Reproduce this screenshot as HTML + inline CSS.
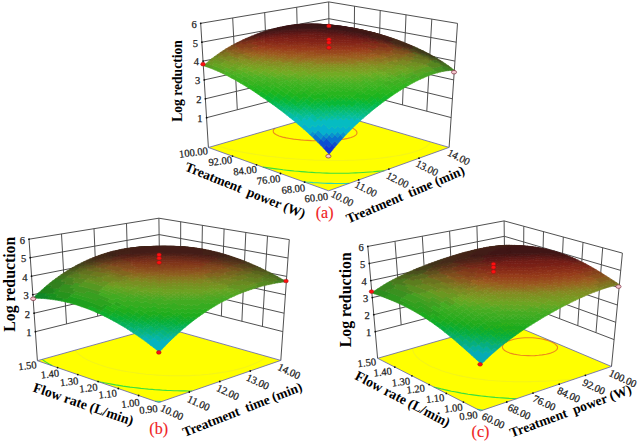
<!DOCTYPE html><html><head><meta charset="utf-8"><style>
html,body{margin:0;padding:0;background:#fff;width:637px;height:441px;overflow:hidden}
svg{display:block}
text{font-family:"Liberation Serif",serif}
</style></head><body>
<svg width="637" height="441" viewBox="0 0 637 441">
<path d="M206.6,117.7L329.6,85.8L451.2,117.6M205.4,98.8L329.4,69L452.4,98.8M204.3,79.9L329.2,52.2L453.7,79.9M203.1,61.1L329,35.4L455,61.1M201.9,42.2L328.9,18.7L456.3,42.2M200.7,23.3L328.7,1.9L457.5,23.4M237.3,109.7L232.7,18M268.1,101.7L264.7,12.6M298.8,93.7L296.7,7.3M426.8,111.2L431.8,19.1M402.5,104.9L406,14.8M378.2,98.5L380.2,10.5M353.9,92.1L354.5,6.2M208.4,147.5L200.7,23.3M329.8,112.3L328.7,1.9M449.1,147.4L457.5,23.4" stroke="#474747" stroke-width="0.95" fill="none"/>
<polygon points="328.6,190.8 449.1,147.4 329.8,112.3 208.4,147.5" fill="#ffff00"/>
<polyline points="349.2,183.4 345.6,183.5 342.1,183.5 338.5,183.5 334.8,183.5 331.1,183.4 327.7,183.4 324.4,183.2 320.2,183 317.1,182.8 313.1,182.6 309.8,182.3 306.2,182 303.5,181.7" fill="none" stroke="#28d8b0" stroke-width="1.1"/>
<polyline points="384.5,170.7 381,171 377.1,171.4 373.3,171.8 370.2,172 366.1,172.3 363,172.5 358.9,172.8 355.5,172.9 352.2,173 348.3,173.2 344.6,173.2 340.9,173.3 337.3,173.3 333.8,173.2 330.4,173.2 326.8,173.1 322.8,173 319.4,172.8 316,172.7 312,172.4 308.7,172.2 304.9,171.9 301.1,171.6 298,171.3 294.2,171 290.4,170.6 286.7,170.2 283,169.8 279.5,169.3 276,168.9 272.3,168.4 268.6,167.9 265,167.4 262.8,167.1" fill="none" stroke="#3ce03c" stroke-width="1.1"/>
<polyline points="429.8,141.7 429.6,142.8 428.9,144.1 428,145.2 426.5,146.5 424.8,147.6 422.4,148.8 419.1,150.2 415.4,151.5 411.4,152.7 407.9,153.6 404.2,154.4 401,155.1 397.1,155.8 393.7,156.3 390,156.9 386.2,157.4 382.6,157.9 379.2,158.3 375.7,158.7 371.8,159 368.1,159.3 364.8,159.6 360.9,159.8 357.5,160 354,160.2 350,160.3 346.4,160.4 343,160.5 339.5,160.5 335.9,160.5 332.2,160.5 328.5,160.5 324.7,160.4 321.3,160.3 317.9,160.2 314.1,160.1 310.4,159.9 307.1,159.7 303.1,159.5 299.9,159.3 296,159 292.4,158.7 289.1,158.4 285.2,158.1 281.4,157.7 277.9,157.3 274.5,156.9 271,156.5 267.4,156.1 263.7,155.6 259.9,155 256.1,154.5 252.7,153.9 249.3,153.4 245.2,152.7 242,152.1 238.1,151.3 234.8,150.6 231.3,149.8 227.6,148.9 224,147.9 220.2,146.8 216.4,145.5 215.9,145.3" fill="none" stroke="#f4f418" stroke-width="1.1"/>
<polyline points="299,121.2 302.8,120.8 306.2,120.6 310.3,120.4 313.8,120.4 317.5,120.5 320.6,120.6 324.5,120.9 328,121.3 331.5,121.8 335.1,122.4 338.7,123.1 342.6,124.1 346.1,125.2 349.1,126.3 351.5,127.5 353.3,128.5 355,129.6 356.1,130.7 356.8,131.8 357,132.9 356.7,134.1 355.8,135.1 353.7,136.4 351,137.5 347.8,138.4 344,139.1 340.4,139.7 336.7,140.1 333.3,140.3 329.2,140.6 326,140.7 322.5,140.8 318.8,140.8 315.3,140.7 311.4,140.6 307.7,140.4 304.3,140.2 300.7,139.9 297,139.5 293.5,139.1 289.8,138.5 286.3,137.9 282.7,137.1 279,135.9 276.4,134.8 274.4,133.5 273.5,132.4 273.2,131.3 273.4,130.1 274.1,129.2 275.3,128.1 275.3,128.1" fill="none" stroke="#ec8a1c" stroke-width="1.1"/>
<polygon points="328.6,190.8 449.1,147.4 329.8,112.3 208.4,147.5" fill="none" stroke="#6060a8" stroke-width="0.8"/>
<circle cx="206.6" cy="117.7" r="0.9" fill="#111"/>
<circle cx="205.4" cy="98.8" r="0.9" fill="#111"/>
<circle cx="204.3" cy="79.9" r="0.9" fill="#111"/>
<circle cx="203.1" cy="61.1" r="0.9" fill="#111"/>
<circle cx="201.9" cy="42.2" r="0.9" fill="#111"/>
<circle cx="200.7" cy="23.3" r="0.9" fill="#111"/>
<circle cx="358.7" cy="179.9" r="0.9" fill="#111"/>
<circle cx="388.9" cy="169.1" r="0.9" fill="#111"/>
<circle cx="419" cy="158.2" r="0.9" fill="#111"/>
<circle cx="304.6" cy="182.1" r="0.9" fill="#111"/>
<circle cx="280.5" cy="173.5" r="0.9" fill="#111"/>
<circle cx="256.5" cy="164.8" r="0.9" fill="#111"/>
<circle cx="232.5" cy="156.1" r="0.9" fill="#111"/>
<path d="M329.1 154.3l2.8-3.5-2.8-3.1-2.8 3.5zM326.3 151.2l2.8-3.5-2.7-3-2.8 3.5zM331.9 150.8l2.8-3.5-2.7-3.1-2.9 3.5z" fill="#0f36d2" stroke="#0f36d2" stroke-width="0.6"/>
<path d="M323.6 148.2l2.8-3.5-2.8-2.9-2.8 3.5zM320.8 145.3l2.8-3.5-2.8-2.9-2.8 3.6zM329.1 147.7l2.9-3.5-2.8-3-2.8 3.5zM326.4 144.7l2.8-3.5-2.8-2.9-2.8 3.5zM334.7 147.3l2.9-3.3-2.8-3.1-2.8 3.3z" fill="#0c4ed2" stroke="#0c4ed2" stroke-width="0.6"/>
<path d="M318 142.5l2.8-3.6-2.8-2.7-2.8 3.5zM315.2 139.7l2.8-3.5-2.8-2.7-2.8 3.5zM323.6 141.8l2.8-3.5-2.8-2.8-2.8 3.4zM332 144.2l2.8-3.3-2.8-3-2.8 3.3zM329.2 141.2l2.8-3.3-2.8-2.9-2.8 3.3zM337.6 144l2.8-3.2-2.8-3.1-2.8 3.2zM334.8 140.9l2.8-3.2-2.8-3-2.8 3.2zM340.4 140.8l2.8-3.1-2.8-3.1-2.8 3.1z" fill="#0972d2" stroke="#0972d2" stroke-width="0.6"/>
<path d="M312.4 137l2.8-3.5-2.8-2.6-2.8 3.5zM320.8 138.9l2.8-3.4-2.8-2.7-2.8 3.4zM318 136.2l2.8-3.4-2.8-2.7-2.8 3.4zM326.4 138.3l2.8-3.3-2.8-2.8-2.8 3.3zM332 137.9l2.8-3.2-2.7-2.9-2.9 3.2zM337.6 137.7l2.8-3.1-2.7-3-2.9 3.1zM343.2 137.7l2.9-3.1-2.8-3-2.9 3z" fill="#0792d1" stroke="#0792d1" stroke-width="0.6"/>
<path d="M309.6 134.4l2.8-3.5-2.8-2.6-2.8 3.5zM306.8 131.8l2.8-3.5-2.8-2.5-2.8 3.5zM304 129.3l2.8-3.5-2.8-2.4-2.8 3.5zM315.2 133.5l2.8-3.4-2.8-2.6-2.8 3.4zM312.4 130.9l2.8-3.4-2.8-2.6-2.8 3.4zM323.6 135.5l2.8-3.3-2.8-2.7-2.8 3.3zM320.8 132.8l2.8-3.3-2.8-2.7-2.8 3.3zM318 130.1l2.8-3.3-2.8-2.6-2.8 3.3zM329.2 135l2.9-3.2-2.8-2.8-2.9 3.2zM326.4 132.2l2.9-3.2-2.8-2.7-2.9 3.2zM323.6 129.5l2.9-3.2-2.8-2.7-2.9 3.2zM334.8 134.7l2.9-3.1-2.8-2.9-2.8 3.1zM332.1 131.8l2.8-3.1-2.8-2.8-2.8 3.1zM340.4 134.6l2.9-3-2.8-3-2.8 3zM337.7 131.6l2.8-3-2.8-2.9-2.8 3zM346.1 134.6l2.8-2.9-2.8-3-2.8 2.9zM343.3 131.6l2.8-2.9-2.8-3-2.8 2.9zM348.9 131.7l2.8-2.8-2.7-3.1-2.9 2.9z" fill="#05b1cf" stroke="#05b1cf" stroke-width="0.6"/>
<path d="M301.2 126.9l2.8-3.5-2.9-2.4-2.8 3.5zM298.3 124.5l2.8-3.5-2.8-2.4-2.8 3.5zM295.5 122.1l2.8-3.5-2.8-2.3-2.8 3.5zM309.6 128.3l2.8-3.4-2.8-2.5-2.8 3.4zM306.8 125.8l2.8-3.4-2.8-2.4-2.8 3.4zM304 123.4l2.8-3.4-2.9-2.4-2.8 3.4zM315.2 127.5l2.8-3.3-2.8-2.5-2.8 3.2zM312.4 124.9l2.8-3.2-2.8-2.5-2.8 3.2zM309.6 122.4l2.8-3.2-2.8-2.4-2.8 3.2zM320.8 126.8l2.9-3.2-2.8-2.6-2.9 3.2zM318 124.2l2.9-3.2-2.9-2.5-2.8 3.2zM329.3 129l2.8-3.1-2.8-2.7-2.8 3.1zM326.5 126.3l2.8-3.1-2.8-2.6-2.8 3zM323.7 123.6l2.8-3-2.8-2.6-2.8 3zM334.9 128.7l2.8-3-2.8-2.8-2.8 3zM332.1 125.9l2.8-3-2.8-2.7-2.8 3zM329.3 123.2l2.8-3-2.8-2.6-2.8 3zM340.5 128.6l2.8-2.9-2.7-2.9-2.9 2.9zM337.7 125.7l2.9-2.9-2.8-2.7-2.9 2.8zM334.9 122.9l2.9-2.8-2.8-2.7-2.9 2.8zM346.1 128.7l2.9-2.9-2.8-2.9-2.9 2.8zM343.3 125.7l2.9-2.8-2.8-2.9-2.8 2.8zM340.6 122.8l2.8-2.8-2.8-2.8-2.8 2.9zM351.7 128.9l2.9-2.8-2.8-3-2.8 2.7zM349 125.8l2.8-2.7-2.8-3-2.8 2.8zM346.2 122.9l2.8-2.8-2.8-2.8-2.8 2.7zM354.6 126.1l2.8-2.7-2.7-3-2.9 2.7zM351.8 123.1l2.9-2.7-2.8-2.9-2.9 2.6zM357.4 123.4l2.9-2.6-2.8-3-2.8 2.6z" fill="#05bcc2" stroke="#05bcc2" stroke-width="0.6"/>
<path d="M292.7 119.8l2.8-3.5-2.9-2.3-2.8 3.5zM289.8 117.5l2.8-3.5-2.8-2.2-2.8 3.4zM301.1 121l2.8-3.4-2.8-2.3-2.8 3.3zM298.3 118.6l2.8-3.3-2.8-2.3-2.8 3.3zM306.8 120l2.8-3.2-2.8-2.4-2.9 3.2zM315.2 121.7l2.8-3.2-2.8-2.4-2.8 3.1zM312.4 119.2l2.8-3.1-2.8-2.5-2.8 3.2zM320.9 121l2.8-3-2.8-2.5-2.9 3zM326.5 120.6l2.8-3-2.8-2.6-2.8 3zM332.1 120.2l2.9-2.8-2.8-2.7-2.9 2.9zM337.8 120.1l2.8-2.9-2.8-2.6-2.8 2.8zM343.4 120l2.8-2.7-2.7-2.8-2.9 2.7zM349 120.1l2.9-2.6-2.8-2.9-2.9 2.7zM354.7 120.4l2.8-2.6-2.8-2.9-2.8 2.6zM360.3 120.8l2.8-2.5-2.7-3-2.9 2.5z" fill="#05bda4" stroke="#05bda4" stroke-width="0.6"/>
<path d="M287 115.2l2.8-3.4-2.9-2.2-2.8 3.4zM295.5 116.3l2.8-3.3-2.9-2.3-2.8 3.3zM303.9 117.6l2.9-3.2-2.9-2.3-2.8 3.2zM309.6 116.8l2.8-3.2-2.8-2.3-2.8 3.1zM318 118.5l2.9-3-2.9-2.5-2.8 3.1zM323.7 118l2.8-3-2.8-2.5-2.8 3zM329.3 117.6l2.9-2.9-2.8-2.5-2.9 2.8zM335 117.4l2.8-2.8-2.8-2.6-2.8 2.7zM340.6 117.2l2.9-2.7-2.8-2.6-2.9 2.7zM346.2 117.3l2.9-2.7-2.8-2.7-2.8 2.6zM351.9 117.5l2.8-2.6-2.8-2.8-2.8 2.5zM357.5 117.8l2.9-2.5-2.8-2.9-2.9 2.5zM363.1 118.3l2.9-2.5-2.8-3-2.8 2.5z" fill="#05bd8f" stroke="#05bd8f" stroke-width="0.6"/>
<path d="M284.1 113l2.8-3.4-2.8-2.2-2.8 3.4zM292.6 114l2.8-3.3-2.8-2.2-2.8 3.3zM301.1 115.3l2.8-3.2-2.8-2.3-2.8 3.2zM306.8 114.4l2.8-3.1-2.9-2.3-2.8 3.1zM315.2 116.1l2.8-3.1-2.8-2.4-2.8 3zM320.9 115.5l2.8-3-2.8-2.4-2.9 2.9zM326.5 115l2.9-2.8-2.9-2.5-2.8 2.8zM332.2 114.7l2.8-2.7-2.8-2.6-2.8 2.8zM337.8 114.6l2.9-2.7-2.9-2.6-2.8 2.7zM343.5 114.5l2.8-2.6-2.8-2.7-2.8 2.7zM349.1 114.6l2.8-2.5-2.8-2.8-2.8 2.6zM354.7 114.9l2.9-2.5-2.8-2.8-2.9 2.5zM360.4 115.3l2.8-2.5-2.8-2.9-2.8 2.5zM366 115.8l2.8-2.4-2.7-3-2.9 2.4z" fill="#05bc7d" stroke="#05bc7d" stroke-width="0.6"/>
<path d="M281.3 110.8l2.8-3.4-2.9-2.1-2.8 3.4zM289.8 111.8l2.8-3.3-2.9-2.2-2.8 3.3zM298.3 113l2.8-3.2-2.9-2.2-2.8 3.1zM303.9 112.1l2.8-3.1-2.8-2.3-2.8 3.1zM312.4 113.6l2.8-3-2.8-2.3-2.8 3zM318 113l2.9-2.9-2.9-2.4-2.8 2.9zM363.2 112.8l2.9-2.4-2.8-2.9-2.9 2.4zM368.8 113.4l2.9-2.4-2.8-3-2.8 2.4z" fill="#05b970" stroke="#05b970" stroke-width="0.6"/>
<path d="M278.4 108.7l2.8-3.4-2.8-2.1-2.8 3.3zM286.9 109.6l2.8-3.3-2.8-2.1-2.8 3.2zM295.4 110.7l2.8-3.1-2.8-2.2-2.8 3.1zM309.6 111.3l2.8-3-2.9-2.3-2.8 3zM323.7 112.5l2.8-2.8-2.8-2.4-2.8 2.8zM329.4 112.2l2.8-2.8-2.8-2.5-2.9 2.8zM335 112l2.8-2.7-2.8-2.6-2.8 2.7zM340.7 111.9l2.8-2.7-2.8-2.6-2.9 2.7zM346.3 111.9l2.8-2.6-2.8-2.6-2.8 2.5zM351.9 112.1l2.9-2.5-2.8-2.8-2.9 2.5zM357.6 112.4l2.8-2.5-2.8-2.8-2.8 2.5zM371.7 111l2.8-2.3-2.7-3-2.9 2.3z" fill="#05bb64" stroke="#05bb64" stroke-width="0.6"/>
<path d="M275.6 106.5l2.8-3.3-2.9-2.1-2.8 3.3zM284.1 107.4l2.8-3.2-2.9-2.1-2.8 3.2zM292.6 108.5l2.8-3.1-2.9-2.2-2.8 3.1zM301.1 109.8l2.8-3.1-2.9-2.2-2.8 3.1zM306.7 109l2.8-3-2.8-2.2-2.8 2.9zM315.2 110.6l2.8-2.9-2.8-2.3-2.8 2.9zM320.9 110.1l2.8-2.8-2.8-2.4-2.9 2.8zM326.5 109.7l2.9-2.8-2.9-2.4-2.8 2.8zM332.2 109.4l2.8-2.7-2.8-2.4-2.8 2.6zM337.8 109.3l2.9-2.7-2.8-2.5-2.9 2.6zM343.5 109.2l2.8-2.5-2.8-2.6-2.8 2.5zM349.1 109.3l2.9-2.5-2.8-2.6-2.9 2.5zM354.8 109.6l2.8-2.5-2.7-2.7-2.9 2.4zM360.4 109.9l2.9-2.4-2.8-2.8-2.9 2.4zM366.1 110.4l2.8-2.4-2.8-2.8-2.8 2.3zM374.5 108.7l2.9-2.3-2.8-2.9-2.8 2.2z" fill="#05ba55" stroke="#05ba55" stroke-width="0.6"/>
<path d="M272.7 104.4l2.8-3.3-2.9-2-2.7 3.3zM281.2 105.3l2.8-3.2-2.8-2.1-2.8 3.2zM289.7 106.3l2.8-3.1-2.8-2.1-2.8 3.1zM298.2 107.6l2.8-3.1-2.8-2.2-2.8 3.1zM303.9 106.7l2.8-2.9-2.8-2.2-2.9 2.9zM312.4 108.3l2.8-2.9-2.8-2.3-2.9 2.9zM318 107.7l2.9-2.8-2.9-2.3-2.8 2.8zM323.7 107.3l2.8-2.8-2.8-2.3-2.8 2.7zM357.6 107.1l2.9-2.4-2.8-2.7-2.8 2.4zM363.3 107.5l2.8-2.3-2.7-2.8-2.9 2.3zM368.9 108l2.9-2.3-2.8-2.8-2.9 2.3zM377.4 106.4l2.9-2.2-2.8-2.9-2.9 2.2z" fill="#05b847" stroke="#05b847" stroke-width="0.6"/>
<path d="M269.9 102.4l2.7-3.3-2.8-2-2.8 3.2zM267 100.3l2.8-3.2-2.9-2-2.8 3.2zM278.4 103.2l2.8-3.2-2.9-2-2.8 3.1zM275.5 101.1l2.8-3.1-2.9-2.1-2.8 3.2zM286.9 104.2l2.8-3.1-2.9-2.1-2.8 3.1zM284 102.1l2.8-3.1-2.9-2.1-2.7 3.1zM295.4 105.4l2.8-3.1-2.9-2.1-2.8 3zM292.5 103.2l2.8-3-2.8-2.1-2.8 3zM301 104.5l2.9-2.9-2.9-2.2-2.8 2.9zM309.5 106l2.9-2.9-2.9-2.2-2.8 2.9zM306.7 103.8l2.8-2.9-2.8-2.2-2.8 2.9zM315.2 105.4l2.8-2.8-2.8-2.3-2.8 2.8zM320.9 104.9l2.8-2.7-2.8-2.3-2.9 2.7zM329.4 106.9l2.8-2.6-2.8-2.4-2.9 2.6zM326.5 104.5l2.9-2.6-2.9-2.3-2.8 2.6zM335 106.7l2.9-2.6-2.8-2.4-2.9 2.6zM332.2 104.3l2.9-2.6-2.9-2.4-2.8 2.6zM340.7 106.6l2.8-2.5-2.8-2.5-2.8 2.5zM337.9 104.1l2.8-2.5-2.8-2.4-2.8 2.5zM346.3 106.7l2.9-2.5-2.8-2.5-2.9 2.4zM343.5 104.1l2.9-2.4-2.8-2.5-2.9 2.4zM352 106.8l2.9-2.4-2.9-2.6-2.8 2.4zM349.2 104.2l2.8-2.4-2.8-2.5-2.8 2.4zM354.9 104.4l2.8-2.4-2.8-2.6-2.9 2.4zM360.5 104.7l2.9-2.3-2.8-2.7-2.9 2.3zM366.1 105.2l2.9-2.3-2.8-2.7-2.8 2.2zM371.8 105.7l2.8-2.2-2.7-2.8-2.9 2.2zM374.6 103.5l2.9-2.2-2.8-2.8-2.8 2.2zM380.3 104.2l2.8-2.1-2.7-2.9-2.9 2.1z" fill="#08b837" stroke="#08b837" stroke-width="0.6"/>
<path d="M264.1 98.3l2.8-3.2-2.9-2-2.8 3.3zM261.2 96.4l2.8-3.3-2.9-1.9-2.7 3.2zM272.6 99.1l2.8-3.2-2.9-2-2.7 3.2zM269.8 97.1l2.7-3.2-2.8-1.9-2.8 3.1zM281.2 100l2.7-3.1-2.8-2-2.8 3.1zM278.3 98l2.8-3.1-2.9-2-2.8 3zM289.7 101.1l2.8-3-2.9-2.1-2.8 3zM286.8 99l2.8-3-2.9-2-2.8 2.9zM298.2 102.3l2.8-2.9-2.9-2.1-2.8 2.9zM295.3 100.2l2.8-2.9-2.8-2.1-2.8 2.9zM303.9 101.6l2.8-2.9-2.9-2.1-2.8 2.8zM312.4 103.1l2.8-2.8-2.8-2.2-2.9 2.8zM309.5 100.9l2.9-2.8-2.9-2.1-2.8 2.7zM318 102.6l2.9-2.7-2.9-2.2-2.8 2.6zM323.7 102.2l2.8-2.6-2.8-2.3-2.8 2.6zM329.4 101.9l2.8-2.6-2.8-2.3-2.9 2.6zM335.1 101.7l2.8-2.5-2.8-2.4-2.9 2.5zM340.7 101.6l2.9-2.4-2.9-2.4-2.8 2.4zM346.4 101.7l2.8-2.4-2.8-2.5-2.8 2.4zM352 101.8l2.9-2.4-2.8-2.5-2.9 2.4zM357.7 102l2.9-2.3-2.8-2.5-2.9 2.2zM363.4 102.4l2.8-2.2-2.8-2.7-2.8 2.2zM369 102.9l2.9-2.2-2.8-2.7-2.9 2.2zM371.9 100.7l2.8-2.2-2.8-2.7-2.8 2.2zM377.5 101.3l2.9-2.1-2.8-2.8-2.9 2.1zM383.1 102.1l2.9-2.1-2.8-2.9-2.8 2.1zM386 100l2.9-2-2.8-2.9-2.9 2z" fill="#12b629" stroke="#12b629" stroke-width="0.6"/>
<path d="M258.4 94.4l2.7-3.2-2.9-1.9-2.7 3.2zM255.5 92.5l2.7-3.2-2.9-1.8-2.7 3.1zM266.9 95.1l2.8-3.1-2.9-1.9-2.8 3zM264 93.1l2.8-3-2.9-1.9-2.8 3zM275.4 95.9l2.8-3-2.9-2-2.8 3zM272.5 93.9l2.8-3-2.9-1.9-2.7 3zM283.9 96.9l2.8-2.9-2.8-2-2.8 2.9zM281.1 94.9l2.8-2.9-2.9-2-2.8 2.9zM292.5 98.1l2.8-2.9-2.9-2.1-2.8 2.9zM289.6 96l2.8-2.9-2.8-2-2.9 2.9zM301 99.4l2.8-2.8-2.8-2.1-2.9 2.8zM298.1 97.3l2.9-2.8-2.9-2.1-2.8 2.8zM306.7 98.7l2.8-2.7-2.9-2.2-2.8 2.8zM303.8 96.6l2.8-2.8-2.8-2-2.8 2.7zM315.2 100.3l2.8-2.6-2.8-2.2-2.8 2.6zM312.4 98.1l2.8-2.6-2.9-2.2-2.8 2.7zM320.9 99.9l2.8-2.6-2.8-2.2-2.9 2.6zM318 97.7l2.9-2.6-2.9-2.2-2.8 2.6zM326.5 99.6l2.9-2.6-2.8-2.3-2.9 2.6zM323.7 97.3l2.9-2.6-2.9-2.2-2.8 2.6zM332.2 99.3l2.9-2.5-2.9-2.3-2.8 2.5zM337.9 99.2l2.8-2.4-2.8-2.4-2.8 2.4zM343.6 99.2l2.8-2.4-2.8-2.4-2.9 2.4zM349.2 99.3l2.9-2.4-2.8-2.4-2.9 2.3zM354.9 99.4l2.9-2.2-2.8-2.5-2.9 2.2zM360.6 99.7l2.8-2.2-2.8-2.6-2.8 2.3zM357.8 97.2l2.8-2.3-2.8-2.4-2.8 2.2zM366.2 100.2l2.9-2.2-2.8-2.7-2.9 2.2zM363.4 97.5l2.9-2.2-2.8-2.5-2.9 2.1zM369.1 98l2.8-2.2-2.8-2.6-2.8 2.1zM374.7 98.5l2.9-2.1-2.8-2.7-2.9 2.1zM380.4 99.2l2.8-2.1-2.7-2.7-2.9 2zM377.6 96.4l2.9-2-2.8-2.7-2.9 2zM383.2 97.1l2.9-2-2.8-2.7-2.8 2zM388.9 98l2.8-2-2.7-2.9-2.9 2zM391.7 96l2.9-2-2.8-2.8-2.8 1.9z" fill="#1db51e" stroke="#1db51e" stroke-width="0.6"/>
<path d="M252.6 90.6l2.7-3.1-2.8-1.9-2.8 3.1zM249.7 88.7l2.8-3.1-2.9-1.7-2.8 3zM261.1 91.2l2.8-3-2.9-1.9-2.8 3zM258.2 89.3l2.8-3-2.9-1.8-2.8 3zM269.7 92l2.7-3-2.8-1.9-2.8 3zM266.8 90.1l2.8-3-2.9-1.9-2.8 3zM278.2 92.9l2.8-2.9-2.9-1.9-2.8 2.8zM275.3 90.9l2.8-2.8-2.9-1.9-2.8 2.8zM286.7 94l2.9-2.9-2.9-2-2.8 2.9zM283.9 92l2.8-2.9-2.9-1.9-2.8 2.8zM295.3 95.2l2.8-2.8-2.9-2-2.8 2.7zM292.4 93.1l2.8-2.7-2.8-2-2.8 2.7zM301 94.5l2.8-2.7-2.9-2.1-2.8 2.7zM309.5 96l2.8-2.7-2.8-2.1-2.9 2.6zM306.6 93.8l2.9-2.6-2.9-2.1-2.8 2.7zM315.2 95.5l2.8-2.6-2.8-2.1-2.9 2.5zM320.9 95.1l2.8-2.6-2.8-2.1-2.9 2.5zM329.4 97l2.8-2.5-2.8-2.2-2.8 2.4zM326.6 94.7l2.8-2.4-2.8-2.2-2.9 2.4zM335.1 96.8l2.8-2.4-2.8-2.3-2.9 2.4zM332.2 94.5l2.9-2.4-2.9-2.2-2.8 2.4zM340.7 96.8l2.9-2.4-2.8-2.3-2.9 2.3zM337.9 94.4l2.9-2.3-2.9-2.3-2.8 2.3zM346.4 96.8l2.9-2.3-2.8-2.4-2.9 2.3zM343.6 94.4l2.9-2.3-2.9-2.3-2.8 2.3zM352.1 96.9l2.9-2.2-2.9-2.5-2.8 2.3zM349.3 94.5l2.8-2.3-2.8-2.3-2.8 2.2zM355 94.7l2.8-2.2-2.8-2.4-2.9 2.1zM360.6 94.9l2.9-2.1-2.8-2.5-2.9 2.2zM366.3 95.3l2.8-2.1-2.8-2.5-2.8 2.1zM371.9 95.8l2.9-2.1-2.8-2.6-2.9 2.1zM369.1 93.2l2.9-2.1-2.8-2.5-2.9 2.1zM374.8 93.7l2.9-2-2.8-2.6-2.9 2zM380.5 94.4l2.8-2-2.8-2.7-2.8 2zM386.1 95.1l2.9-2-2.8-2.7-2.9 2zM383.3 92.4l2.9-2-2.8-2.6-2.9 1.9zM389 93.1l2.8-1.9-2.7-2.7-2.9 1.9zM394.6 94l2.9-1.9-2.8-2.7-2.9 1.8zM397.5 92.1l2.8-1.8-2.7-2.8-2.9 1.9z" fill="#28b51e" stroke="#28b51e" stroke-width="0.6"/>
<path d="M246.8 86.9l2.8-3-2.9-1.8-2.8 3zM243.9 85.1l2.8-3-2.9-1.7-2.8 3zM255.3 87.5l2.8-3-2.9-1.8-2.7 2.9zM263.9 88.2l2.8-3-2.9-1.8-2.8 2.9zM272.4 89l2.8-2.8-2.8-1.9-2.8 2.8zM281 90l2.8-2.8-2.9-1.9-2.8 2.8zM289.6 91.1l2.8-2.7-2.9-2-2.8 2.7zM286.7 89.1l2.8-2.7-2.9-1.9-2.8 2.7zM298.1 92.4l2.8-2.7-2.8-2-2.9 2.7zM295.2 90.4l2.9-2.7-2.9-2-2.8 2.7zM303.8 91.8l2.8-2.7-2.8-2-2.9 2.6zM312.3 93.3l2.9-2.5-2.9-2.1-2.8 2.5zM309.5 91.2l2.8-2.5-2.8-2.1-2.9 2.5zM318 92.9l2.9-2.5-2.9-2.1-2.8 2.5zM323.7 92.5l2.9-2.4-2.9-2.1-2.8 2.4zM329.4 92.3l2.8-2.4-2.8-2.2-2.8 2.4zM335.1 92.1l2.8-2.3-2.8-2.2-2.9 2.3zM340.8 92.1l2.8-2.3-2.8-2.2-2.9 2.2zM346.5 92.1l2.8-2.2-2.8-2.3-2.9 2.2zM352.1 92.2l2.9-2.1-2.8-2.4-2.9 2.2zM357.8 92.5l2.9-2.2-2.8-2.4-2.9 2.2zM363.5 92.8l2.8-2.1-2.8-2.5-2.8 2.1zM366.3 90.7l2.9-2.1-2.8-2.4-2.9 2zM372 91.1l2.9-2-2.8-2.5-2.9 2zM377.7 91.7l2.8-2-2.8-2.5-2.8 1.9zM380.5 89.7l2.9-1.9-2.8-2.5-2.9 1.9zM386.2 90.4l2.9-1.9-2.8-2.6-2.9 1.9zM391.8 91.2l2.9-1.8-2.8-2.7-2.8 1.8zM394.7 89.4l2.9-1.9-2.8-2.6-2.9 1.8zM400.3 90.3l2.9-1.8-2.8-2.7-2.8 1.7zM403.2 88.5l2.9-1.7-2.8-2.7-2.9 1.7zM406.1 86.8l2.8-1.6-2.7-2.7-2.9 1.6z" fill="#31b41f" stroke="#31b41f" stroke-width="0.6"/>
<path d="M241 83.4l2.8-3-2.9-1.7-2.8 3zM238.1 81.7l2.8-3-2.9-1.6-2.8 2.9zM252.5 85.6l2.7-2.9-2.9-1.8-2.7 3zM249.6 83.9l2.7-3-2.9-1.7-2.7 2.9zM261 86.3l2.8-2.9-2.9-1.8-2.8 2.9zM258.1 84.5l2.8-2.9-2.9-1.8-2.8 2.9zM269.6 87.1l2.8-2.8-2.9-1.9-2.8 2.8zM266.7 85.2l2.8-2.8-2.9-1.8-2.8 2.8zM278.1 88.1l2.8-2.8-2.9-1.9-2.8 2.8zM275.2 86.2l2.8-2.8-2.8-1.8-2.8 2.7zM283.8 87.2l2.8-2.7-2.9-1.9-2.8 2.7zM292.4 88.4l2.8-2.7-2.9-1.9-2.8 2.6zM300.9 89.7l2.9-2.6-2.9-2-2.8 2.6zM298.1 87.7l2.8-2.6-2.9-1.9-2.8 2.5zM306.6 89.1l2.9-2.5-2.9-2-2.8 2.5zM315.2 90.8l2.8-2.5-2.9-2.1-2.8 2.5zM312.3 88.7l2.8-2.5-2.8-2-2.8 2.4zM320.9 90.4l2.8-2.4-2.9-2.1-2.8 2.4zM326.6 90.1l2.8-2.4-2.8-2.1-2.9 2.4zM332.2 89.9l2.9-2.3-2.8-2.1-2.9 2.2zM337.9 89.8l2.9-2.2-2.9-2.2-2.8 2.2zM343.6 89.8l2.9-2.2-2.9-2.2-2.8 2.2zM349.3 89.9l2.9-2.2-2.9-2.3-2.8 2.2zM355 90.1l2.9-2.2-2.9-2.3-2.8 2.1zM360.7 90.3l2.8-2.1-2.8-2.3-2.8 2zM369.2 88.6l2.9-2-2.8-2.4-2.9 2zM374.9 89.1l2.8-1.9-2.8-2.5-2.8 1.9zM383.4 87.8l2.9-1.9-2.8-2.5-2.9 1.9zM389.1 88.5l2.8-1.8-2.7-2.6-2.9 1.8zM391.9 86.7l2.9-1.8-2.8-2.6-2.8 1.8zM397.6 87.5l2.8-1.7-2.7-2.6-2.9 1.7zM400.4 85.8l2.9-1.7-2.8-2.6-2.8 1.7zM408.9 85.2l2.9-1.6-2.7-2.7-2.9 1.6z" fill="#39b320" stroke="#39b320" stroke-width="0.6"/>
<path d="M235.2 80l2.8-2.9-2.9-1.6-2.8 2.9zM232.3 78.4l2.8-2.9-2.9-1.5-2.8 2.9zM246.7 82.1l2.7-2.9-2.9-1.7-2.7 2.9zM243.8 80.4l2.7-2.9-2.9-1.6-2.7 2.8zM386.3 85.9l2.9-1.8-2.8-2.5-2.9 1.8zM389.2 84.1l2.8-1.8-2.8-2.4-2.8 1.7zM394.8 84.9l2.9-1.7-2.8-2.6-2.9 1.7zM397.7 83.2l2.8-1.7-2.7-2.5-2.9 1.6zM403.3 84.1l2.9-1.6-2.8-2.6-2.9 1.6zM406.2 82.5l2.9-1.6-2.8-2.5-2.9 1.5zM411.8 83.6l2.9-1.6-2.8-2.6-2.8 1.5zM409.1 80.9l2.8-1.5-2.7-2.5-2.9 1.5zM414.7 82l2.8-1.4-2.7-2.6-2.9 1.4zM417.5 80.6l2.9-1.4-2.8-2.5-2.8 1.3z" fill="#40ae21" stroke="#40ae21" stroke-width="0.6"/>
<path d="M229.4 76.9l2.8-2.9-2.9-1.5-2.8 2.8zM226.5 75.3l2.8-2.8-2.9-1.4-2.8 2.8zM240.9 78.7l2.7-2.8-2.9-1.6-2.7 2.8zM238 77.1l2.7-2.8-2.9-1.5-2.7 2.7zM252.3 80.9l2.8-2.8-2.9-1.7-2.8 2.8zM249.4 79.2l2.8-2.8-2.9-1.6-2.8 2.7zM260.9 81.6l2.8-2.7-2.9-1.8-2.8 2.7zM258 79.8l2.8-2.7-2.9-1.7-2.8 2.7zM269.5 82.4l2.8-2.7-2.9-1.7-2.8 2.6zM266.6 80.6l2.8-2.6-2.9-1.8-2.8 2.7zM278 83.4l2.9-2.6-2.9-1.9-2.8 2.7zM275.2 81.6l2.8-2.7-2.9-1.7-2.8 2.5zM283.7 82.6l2.9-2.6-2.9-1.8-2.8 2.6zM292.3 83.8l2.8-2.5-2.8-1.9-2.9 2.5zM300.9 85.1l2.8-2.4-2.9-2-2.8 2.5zM298 83.2l2.8-2.5-2.8-1.8-2.9 2.4zM306.6 84.6l2.8-2.4-2.8-1.9-2.9 2.4zM312.3 84.2l2.8-2.4-2.8-1.9-2.9 2.3zM320.8 85.9l2.9-2.3-2.9-2.1-2.8 2.3zM318 83.8l2.8-2.3-2.8-1.9-2.9 2.2zM326.6 85.6l2.8-2.2-2.9-2.1-2.8 2.3zM332.3 85.5l2.8-2.3-2.8-2-2.9 2.2zM337.9 85.4l2.9-2.2-2.8-2.1-2.9 2.1zM343.6 85.4l2.9-2.2-2.8-2.1-2.9 2.1zM349.3 85.4l2.9-2-2.8-2.2-2.9 2zM355 85.6l2.9-2-2.8-2.3-2.9 2.1zM360.7 85.9l2.9-2-2.8-2.3-2.9 2zM363.6 83.9l2.9-2-2.9-2.3-2.8 2zM369.3 84.2l2.8-1.9-2.8-2.3-2.8 1.9zM374.9 84.7l2.9-1.9-2.8-2.3-2.9 1.8zM377.8 82.8l2.9-1.8-2.8-2.3-2.9 1.8zM383.5 83.4l2.9-1.8-2.8-2.4-2.9 1.8zM392 82.3l2.9-1.7-2.8-2.4-2.9 1.7zM400.5 81.5l2.9-1.6-2.8-2.5-2.8 1.6zM403.4 79.9l2.9-1.5-2.8-2.5-2.9 1.5z" fill="#48b223" stroke="#48b223" stroke-width="0.6"/>
<path d="M223.6 73.9l2.8-2.8-2.9-1.3-2.8 2.7zM220.7 72.5l2.8-2.7-2.9-1.3-2.8 2.7zM217.8 71.2l2.8-2.7-2.9-1.2-2.8 2.7zM214.9 70l2.8-2.7-2.9-1.1-2.8 2.6zM232.2 74l2.7-2.7-2.9-1.4-2.7 2.6zM389.2 79.9l2.9-1.7-2.8-2.3-2.9 1.6zM397.8 79l2.8-1.6-2.8-2.3-2.8 1.5zM400.6 77.4l2.9-1.5-2.8-2.3-2.9 1.5zM406.3 78.4l2.9-1.5-2.8-2.4-2.9 1.4zM409.2 76.9l2.8-1.4-2.8-2.4-2.8 1.4zM412 75.5l2.9-1.3-2.8-2.4-2.9 1.3zM417.6 76.7l2.9-1.3-2.8-2.4-2.8 1.2zM420.5 75.4l2.9-1.2-2.8-2.4-2.9 1.2zM423.4 74.2l2.8-1.1-2.7-2.4-2.9 1.1z" fill="#52a822" stroke="#52a822" stroke-width="0.6"/>
<path d="M212 68.8l2.8-2.6-2.9-1-2.8 2.5zM209.1 67.7l2.8-2.5-2.9-1-2.7 2.5zM206.3 66.7l2.7-2.5-2.9-.8-2.7 2.4zM414.9 74.2l2.8-1.2-2.7-2.4-2.9 1.2zM417.7 73l2.9-1.2-2.8-2.3-2.8 1.1zM420.6 71.8l2.9-1.1-2.8-2.2-2.9 1zM426.2 73.1l2.9-1-2.8-2.3-2.8 .9zM423.5 70.7l2.8-.9-2.8-2.3-2.8 1zM429.1 72.1l2.8-.9-2.8-2.3-2.8 .9zM426.3 69.8l2.8-.9-2.7-2.2-2.9 .8zM431.9 71.2l2.9-.8-2.8-2.3-2.9 .8zM429.1 68.9l2.9-.8-2.8-2.1-2.8 .7z" fill="#599e22" stroke="#599e22" stroke-width="0.6"/>
<path d="M235.1 75.5l2.7-2.7-2.9-1.5-2.7 2.7zM246.5 77.5l2.8-2.7-2.9-1.6-2.8 2.7zM243.6 75.9l2.8-2.7-2.9-1.6-2.8 2.7zM255.1 78.1l2.8-2.7-2.9-1.6-2.8 2.6zM263.7 78.9l2.8-2.7-2.9-1.7-2.8 2.6zM272.3 79.7l2.8-2.5-2.9-1.8-2.8 2.6zM280.9 80.8l2.8-2.6-2.9-1.8-2.8 2.5zM289.4 81.9l2.9-2.5-2.9-1.8-2.8 2.4zM295.1 81.3l2.9-2.4-2.9-1.9-2.8 2.4zM303.7 82.7l2.9-2.4-2.9-1.9-2.9 2.3zM309.4 82.2l2.9-2.3-2.9-1.9-2.8 2.3zM315.1 81.8l2.9-2.2-2.9-2-2.8 2.3zM323.7 83.6l2.8-2.3-2.8-2-2.9 2.2zM329.4 83.4l2.9-2.2-2.9-2.1-2.9 2.2zM335.1 83.2l2.9-2.1-2.9-2.1-2.8 2.2zM340.8 83.2l2.9-2.1-2.9-2.1-2.8 2.1zM346.5 83.2l2.9-2-2.9-2.1-2.8 2zM352.2 83.4l2.9-2.1-2.9-2.1-2.8 2zM357.9 83.6l2.9-2-2.9-2.2-2.8 1.9zM366.5 81.9l2.8-1.9-2.8-2.2-2.9 1.8zM372.1 82.3l2.9-1.8-2.8-2.3-2.9 1.8zM380.7 81l2.9-1.8-2.8-2.3-2.9 1.8zM386.4 81.6l2.8-1.7-2.8-2.4-2.8 1.7zM394.9 80.6l2.9-1.6-2.8-2.4-2.9 1.6z" fill="#50b223" stroke="#50b223" stroke-width="0.6"/>
<path d="M229.3 72.5l2.7-2.6-2.9-1.4-2.7 2.6zM226.4 71.1l2.7-2.6-2.9-1.3-2.7 2.6zM240.7 74.3l2.8-2.7-2.9-1.5-2.8 2.7zM237.8 72.8l2.8-2.7-2.9-1.4-2.8 2.6zM252.2 76.4l2.8-2.6-2.9-1.6-2.8 2.6zM249.3 74.8l2.8-2.6-2.9-1.6-2.8 2.6zM260.8 77.1l2.8-2.6-2.9-1.6-2.8 2.5zM269.4 78l2.8-2.6-2.9-1.7-2.8 2.5zM278 78.9l2.8-2.5-2.9-1.7-2.8 2.5zM286.6 80l2.8-2.4-2.9-1.8-2.8 2.4zM283.7 78.2l2.8-2.4-2.9-1.8-2.8 2.4zM292.3 79.4l2.8-2.4-2.9-1.8-2.8 2.4zM300.8 80.7l2.9-2.3-2.9-1.9-2.8 2.4zM306.6 80.3l2.8-2.3-2.9-1.9-2.8 2.3zM312.3 79.9l2.8-2.3-2.9-1.9-2.8 2.3zM320.8 81.5l2.9-2.2-2.9-1.9-2.8 2.2zM326.5 81.3l2.9-2.2-2.9-1.9-2.8 2.1zM332.3 81.2l2.8-2.2-2.8-2-2.9 2.1zM338 81.1l2.8-2.1-2.8-2-2.9 2zM343.7 81.1l2.8-2-2.8-2.1-2.9 2zM349.4 81.2l2.8-2-2.8-2.1-2.9 2zM355.1 81.3l2.8-1.9-2.8-2.2-2.9 2zM360.8 81.6l2.8-2-2.8-2.1-2.9 1.9zM363.6 79.6l2.9-1.8-2.8-2.2-2.9 1.9zM369.3 80l2.9-1.8-2.8-2.2-2.9 1.8zM375 80.5l2.9-1.8-2.8-2.3-2.9 1.8zM377.9 78.7l2.9-1.8-2.9-2.2-2.8 1.7zM383.6 79.2l2.8-1.7-2.8-2.3-2.8 1.7zM392.1 78.2l2.9-1.6-2.8-2.3-2.9 1.6zM403.5 75.9l2.9-1.4-2.8-2.3-2.9 1.4z" fill="#5aaf23" stroke="#5aaf23" stroke-width="0.6"/>
<path d="M223.5 69.8l2.7-2.6-2.9-1.2-2.7 2.5zM220.6 68.5l2.7-2.5-2.9-1.2-2.7 2.5zM217.7 67.3l2.7-2.5-2.9-1.1-2.7 2.5zM214.8 66.2l2.7-2.5-2.9-.9-2.7 2.4zM234.9 71.3l2.8-2.6-2.9-1.4-2.8 2.6zM232 69.9l2.8-2.6-2.9-1.3-2.8 2.5zM389.3 75.9l2.9-1.6-2.8-2.3-2.9 1.6zM395 76.6l2.8-1.5-2.8-2.3-2.8 1.5zM397.8 75.1l2.9-1.5-2.8-2.3-2.9 1.5zM400.7 73.6l2.9-1.4-2.8-2.3-2.9 1.4zM406.4 74.5l2.8-1.4-2.8-2.3-2.8 1.4zM409.2 73.1l2.9-1.3-2.8-2.2-2.9 1.2zM412.1 71.8l2.9-1.2-2.8-2.2-2.9 1.2z" fill="#64a522" stroke="#64a522" stroke-width="0.6"/>
<path d="M211.9 65.2l2.7-2.4-2.8-.9-2.8 2.3zM209 64.2l2.8-2.3-2.9-.9-2.8 2.4zM220.4 64.8l2.8-2.4-2.9-1-2.8 2.3zM217.5 63.7l2.8-2.3-2.9-1-2.8 2.4zM214.6 62.8l2.8-2.4-2.9-.8-2.7 2.3zM409.3 69.6l2.9-1.2-2.8-2.2-2.9 1.2zM415 70.6l2.8-1.1-2.8-2.2-2.8 1.1zM412.2 68.4l2.8-1.1-2.8-2.1-2.8 1zM417.8 69.5l2.9-1-2.8-2.2-2.9 1zM420.7 68.5l2.8-1-2.8-2.1-2.8 .9zM423.5 67.5l2.9-.8-2.8-2.1-2.9 .8z" fill="#6a9a22" stroke="#6a9a22" stroke-width="0.6"/>
<path d="M255.2 82.7l2.8-2.9-2.9-1.7-2.8 2.8zM263.8 83.4l2.8-2.8-2.9-1.7-2.8 2.7zM272.4 84.3l2.8-2.7-2.9-1.9-2.8 2.7zM280.9 85.3l2.8-2.7-2.8-1.8-2.9 2.6zM289.5 86.4l2.8-2.6-2.9-1.9-2.8 2.6zM286.6 84.5l2.8-2.6-2.8-1.9-2.9 2.6zM295.2 85.7l2.8-2.5-2.9-1.9-2.8 2.5zM303.8 87.1l2.8-2.5-2.9-1.9-2.8 2.4zM309.5 86.6l2.8-2.4-2.9-2-2.8 2.4zM318 88.3l2.8-2.4-2.8-2.1-2.9 2.4zM315.1 86.2l2.9-2.4-2.9-2-2.8 2.4zM323.7 88l2.9-2.4-2.9-2-2.9 2.3zM329.4 87.7l2.9-2.2-2.9-2.1-2.8 2.2zM335.1 87.6l2.8-2.2-2.8-2.2-2.8 2.3zM340.8 87.6l2.8-2.2-2.8-2.2-2.9 2.2zM346.5 87.6l2.8-2.2-2.8-2.2-2.9 2.2zM352.2 87.7l2.8-2.1-2.8-2.2-2.9 2zM357.9 87.9l2.8-2-2.8-2.3-2.9 2zM363.5 88.2l2.9-2-2.8-2.3-2.9 2zM366.4 86.2l2.9-2-2.8-2.3-2.9 2zM372.1 86.6l2.8-1.9-2.8-2.4-2.8 1.9zM377.7 87.2l2.9-1.9-2.8-2.5-2.9 1.9zM380.6 85.3l2.9-1.9-2.8-2.4-2.9 1.8z" fill="#41b422" stroke="#41b422" stroke-width="0.6"/>
<path d="M229.1 68.5l2.8-2.5-2.9-1.3-2.8 2.5zM226.2 67.2l2.8-2.5-2.9-1.2-2.8 2.5zM223.3 66l2.8-2.5-2.9-1.1-2.8 2.4zM237.7 68.7l2.8-2.5-2.9-1.3-2.8 2.4zM234.8 67.3l2.8-2.4-2.9-1.3-2.8 2.4zM246.3 69.1l2.8-2.4-2.9-1.5-2.8 2.4zM372.2 74.2l2.9-1.7-2.8-2.1-2.9 1.7zM380.8 73l2.9-1.6-2.8-2.1-2.9 1.6zM386.5 73.6l2.9-1.6-2.8-2.1-2.9 1.5zM392.2 74.3l2.8-1.5-2.8-2.2-2.8 1.4zM389.4 72l2.8-1.4-2.8-2.2-2.8 1.5zM395 72.8l2.9-1.5-2.8-2.2-2.9 1.5zM397.9 71.3l2.9-1.4-2.8-2.1-2.9 1.3zM403.6 72.2l2.8-1.4-2.7-2.2-2.9 1.3zM406.4 70.8l2.9-1.2-2.8-2.2-2.8 1.2z" fill="#6fa322" stroke="#6fa322" stroke-width="0.6"/>
<path d="M211.8 61.9l2.7-2.3-2.9-.8-2.7 2.2zM223.2 62.4l2.8-2.3-2.9-1-2.8 2.3zM220.3 61.4l2.8-2.3-2.9-.9-2.8 2.2zM217.4 60.4l2.8-2.2-2.9-.8-2.8 2.2zM214.5 59.6l2.8-2.2-2.9-.7-2.8 2.1zM400.8 66.5l2.9-1.2-2.8-2-2.9 1.1zM406.5 67.4l2.9-1.2-2.8-2-2.9 1.1zM409.4 66.2l2.8-1-2.8-2.1-2.8 1.1zM415 67.3l2.9-1-2.8-2.1-2.9 1zM412.2 65.2l2.9-1-2.8-2-2.9 .9zM417.9 66.3l2.8-.9-2.8-2.1-2.8 .9zM415.1 64.2l2.8-.9-2.8-1.9-2.8 .8zM420.7 65.4l2.9-.8-2.8-2-2.9 .7zM426.4 66.7l2.8-.7-2.8-2.1-2.8 .7z" fill="#708f21" stroke="#708f21" stroke-width="0.6"/>
<path d="M246.4 73.2l2.8-2.6-2.9-1.5-2.8 2.5zM243.5 71.6l2.8-2.5-2.9-1.5-2.8 2.5zM257.9 75.4l2.8-2.5-2.9-1.7-2.8 2.6zM255 73.8l2.8-2.6-2.9-1.5-2.8 2.5zM266.5 76.2l2.8-2.5-2.9-1.7-2.8 2.5zM263.6 74.5l2.8-2.5-2.9-1.6-2.8 2.5zM275.1 77.2l2.8-2.5-2.9-1.8-2.8 2.5zM272.2 75.4l2.8-2.5-2.9-1.6-2.8 2.4zM280.8 76.4l2.8-2.4-2.9-1.7-2.8 2.4zM289.4 77.6l2.8-2.4-2.9-1.8-2.8 2.4zM298 78.9l2.8-2.4-2.9-1.8-2.8 2.3zM295.1 77l2.8-2.3-2.9-1.8-2.8 2.3zM303.7 78.4l2.8-2.3-2.9-1.9-2.8 2.3zM309.4 78l2.8-2.3-2.8-1.8-2.9 2.2zM318 79.6l2.8-2.2-2.8-2-2.9 2.2zM315.1 77.6l2.9-2.2-2.9-1.8-2.9 2.1zM323.7 79.3l2.8-2.1-2.8-2-2.9 2.2zM329.4 79.1l2.9-2.1-2.9-1.9-2.9 2.1zM335.1 79l2.9-2-2.9-2-2.8 2zM340.8 79l2.9-2-2.9-2-2.8 2zM346.5 79.1l2.9-2-2.9-2.1-2.8 2zM352.2 79.2l2.9-2-2.8-2.1-2.9 2zM357.9 79.4l2.9-1.9-2.8-2.2-2.9 1.9zM360.8 77.5l2.9-1.9-2.9-2.1-2.8 1.8zM366.5 77.8l2.9-1.8-2.9-2.2-2.8 1.8zM372.2 78.2l2.9-1.8-2.9-2.2-2.8 1.8zM375.1 76.4l2.8-1.7-2.8-2.2-2.9 1.7zM380.8 76.9l2.8-1.7-2.8-2.2-2.9 1.7zM386.4 77.5l2.9-1.6-2.8-2.3-2.9 1.6z" fill="#65ae23" stroke="#65ae23" stroke-width="0.6"/>
<path d="M240.6 70.1l2.8-2.5-2.9-1.4-2.8 2.5zM252.1 72.2l2.8-2.5-2.9-1.6-2.8 2.5zM249.2 70.6l2.8-2.5-2.9-1.4-2.8 2.4zM260.7 72.9l2.8-2.5-2.9-1.6-2.8 2.4zM257.8 71.2l2.8-2.4-2.9-1.5-2.8 2.4zM269.3 73.7l2.8-2.4-2.9-1.7-2.8 2.4zM266.4 72l2.8-2.4-2.9-1.6-2.8 2.4zM277.9 74.7l2.8-2.4-2.9-1.7-2.8 2.3zM275 72.9l2.8-2.3-2.9-1.7-2.8 2.4zM286.5 75.8l2.8-2.4-2.9-1.7-2.8 2.3zM283.6 74l2.8-2.3-2.9-1.7-2.8 2.3zM292.2 75.2l2.8-2.3-2.9-1.8-2.8 2.3zM289.3 73.4l2.8-2.3-2.8-1.7-2.9 2.3zM300.8 76.5l2.8-2.3-2.8-1.8-2.9 2.3zM297.9 74.7l2.9-2.3-2.9-1.7-2.9 2.2zM306.5 76.1l2.9-2.2-2.9-1.8-2.9 2.1zM303.6 74.2l2.9-2.1-2.9-1.8-2.8 2.1zM312.2 75.7l2.9-2.1-2.9-1.9-2.8 2.2zM320.8 77.4l2.9-2.2-2.9-1.9-2.8 2.1zM318 75.4l2.8-2.1-2.9-1.8-2.8 2.1zM326.5 77.2l2.9-2.1-2.9-1.9-2.8 2zM323.7 75.2l2.8-2-2.8-1.9-2.9 2zM332.3 77l2.8-2-2.9-2-2.8 2.1zM329.4 75.1l2.8-2.1-2.8-1.8-2.9 2zM338 77l2.8-2-2.8-2-2.9 2zM335.1 75l2.9-2-2.9-1.9-2.9 1.9zM343.7 77l2.8-2-2.8-2-2.9 2zM340.8 75l2.9-2-2.9-1.9-2.8 1.9zM349.4 77.1l2.9-2-2.9-2-2.9 1.9zM346.5 75l2.9-1.9-2.8-2-2.9 1.9zM355.1 77.2l2.9-1.9-2.9-2-2.8 1.8zM352.3 75.1l2.8-1.8-2.8-2-2.9 1.8zM358 75.3l2.8-1.8-2.8-2-2.9 1.8zM363.7 75.6l2.8-1.8-2.8-2.1-2.9 1.8zM369.4 76l2.8-1.8-2.8-2.1-2.9 1.7zM377.9 74.7l2.9-1.7-2.8-2.1-2.9 1.6zM383.6 75.2l2.9-1.6-2.8-2.2-2.9 1.6z" fill="#71ab23" stroke="#71ab23" stroke-width="0.6"/>
<path d="M231.9 66l2.8-2.4-2.9-1.2-2.8 2.3zM229 64.7l2.8-2.3-2.9-1.2-2.8 2.3zM226.1 63.5l2.8-2.3-2.9-1.1-2.8 2.3zM240.5 66.2l2.8-2.4-2.9-1.3-2.8 2.4zM237.6 64.9l2.8-2.4-2.9-1.2-2.8 2.3zM378 70.9l2.9-1.6-2.9-2-2.8 1.5zM383.7 71.4l2.9-1.5-2.9-2.1-2.8 1.5zM386.6 69.9l2.8-1.5-2.8-2-2.9 1.4zM392.2 70.6l2.9-1.5-2.8-2.1-2.9 1.4zM395.1 69.1l2.9-1.3-2.8-2.1-2.9 1.3zM400.8 69.9l2.9-1.3-2.9-2.1-2.8 1.3zM398 67.8l2.8-1.3-2.8-2.1-2.8 1.3zM403.7 68.6l2.8-1.2-2.8-2.1-2.9 1.2z" fill="#759a22" stroke="#759a22" stroke-width="0.6"/>
<path d="M243.4 67.6l2.8-2.4-2.9-1.4-2.8 2.4zM254.9 69.7l2.8-2.4-2.9-1.5-2.8 2.3zM252 68.1l2.8-2.3-2.9-1.5-2.8 2.4zM263.5 70.4l2.8-2.4-2.9-1.5-2.8 2.3zM260.6 68.8l2.8-2.3-2.9-1.6-2.8 2.4zM272.1 71.3l2.8-2.4-2.9-1.6-2.8 2.3zM269.2 69.6l2.8-2.3-2.9-1.6-2.8 2.3zM280.7 72.3l2.8-2.3-2.9-1.7-2.8 2.3zM277.8 70.6l2.8-2.3-2.9-1.6-2.8 2.2zM286.4 71.7l2.9-2.3-2.9-1.7-2.9 2.3zM295 72.9l2.9-2.2-2.9-1.8-2.9 2.2zM300.8 72.4l2.8-2.1-2.9-1.8-2.8 2.2zM309.4 73.9l2.8-2.2-2.9-1.8-2.8 2.2zM306.5 72.1l2.8-2.2-2.9-1.7-2.8 2.1zM315.1 73.6l2.8-2.1-2.8-1.8-2.9 2zM320.8 73.3l2.9-2-2.9-1.8-2.9 2zM326.5 73.2l2.9-2-2.9-1.9-2.8 2zM332.2 73l2.9-1.9-2.9-1.9-2.8 2zM338 73l2.8-1.9-2.8-1.9-2.9 1.9zM343.7 73l2.9-1.9-2.9-1.9-2.9 1.9zM349.4 73.1l2.9-1.8-2.9-2-2.8 1.8zM355.1 73.3l2.9-1.8-2.9-2-2.8 1.8zM360.8 73.5l2.9-1.8-2.8-2-2.9 1.8zM366.5 73.8l2.9-1.7-2.8-2.1-2.9 1.7zM369.4 72.1l2.9-1.7-2.9-2-2.8 1.6zM375.1 72.5l2.9-1.6-2.8-2.1-2.9 1.6z" fill="#78a222" stroke="#78a222" stroke-width="0.6"/>
<path d="M234.7 63.6l2.8-2.3-2.9-1.2-2.8 2.3zM231.8 62.4l2.8-2.3-2.9-1.1-2.8 2.2zM246.2 65.2l2.8-2.3-2.9-1.3-2.8 2.2zM243.3 63.8l2.8-2.2-2.9-1.3-2.8 2.2zM254.8 65.8l2.8-2.3-2.9-1.4-2.8 2.2zM263.4 66.5l2.8-2.3-2.9-1.5-2.8 2.2zM272 67.3l2.8-2.2-2.9-1.6-2.8 2.2zM280.6 68.3l2.9-2.2-2.9-1.6-2.9 2.2zM286.4 67.7l2.8-2.1-2.9-1.6-2.8 2.1zM295 68.9l2.8-2.1-2.9-1.6-2.8 2.1zM300.7 68.5l2.9-2-2.9-1.7-2.9 2zM309.3 69.9l2.9-2-2.9-1.7-2.9 2zM315.1 69.7l2.8-2-2.9-1.8-2.8 2zM320.8 69.5l2.8-2-2.8-1.8-2.9 2zM326.5 69.3l2.9-1.9-2.9-1.8-2.9 1.9zM332.2 69.2l2.9-1.9-2.9-1.8-2.8 1.9zM338 69.2l2.8-1.8-2.8-1.9-2.9 1.8zM343.7 69.2l2.9-1.8-2.9-1.8-2.9 1.8zM349.4 69.3l2.9-1.7-2.9-1.9-2.8 1.7zM355.1 69.5l2.9-1.7-2.8-1.9-2.9 1.7zM360.9 69.7l2.8-1.7-2.8-1.9-2.9 1.7zM366.6 70l2.8-1.6-2.8-2-2.9 1.6zM369.4 68.4l2.9-1.6-2.8-1.9-2.9 1.5zM375.2 68.8l2.8-1.5-2.8-2-2.9 1.5zM380.9 69.3l2.8-1.5-2.8-2-2.9 1.5zM383.7 67.8l2.9-1.4-2.8-2-2.9 1.4zM389.4 68.4l2.9-1.4-2.8-2-2.9 1.4zM392.3 67l2.9-1.3-2.9-2-2.8 1.3z" fill="#7f9622" stroke="#7f9622" stroke-width="0.6"/>
<path d="M228.9 61.2l2.8-2.2-2.9-1-2.8 2.1zM226 60.1l2.8-2.1-2.9-1-2.8 2.1zM223.1 59.1l2.8-2.1-2.9-.9-2.8 2.1zM220.2 58.2l2.8-2.1-2.9-.8-2.8 2.1zM237.5 61.3l2.8-2.2-2.9-1.2-2.8 2.2zM234.6 60.1l2.8-2.2-2.9-1-2.8 2.1zM231.7 59l2.8-2.1-2.9-1-2.8 2.1zM228.8 58l2.8-2.1-2.9-1-2.8 2.1zM389.5 65l2.8-1.3-2.8-2-2.9 1.3zM395.2 65.7l2.8-1.3-2.8-1.9-2.9 1.2zM392.3 63.7l2.9-1.2-2.8-2-2.9 1.2zM398 64.4l2.9-1.1-2.8-2-2.9 1.2zM403.7 65.3l2.9-1.1-2.8-2-2.9 1.1zM400.9 63.3l2.9-1.1-2.9-1.9-2.8 1zM406.6 64.2l2.8-1.1-2.8-1.9-2.8 1zM403.8 62.2l2.8-1-2.8-1.9-2.9 1zM409.4 63.1l2.9-.9-2.8-1.9-2.9 .9z" fill="#7b8821" stroke="#7b8821" stroke-width="0.6"/>
<path d="M217.3 57.4l2.8-2.1-2.9-.6-2.8 2zM412.3 62.2l2.8-.8-2.8-1.9-2.8 .8zM417.9 63.3l2.9-.7-2.8-2-2.9 .8zM415.1 61.4l2.9-.8-2.8-1.9-2.9 .8zM423.6 64.6l2.8-.7-2.8-2-2.8 .7zM420.8 62.6l2.8-.7-2.8-1.9-2.8 .6zM418 60.6l2.8-.6-2.8-1.9-2.8 .6zM426.4 63.9l2.9-.6-2.8-1.9-2.9 .5zM423.6 61.9l2.9-.5-2.8-1.9-2.9 .5zM429.3 63.3l2.8-.5-2.8-1.9-2.8 .5zM426.5 61.4l2.8-.5-2.8-1.8-2.8 .4z" fill="#6a8020" stroke="#6a8020" stroke-width="0.6"/>
<path d="M249.1 66.7l2.8-2.4-2.9-1.4-2.8 2.3zM257.7 67.3l2.8-2.4-2.9-1.4-2.8 2.3zM266.3 68l2.8-2.3-2.9-1.5-2.8 2.3zM274.9 68.9l2.8-2.2-2.9-1.6-2.8 2.2zM283.5 70l2.9-2.3-2.9-1.6-2.9 2.2zM292.1 71.1l2.9-2.2-2.9-1.6-2.8 2.1zM289.3 69.4l2.8-2.1-2.9-1.7-2.8 2.1zM297.9 70.7l2.8-2.2-2.9-1.7-2.8 2.1zM303.6 70.3l2.8-2.1-2.8-1.7-2.9 2zM312.2 71.7l2.9-2-2.9-1.8-2.9 2zM317.9 71.5l2.9-2-2.9-1.8-2.8 2zM323.7 71.3l2.8-2-2.9-1.8-2.8 2zM329.4 71.2l2.8-2-2.8-1.8-2.9 1.9zM335.1 71.1l2.9-1.9-2.9-1.9-2.9 1.9zM340.8 71.1l2.9-1.9-2.9-1.8-2.8 1.8zM346.6 71.1l2.8-1.8-2.8-1.9-2.9 1.8zM352.3 71.3l2.8-1.8-2.8-1.9-2.9 1.7zM358 71.5l2.9-1.8-2.9-1.9-2.9 1.7zM363.7 71.7l2.9-1.7-2.9-2-2.8 1.7zM372.3 70.4l2.9-1.6-2.9-2-2.9 1.6z" fill="#7d9c22" stroke="#7d9c22" stroke-width="0.6"/>
<path d="M240.4 62.5l2.8-2.2-2.9-1.2-2.8 2.2zM251.9 64.3l2.8-2.2-2.9-1.4-2.8 2.2zM249 62.9l2.8-2.2-2.9-1.3-2.8 2.2zM246.1 61.6l2.8-2.2-2.9-1.2-2.8 2.1zM260.5 64.9l2.8-2.2-2.9-1.4-2.8 2.2zM257.6 63.5l2.8-2.2-2.9-1.4-2.8 2.2zM269.1 65.7l2.8-2.2-2.9-1.5-2.8 2.2zM277.7 66.7l2.9-2.2-2.9-1.5-2.9 2.1zM292.1 67.3l2.8-2.1-2.9-1.7-2.8 2.1zM306.4 68.2l2.9-2-2.9-1.7-2.8 2zM358 67.8l2.9-1.7-2.9-1.9-2.8 1.7zM363.7 68l2.9-1.6-2.8-1.9-2.9 1.6zM372.3 66.8l2.9-1.5-2.9-1.9-2.8 1.5zM378 67.3l2.9-1.5-2.8-2-2.9 1.5zM380.9 65.8l2.9-1.4-2.9-2-2.8 1.4zM386.6 66.4l2.9-1.4-2.9-2-2.8 1.4z" fill="#829021" stroke="#829021" stroke-width="0.6"/>
<path d="M225.9 57l2.8-2.1-2.9-.8-2.8 2zM223 56.1l2.8-2-2.9-.7-2.8 1.9zM220.1 55.3l2.8-1.9-2.9-.7-2.8 2zM228.7 54.9l2.8-1.9-2.9-.8-2.8 1.9zM225.8 54.1l2.8-1.9-2.9-.7-2.8 1.9zM398.1 61.3l2.8-1-2.8-1.9-2.9 1zM400.9 60.3l2.9-1-2.8-1.8-2.9 .9zM406.6 61.2l2.9-.9-2.8-1.9-2.9 .9zM403.8 59.3l2.9-.9-2.9-1.8-2.8 .9zM409.5 60.3l2.8-.8-2.8-1.9-2.8 .8zM406.7 58.4l2.8-.8-2.8-1.8-2.9 .8zM412.3 59.5l2.9-.8-2.8-1.8-2.9 .7z" fill="#7c761f" stroke="#7c761f" stroke-width="0.6"/>
<path d="M243.2 60.3l2.8-2.1-2.9-1.2-2.8 2.1zM240.3 59.1l2.8-2.1-2.9-1.1-2.8 2zM254.7 62.1l2.8-2.2-2.9-1.3-2.8 2.1zM251.8 60.7l2.8-2.1-2.9-1.3-2.8 2.1zM263.3 62.7l2.8-2.1-2.9-1.4-2.8 2.1zM260.4 61.3l2.8-2.1-2.9-1.4-2.8 2.1zM271.9 63.5l2.9-2.1-2.9-1.4-2.9 2zM269 62l2.9-2-2.9-1.5-2.9 2.1zM277.7 63l2.8-2.1-2.9-1.5-2.8 2zM286.3 64l2.8-2-2.9-1.6-2.8 2zM294.9 65.2l2.9-2-2.9-1.6-2.9 1.9zM292 63.5l2.9-1.9-2.9-1.6-2.9 2zM300.7 64.8l2.8-2-2.9-1.6-2.8 2zM306.4 64.5l2.8-2-2.8-1.6-2.9 1.9zM315 65.9l2.9-1.9-2.9-1.7-2.9 1.9zM312.1 64.2l2.9-1.9-2.9-1.6-2.9 1.8zM320.8 65.7l2.8-1.8-2.9-1.7-2.8 1.8zM326.5 65.6l2.9-1.8-2.9-1.7-2.9 1.8zM332.2 65.5l2.9-1.7-2.9-1.8-2.8 1.8zM338 65.5l2.8-1.7-2.8-1.8-2.9 1.8zM343.7 65.6l2.9-1.7-2.9-1.8-2.9 1.7zM349.4 65.7l2.9-1.7-2.9-1.8-2.8 1.7zM355.2 65.9l2.8-1.7-2.8-1.8-2.9 1.6zM358 64.2l2.9-1.5-2.9-1.8-2.8 1.5zM363.8 64.5l2.8-1.5-2.8-1.9-2.9 1.6zM369.5 64.9l2.8-1.5-2.8-1.9-2.9 1.5zM375.2 65.3l2.9-1.5-2.9-1.9-2.9 1.5zM372.3 63.4l2.9-1.5-2.8-1.8-2.9 1.4zM378.1 63.8l2.8-1.4-2.8-1.8-2.9 1.3zM383.8 64.4l2.8-1.4-2.8-1.9-2.9 1.3zM386.6 63l2.9-1.3-2.8-1.8-2.9 1.2zM395.2 62.5l2.9-1.2-2.9-1.9-2.8 1.1z" fill="#8a8421" stroke="#8a8421" stroke-width="0.6"/>
<path d="M237.4 57.9l2.8-2-2.9-1.1-2.8 2.1zM234.5 56.9l2.8-2.1-2.9-.9-2.8 2zM231.6 55.9l2.8-2-2.9-.9-2.8 1.9zM248.9 59.4l2.8-2.1-2.9-1.2-2.8 2.1zM246 58.2l2.8-2.1-2.9-1.1-2.8 2zM243.1 57l2.8-2-2.9-1.1-2.8 2zM240.2 55.9l2.8-2-2.9-1-2.8 1.9zM375.2 61.9l2.9-1.3-2.9-1.8-2.8 1.3zM380.9 62.4l2.9-1.3-2.8-1.8-2.9 1.3zM378.1 60.6l2.9-1.3-2.9-1.8-2.9 1.3zM383.8 61.1l2.9-1.2-2.9-1.8-2.8 1.2zM389.5 61.7l2.9-1.2-2.9-1.8-2.8 1.2zM386.7 59.9l2.8-1.2-2.8-1.8-2.9 1.2zM392.4 60.5l2.8-1.1-2.8-1.8-2.9 1.1zM395.2 59.4l2.9-1-2.8-1.8-2.9 1z" fill="#897520" stroke="#897520" stroke-width="0.6"/>
<path d="M222.9 53.4l2.8-1.9-2.9-.6-2.8 1.8zM225.7 51.5l2.8-1.8-2.9-.6-2.8 1.8zM409.5 57.6l2.9-.7-2.9-1.7-2.8 .6zM406.7 55.8l2.8-.6-2.8-1.7-2.8 .6zM412.4 56.9l2.8-.5-2.8-1.7-2.9 .5zM409.5 55.2l2.9-.5-2.8-1.7-2.9 .5zM415.2 56.4l2.9-.5-2.9-1.7-2.8 .5zM412.4 54.7l2.8-.5-2.8-1.6-2.8 .4z" fill="#76631e" stroke="#76631e" stroke-width="0.6"/>
<path d="M237.3 54.8l2.8-1.9-2.9-1-2.8 2zM234.4 53.9l2.8-2-2.9-.8-2.8 1.9zM231.5 53l2.8-1.9-2.9-.7-2.8 1.8zM228.6 52.2l2.8-1.8-2.9-.7-2.8 1.8zM389.5 58.7l2.9-1.1-2.8-1.8-2.9 1.1zM392.4 57.6l2.9-1-2.9-1.7-2.8 .9zM398.1 58.4l2.9-.9-2.9-1.8-2.8 .9zM395.3 56.6l2.8-.9-2.8-1.7-2.9 .9zM401 57.5l2.8-.9-2.8-1.7-2.9 .8zM398.1 55.7l2.9-.8-2.8-1.7-2.9 .8zM403.8 56.6l2.9-.8-2.8-1.7-2.9 .8z" fill="#86651f" stroke="#86651f" stroke-width="0.6"/>
<path d="M266.2 64.2l2.8-2.2-2.9-1.4-2.8 2.1zM274.8 65.1l2.9-2.1-2.9-1.6-2.9 2.1zM283.5 66.1l2.8-2.1-2.9-1.6-2.8 2.1zM280.6 64.5l2.8-2.1-2.9-1.5-2.8 2.1zM289.2 65.6l2.8-2.1-2.9-1.5-2.8 2zM297.8 66.8l2.9-2-2.9-1.6-2.9 2zM303.6 66.5l2.8-2-2.9-1.7-2.8 2zM312.2 67.9l2.8-2-2.9-1.7-2.8 2zM309.3 66.2l2.8-2-2.9-1.7-2.8 2zM317.9 67.7l2.9-2-2.9-1.7-2.9 1.9zM323.6 67.5l2.9-1.9-2.9-1.7-2.8 1.8zM329.4 67.4l2.8-1.9-2.8-1.7-2.9 1.8zM335.1 67.3l2.9-1.8-2.9-1.7-2.9 1.7zM340.8 67.4l2.9-1.8-2.9-1.8-2.8 1.7zM346.6 67.4l2.8-1.7-2.8-1.8-2.9 1.7zM352.3 67.6l2.9-1.7-2.9-1.9-2.9 1.7zM360.9 66.1l2.9-1.6-2.9-1.8-2.9 1.5zM366.6 66.4l2.9-1.5-2.9-1.9-2.8 1.5z" fill="#878f21" stroke="#878f21" stroke-width="0.6"/>
<path d="M257.5 59.9l2.8-2.1-2.9-1.3-2.8 2.1zM254.6 58.6l2.8-2.1-2.9-1.2-2.8 2zM266.1 60.6l2.9-2.1-3-1.3-2.8 2zM263.2 59.2l2.8-2-2.9-1.3-2.8 1.9zM274.8 61.4l2.8-2-2.9-1.4-2.8 2zM271.9 60l2.8-2-2.9-1.4-2.8 1.9zM283.4 62.4l2.8-2-2.9-1.5-2.8 2zM280.5 60.9l2.8-2-2.9-1.4-2.8 1.9zM289.1 62l2.9-2-2.9-1.5-2.9 1.9zM297.8 63.2l2.8-2-2.9-1.6-2.8 2zM294.9 61.6l2.8-2-2.9-1.5-2.8 1.9zM303.5 62.8l2.9-1.9-2.9-1.6-2.9 1.9zM309.2 62.5l2.9-1.8-2.9-1.6-2.8 1.8zM317.9 64l2.8-1.8-2.9-1.7-2.8 1.8zM315 62.3l2.8-1.8-2.8-1.6-2.9 1.8zM323.6 63.9l2.9-1.8-2.9-1.7-2.9 1.8zM320.7 62.2l2.9-1.8-2.9-1.6-2.9 1.7zM329.4 63.8l2.8-1.8-2.9-1.7-2.8 1.8zM335.1 63.8l2.9-1.8-2.9-1.7-2.9 1.7zM340.8 63.8l2.9-1.7-2.9-1.7-2.8 1.6zM346.6 63.9l2.8-1.7-2.8-1.7-2.9 1.6zM352.3 64l2.9-1.6-2.9-1.8-2.9 1.6zM349.4 62.2l2.9-1.6-2.9-1.7-2.8 1.6zM355.2 62.4l2.8-1.5-2.8-1.8-2.9 1.5zM360.9 62.7l2.9-1.6-2.9-1.7-2.9 1.5zM366.6 63l2.9-1.5-2.9-1.8-2.8 1.4zM369.5 61.5l2.9-1.4-2.9-1.8-2.9 1.4z" fill="#927920" stroke="#927920" stroke-width="0.6"/>
<path d="M251.7 57.3l2.8-2-2.9-1.2-2.8 2zM248.8 56.1l2.8-2-2.9-1.1-2.8 2zM245.9 55l2.8-2-2.9-1-2.8 1.9zM260.3 57.8l2.8-1.9-2.9-1.3-2.8 1.9zM257.4 56.5l2.8-1.9-2.9-1.2-2.8 1.9zM269 58.5l2.8-1.9-2.9-1.4-2.9 2zM266 57.2l2.9-2-2.9-1.3-2.9 2zM277.6 59.4l2.8-1.9-2.9-1.5-2.8 2zM274.7 58l2.8-2-2.9-1.3-2.8 1.9zM286.2 60.4l2.9-1.9-2.9-1.5-2.9 1.9zM283.3 58.9l2.9-1.9-2.9-1.4-2.9 1.9zM292 60l2.8-1.9-2.9-1.5-2.8 1.9zM300.6 61.2l2.9-1.9-2.9-1.5-2.9 1.8zM297.7 59.6l2.9-1.8-2.9-1.5-2.9 1.8zM306.4 60.9l2.8-1.8-2.9-1.6-2.8 1.8zM312.1 60.7l2.9-1.8-2.9-1.6-2.9 1.8zM317.8 60.5l2.9-1.7-2.9-1.6-2.8 1.7zM326.5 62.1l2.8-1.8-2.8-1.6-2.9 1.7zM323.6 60.4l2.9-1.7-2.9-1.6-2.9 1.7zM332.2 62l2.9-1.7-2.9-1.7-2.9 1.7zM329.3 60.3l2.9-1.7-2.9-1.6-2.8 1.7zM338 62l2.8-1.6-2.8-1.7-2.9 1.6zM335.1 60.3l2.9-1.6-2.9-1.7-2.9 1.6zM343.7 62.1l2.9-1.6-2.9-1.7-2.9 1.6zM340.8 60.4l2.9-1.6-2.9-1.7-2.8 1.6zM346.6 60.5l2.8-1.6-2.8-1.7-2.9 1.6zM352.3 60.6l2.9-1.5-2.9-1.7-2.9 1.5zM358 60.9l2.9-1.5-2.8-1.8-2.9 1.5zM363.8 61.1l2.8-1.4-2.8-1.8-2.9 1.5zM366.6 59.7l2.9-1.4-2.8-1.7-2.9 1.3zM372.4 60.1l2.8-1.3-2.8-1.8-2.9 1.3zM375.2 58.8l2.9-1.3-2.8-1.7-2.9 1.2zM381 59.3l2.8-1.2-2.8-1.8-2.9 1.2zM383.8 58.1l2.9-1.2-2.8-1.7-2.9 1.1z" fill="#966c20" stroke="#966c20" stroke-width="0.6"/>
<path d="M243 53.9l2.8-1.9-2.9-1-2.8 1.9zM240.1 52.9l2.8-1.9-2.9-.9-2.8 1.8zM237.2 51.9l2.8-1.8-2.9-.8-2.8 1.8zM234.3 51.1l2.8-1.8-2.9-.7-2.8 1.8zM381 56.3l2.9-1.1-2.9-1.7-2.9 1.1zM386.7 56.9l2.9-1.1-2.9-1.7-2.8 1.1zM383.9 55.2l2.8-1.1-2.8-1.6-2.9 1zM389.6 55.8l2.8-.9-2.8-1.7-2.9 .9zM392.4 54.9l2.9-.9-2.8-1.7-2.9 .9z" fill="#8e5c1f" stroke="#8e5c1f" stroke-width="0.6"/>
<path d="M231.4 50.4l2.8-1.8-2.9-.6-2.8 1.7zM228.5 49.7l2.8-1.7-2.9-.6-2.8 1.7zM237.1 49.3l2.8-1.7-2.9-.7-2.8 1.7zM234.2 48.6l2.8-1.7-2.9-.6-2.8 1.7zM231.3 48l2.8-1.7-2.9-.5-2.8 1.6zM395.3 54l2.9-.8-2.9-1.6-2.8 .7zM392.5 52.3l2.8-.7-2.8-1.6-2.9 .7zM401 54.9l2.9-.8-2.9-1.6-2.8 .7zM398.2 53.2l2.8-.7-2.8-1.6-2.9 .7zM395.3 51.6l2.9-.7-2.9-1.6-2.8 .7zM403.9 54.1l2.8-.6-2.8-1.6-2.9 .6zM401 52.5l2.9-.6-2.9-1.6-2.8 .6zM406.7 53.5l2.9-.5-2.9-1.6-2.8 .5z" fill="#81521d" stroke="#81521d" stroke-width="0.6"/>
<path d="M254.5 55.3l2.8-1.9-2.9-1.2-2.8 1.9zM251.6 54.1l2.8-1.9-2.9-1-2.8 1.8zM263.1 55.9l2.9-2-2.9-1.2-2.9 1.9zM271.8 56.6l2.8-1.9-2.9-1.3-2.8 1.8zM280.4 57.5l2.9-1.9-2.9-1.4-2.9 1.8zM289.1 58.5l2.8-1.9-2.9-1.4-2.8 1.8zM286.2 57l2.8-1.8-2.9-1.4-2.8 1.8zM294.8 58.1l2.9-1.8-2.9-1.5-2.9 1.8zM303.5 59.3l2.8-1.8-2.9-1.5-2.8 1.8zM300.6 57.8l2.8-1.8-2.9-1.5-2.8 1.8zM309.2 59.1l2.9-1.8-2.9-1.5-2.9 1.7zM315 58.9l2.8-1.7-2.9-1.6-2.8 1.7zM320.7 58.8l2.9-1.7-2.9-1.6-2.9 1.7zM326.5 58.7l2.8-1.7-2.9-1.6-2.8 1.7zM332.2 58.6l2.9-1.6-2.9-1.6-2.9 1.6zM338 58.7l2.8-1.6-2.9-1.6-2.8 1.5zM343.7 58.8l2.9-1.6-2.9-1.6-2.9 1.5zM349.4 58.9l2.9-1.5-2.9-1.7-2.8 1.5zM355.2 59.1l2.9-1.5-2.9-1.7-2.9 1.5zM360.9 59.4l2.9-1.5-2.9-1.7-2.8 1.4zM363.8 57.9l2.9-1.3-2.9-1.7-2.9 1.3zM369.5 58.3l2.9-1.3-2.9-1.7-2.8 1.3zM378.1 57.5l2.9-1.2-2.9-1.7-2.8 1.2z" fill="#9b621f" stroke="#9b621f" stroke-width="0.6"/>
<path d="M248.7 53l2.8-1.8-2.9-1-2.8 1.8zM245.8 52l2.8-1.8-2.9-1-2.8 1.8zM257.3 53.4l2.8-1.9-2.9-1.1-2.8 1.8zM254.4 52.2l2.8-1.8-2.9-1-2.8 1.8zM266 53.9l2.8-1.8-2.9-1.2-2.8 1.8zM355.2 55.9l2.9-1.3-2.9-1.6-2.9 1.3zM360.9 56.2l2.9-1.3-2.9-1.6-2.8 1.3zM366.7 56.6l2.8-1.3-2.8-1.7-2.9 1.3zM369.5 55.3l2.9-1.2-2.9-1.7-2.8 1.2zM375.3 55.8l2.8-1.2-2.8-1.7-2.9 1.2z" fill="#97571e" stroke="#97571e" stroke-width="0.6"/>
<path d="M242.9 51l2.8-1.8-2.9-.8-2.8 1.7zM240 50.1l2.8-1.7-2.9-.8-2.8 1.7zM251.5 51.2l2.8-1.8-2.9-1-2.8 1.8zM248.6 50.2l2.8-1.8-2.9-.9-2.8 1.7zM245.7 49.2l2.8-1.7-2.9-.8-2.8 1.7zM372.4 54.1l2.9-1.2-2.9-1.6-2.9 1.1zM378.1 54.6l2.9-1.1-2.8-1.6-2.9 1zM375.3 52.9l2.9-1-2.9-1.6-2.9 1zM381 53.5l2.9-1-2.9-1.6-2.8 1zM378.2 51.9l2.8-1-2.8-1.6-2.9 1zM386.7 54.1l2.9-.9-2.9-1.6-2.8 .9zM383.9 52.5l2.8-.9-2.8-1.6-2.9 .9zM389.6 53.2l2.9-.9-2.9-1.6-2.9 .9z" fill="#8f4e1d" stroke="#8f4e1d" stroke-width="0.6"/>
<path d="M260.2 54.6l2.9-1.9-3-1.2-2.8 1.9zM268.9 55.2l2.8-1.8-2.9-1.3-2.8 1.8zM277.5 56l2.9-1.8-2.9-1.3-2.9 1.8zM274.6 54.7l2.9-1.8-3-1.3-2.8 1.8zM283.3 55.6l2.8-1.8-2.9-1.4-2.8 1.8zM291.9 56.6l2.9-1.8-2.9-1.4-2.9 1.8zM297.7 56.3l2.8-1.8-2.9-1.4-2.8 1.7zM306.3 57.5l2.9-1.7-2.9-1.5-2.9 1.7zM303.4 56l2.9-1.7-2.9-1.5-2.9 1.7zM312.1 57.3l2.8-1.7-2.9-1.5-2.8 1.7zM317.8 57.2l2.9-1.7-2.9-1.5-2.9 1.6zM323.6 57.1l2.8-1.7-2.9-1.5-2.8 1.6zM329.3 57l2.9-1.6-2.9-1.5-2.9 1.5zM335.1 57l2.8-1.5-2.8-1.6-2.9 1.5zM340.8 57.1l2.9-1.5-2.9-1.6-2.9 1.5zM346.6 57.2l2.8-1.5-2.8-1.6-2.9 1.5zM352.3 57.4l2.9-1.5-2.9-1.6-2.9 1.4zM358.1 57.6l2.8-1.4-2.8-1.6-2.9 1.3zM372.4 57l2.9-1.2-2.9-1.7-2.9 1.2z" fill="#9c5a1e" stroke="#9c5a1e" stroke-width="0.6"/>
<path d="M242.8 48.4l2.8-1.7-2.9-.8-2.8 1.7zM239.9 47.6l2.8-1.7-2.9-.6-2.8 1.6zM237 46.9l2.8-1.6-2.9-.6-2.8 1.6zM251.4 48.4l2.9-1.7-2.9-.8-2.9 1.6zM248.5 47.5l2.9-1.6-2.9-.8-2.9 1.6zM245.6 46.7l2.9-1.6-2.9-.7-2.9 1.5zM242.7 45.9l2.9-1.5-2.9-.7-2.9 1.6zM239.8 45.3l2.9-1.6-2.9-.5-2.9 1.5zM257.2 47.7l2.8-1.7-2.9-.9-2.8 1.6zM254.3 46.7l2.8-1.6-2.9-.8-2.8 1.6zM251.4 45.9l2.8-1.6-2.9-.8-2.8 1.6zM248.5 45.1l2.8-1.6-2.9-.7-2.8 1.6zM372.4 51.3l2.9-1-2.9-1.5-2.8 1zM369.6 49.8l2.8-1-2.8-1.5-2.9 1zM375.3 50.3l2.9-1-2.9-1.5-2.9 1zM381 50.9l2.9-.9-2.9-1.5-2.8 .8zM378.2 49.3l2.8-.8-2.8-1.5-2.9 .8zM386.7 51.6l2.9-.9-2.8-1.5-2.9 .8zM383.9 50l2.9-.8-2.9-1.5-2.9 .8zM381 48.5l2.9-.8-2.9-1.5-2.8 .8zM389.6 50.7l2.9-.7-2.9-1.5-2.8 .7zM386.8 49.2l2.8-.7-2.8-1.5-2.9 .7zM392.5 50l2.8-.7-2.8-1.5-2.9 .7zM389.6 48.5l2.9-.7-2.9-1.4-2.8 .6z" fill="#873f1b" stroke="#873f1b" stroke-width="0.6"/>
<path d="M234.1 46.3l2.8-1.6-2.8-.4-2.9 1.5zM398.2 50.9l2.8-.6-2.8-1.5-2.9 .5zM395.3 49.3l2.9-.5-2.9-1.5-2.8 .5zM403.9 51.9l2.8-.5-2.8-1.5-2.9 .4zM401 50.3l2.9-.4-2.9-1.5-2.8 .4zM409.6 53l2.8-.4-2.8-1.6-2.9 .4zM406.7 51.4l2.9-.4-2.9-1.5-2.8 .4z" fill="#75481c" stroke="#75481c" stroke-width="0.6"/>
<path d="M263.1 52.7l2.8-1.8-2.9-1.1-2.9 1.7zM260.1 51.5l2.9-1.7-2.9-1.1-2.9 1.7zM271.7 53.4l2.8-1.8-2.9-1.3-2.8 1.8zM268.8 52.1l2.8-1.8-2.9-1.1-2.8 1.7zM280.4 54.2l2.8-1.8-2.9-1.3-2.8 1.8zM277.5 52.9l2.8-1.8-2.9-1.3-2.9 1.8zM289 55.2l2.9-1.8-2.9-1.4-2.9 1.8zM286.1 53.8l2.9-1.8-2.9-1.3-2.9 1.7zM294.8 54.8l2.8-1.7-2.9-1.4-2.8 1.7zM291.9 53.4l2.8-1.7-2.9-1.4-2.8 1.7zM300.5 54.5l2.9-1.7-2.9-1.4-2.9 1.7zM309.2 55.8l2.8-1.7-2.9-1.5-2.8 1.7zM306.3 54.3l2.8-1.7-2.9-1.4-2.8 1.6zM314.9 55.6l2.9-1.6-2.9-1.5-2.9 1.6zM312 54.1l2.9-1.6-2.9-1.5-2.9 1.6zM320.7 55.5l2.8-1.6-2.8-1.5-2.9 1.6zM326.4 55.4l2.9-1.5-2.9-1.6-2.9 1.6zM332.2 55.4l2.9-1.5-2.9-1.6-2.9 1.6zM337.9 55.5l2.9-1.5-2.9-1.6-2.8 1.5zM343.7 55.6l2.9-1.5-2.9-1.6-2.9 1.5zM349.4 55.7l2.9-1.4-2.9-1.6-2.8 1.4zM352.3 54.3l2.9-1.3-2.9-1.6-2.9 1.3zM358.1 54.6l2.8-1.3-2.8-1.6-2.9 1.3zM363.8 54.9l2.9-1.3-2.9-1.6-2.9 1.3z" fill="#9b501d" stroke="#9b501d" stroke-width="0.6"/>
<path d="M257.2 50.4l2.9-1.7-2.9-1-2.9 1.7zM254.3 49.4l2.9-1.7-2.9-1-2.9 1.7zM265.9 50.9l2.8-1.7-2.9-1.1-2.8 1.7zM263 49.8l2.8-1.7-2.9-1.1-2.8 1.7zM274.5 51.6l2.9-1.8-2.9-1.2-2.9 1.7zM271.6 50.3l2.9-1.7-2.9-1.1-2.9 1.7zM283.2 52.4l2.9-1.7-3-1.3-2.8 1.7zM280.3 51.1l2.8-1.7-2.9-1.2-2.8 1.6zM289 52l2.8-1.7-2.9-1.3-2.8 1.7zM297.6 53.1l2.9-1.7-2.9-1.4-2.9 1.7zM294.7 51.7l2.9-1.7-2.9-1.3-2.9 1.6zM303.4 52.8l2.8-1.6-2.9-1.4-2.8 1.6zM309.1 52.6l2.9-1.6-2.9-1.4-2.9 1.6zM317.8 54l2.9-1.6-2.9-1.5-2.9 1.6zM314.9 52.5l2.9-1.6-2.9-1.4-2.9 1.5zM323.5 53.9l2.9-1.6-2.9-1.4-2.8 1.5zM320.7 52.4l2.8-1.5-2.9-1.5-2.8 1.5zM329.3 53.9l2.9-1.6-2.9-1.4-2.9 1.4zM326.4 52.3l2.9-1.4-2.9-1.5-2.9 1.5zM335.1 53.9l2.8-1.5-2.9-1.5-2.8 1.4zM332.2 52.3l2.8-1.4-2.8-1.5-2.9 1.5zM340.8 54l2.9-1.5-2.9-1.5-2.9 1.4zM337.9 52.4l2.9-1.4-2.9-1.5-2.9 1.4zM346.6 54.1l2.8-1.4-2.8-1.5-2.9 1.3zM343.7 52.5l2.9-1.3-2.9-1.5-2.9 1.3zM349.4 52.7l2.9-1.3-2.9-1.5-2.8 1.3zM355.2 53l2.9-1.3-2.9-1.6-2.9 1.3zM360.9 53.3l2.9-1.3-2.9-1.5-2.8 1.2zM366.7 53.6l2.8-1.2-2.8-1.5-2.9 1.1zM363.8 52l2.9-1.1-2.9-1.6-2.9 1.2zM369.5 52.4l2.9-1.1-2.8-1.5-2.9 1.1z" fill="#99461c" stroke="#99461c" stroke-width="0.6"/>
<path d="M236.9 44.7l2.9-1.5-2.9-.4-2.8 1.5zM239.8 43.2l2.8-1.4-2.9-.4-2.8 1.4zM245.5 42.3l2.8-1.5-2.9-.4-2.8 1.4zM381 44.2l2.9-.6-2.9-1.3-2.8 .5zM392.5 47.8l2.8-.5-2.8-1.4-2.9 .5zM389.6 46.4l2.9-.5-2.9-1.4-2.8 .5zM386.8 45l2.8-.5-2.8-1.3-2.9 .4zM398.2 48.8l2.8-.4-2.8-1.5-2.9 .4zM395.3 47.3l2.9-.4-2.9-1.4-2.8 .4zM392.5 45.9l2.8-.4-2.8-1.3-2.9 .3zM401 48.4l2.9-.3-2.9-1.5-2.8 .3z" fill="#6e341a" stroke="#6e341a" stroke-width="0.6"/>
<path d="M260.1 48.7l2.8-1.7-2.9-1-2.8 1.7zM268.7 49.2l2.9-1.7-2.9-1.1-2.9 1.7zM265.8 48.1l2.9-1.7-3-1-2.8 1.6zM277.4 49.8l2.8-1.6-2.9-1.2-2.8 1.6zM274.5 48.6l2.8-1.6-2.9-1.1-2.8 1.6zM286.1 50.7l2.8-1.7-2.9-1.2-2.9 1.6zM283.1 49.4l2.9-1.6-2.9-1.2-2.9 1.6zM291.8 50.3l2.9-1.6-2.9-1.2-2.9 1.5zM288.9 49l2.9-1.5-3-1.3-2.8 1.6zM300.5 51.4l2.8-1.6-2.9-1.3-2.8 1.5zM297.6 50l2.8-1.5-2.9-1.3-2.8 1.5zM306.2 51.2l2.9-1.6-2.9-1.3-2.9 1.5zM303.3 49.8l2.9-1.5-2.9-1.4-2.9 1.6zM312 51l2.9-1.5-2.9-1.4-2.9 1.5zM309.1 49.6l2.9-1.5-2.9-1.3-2.9 1.5zM317.8 50.9l2.8-1.5-2.9-1.4-2.8 1.5zM314.9 49.5l2.8-1.5-2.9-1.3-2.8 1.4zM323.5 50.9l2.9-1.5-2.9-1.4-2.9 1.4zM329.3 50.9l2.9-1.5-2.9-1.4-2.9 1.4zM335 50.9l2.9-1.4-2.9-1.4-2.8 1.3zM340.8 51l2.9-1.3-2.9-1.5-2.9 1.3zM346.6 51.2l2.8-1.3-2.8-1.5-2.9 1.3zM352.3 51.4l2.9-1.3-2.9-1.5-2.9 1.3zM358.1 51.7l2.8-1.2-2.8-1.6-2.9 1.2zM355.2 50.1l2.9-1.2-2.9-1.4-2.9 1.1zM360.9 50.5l2.9-1.2-2.9-1.5-2.8 1.1zM366.7 50.9l2.9-1.1-2.9-1.5-2.9 1z" fill="#983c1a" stroke="#983c1a" stroke-width="0.6"/>
<path d="M245.6 44.4l2.8-1.6-2.9-.5-2.8 1.4zM242.7 43.7l2.8-1.4-2.9-.5-2.8 1.4zM251.3 43.5l2.8-1.5-2.9-.6-2.8 1.4zM248.4 42.8l2.8-1.4-2.9-.6-2.8 1.5zM257 42.8l2.9-1.5-2.9-.7-2.9 1.4zM254.1 42l2.9-1.4-2.9-.6-2.9 1.4zM251.2 41.4l2.9-1.4-2.9-.5-2.9 1.3zM262.8 42.1l2.8-1.4-2.9-.8-2.8 1.4zM259.9 41.3l2.8-1.4-2.9-.6-2.8 1.3zM363.8 44.4l2.9-.8-2.9-1.4-2.9 .9zM372.4 46.4l2.9-.9-2.9-1.4-2.8 .8zM369.6 44.9l2.8-.8-2.8-1.3-2.9 .8zM366.7 43.6l2.9-.8-2.9-1.3-2.9 .7zM378.2 47l2.8-.8-2.8-1.4-2.9 .7zM375.3 45.5l2.9-.7-2.9-1.4-2.9 .7zM372.4 44.1l2.9-.7-2.9-1.3-2.8 .7zM383.9 47.7l2.9-.7-2.9-1.4-2.9 .6zM381 46.2l2.9-.6-2.9-1.4-2.8 .6zM378.2 44.8l2.8-.6-2.8-1.4-2.9 .6zM386.8 47l2.8-.6-2.8-1.4-2.9 .6zM383.9 45.6l2.9-.6-2.9-1.4-2.9 .6z" fill="#7d2f19" stroke="#7d2f19" stroke-width="0.6"/>
<path d="M262.9 47l2.8-1.6-2.9-1-2.8 1.6zM271.6 47.5l2.8-1.6-2.9-1.1-2.8 1.6zM268.7 46.4l2.8-1.6-2.9-.9-2.9 1.5zM280.2 48.2l2.9-1.6-2.9-1.2-2.9 1.6zM277.3 47l2.9-1.6-2.9-1-2.9 1.5zM286 47.8l2.8-1.6-2.9-1.1-2.8 1.5zM283.1 46.6l2.8-1.5-2.9-1.2-2.8 1.5zM294.7 48.7l2.8-1.5-2.9-1.3-2.8 1.6zM291.8 47.5l2.8-1.6-2.9-1.2-2.9 1.5zM300.4 48.5l2.9-1.6-2.9-1.2-2.9 1.5zM297.5 47.2l2.9-1.5-2.9-1.2-2.9 1.4zM306.2 48.3l2.9-1.5-2.9-1.3-2.9 1.4zM303.3 46.9l2.9-1.4-3-1.3-2.8 1.5zM312 48.1l2.8-1.4-2.9-1.3-2.8 1.4zM320.6 49.4l2.9-1.4-2.9-1.4-2.9 1.4zM317.7 48l2.9-1.4-2.9-1.3-2.9 1.4zM326.4 49.4l2.9-1.4-2.9-1.4-2.9 1.4zM323.5 48l2.9-1.4-2.9-1.3-2.9 1.3zM332.2 49.4l2.8-1.3-2.9-1.4-2.8 1.3zM329.3 48l2.8-1.3-2.9-1.4-2.8 1.3zM337.9 49.5l2.9-1.3-2.9-1.4-2.9 1.3zM335 48.1l2.9-1.3-2.9-1.4-2.9 1.3zM343.7 49.7l2.9-1.3-2.9-1.5-2.9 1.3zM340.8 48.2l2.9-1.3-2.9-1.4-2.9 1.3zM349.4 49.9l2.9-1.3-2.9-1.4-2.8 1.2zM346.6 48.4l2.8-1.2-2.9-1.4-2.8 1.1zM352.3 48.6l2.9-1.1-2.9-1.5-2.9 1.2zM358.1 48.9l2.8-1.1-2.8-1.4-2.9 1.1zM363.8 49.3l2.9-1-2.9-1.5-2.9 1z" fill="#943419" stroke="#943419" stroke-width="0.6"/>
<path d="M260 46l2.8-1.6-2.9-.8-2.8 1.5zM257.1 45.1l2.8-1.5-2.9-.8-2.8 1.5zM254.2 44.3l2.8-1.5-2.9-.8-2.8 1.5zM265.7 45.4l2.9-1.5-2.9-1-2.9 1.5zM262.8 44.4l2.9-1.5-2.9-.8-2.9 1.5zM274.4 45.9l2.9-1.5-2.9-1.1-2.9 1.5zM271.5 44.8l2.9-1.5-3-.9-2.8 1.5zM280.2 45.4l2.8-1.5-2.9-1-2.8 1.5zM288.8 46.2l2.9-1.5-2.9-1.1-2.9 1.5zM285.9 45.1l2.9-1.5-2.9-1.1-2.9 1.4zM294.6 45.9l2.9-1.4-2.9-1.2-2.9 1.4zM300.4 45.7l2.8-1.5-2.9-1.1-2.8 1.4zM309.1 46.8l2.8-1.4-2.9-1.3-2.8 1.4zM306.2 45.5l2.8-1.4-2.9-1.2-2.9 1.3zM314.8 46.7l2.9-1.4-2.9-1.3-2.9 1.4zM320.6 46.6l2.9-1.3-2.9-1.3-2.9 1.3zM326.4 46.6l2.8-1.3-2.9-1.3-2.8 1.3zM332.1 46.7l2.9-1.3-2.9-1.3-2.9 1.2zM337.9 46.8l2.9-1.3-2.9-1.3-2.9 1.2zM343.7 46.9l2.8-1.1-2.8-1.4-2.9 1.1zM349.4 47.2l2.9-1.2-2.9-1.4-2.9 1.2zM355.2 47.5l2.9-1.1-2.9-1.4-2.9 1zM360.9 47.8l2.9-1-2.9-1.4-2.8 1zM358.1 46.4l2.8-1-2.8-1.4-2.9 1zM366.7 48.3l2.9-1-2.9-1.5-2.9 1zM363.8 46.8l2.9-1-2.9-1.4-2.9 1zM372.4 48.8l2.9-1-2.9-1.4-2.8 .9zM369.6 47.3l2.8-.9-2.8-1.5-2.9 .9zM375.3 47.8l2.9-.8-2.9-1.5-2.9 .9z" fill="#8c3019" stroke="#8c3019" stroke-width="0.6"/>
<path d="M242.6 41.8l2.8-1.4-2.8-.4-2.9 1.4zM248.3 40.8l2.9-1.3-2.9-.4-2.9 1.3zM245.4 40.4l2.9-1.3-2.9-.4-2.8 1.3zM254.1 40l2.8-1.3-2.9-.5-2.8 1.3zM251.2 39.5l2.8-1.3-2.9-.4-2.8 1.3zM256.9 38.7l2.9-1.3-2.9-.5-2.9 1.3zM372.4 42.1l2.9-.6-2.9-1.2-2.9 .5zM369.5 40.8l2.9-.5-2.9-1.3-2.8 .6zM378.2 42.8l2.8-.5-2.8-1.3-2.9 .5zM375.3 41.5l2.9-.5-2.9-1.2-2.9 .5zM383.9 43.6l2.9-.4-2.9-1.3-2.9 .4zM381 42.3l2.9-.4-2.9-1.3-2.8 .4zM389.6 44.5l2.9-.3-2.9-1.3-2.8 .3z" fill="#672618" stroke="#672618" stroke-width="0.6"/>
<path d="M259.9 43.6l2.9-1.5-2.9-.8-2.9 1.5zM268.6 43.9l2.8-1.5-2.9-.9-2.8 1.4zM265.7 42.9l2.8-1.4-2.9-.8-2.8 1.4zM277.3 44.4l2.8-1.5-2.9-1-2.8 1.4zM274.4 43.3l2.8-1.4-2.9-.9-2.9 1.4zM271.4 42.4l2.9-1.4-2.9-.9-2.9 1.4zM283 43.9l2.9-1.4-2.9-1-2.9 1.4zM280.1 42.9l2.9-1.4-2.9-1-2.9 1.4zM291.7 44.7l2.9-1.4-2.9-1.1-2.9 1.4zM288.8 43.6l2.9-1.4-3-1.1-2.8 1.4zM285.9 42.5l2.8-1.4-2.9-1-2.8 1.4zM297.5 44.5l2.8-1.4-2.9-1.2-2.8 1.4zM294.6 43.3l2.8-1.4-2.9-1.1-2.8 1.4zM303.2 44.2l2.9-1.3-2.9-1.2-2.9 1.4zM300.3 43.1l2.9-1.4-2.9-1.1-2.9 1.3zM311.9 45.4l2.9-1.4-2.9-1.2-2.9 1.3zM309 44.1l2.9-1.3-2.9-1.2-2.9 1.3zM306.1 42.9l2.9-1.3-2.9-1.2-2.9 1.3zM317.7 45.3l2.9-1.3-2.9-1.3-2.9 1.3zM314.8 44l2.9-1.3-2.9-1.2-2.9 1.3zM323.5 45.3l2.8-1.3-2.9-1.3-2.8 1.3zM320.6 44l2.8-1.3-2.9-1.2-2.8 1.2zM329.2 45.3l2.9-1.2-2.9-1.3-2.9 1.2zM326.3 44l2.9-1.2-2.9-1.3-2.9 1.2zM335 45.4l2.9-1.2-2.9-1.3-2.9 1.2zM332.1 44.1l2.9-1.2-2.9-1.3-2.9 1.2zM340.8 45.5l2.9-1.1-2.9-1.4-2.9 1.2zM337.9 44.2l2.9-1.2-2.9-1.2-2.9 1.1zM346.5 45.8l2.9-1.2-2.9-1.3-2.8 1.1zM343.7 44.4l2.8-1.1-2.9-1.3-2.8 1zM352.3 46l2.9-1-2.9-1.4-2.9 1zM349.4 44.6l2.9-1-2.9-1.3-2.9 1zM355.2 45l2.9-1-2.9-1.4-2.9 1zM360.9 45.4l2.9-1-2.9-1.3-2.8 .9zM366.7 45.8l2.9-.9-2.9-1.3-2.9 .8z" fill="#882918" stroke="#882918" stroke-width="0.6"/>
<path d="M257 40.6l2.8-1.3-2.9-.6-2.8 1.3zM262.7 39.9l2.9-1.3-2.9-.7-2.9 1.4zM271.4 40.1l2.8-1.3-2.9-.8-2.8 1.3zM268.5 39.3l2.8-1.3-2.9-.7-2.8 1.3zM277.2 39.6l2.8-1.3-2.9-.8-2.9 1.3zM274.2 38.8l2.9-1.3-2.9-.8-2.9 1.3zM282.9 39.2l2.9-1.3-2.9-.9-2.9 1.3zM280 38.3l2.9-1.3-2.9-.7-2.9 1.2zM291.6 39.8l2.9-1.3-2.9-.9-2.9 1.2zM288.7 38.8l2.9-1.2-2.9-.9-2.9 1.2zM297.4 39.5l2.9-1.2-3-1-2.8 1.2zM294.5 38.5l2.8-1.2-2.9-.9-2.8 1.2zM303.2 39.3l2.8-1.2-2.9-1-2.8 1.2zM300.3 38.3l2.8-1.2-2.9-1-2.9 1.2zM308.9 39.2l2.9-1.2-2.9-1-2.9 1.1zM306 38.1l2.9-1.1-2.9-1-2.9 1.1zM317.6 40.3l2.9-1.2-2.9-1.1-2.9 1.1zM314.7 39.1l2.9-1.1-2.9-1.1-2.9 1.1zM323.4 40.3l2.9-1.1-2.9-1.2-2.9 1.1zM320.5 39.1l2.9-1.1-2.9-1.1-2.9 1.1zM329.2 40.4l2.9-1.1-2.9-1.2-2.9 1.1zM326.3 39.2l2.9-1.1-2.9-1.1-2.9 1zM335 40.5l2.8-1-2.9-1.2-2.8 1zM332.1 39.3l2.8-1-2.9-1.1-2.8 .9zM340.7 40.7l2.9-1-2.9-1.2-2.9 1zM337.8 39.5l2.9-1-2.9-1.1-2.9 .9zM346.5 41l2.9-.9-2.9-1.3-2.9 .9zM343.6 39.7l2.9-.9-2.9-1.1-2.9 .8zM352.3 41.3l2.9-.8-2.9-1.3-2.9 .9zM349.4 40.1l2.9-.9-2.9-1.2-2.9 .8zM358 41.7l2.9-.8-2.9-1.2-2.8 .8zM355.2 40.5l2.8-.8-2.9-1.2-2.8 .7zM363.8 42.2l2.9-.7-2.9-1.3-2.9 .7zM360.9 40.9l2.9-.7-2.9-1.2-2.9 .7zM369.6 42.8l2.8-.7-2.9-1.3-2.8 .7zM375.3 43.4l2.9-.6-2.9-1.3-2.9 .6z" fill="#781f16" stroke="#781f16" stroke-width="0.6"/>
<path d="M248.3 39.1l2.8-1.3-2.8-.3-2.9 1.2zM254 38.2l2.9-1.3-2.9-.3-2.9 1.2zM251.1 37.8l2.9-1.2-2.9-.3-2.8 1.2zM256.9 36.9l2.8-1.2-2.9-.3-2.8 1.2zM262.6 36.2l2.9-1.2-2.9-.4-2.9 1.1zM369.5 39l2.9-.4-2.9-1.2-2.8 .4zM378.2 41l2.8-.4-2.9-1.2-2.8 .4zM375.3 39.8l2.8-.4-2.8-1.1-2.9 .3zM386.8 43.2l2.8-.3-2.9-1.3-2.8 .3zM383.9 41.9l2.8-.3-2.8-1.2-2.9 .2zM381 40.6l2.9-.2-2.9-1.2-2.9 .2zM392.5 44.2l2.8-.2-2.8-1.3-2.9 .2zM389.6 42.9l2.9-.2-2.9-1.3-2.9 .2z" fill="#572117" stroke="#572117" stroke-width="0.6"/>
<path d="M268.5 41.5l2.9-1.4-2.9-.8-2.9 1.4zM265.6 40.7l2.9-1.4-2.9-.7-2.9 1.3zM277.2 41.9l2.9-1.4-2.9-.9-2.9 1.4zM274.3 41l2.9-1.4-3-.8-2.8 1.3zM283 41.5l2.8-1.4-2.9-.9-2.8 1.3zM280.1 40.5l2.8-1.3-2.9-.9-2.8 1.3zM291.7 42.2l2.8-1.4-2.9-1-2.9 1.3zM288.7 41.1l2.9-1.3-2.9-1-2.9 1.3zM285.8 40.1l2.9-1.3-2.9-.9-2.9 1.3zM297.4 41.9l2.9-1.3-2.9-1.1-2.9 1.3zM294.5 40.8l2.9-1.3-2.9-1-2.9 1.3zM303.2 41.7l2.9-1.3-2.9-1.1-2.9 1.3zM300.3 40.6l2.9-1.3-2.9-1-2.9 1.2zM311.9 42.8l2.9-1.3-2.9-1.2-2.9 1.3zM309 41.6l2.9-1.3-3-1.1-2.8 1.2zM306.1 40.4l2.8-1.2-2.9-1.1-2.8 1.2zM317.7 42.7l2.8-1.2-2.9-1.2-2.8 1.2zM314.8 41.5l2.8-1.2-2.9-1.2-2.8 1.2zM311.9 40.3l2.8-1.2-2.9-1.1-2.9 1.2zM323.4 42.7l2.9-1.2-2.9-1.2-2.9 1.2zM320.5 41.5l2.9-1.2-2.9-1.2-2.9 1.2zM329.2 42.8l2.9-1.2-2.9-1.2-2.9 1.1zM326.3 41.5l2.9-1.1-2.9-1.2-2.9 1.1zM335 42.9l2.9-1.1-2.9-1.3-2.9 1.1zM332.1 41.6l2.9-1.1-2.9-1.2-2.9 1.1zM340.8 43l2.8-1-2.9-1.3-2.8 1.1zM337.9 41.8l2.8-1.1-2.9-1.2-2.8 1zM346.5 43.3l2.9-1-2.9-1.3-2.9 1zM343.6 42l2.9-1-2.9-1.3-2.9 1zM352.3 43.6l2.9-1-2.9-1.3-2.9 1zM349.4 42.3l2.9-1-2.9-1.2-2.9 .9zM358.1 44l2.8-.9-2.9-1.4-2.8 .9zM355.2 42.6l2.8-.9-2.8-1.2-2.9 .8zM360.9 43.1l2.9-.9-2.9-1.3-2.9 .8z" fill="#802217" stroke="#802217" stroke-width="0.6"/>
<path d="M259.8 39.3l2.9-1.4-2.9-.5-2.9 1.3zM265.6 38.6l2.8-1.3-2.9-.6-2.8 1.2zM271.3 38l2.9-1.3-2.9-.6-2.9 1.2zM277.1 37.5l2.9-1.2-2.9-.8-2.9 1.2zM285.8 37.9l2.9-1.2-3-.9-2.8 1.2zM282.9 37l2.8-1.2-2.9-.7-2.8 1.2zM291.6 37.6l2.8-1.2-2.9-.9-2.8 1.2zM288.7 36.7l2.8-1.2-2.9-.8-2.9 1.1zM297.3 37.3l2.9-1.2-2.9-.9-2.9 1.2zM294.4 36.4l2.9-1.2-2.9-.8-2.9 1.1zM303.1 37.1l2.9-1.1-2.9-.9-2.9 1zM300.2 36.1l2.9-1-2.9-.9-2.9 1zM311.8 38l2.9-1.1-2.9-1-2.9 1.1zM308.9 37l2.9-1.1-2.9-1-2.9 1.1zM306 36l2.9-1.1-2.9-.9-2.9 1.1zM317.6 38l2.9-1.1-2.9-1-2.9 1zM314.7 36.9l2.9-1-2.9-1-2.9 1zM311.8 35.9l2.9-1-2.9-1-2.9 1zM323.4 38l2.9-1-2.9-1.1-2.9 1zM320.5 36.9l2.9-1-2.9-1-2.9 1zM329.2 38.1l2.8-.9-2.9-1.1-2.8 .9zM326.3 37l2.8-.9-2.9-1.1-2.8 .9zM334.9 38.3l2.9-.9-2.9-1.1-2.9 .9zM332 37.2l2.9-.9-2.9-1.1-2.9 .9zM340.7 38.5l2.9-.8-2.9-1.2-2.9 .9zM337.8 37.4l2.9-.9-2.9-1.1-2.9 .9zM346.5 38.8l2.9-.8-2.9-1.1-2.9 .8zM343.6 37.7l2.9-.8-2.9-1.2-2.9 .8zM352.3 39.2l2.8-.7-2.8-1.2-2.9 .7zM358 39.7l2.9-.7-2.9-1.2-2.9 .7zM366.7 41.5l2.8-.7-2.8-1.2-2.9 .6zM363.8 40.2l2.9-.6-2.9-1.2-2.9 .6z" fill="#701c16" stroke="#701c16" stroke-width="0.6"/>
<path d="M262.7 37.9l2.8-1.2-2.9-.5-2.8 1.2zM268.4 37.3l2.9-1.2-2.9-.6-2.9 1.2zM274.2 36.7l2.9-1.2-2.9-.6-2.9 1.2zM280 36.3l2.8-1.2-2.9-.7-2.8 1.1zM285.7 35.8l2.9-1.1-2.9-.7-2.9 1.1zM291.5 35.5l2.9-1.1-2.9-.8-2.9 1.1zM297.3 35.2l2.9-1-2.9-.8-2.9 1zM303.1 35.1l2.9-1.1-2.9-.8-2.9 1zM308.9 34.9l2.9-1-3-.8-2.8 .9zM317.6 35.9l2.9-1-3-1-2.8 1zM314.7 34.9l2.8-1-2.9-.9-2.8 .9zM323.4 35.9l2.8-.9-2.9-1-2.8 .9zM320.5 34.9l2.8-.9-2.9-.9-2.9 .8zM329.1 36.1l2.9-.9-2.9-1-2.9 .8zM326.2 35l2.9-.8-2.9-1-2.9 .8zM334.9 36.3l2.9-.9-2.9-1-2.9 .8zM340.7 36.5l2.9-.8-2.9-1-2.9 .7zM349.4 38l2.9-.7-2.9-1.2-2.9 .8zM346.5 36.9l2.9-.8-2.9-1-2.9 .6zM355.1 38.5l2.9-.7-2.9-1.2-2.8 .7zM360.9 39l2.9-.6-2.9-1.2-2.9 .6zM366.7 39.6l2.8-.6-2.8-1.2-2.9 .6z" fill="#681a16" stroke="#681a16" stroke-width="0.6"/>
<path d="M259.8 37.4l2.8-1.2-2.9-.5-2.8 1.2zM265.5 36.7l2.9-1.2-2.9-.5-2.9 1.2zM271.3 36.1l2.9-1.2-2.9-.5-2.9 1.1zM268.4 35.5l2.9-1.1-2.9-.5-2.9 1.1zM277.1 35.5l2.8-1.1-2.9-.6-2.8 1.1zM274.2 34.9l2.8-1.1-2.9-.5-2.8 1.1zM282.8 35.1l2.9-1.1-2.9-.7-2.9 1.1zM279.9 34.4l2.9-1.1-2.9-.6-2.9 1.1zM288.6 34.7l2.9-1.1-2.9-.7-2.9 1.1zM285.7 34l2.9-1.1-2.9-.6-2.9 1zM294.4 34.4l2.9-1-2.9-.8-2.9 1zM291.5 33.6l2.9-1-2.9-.7-2.9 1zM300.2 34.2l2.9-1-3-.8-2.8 1zM297.3 33.4l2.8-1-2.9-.7-2.8 .9zM306 34l2.8-.9-2.9-.9-2.8 1zM303.1 33.2l2.8-1-2.9-.7-2.9 .9zM311.8 33.9l2.8-.9-2.9-.8-2.9 .9zM308.8 33.1l2.9-.9-2.9-.9-2.9 .9zM317.5 33.9l2.9-.8-2.9-.9-2.9 .8zM314.6 33l2.9-.8-2.9-.9-2.9 .9zM323.3 34l2.9-.8-2.9-1-2.9 .9zM320.4 33.1l2.9-.9-2.9-.8-2.9 .8zM332 35.2l2.9-.8-2.9-1-2.9 .8zM329.1 34.2l2.9-.8-2.9-1-2.9 .8zM337.8 35.4l2.9-.7-2.9-1.1-2.9 .8zM334.9 34.4l2.9-.8-2.9-.9-2.9 .7zM343.6 35.7l2.9-.6-2.9-1.1-2.9 .7zM340.7 34.7l2.9-.7-2.9-1-2.9 .6zM352.3 37.3l2.8-.7-2.9-1.1-2.8 .6zM349.4 36.1l2.8-.6-2.9-1.1-2.8 .7zM358 37.8l2.9-.6-2.9-1.1-2.9 .5zM355.1 36.6l2.9-.5-2.9-1.1-2.9 .5zM363.8 38.4l2.9-.6-2.9-1.1-2.9 .5zM372.4 40.3l2.9-.5-2.9-1.2-2.9 .4z" fill="#5f1816" stroke="#5f1816" stroke-width="0.6"/>
<path d="M254 36.6l2.8-1.2-2.8-.2-2.9 1.1zM259.7 35.7l2.9-1.1-2.9-.3-2.9 1.1zM256.8 35.4l2.9-1.1-2.9-.2-2.8 1.1zM262.6 34.6l2.9-1.1-2.9-.3-2.9 1.1zM268.4 33.9l2.8-1.1-2.9-.3-2.8 1zM274.1 33.3l2.9-1.1-2.9-.4-2.9 1zM279.9 32.7l2.9-1-2.9-.4-2.9 .9zM355.1 35l2.9-.5-2.9-1-2.9 .4zM363.8 36.7l2.8-.4-2.9-1.1-2.8 .4zM360.9 35.6l2.8-.4-2.8-1-2.9 .3zM372.4 38.6l2.9-.3-2.9-1.2-2.9 .3zM369.5 37.4l2.9-.3-2.9-1.1-2.9 .3zM366.6 36.3l2.9-.3-2.9-1.1-2.9 .3zM378.1 39.4l2.9-.2-2.9-1.2-2.8 .3zM375.3 38.3l2.8-.3-2.9-1.1-2.8 .2zM386.7 41.6l2.9-.2-2.9-1.2-2.8 .2zM383.9 40.4l2.8-.2-2.8-1.2-2.9 .2z" fill="#4c1a17" stroke="#4c1a17" stroke-width="0.6"/>
<path d="M265.5 35l2.9-1.1-2.9-.4-2.9 1.1zM271.3 34.4l2.8-1.1-2.9-.5-2.8 1.1zM277 33.8l2.9-1.1-2.9-.5-2.9 1.1zM282.8 33.3l2.9-1-2.9-.6-2.9 1zM288.6 32.9l2.9-1-3-.6-2.8 1zM285.7 32.3l2.8-1-2.9-.5-2.8 .9zM294.4 32.6l2.8-.9-2.9-.7-2.8 .9zM291.5 31.9l2.8-.9-2.9-.6-2.9 .9zM300.1 32.4l2.9-.9-2.9-.7-2.9 .9zM297.2 31.7l2.9-.9-2.9-.7-2.9 .9zM305.9 32.2l2.9-.9-2.9-.7-2.9 .9zM303 31.5l2.9-.9-2.9-.7-2.9 .9zM311.7 32.2l2.9-.9-2.9-.8-2.9 .8zM308.8 31.3l2.9-.8-2.9-.7-2.9 .8zM317.5 32.2l2.9-.8-2.9-.9-2.9 .8zM314.6 31.3l2.9-.8-2.9-.7-2.9 .7zM326.2 33.2l2.9-.8-2.9-.9-2.9 .7zM323.3 32.2l2.9-.7-2.9-.8-2.9 .7zM332 33.4l2.9-.7-2.9-1-2.9 .7zM329.1 32.4l2.9-.7-2.9-.9-2.9 .7zM337.8 33.6l2.9-.6-2.9-1-2.9 .7zM334.9 32.7l2.9-.7-2.9-.9-2.9 .6zM346.5 35.1l2.8-.7-2.9-1-2.8 .6zM343.6 34l2.8-.6-2.9-1-2.8 .6zM352.2 35.5l2.9-.5-2.9-1.1-2.9 .5zM349.3 34.4l2.9-.5-2.9-1-2.9 .5zM360.9 37.2l2.9-.5-2.9-1.1-2.9 .5zM358 36.1l2.9-.5-2.9-1.1-2.9 .5zM366.7 37.8l2.8-.4-2.9-1.1-2.8 .4z" fill="#531616" stroke="#531616" stroke-width="0.6"/>
<path d="M259.7 34.3l2.9-1.1-2.9-.2-2.9 1.1zM265.5 33.5l2.8-1-2.9-.3-2.8 1zM268.3 32.5l2.9-1-2.9-.2-2.9 .9zM274.1 31.8l2.9-.9-2.9-.3-2.9 .9zM279.9 31.3l2.8-1-2.9-.3-2.8 .9zM285.6 30.8l2.9-.9-2.9-.4-2.9 .8zM291.4 30.4l2.9-.8-2.9-.5-2.9 .8zM297.2 30.1l2.9-.8-2.9-.5-2.9 .8zM303 29.9l2.9-.7-2.9-.6-2.9 .7zM300.1 29.3l2.9-.7-2.9-.6-2.9 .8zM308.8 29.8l2.9-.7-2.9-.7-2.9 .8zM305.9 29.2l2.9-.8-2.9-.5-2.9 .7zM314.6 29.8l2.9-.7-2.9-.7-2.9 .7zM311.7 29.1l2.9-.7-3-.6-2.8 .6zM320.4 29.9l2.9-.7-3-.7-2.8 .6zM329.1 30.8l2.9-.5-3-.9-2.8 .6zM326.2 30l2.8-.6-2.9-.7-2.8 .5zM334.9 31.1l2.8-.5-2.9-.8-2.8 .5zM332 30.3l2.8-.5-2.9-.8-2.9 .4zM340.6 31.5l2.9-.5-2.9-.8-2.9 .4zM349.3 32.9l2.9-.4-2.9-.9-2.9 .4zM346.4 32l2.9-.4-2.9-.9-2.9 .3zM355.1 33.5l2.9-.3-2.9-1-2.9 .3zM363.7 35.2l2.9-.3-2.9-1-2.8 .3zM360.9 34.2l2.8-.3-2.9-1-2.8 .3zM369.5 36l2.9-.2-2.9-1-2.9 .1z" fill="#441516" stroke="#441516" stroke-width="0.6"/>
<path d="M262.6 33.2l2.8-1-2.9-.1-2.8 .9zM265.4 32.2l2.9-.9-2.9-.2-2.9 1zM271.2 31.5l2.9-.9-2.9-.2-2.9 .9zM268.3 31.3l2.9-.9-2.9-.2-2.9 .9zM277 30.9l2.8-.9-2.9-.3-2.8 .9zM274.1 30.6l2.8-.9-2.8-.2-2.9 .9zM271.2 30.4l2.9-.9-2.9-.1-2.9 .8zM282.7 30.3l2.9-.8-2.9-.4-2.9 .9zM279.8 30l2.9-.9-2.9-.2-2.9 .8zM276.9 29.7l2.9-.8-2.9-.2-2.8 .8zM274.1 29.5l2.8-.8-2.9-.1-2.8 .8zM288.5 29.9l2.9-.8-2.9-.4-2.9 .8zM294.3 29.6l2.9-.8-2.9-.5-2.9 .8zM317.5 29.1l2.8-.6-2.9-.7-2.8 .6zM323.3 29.2l2.8-.5-2.9-.7-2.9 .5zM337.7 30.6l2.9-.4-2.9-.9-2.9 .5zM343.5 31l2.9-.3-2.9-.9-2.9 .4zM352.2 32.5l2.9-.3-2.9-.9-2.9 .3zM349.3 31.6l2.9-.3-2.9-.9-2.9 .3zM358 33.2l2.8-.3-2.9-.9-2.8 .2zM355.1 32.2l2.8-.2-2.9-.9-2.8 .2zM352.2 31.3l2.8-.2-2.8-.9-2.9 .2zM366.6 34.9l2.9-.1-2.9-1-2.9 .1zM363.7 33.9l2.9-.1-2.9-1-2.9 .1zM360.8 32.9l2.9-.1-2.9-.9-2.9 .1zM357.9 32l2.9-.1-2.9-.9-2.9 .1zM355 31.1l2.9-.1-2.9-.8-2.8 0zM352.2 30.2l2.8 0-2.9-.8-2.8 0zM372.4 35.8l2.8 0-2.9-1.1-2.8 .1zM369.5 34.8l2.8-.1-2.8-.9-2.9 0zM366.6 33.8l2.9 0-2.9-1-2.9 0zM363.7 32.8l2.9 0-2.9-.9-2.9 0zM360.8 31.9l2.9 0-2.9-.8-2.9-.1zM357.9 31l2.9 .1-2.9-.9-2.9 0zM355 30.2l2.9 0-2.9-.7-2.9-.1zM372.3 34.7l2.9 .1-2.9-.9-2.8-.1zM369.5 33.8l2.8 .1-2.9-1-2.8-.1zM366.6 32.8l2.8 .1-2.9-.9-2.8-.1zM363.7 31.9l2.8 .1-2.8-.8-2.9-.1zM360.8 31.1l2.9 .1-2.9-.8-2.9-.2zM357.9 30.2l2.9 .2-2.9-.8-2.9-.1zM355 29.5l2.9 .1-2.9-.7-2.9-.2zM352.1 28.7l2.9 .2-2.9-.6-2.9-.3zM334.7 25.5l2.9 .3-2.9-.4-2.9-.3zM372.3 33.9l2.9 .2-2.9-.9-2.9-.3zM369.4 32.9l2.9 .3-2.9-.9-2.9-.3zM366.5 32l2.9 .3-2.9-.8-2.8-.3zM363.7 31.2l2.8 .3-2.9-.8-2.8-.3zM360.8 30.4l2.8 .3-2.9-.7-2.8-.4zM357.9 29.6l2.8 .4-2.9-.7-2.8-.4zM355 28.9l2.8 .4-2.8-.7-2.9-.3zM352.1 28.3l2.9 .3-2.9-.6-2.9-.3zM349.2 27.7l2.9 .3-2.9-.5-2.9-.4zM346.3 27.1l2.9 .4-2.9-.5-2.9-.4zM343.4 26.6l2.9 .4-2.9-.5-2.9-.4zM369.4 32.3l2.9 .4-2.9-.8-2.9-.4zM366.5 31.5l2.9 .4-2.9-.8-2.9-.4zM363.6 30.7l2.9 .4-2.9-.7-2.9-.4zM360.7 30l2.9 .4-2.9-.7-2.9-.4zM357.8 29.3l2.9 .4-2.9-.6-2.8-.5zM355 28.6l2.8 .5-2.9-.6-2.8-.5zM352.1 28l2.8 .5-2.9-.5-2.8-.5z" fill="#3f1716" stroke="#3f1716" stroke-width="0.6"/>
<path d="M271.2 32.8l2.9-1-2.9-.3-2.9 1zM277 32.2l2.9-.9-2.9-.4-2.9 .9zM282.8 31.7l2.8-.9-2.9-.5-2.8 1zM288.5 31.3l2.9-.9-2.9-.5-2.9 .9zM294.3 31l2.9-.9-2.9-.5-2.9 .8zM300.1 30.8l2.9-.9-2.9-.6-2.9 .8zM305.9 30.6l2.9-.8-2.9-.6-2.9 .7zM311.7 30.5l2.9-.7-2.9-.7-2.9 .7zM320.4 31.4l2.9-.7-2.9-.8-2.9 .6zM317.5 30.5l2.9-.6-2.9-.8-2.9 .7zM326.2 31.5l2.9-.7-2.9-.8-2.9 .7zM323.3 30.7l2.9-.7-2.9-.8-2.9 .7zM332 31.7l2.9-.6-2.9-.8-2.9 .5zM340.7 33l2.8-.6-2.9-.9-2.8 .5zM337.8 32l2.8-.5-2.9-.9-2.8 .5zM346.4 33.4l2.9-.5-2.9-.9-2.9 .4zM343.5 32.4l2.9-.4-2.9-1-2.9 .5zM352.2 33.9l2.9-.4-2.9-1-2.9 .4zM358 34.5l2.9-.3-2.9-1-2.9 .3z" fill="#491516" stroke="#491516" stroke-width="0.6"/>
<path d="M285.6 29.5l2.9-.8-2.9-.4-2.9 .8zM282.7 29.1l2.9-.8-2.9-.2-2.9 .8zM279.8 28.9l2.9-.8-2.9-.1-2.9 .7zM276.9 28.7l2.9-.7-2.9-.1-2.9 .7zM291.4 29.1l2.9-.8-2.9-.4-2.9 .8zM288.5 28.7l2.9-.8-2.9-.3-2.9 .7zM285.6 28.3l2.9-.7-2.9-.2-2.9 .7zM282.7 28.1l2.9-.7-2.9-.1-2.9 .7zM279.8 28l2.9-.7-2.9 0-2.9 .6zM297.2 28.8l2.9-.8-2.9-.4-2.9 .7zM294.3 28.3l2.9-.7-2.9-.4-2.9 .7zM291.4 27.9l2.9-.7-2.9-.3-2.9 .7zM288.5 27.6l2.9-.7-2.9-.1-2.9 .6zM285.6 27.4l2.9-.6-2.9-.1-2.9 .6zM282.7 27.3l2.9-.6-2.9 0-2.9 .6zM303 28.6l2.9-.7-3-.5-2.8 .6zM300.1 28l2.8-.6-2.9-.4-2.8 .6zM297.2 27.6l2.8-.6-2.9-.4-2.8 .6zM294.3 27.2l2.8-.6-2.9-.3-2.8 .6zM291.4 26.9l2.8-.6-2.9-.1-2.8 .6zM288.5 26.8l2.8-.6-2.8-.1-2.9 .6zM285.6 26.7l2.9-.6-2.9 0-2.9 .6zM308.8 28.4l2.8-.6-2.9-.5-2.8 .6zM305.9 27.9l2.8-.6-2.9-.5-2.9 .6zM302.9 27.4l2.9-.6-2.9-.4-2.9 .6zM300 27l2.9-.6-2.9-.3-2.9 .5zM297.1 26.6l2.9-.5-2.9-.3-2.9 .5zM294.2 26.3l2.9-.5-2.9-.1-2.9 .5zM291.3 26.2l2.9-.5-2.9-.1-2.8 .5zM288.5 26.1l2.8-.5-2.8 0-2.9 .5zM314.6 28.4l2.8-.6-2.9-.5-2.9 .5zM311.6 27.8l2.9-.5-2.9-.6-2.9 .6zM308.7 27.3l2.9-.6-2.9-.4-2.9 .5zM305.8 26.8l2.9-.5-2.9-.4-2.9 .5zM302.9 26.4l2.9-.5-2.9-.3-2.9 .5zM300 26.1l2.9-.5-2.9-.3-2.9 .5zM297.1 25.8l2.9-.5-2.9-.1-2.9 .5zM294.2 25.7l2.9-.5-2.9 0-2.9 .4zM291.3 25.6l2.9-.4-2.9 0-2.8 .4zM320.3 28.5l2.9-.5-2.9-.7-2.9 .5zM317.4 27.8l2.9-.5-2.9-.5-2.9 .5zM314.5 27.3l2.9-.5-2.9-.5-2.9 .4zM311.6 26.7l2.9-.4-2.9-.5-2.9 .5zM308.7 26.3l2.9-.5-2.9-.4-2.9 .5zM305.8 25.9l2.9-.5-2.9-.2-2.9 .4zM302.9 25.6l2.9-.4-2.9-.2-2.9 .3zM300 25.3l2.9-.3-2.9-.2-2.9 .4zM297.1 25.2l2.9-.4-2.9 0-2.9 .4zM294.2 25.2l2.9-.4-2.9 .1-2.9 .3zM329 29.4l2.9-.4-2.9-.8-2.9 .5zM326.1 28.7l2.9-.5-2.9-.7-2.9 .5zM323.2 28l2.9-.5-2.9-.6-2.9 .4zM320.3 27.3l2.9-.4-2.9-.5-2.9 .4zM317.4 26.8l2.9-.4-2.9-.5-2.9 .4zM314.5 26.3l2.9-.4-2.9-.5-2.9 .4zM311.6 25.8l2.9-.4-2.9-.3-2.9 .3zM308.7 25.4l2.9-.3-2.9-.3-2.9 .4zM305.8 25.2l2.9-.4-2.9-.2-2.9 .4zM302.9 25l2.9-.4-2.9-.1-2.9 .3zM300 24.8l2.9-.3-2.9 0-2.9 .3zM297.1 24.8l2.9-.3-2.9 .1-2.9 .3zM334.8 29.8l2.9-.5-2.9-.7-2.9 .4zM331.9 29l2.9-.4-2.9-.8-2.9 .4zM329 28.2l2.9-.4-2.9-.6-2.9 .3zM326.1 27.5l2.9-.3-2.9-.6-2.9 .3zM323.2 26.9l2.9-.3-2.9-.6-2.9 .4zM320.3 26.4l2.9-.4-2.9-.4-2.9 .3zM317.4 25.9l2.9-.3-2.9-.4-2.9 .2zM314.5 25.4l2.9-.2-2.9-.4-2.9 .3zM311.6 25.1l2.9-.3-2.9-.2-2.9 .2zM308.7 24.8l2.9-.2-2.9-.2-2.9 .2zM305.8 24.6l2.9-.2-2.9-.1-2.9 .2zM302.9 24.5l2.9-.2-2.9 0-2.9 .2zM300 24.5l2.9-.2-2.9 .1-2.9 .2zM340.6 30.2l2.9-.4-2.9-.8-2.9 .3zM337.7 29.3l2.9-.3-2.9-.7-2.9 .3zM334.8 28.6l2.9-.3-2.9-.7-2.9 .2zM331.9 27.8l2.9-.2-2.9-.7-2.9 .3zM329 27.2l2.9-.3-2.9-.6-2.9 .3zM326.1 26.6l2.9-.3-2.9-.5-2.9 .2zM323.2 26l2.9-.2-2.9-.4-2.9 .2zM320.3 25.6l2.9-.2-2.9-.4-2.9 .2zM317.4 25.2l2.9-.2-2.9-.4-2.9 .2zM314.5 24.8l2.9-.2-2.9-.2-2.9 .2zM311.6 24.6l2.9-.2-2.9-.2-2.9 .2zM308.7 24.4l2.9-.2-2.9 0-2.9 .1zM305.8 24.3l2.9-.1-2.9 0-2.9 .1zM302.9 24.3l2.9-.1-2.9 .1-2.9 .1zM346.4 30.7l2.9-.3-2.9-.8-2.9 .2zM343.5 29.8l2.9-.2-2.9-.8-2.9 .2zM340.6 29l2.9-.2-2.9-.7-2.9 .2zM337.7 28.3l2.9-.2-2.9-.7-2.9 .2zM334.8 27.6l2.9-.2-2.9-.7-2.9 .2zM331.9 26.9l2.9-.2-2.9-.5-2.9 .1zM329 26.3l2.9-.1-2.9-.5-2.9 .1zM326.1 25.8l2.9-.1-2.9-.5-2.9 .2zM323.2 25.4l2.9-.2-2.9-.3-2.9 .1zM320.3 25l2.9-.1-2.9-.3-2.9 0zM317.4 24.6l2.9 0-2.9-.3-2.9 .1zM314.5 24.4l2.9-.1-2.9-.1-2.9 0zM311.6 24.2l2.9 0-2.9-.1-2.9 .1zM308.7 24.2l2.9-.1-2.9 .1-2.9 0zM349.3 30.4l2.9-.2-2.9-.8-2.9 .2zM346.4 29.6l2.9-.2-2.9-.7-2.9 .1zM343.5 28.8l2.9-.1-2.9-.8-2.9 .2zM340.6 28.1l2.9-.2-2.9-.6-2.9 .1zM337.7 27.4l2.9-.1-2.9-.6-2.9 0zM334.8 26.7l2.9 0-2.9-.6-2.9 .1zM331.9 26.2l2.9-.1-2.9-.5-2.9 .1zM329 25.7l2.9-.1-2.9-.4-2.9 0zM326.1 25.2l2.9 0-2.9-.4-2.9 .1zM323.2 24.9l2.9-.1-2.9-.2-2.9 0zM320.3 24.6l2.9 0-2.9-.3-2.9 0zM317.4 24.3l2.9 0-2.9-.1-2.9 0zM314.5 24.2l2.9 0-2.9 0-2.9-.1zM349.3 29.4l2.8 0-2.9-.8-2.8 .1zM346.4 28.7l2.8-.1-2.9-.7-2.8 0zM343.5 27.9l2.8 0-2.9-.6-2.8 0zM340.6 27.3l2.8 0-2.9-.6-2.8 0zM337.7 26.7l2.8 0-2.9-.5-2.8-.1zM334.8 26.1l2.8 .1-2.9-.5-2.8-.1zM331.9 25.6l2.8 .1-2.9-.4-2.8-.1zM329 25.2l2.8 .1-2.9-.4-2.8-.1zM326.1 24.8l2.8 .1-2.9-.2-2.8-.1zM323.2 24.6l2.8 .1-2.8-.2-2.9-.2zM320.3 24.3l2.9 .2-2.9-.2-2.9-.1zM352.1 29.4l2.9 .1-2.9-.8-2.9-.1zM349.2 28.6l2.9 .1-2.9-.7-2.9-.1zM346.3 27.9l2.9 .1-2.9-.6-2.9-.1zM343.4 27.3l2.9 .1-2.9-.6-2.9-.1zM340.5 26.7l2.9 .1-2.9-.5-2.9-.1zM337.6 26.2l2.9 .1-2.9-.4-2.9-.2zM334.7 25.7l2.9 .2-2.9-.4-2.9-.2zM331.8 25.3l2.9 .2-2.9-.4-2.9-.2zM328.9 24.9l2.9 .2-2.9-.2-2.9-.2zM349.2 28l2.9 .3-2.9-.6-2.9-.3zM346.3 27.4l2.9 .3-2.9-.6-2.9-.3zM343.4 26.8l2.9 .3-2.9-.5-2.9-.3zM340.5 26.3l2.9 .3-2.9-.5-2.9-.2zM337.6 25.9l2.9 .2-2.9-.3-2.9-.3z" fill="#3b1416" stroke="#3b1416" stroke-width="0.6"/>
<path d="M411.9 79.4l2.9-1.4-2.8-2.5-2.8 1.4zM414.8 78l2.8-1.3-2.7-2.5-2.9 1.3zM420.4 79.2l2.9-1.3-2.8-2.5-2.9 1.3zM423.3 77.9l2.8-1.2-2.7-2.5-2.9 1.2zM426.1 76.7l2.9-1.1-2.8-2.5-2.8 1.1zM429 75.6l2.8-1.1-2.7-2.4-2.9 1zM431.8 74.5l2.9-.9-2.8-2.4-2.8 .9zM434.7 73.6l2.8-.8-2.7-2.4-2.9 .8z" fill="#46a422" stroke="#46a422" stroke-width="0.6"/>
<path d="M415.2 58.7l2.8-.6-2.8-1.7-2.8 .5zM420.8 60l2.9-.5-2.8-1.8-2.9 .4zM418 58.1l2.9-.4-2.8-1.8-2.9 .5zM423.7 59.5l2.8-.4-2.8-1.8-2.8 .4zM420.9 57.7l2.8-.4-2.8-1.7-2.8 .3zM418.1 55.9l2.8-.3-2.8-1.7-2.9 .3zM429.3 60.9l2.8-.3-2.8-1.8-2.8 .3zM426.5 59.1l2.8-.3-2.8-1.8-2.8 .3z" fill="#656e1e" stroke="#656e1e" stroke-width="0.6"/>
<path d="M372.4 37.1l2.8-.2-2.8-1.1-2.9 .2zM381 39.2l2.9-.2-2.9-1.1-2.9 .1zM378.1 38l2.9-.1-2.9-1.1-2.9 .1zM375.2 36.9l2.9-.1-2.9-1-2.8 0zM389.6 41.4l2.8 0-2.8-1.2-2.9 0zM386.7 40.2l2.9 0-2.9-1.2-2.8 0zM383.9 39l2.8 0-2.9-1.1-2.8 0zM381 37.9l2.8 0-2.8-1.1-2.9 0zM378.1 36.8l2.9 0-2.9-1-2.9 0zM375.2 35.8l2.9 0-2.9-1-2.9-.1zM392.4 41.4l2.9 0-2.9-1.1-2.8-.1zM389.6 40.2l2.8 .1-2.8-1.2-2.9-.1zM386.7 39l2.9 .1-2.9-1-2.9-.2zM383.8 37.9l2.9 .2-2.9-1.1-2.8-.2zM381 36.8l2.8 .2-2.9-1-2.8-.2zM378.1 35.8l2.8 .2-2.8-1-2.9-.2zM375.2 34.8l2.9 .2-2.9-.9-2.9-.2zM392.4 40.3l2.9 .2-2.9-1.1-2.8-.3zM389.6 39.1l2.8 .3-2.9-1.1-2.8-.2zM386.7 38.1l2.8 .2-2.8-1-2.9-.3zM383.8 37l2.9 .3-2.9-1-2.9-.3zM380.9 36l2.9 .3-2.9-1-2.8-.3zM378.1 35l2.8 .3-2.9-.9-2.8-.3zM375.2 34.1l2.8 .3-2.9-.9-2.8-.3zM372.3 33.2l2.8 .3-2.8-.8-2.9-.4zM392.4 39.4l2.8 .4-2.8-1.1-2.9-.4zM389.5 38.3l2.9 .4-2.9-1-2.8-.4zM386.7 37.3l2.8 .4-2.9-.9-2.8-.5zM383.8 36.3l2.8 .5-2.9-1-2.8-.5zM380.9 35.3l2.8 .5-2.8-.9-2.9-.5zM378 34.4l2.9 .5-2.9-.9-2.9-.5zM375.1 33.5l2.9 .5-2.9-.8-2.8-.5zM372.3 32.7l2.8 .5-2.9-.8-2.8-.5zM369.4 31.9l2.8 .5-2.9-.7-2.8-.6zM366.5 31.1l2.8 .6-2.8-.7-2.9-.6zM363.6 30.4l2.9 .6-2.9-.7-2.9-.6zM360.7 29.7l2.9 .6-2.9-.6-2.9-.6zM389.5 37.7l2.8 .6-2.8-.9-2.9-.6zM386.6 36.8l2.9 .6-2.9-1-2.9-.6zM383.7 35.8l2.9 .6-2.9-.8-2.8-.7zM380.9 34.9l2.8 .7-2.9-.9-2.8-.7zM378 34l2.8 .7-2.8-.8-2.9-.7zM375.1 33.2l2.9 .7-2.9-.8-2.9-.7zM372.2 32.4l2.9 .7-2.9-.7-2.9-.7z" fill="#431e17" stroke="#431e17" stroke-width="0.6"/>
<path d="M437.5 72.8l2.8-.8-2.7-2.3-2.8 .7zM434.8 70.4l2.8-.7-2.8-2.2-2.8 .6zM440.3 72l2.9-.6-2.8-2.3-2.8 .6zM437.6 69.7l2.8-.6-2.8-2.1-2.8 .5zM443.2 71.4l2.8-.5-2.8-2.2-2.8 .4zM440.4 69.1l2.8-.4-2.7-2.2-2.9 .5z" fill="#479221" stroke="#479221" stroke-width="0.6"/>
<path d="M432 68.1l2.8-.6-2.8-2.1-2.8 .6zM429.2 66l2.8-.6-2.7-2.1-2.9 .6zM434.8 67.5l2.8-.5-2.7-2.1-2.9 .5zM432 65.4l2.9-.5-2.8-2.1-2.8 .5zM437.6 67l2.9-.5-2.8-2-2.8 .4zM434.9 64.9l2.8-.4-2.8-2-2.8 .3zM432.1 62.8l2.8-.3-2.8-1.9-2.8 .3zM440.5 66.5l2.8-.2-2.8-2.1-2.8 .3zM437.7 64.5l2.8-.3-2.8-1.9-2.8 .2z" fill="#578620" stroke="#578620" stroke-width="0.6"/>
<path d="M403.9 49.9l2.8-.4-2.8-1.4-2.9 .3zM412.4 52.6l2.8-.3-2.8-1.5-2.8 .2zM409.6 51l2.8-.2-2.8-1.5-2.9 .2zM406.7 49.5l2.9-.2-2.9-1.4-2.8 .2zM418.1 53.9l2.8-.2-2.8-1.5-2.9 .1zM415.2 52.3l2.9-.1-2.9-1.5-2.8 .1z" fill="#5e451c" stroke="#5e451c" stroke-width="0.6"/>
<path d="M398.2 46.9l2.8-.3-2.8-1.3-2.9 .2zM395.3 45.5l2.9-.2-2.9-1.3-2.8 .2zM403.9 48.1l2.8-.2-2.8-1.4-2.9 .1zM401 46.6l2.9-.1-2.9-1.4-2.8 .2zM398.2 45.3l2.8-.2-2.8-1.3-2.9 .2zM409.6 49.3l2.8-.1-2.8-1.4-2.9 .1zM406.7 47.9l2.9-.1-2.9-1.4-2.8 .1z" fill="#55311a" stroke="#55311a" stroke-width="0.6"/>
<path d="M415.2 54.2l2.9-.3-2.9-1.6-2.8 .3zM423.7 57.3l2.8-.3-2.8-1.6-2.8 .2zM420.9 55.6l2.8-.2-2.8-1.7-2.8 .2zM432.1 60.6l2.8-.2-2.8-1.7-2.8 .1zM429.3 58.8l2.8-.1-2.8-1.8-2.8 .1zM426.5 57l2.8-.1-2.8-1.6-2.8 .1zM434.9 60.4l2.8 0-2.8-1.8-2.8 .1z" fill="#555d1d" stroke="#555d1d" stroke-width="0.6"/>
<path d="M395.3 44l2.9-.2-2.9-1.2-2.8 .1zM392.5 42.7l2.8-.1-2.9-1.2-2.8 0zM403.9 46.5l2.8-.1-2.8-1.3-2.9 0zM401 45.1l2.9 0-2.9-1.2-2.8-.1zM398.2 43.8l2.8 .1-2.8-1.3-2.9 0zM395.3 42.6l2.9 0-2.9-1.2-2.9 0zM412.4 49.2l2.8 .1-2.8-1.4-2.8-.1zM409.6 47.8l2.8 .1-2.9-1.4-2.8-.1zM406.7 46.4l2.8 .1-2.8-1.2-2.8-.2zM403.9 45.1l2.8 .2-2.9-1.3-2.8-.1zM401 43.9l2.8 .1-2.8-1.2-2.8-.2zM398.2 42.6l2.8 .2-2.9-1.2-2.8-.2zM395.3 41.4l2.8 .2-2.8-1.1-2.9-.2zM412.4 47.9l2.8 .2-2.8-1.3-2.9-.3zM409.5 46.5l2.9 .3-2.9-1.3-2.8-.2zM406.7 45.3l2.8 .2-2.8-1.2-2.9-.3zM403.8 44l2.9 .3-2.9-1.2-2.8-.3zM401 42.8l2.8 .3-2.8-1.1-2.9-.4zM398.1 41.6l2.9 .4-2.9-1.2-2.8-.3zM395.3 40.5l2.8 .3-2.9-1-2.8-.4zM412.4 46.8l2.8 .4-2.9-1.3-2.8-.4zM409.5 45.5l2.8 .4-2.8-1.2-2.8-.4zM406.7 44.3l2.8 .4-2.9-1.1-2.8-.5zM403.8 43.1l2.8 .5-2.8-1.2-2.8-.4zM401 42l2.8 .4-2.9-1-2.8-.6zM398.1 40.8l2.8 .6-2.8-1.1-2.9-.5zM395.2 39.8l2.9 .5-2.9-1-2.8-.6zM392.4 38.7l2.8 .6-2.9-1-2.8-.6z" fill="#442a19" stroke="#442a19" stroke-width="0.6"/>
<path d="M412.4 50.8l2.8-.1-2.8-1.5-2.8 .1zM420.9 53.7l2.8 0-2.8-1.5-2.8 0zM418.1 52.2l2.8 0-2.8-1.5-2.9 0zM415.2 50.7l2.9 0-2.9-1.4-2.8-.1zM426.5 55.3l2.8 0-2.8-1.5-2.8-.1z" fill="#49401b" stroke="#49401b" stroke-width="0.6"/>
<path d="M446 70.9l2.8-.3-2.8-2.2-2.8 .3zM443.2 68.7l2.8-.3-2.7-2.1-2.8 .2zM448.8 70.6l2.8-.2-2.8-2.2-2.8 .2zM446 68.4l2.8-.2-2.7-2.1-2.8 .2zM451.6 70.4l2.8-.1-2.8-2.1-2.8 0z" fill="#3c821f" stroke="#3c821f" stroke-width="0.6"/>
<path d="M434.9 62.5l2.8-.2-2.8-1.9-2.8 .2zM443.3 66.3l2.8-.2-2.8-2-2.8 .1zM440.5 64.2l2.8-.1-2.8-1.9-2.8 .1zM437.7 62.3l2.8-.1-2.8-1.8-2.8 0zM448.8 68.2l2.8 0-2.7-2.1-2.8 0zM446.1 66.1l2.8 0-2.8-1.9-2.8-.1zM443.3 64.1l2.8 .1-2.8-1.9-2.8-.1z" fill="#436e1e" stroke="#436e1e" stroke-width="0.6"/>
<path d="M423.7 55.4l2.8-.1-2.8-1.6-2.8 0zM432.1 58.7l2.8-.1-2.8-1.6-2.8-.1zM429.3 56.9l2.8 .1-2.8-1.7-2.8 0zM440.5 62.2l2.8 .1-2.8-1.8-2.8-.1zM437.7 60.4l2.8 .1-2.8-1.7-2.8-.2zM434.9 58.6l2.8 .2-2.8-1.7-2.8-.1z" fill="#42511c" stroke="#42511c" stroke-width="0.6"/>
<path d="M423.7 53.7l2.8 .1-2.8-1.5-2.8-.1zM420.9 52.2l2.8 .1-2.8-1.5-2.8-.1zM418.1 50.7l2.8 .1-2.9-1.4-2.8-.1zM415.2 49.3l2.8 .1-2.8-1.3-2.8-.2zM432.1 57l2.8 .1-2.8-1.5-2.8-.3zM429.3 55.3l2.8 .3-2.8-1.6-2.8-.2zM426.5 53.8l2.8 .2-2.8-1.4-2.8-.3zM423.7 52.3l2.8 .3-2.8-1.5-2.8-.3zM420.9 50.8l2.8 .3-2.9-1.3-2.8-.4zM418 49.4l2.8 .4-2.8-1.4-2.8-.3zM415.2 48.1l2.8 .3-2.8-1.2-2.8-.4z" fill="#3e3a1a" stroke="#3e3a1a" stroke-width="0.6"/>
<ellipse cx="203" cy="64.2" rx="2.3" ry="1.85" fill="#ff1010" stroke="#a01010" stroke-width="0.5"/>
<ellipse cx="454" cy="72.2" rx="2.6" ry="1.8" fill="#f4c8d0" stroke="#803040" stroke-width="0.7"/>
<ellipse cx="328.4" cy="156.2" rx="2.6" ry="1.8" fill="#f4c8d0" stroke="#803040" stroke-width="0.7"/>
<ellipse cx="328.9" cy="25.9" rx="2.3" ry="1.85" fill="#ff1010" stroke="#a01010" stroke-width="0.5"/>
<ellipse cx="328.9" cy="39.5" rx="2.3" ry="1.85" fill="#ff1010" stroke="#a01010" stroke-width="0.5"/>
<ellipse cx="328.9" cy="42.5" rx="2.3" ry="1.85" fill="#ff1010" stroke="#a01010" stroke-width="0.5"/>
<ellipse cx="328.9" cy="47.6" rx="2.3" ry="1.85" fill="#ff1010" stroke="#a01010" stroke-width="0.5"/>
<path d="M35.4,331.7L160,300.6L282.8,331.6M34.1,313.2L159.8,284.1L284.1,313.2M32.8,294.7L159.6,267.6L285.4,294.8M31.5,276.2L159.4,251.1L286.7,276.4M30.2,257.7L159.2,234.6L288,258M29,239.2L158.9,218.2L289.3,239.6M66.5,323.9L61.5,233.9M97.7,316.1L94,228.7M128.8,308.3L126.5,223.4M262.4,326.5L267.5,236M241.9,321.3L245.8,232.5M221.4,316.1L224.1,228.9M201,310.9L202.4,225.3M180.5,305.7L180.7,221.7M37.4,360.7L29,239.2M160.3,326.4L158.9,218.2M280.8,360.4L289.3,239.6" stroke="#474747" stroke-width="0.95" fill="none"/>
<polygon points="158.8,402.5 280.8,360.4 160.3,326.4 37.4,360.7" fill="#ffff00"/>
<polyline points="161.2,401.6 157.2,401.3 155,401.2" fill="none" stroke="#28d8b0" stroke-width="1.1"/>
<polyline points="192.2,391 188.7,391 184.9,390.9 181,390.9 177.3,390.8 174,390.7 170.1,390.5 166.5,390.4 162.9,390.2 159.3,389.9 155.3,389.7 152.1,389.4 148.4,389.1 144.6,388.7 140.8,388.4 137.1,387.9 133.5,387.5 130,387.1 126.5,386.6 123,386.1 118.8,385.4 115.5,384.9 111.5,384.1 108.3,383.5 104.4,382.8 100.6,382 96.9,381.1 96.8,381.1" fill="none" stroke="#3ce03c" stroke-width="1.1"/>
<polyline points="52.4,365.8 50.2,364.6 48,363.3 46.1,362.1 44.4,361 42.9,359.9 42.2,359.3" fill="none" stroke="#3ce03c" stroke-width="1.1"/>
<polyline points="266.4,356.4 265.1,357.5 263.5,358.8 261.8,360 259.7,361.2 257.7,362.3 254.8,363.6 252,364.8 248.5,366.1 244.8,367.4 240.8,368.5 237.3,369.4 233.7,370.3 229.9,371.1 226.4,371.8 222.6,372.4 219.2,372.9 215.7,373.4 212,373.9 208.3,374.3 204.4,374.6 200.6,375 197.3,375.2 193.4,375.4 189.7,375.6 186.3,375.7 182.8,375.7 179.2,375.8 175.4,375.8 171.6,375.7 167.7,375.6 164.4,375.5 160.5,375.3 157.1,375.1 153.1,374.8 149.6,374.5 146.2,374.2 142.6,373.8 138.8,373.4 134.8,372.8 131.4,372.3 127.9,371.8 124.2,371.1 120.3,370.4 116.6,369.6 113,368.7 109.6,367.9 106.2,367 102.4,365.8 98.8,364.6 95.3,363.3 92.6,362.3 90,361.1 87.6,359.9 85.3,358.7 83.2,357.5 81.6,356.4 80.1,355.3 78.7,354.1 77.5,352.9 76.6,351.9 75.8,350.7 75.4,350" fill="none" stroke="#f4f418" stroke-width="1.1"/>
<polygon points="158.8,402.5 280.8,360.4 160.3,326.4 37.4,360.7" fill="none" stroke="#6060a8" stroke-width="0.8"/>
<circle cx="35.4" cy="331.7" r="0.9" fill="#111"/>
<circle cx="34.1" cy="313.2" r="0.9" fill="#111"/>
<circle cx="32.8" cy="294.7" r="0.9" fill="#111"/>
<circle cx="31.5" cy="276.2" r="0.9" fill="#111"/>
<circle cx="30.2" cy="257.7" r="0.9" fill="#111"/>
<circle cx="29" cy="239.2" r="0.9" fill="#111"/>
<circle cx="189.3" cy="392" r="0.9" fill="#111"/>
<circle cx="219.8" cy="381.5" r="0.9" fill="#111"/>
<circle cx="250.3" cy="371" r="0.9" fill="#111"/>
<circle cx="138.6" cy="395.5" r="0.9" fill="#111"/>
<circle cx="118.3" cy="388.5" r="0.9" fill="#111"/>
<circle cx="98.1" cy="381.6" r="0.9" fill="#111"/>
<circle cx="77.8" cy="374.6" r="0.9" fill="#111"/>
<circle cx="57.6" cy="367.6" r="0.9" fill="#111"/>
<path d="M159.3 352l2.9-3-2.8-2.3-2.9 3.1zM156.5 349.8l2.9-3.1-2.9-2.2-2.8 3.1zM153.7 347.6l2.8-3.1-2.8-2.2-2.9 3.1zM150.8 345.4l2.9-3.1-2.9-2.1-2.8 3zM148 343.2l2.8-3-2.8-2.1-2.9 3zM145.1 341.1l2.9-3-2.9-2-2.8 3zM162.2 349l2.9-3-2.9-2.3-2.8 3zM159.4 346.7l2.8-3-2.8-2.2-2.9 3zM156.5 344.5l2.9-3-2.9-2.1-2.8 2.9zM153.7 342.3l2.8-2.9-2.8-2.1-2.9 2.9zM165.1 346l2.8-2.9-2.8-2.3-2.9 2.9zM162.2 343.7l2.9-2.9-2.8-2.1-2.9 2.8zM167.9 343.1l2.9-2.9-2.8-2.2-2.9 2.8z" fill="#05b3be" stroke="#05b3be" stroke-width="0.6"/>
<path d="M142.3 339.1l2.8-3-2.8-2-2.9 3zM150.8 340.2l2.9-2.9-2.9-2.1-2.8 2.9zM148 338.1l2.8-2.9-2.8-2-2.9 2.9zM159.4 341.5l2.9-2.8-2.9-2.2-2.9 2.9zM156.5 339.4l2.9-2.9-2.8-2.1-2.9 2.9zM165.1 340.8l2.9-2.8-2.9-2.2-2.8 2.9zM170.8 340.2l2.9-2.7-2.9-2.2-2.8 2.7z" fill="#06b5a6" stroke="#06b5a6" stroke-width="0.6"/>
<path d="M139.4 337.1l2.9-3-2.9-2-2.8 3zM136.6 335.1l2.8-3-2.9-1.9-2.8 3zM145.1 336.1l2.9-2.9-2.9-2-2.8 2.9zM153.7 337.3l2.9-2.9-2.9-2.1-2.9 2.9zM162.3 338.7l2.8-2.9-2.8-2.1-2.9 2.8zM159.4 336.5l2.9-2.8-2.9-2.1-2.8 2.8zM168 338l2.8-2.7-2.8-2.2-2.9 2.7zM173.7 337.5l2.9-2.7-2.9-2.2-2.9 2.7z" fill="#06b493" stroke="#06b493" stroke-width="0.6"/>
<path d="M133.7 333.2l2.8-3-2.8-1.9-2.9 3zM130.8 331.3l2.9-3-2.9-1.8-2.8 2.9zM142.3 334.1l2.8-2.9-2.8-2-2.9 2.9zM139.4 332.1l2.9-2.9-2.9-1.9-2.9 2.9zM150.8 335.2l2.9-2.9-2.9-2-2.8 2.9zM148 333.2l2.8-2.9-2.8-2-2.9 2.9zM156.6 334.4l2.8-2.8-2.8-2-2.9 2.7zM165.1 335.8l2.9-2.7-2.8-2.1-2.9 2.7zM162.3 333.7l2.9-2.7-2.9-2.1-2.9 2.7zM170.8 335.3l2.9-2.7-2.8-2.2-2.9 2.7zM176.6 334.8l2.8-2.6-2.8-2.2-2.9 2.6z" fill="#06b37f" stroke="#06b37f" stroke-width="0.6"/>
<path d="M128 329.4l2.8-2.9-2.9-1.8-2.8 2.9zM136.5 330.2l2.9-2.9-2.9-1.8-2.8 2.8zM145.1 331.2l2.9-2.9-2.9-1.9-2.8 2.8zM153.7 332.3l2.9-2.7-2.9-2-2.9 2.7zM150.8 330.3l2.9-2.7-2.9-2-2.8 2.7zM159.4 331.6l2.9-2.7-2.9-2-2.8 2.7zM168 333.1l2.9-2.7-2.9-2.1-2.8 2.7zM165.2 331l2.8-2.7-2.8-2-2.9 2.6zM173.7 332.6l2.9-2.6-2.8-2.1-2.9 2.5zM179.4 332.2l2.9-2.6-2.8-2.1-2.9 2.5z" fill="#06b36c" stroke="#06b36c" stroke-width="0.6"/>
<path d="M125.1 327.6l2.8-2.9-2.9-1.7-2.8 2.9zM122.2 325.9l2.8-2.9-2.8-1.7-2.9 2.9zM133.7 328.3l2.8-2.8-2.9-1.9-2.8 2.9zM130.8 326.5l2.8-2.9-2.8-1.7-2.9 2.8zM142.3 329.2l2.8-2.8-2.9-1.9-2.8 2.8zM139.4 327.3l2.8-2.8-2.8-1.8-2.9 2.8zM148 328.3l2.8-2.7-2.8-1.9-2.9 2.7zM156.6 329.6l2.8-2.7-2.8-2-2.9 2.7zM162.3 328.9l2.9-2.6-2.9-2-2.9 2.6zM170.9 330.4l2.9-2.5-2.9-2.1-2.9 2.5zM176.6 330l2.9-2.5-2.9-2.1-2.8 2.5zM182.3 329.6l2.9-2.4-2.8-2.2-2.9 2.5z" fill="#06b15c" stroke="#06b15c" stroke-width="0.6"/>
<path d="M119.3 324.2l2.9-2.9-2.9-1.7-2.9 2.9zM127.9 324.7l2.9-2.8-2.9-1.8-2.9 2.9zM136.5 325.5l2.9-2.8-2.9-1.8-2.9 2.7zM145.1 326.4l2.9-2.7-2.9-1.9-2.9 2.7zM153.7 327.6l2.9-2.7-2.9-2-2.9 2.7zM159.4 326.9l2.9-2.6-2.8-2-2.9 2.6zM168 328.3l2.9-2.5-2.8-2.1-2.9 2.6zM173.8 327.9l2.8-2.5-2.8-2.1-2.9 2.5zM179.5 327.5l2.9-2.5-2.9-2.1-2.9 2.5zM185.2 327.2l2.9-2.4-2.8-2.1-2.9 2.3z" fill="#06b14d" stroke="#06b14d" stroke-width="0.6"/>
<path d="M116.4 322.5l2.9-2.9-2.9-1.5-2.9 2.8zM113.5 320.9l2.9-2.8-2.9-1.6-2.8 2.9zM125 323l2.9-2.9-2.9-1.6-2.8 2.8zM133.6 323.6l2.9-2.7-2.9-1.8-2.8 2.8zM142.2 324.5l2.9-2.7-2.9-1.8-2.8 2.7zM150.8 325.6l2.9-2.7-2.9-1.9-2.8 2.7zM156.6 324.9l2.9-2.6-2.9-2-2.9 2.6zM165.2 326.3l2.9-2.6-2.9-2-2.9 2.6zM170.9 325.8l2.9-2.5-2.9-2.1-2.8 2.5z" fill="#06af43" stroke="#06af43" stroke-width="0.6"/>
<path d="M110.7 319.4l2.8-2.9-2.9-1.5-2.8 2.9zM122.2 321.3l2.8-2.8-2.9-1.7-2.8 2.8zM119.3 319.6l2.8-2.8-2.9-1.5-2.8 2.8zM130.8 321.9l2.8-2.8-2.9-1.7-2.8 2.7zM139.4 322.7l2.8-2.7-2.9-1.8-2.8 2.7zM148 323.7l2.8-2.7-2.8-1.9-2.9 2.7zM153.7 322.9l2.9-2.6-2.9-1.9-2.9 2.6zM162.3 324.3l2.9-2.6-2.9-2-2.8 2.6zM168.1 323.7l2.8-2.5-2.8-1.9-2.9 2.4zM176.6 325.4l2.9-2.5-2.8-2-2.9 2.4zM173.8 323.3l2.9-2.4-2.9-2.1-2.9 2.4zM182.4 325l2.9-2.3-2.9-2.1-2.9 2.3zM188.1 324.8l2.9-2.3-2.8-2.1-2.9 2.3z" fill="#07b038" stroke="#07b038" stroke-width="0.6"/>
<path d="M107.8 317.9l2.8-2.9-2.9-1.4-2.8 2.8zM104.9 316.4l2.8-2.8-2.9-1.4-2.8 2.8zM102 315l2.8-2.8-2.9-1.4-2.8 2.9zM116.4 318.1l2.8-2.8-2.9-1.6-2.8 2.8zM113.5 316.5l2.8-2.8-2.9-1.5-2.8 2.8zM127.9 320.1l2.8-2.7-2.9-1.7-2.8 2.8zM125 318.5l2.8-2.8-2.9-1.6-2.8 2.7zM136.5 320.9l2.8-2.7-2.8-1.8-2.9 2.7zM133.6 319.1l2.9-2.7-2.9-1.7-2.9 2.7zM145.1 321.8l2.9-2.7-2.9-1.8-2.9 2.7zM142.2 320l2.9-2.7-2.9-1.8-2.9 2.7zM150.8 321l2.9-2.6-2.9-1.8-2.8 2.5zM159.5 322.3l2.8-2.6-2.8-1.9-2.9 2.5zM156.6 320.3l2.9-2.5-2.9-1.9-2.9 2.5zM165.2 321.7l2.9-2.4-2.9-2-2.9 2.4zM170.9 321.2l2.9-2.4-2.8-1.9-2.9 2.4zM179.5 322.9l2.9-2.3-2.8-2.1-2.9 2.4zM176.7 320.9l2.9-2.4-2.9-2-2.9 2.3zM185.3 322.7l2.9-2.3-2.9-2.1-2.9 2.3zM191 322.5l2.9-2.3-2.8-2.1-2.9 2.3z" fill="#0eae2f" stroke="#0eae2f" stroke-width="0.6"/>
<path d="M99.1 313.7l2.8-2.9-2.9-1.2-2.8 2.8zM96.2 312.4l2.8-2.8-2.9-1.3-2.8 2.8zM93.3 311.1l2.8-2.8-2.9-1.2-2.8 2.8zM90.4 309.9l2.8-2.8-2.9-1.1-2.8 2.8zM110.6 315l2.8-2.8-2.9-1.4-2.8 2.8zM107.7 313.6l2.8-2.8-2.9-1.4-2.8 2.8zM104.8 312.2l2.8-2.8-2.9-1.3-2.8 2.7zM122.1 316.8l2.8-2.7-2.8-1.6-2.9 2.8zM119.2 315.3l2.9-2.8-2.9-1.5-2.9 2.7zM116.3 313.7l2.9-2.7-2.9-1.5-2.9 2.7zM130.7 317.4l2.9-2.7-2.9-1.6-2.9 2.6zM127.8 315.7l2.9-2.6-2.9-1.7-2.9 2.7zM139.3 318.2l2.9-2.7-2.9-1.7-2.8 2.6zM136.5 316.4l2.8-2.6-2.9-1.7-2.8 2.6zM148 319.1l2.8-2.5-2.8-1.8-2.9 2.5zM145.1 317.3l2.9-2.5-2.9-1.8-2.9 2.5zM153.7 318.4l2.9-2.5-2.9-1.8-2.9 2.5zM162.3 319.7l2.9-2.4-2.9-1.9-2.8 2.4zM159.5 317.8l2.8-2.4-2.8-1.9-2.9 2.4zM168.1 319.3l2.9-2.4-2.9-2-2.9 2.4zM173.8 318.8l2.9-2.3-2.9-2-2.8 2.4zM182.4 320.6l2.9-2.3-2.8-2-2.9 2.2zM179.6 318.5l2.9-2.2-2.9-2-2.9 2.2zM188.2 320.4l2.9-2.3-2.9-2-2.9 2.2zM193.9 320.2l2.9-2.1-2.9-2.1-2.8 2.1z" fill="#15ac25" stroke="#15ac25" stroke-width="0.6"/>
<path d="M87.5 308.8l2.8-2.8-2.9-1.1-2.8 2.8zM84.6 307.7l2.8-2.8-2.9-1-2.8 2.8zM81.7 306.7l2.8-2.8-2.9-1-2.8 2.8zM78.8 305.7l2.8-2.8-2.9-.9-2.7 2.8zM76 304.8l2.7-2.8-2.8-.8-2.8 2.8zM73.1 304l2.8-2.8-2.9-.8-2.8 2.7zM70.2 303.1l2.8-2.7-2.9-.7-2.8 2.7zM67.3 302.4l2.8-2.7-2.9-.7-2.8 2.7zM64.4 301.7l2.8-2.7-2.9-.6-2.8 2.7zM101.9 310.8l2.8-2.7-2.9-1.3-2.8 2.8zM99 309.6l2.8-2.8-2.9-1.2-2.8 2.7zM96.1 308.3l2.8-2.7-2.9-1.2-2.8 2.7zM93.2 307.1l2.8-2.7-2.9-1.1-2.8 2.7zM90.3 306l2.8-2.7-2.9-1.1-2.8 2.7zM87.4 304.9l2.8-2.7-2.9-1-2.8 2.7zM84.5 303.9l2.8-2.7-2.9-1-2.8 2.7zM81.6 302.9l2.8-2.7-2.9-.9-2.8 2.7zM78.7 302l2.8-2.7-2.8-.8-2.8 2.7zM75.9 301.2l2.8-2.7-2.9-.8-2.8 2.7zM73 300.4l2.8-2.7-2.9-.7-2.8 2.7zM70.1 299.7l2.8-2.7-2.9-.7-2.8 2.7zM104.7 308.1l2.9-2.7-2.9-1.3-2.9 2.7z" fill="#1ea01d" stroke="#1ea01d" stroke-width="0.6"/>
<path d="M61.5 301.1l2.8-2.7-2.9-.6-2.7 2.7zM58.7 300.5l2.7-2.7-2.8-.5-2.8 2.7zM55.8 300l2.8-2.7-2.9-.4-2.8 2.7zM52.9 299.6l2.8-2.7-2.9-.4-2.7 2.7zM50.1 299.2l2.7-2.7-2.8-.3-2.8 2.7zM55.7 296.9l2.8-2.7-2.9-.3-2.8 2.6zM52.8 296.5l2.8-2.6-2.9-.4-2.7 2.7zM50 296.2l2.7-2.7-2.8-.2-2.8 2.6zM47.1 295.9l2.8-2.6-2.9-.2-2.7 2.6z" fill="#18911f" stroke="#18911f" stroke-width="0.6"/>
<path d="M47.2 298.9l2.8-2.7-2.9-.3-2.7 2.7zM44.4 298.6l2.7-2.7-2.8-.2-2.8 2.7zM41.5 298.4l2.8-2.7-2.9-.1-2.7 2.7zM38.7 298.3l2.7-2.7-2.8-.1-2.7 2.7zM35.9 298.2l2.7-2.7-2.8 0-2.8 2.7zM44.3 295.7l2.7-2.6-2.8-.1-2.8 2.6zM41.4 295.6l2.8-2.6-2.8-.1-2.8 2.6zM38.6 295.5l2.8-2.6-2.9 0-2.7 2.6z" fill="#108829" stroke="#108829" stroke-width="0.6"/>
<path d="M67.2 299l2.8-2.7-2.9-.6-2.8 2.7zM64.3 298.4l2.8-2.7-2.9-.5-2.8 2.6zM61.4 297.8l2.8-2.6-2.9-.5-2.7 2.6zM58.6 297.3l2.7-2.6-2.8-.5-2.8 2.7zM70 296.3l2.8-2.6-2.9-.6-2.8 2.6zM67.1 295.7l2.8-2.6-2.9-.5-2.8 2.6zM64.2 295.2l2.8-2.6-2.9-.5-2.8 2.6zM61.3 294.7l2.8-2.6-2.8-.4-2.8 2.5zM58.5 294.2l2.8-2.5-2.9-.4-2.8 2.6zM55.6 293.9l2.8-2.6-2.9-.3-2.8 2.5zM58.4 291.3l2.8-2.5-2.9-.3-2.8 2.5zM55.5 291l2.8-2.5-2.9-.2-2.7 2.5z" fill="#26931d" stroke="#26931d" stroke-width="0.6"/>
<path d="M113.4 312.2l2.9-2.7-2.9-1.4-2.9 2.7zM110.5 310.8l2.9-2.7-2.9-1.4-2.9 2.7zM107.6 309.4l2.9-2.7-2.9-1.3-2.9 2.7zM124.9 314.1l2.9-2.7-2.9-1.5-2.8 2.6zM122.1 312.5l2.8-2.6-2.9-1.5-2.8 2.6zM119.2 311l2.8-2.6-2.9-1.5-2.8 2.6zM133.6 314.7l2.8-2.6-2.9-1.6-2.8 2.6zM130.7 313.1l2.8-2.6-2.8-1.6-2.9 2.5zM127.8 311.4l2.9-2.5-2.9-1.6-2.9 2.6zM142.2 315.5l2.9-2.5-2.9-1.7-2.9 2.5zM139.3 313.8l2.9-2.5-2.9-1.7-2.9 2.5zM150.8 316.6l2.9-2.5-2.9-1.8-2.8 2.5zM148 314.8l2.8-2.5-2.9-1.8-2.8 2.5zM156.6 315.9l2.9-2.4-2.9-1.8-2.9 2.4zM153.7 314.1l2.9-2.4-2.9-1.8-2.9 2.4zM165.2 317.3l2.9-2.4-2.9-1.9-2.9 2.4zM162.3 315.4l2.9-2.4-2.9-1.9-2.8 2.4zM171 316.9l2.8-2.4-2.8-1.9-2.9 2.3zM168.1 314.9l2.9-2.3-2.9-1.9-2.9 2.3zM176.7 316.5l2.9-2.2-2.9-2-2.9 2.2zM185.3 318.3l2.9-2.2-2.8-2.1-2.9 2.3zM182.5 316.3l2.9-2.3-2.9-1.9-2.9 2.2zM191.1 318.1l2.8-2.1-2.8-2.1-2.9 2.2zM188.2 316.1l2.9-2.2-2.9-2-2.8 2.1zM196.8 318.1l2.9-2.1-2.9-2.1-2.9 2.1zM193.9 316l2.9-2.1-2.8-2-2.9 2zM199.7 316l2.9-2.1-2.9-2-2.9 2z" fill="#1ead1d" stroke="#1ead1d" stroke-width="0.6"/>
<path d="M101.8 306.8l2.9-2.7-2.9-1.2-2.9 2.7zM98.9 305.6l2.9-2.7-2.9-1.1-2.9 2.6zM96 304.4l2.9-2.6-2.9-1.2-2.9 2.7zM93.1 303.3l2.9-2.7-2.9-1-2.9 2.6zM90.2 302.2l2.9-2.6-2.9-1-2.9 2.6zM87.3 301.2l2.9-2.6-2.9-1-2.9 2.6zM84.4 300.2l2.9-2.6-2.9-.9-2.9 2.6zM81.5 299.3l2.9-2.6-2.9-.8-2.8 2.6zM78.7 298.5l2.8-2.6-2.9-.8-2.8 2.6zM75.8 297.7l2.8-2.6-2.9-.7-2.8 2.6zM72.9 297l2.8-2.6-2.9-.7-2.8 2.6zM110.5 306.7l2.8-2.6-2.9-1.3-2.8 2.6zM107.6 305.4l2.8-2.6-2.9-1.2-2.8 2.5zM104.7 304.1l2.8-2.5-2.9-1.3-2.8 2.6zM101.8 302.9l2.8-2.6-2.9-1.1-2.8 2.6zM98.9 301.8l2.8-2.6-2.9-1.1-2.8 2.5zM119.1 306.9l2.9-2.5-2.9-1.4-2.9 2.5zM116.2 305.5l2.9-2.5-2.9-1.4-2.9 2.5z" fill="#2ca31e" stroke="#2ca31e" stroke-width="0.6"/>
<path d="M52.7 293.5l2.8-2.5-2.8-.2-2.8 2.5zM49.9 293.3l2.8-2.5-2.9-.2-2.8 2.5zM47 293.1l2.8-2.5-2.8-.2-2.8 2.6zM44.2 293l2.8-2.6-2.9 0-2.7 2.5zM41.4 292.9l2.7-2.5-2.8 0-2.8 2.5zM52.7 290.8l2.7-2.5-2.8-.2-2.8 2.5zM49.8 290.6l2.8-2.5-2.9-.1-2.7 2.4zM47 290.4l2.7-2.4-2.8-.1-2.8 2.5zM44.1 290.4l2.8-2.5-2.8 0-2.8 2.5zM49.7 288l2.8-2.4-2.8 0-2.8 2.3zM46.9 287.9l2.8-2.3-2.9 0-2.7 2.3z" fill="#20841c" stroke="#20841c" stroke-width="0.6"/>
<path d="M116.3 309.5l2.8-2.6-2.9-1.4-2.8 2.6zM113.4 308.1l2.8-2.6-2.9-1.4-2.8 2.6zM124.9 309.9l2.9-2.6-2.9-1.5-2.9 2.6zM122 308.4l2.9-2.6-2.9-1.4-2.9 2.5zM136.4 312.1l2.9-2.5-2.9-1.6-2.9 2.5zM133.5 310.5l2.9-2.5-2.9-1.6-2.8 2.5zM130.7 308.9l2.8-2.5-2.9-1.6-2.8 2.5zM145.1 313l2.8-2.5-2.8-1.7-2.9 2.5zM142.2 311.3l2.9-2.5-2.9-1.7-2.9 2.5zM139.3 309.6l2.9-2.5-2.9-1.6-2.9 2.5zM150.8 312.3l2.9-2.4-2.9-1.8-2.9 2.4zM147.9 310.5l2.9-2.4-2.9-1.7-2.8 2.4zM159.5 313.5l2.8-2.4-2.8-1.8-2.9 2.4zM156.6 311.7l2.9-2.4-2.9-1.8-2.9 2.4zM153.7 309.9l2.9-2.4-2.9-1.7-2.9 2.3zM165.2 313l2.9-2.3-2.9-1.8-2.9 2.2zM162.3 311.1l2.9-2.2-2.8-1.8-2.9 2.2zM173.8 314.5l2.9-2.2-2.8-1.9-2.9 2.2zM171 312.6l2.9-2.2-2.9-1.9-2.9 2.2zM168.1 310.7l2.9-2.2-2.9-1.8-2.9 2.2zM179.6 314.3l2.9-2.2-2.9-2-2.9 2.2zM176.7 312.3l2.9-2.2-2.8-1.9-2.9 2.2zM185.4 314l2.8-2.1-2.8-2-2.9 2.2zM182.5 312.1l2.9-2.2-2.9-1.9-2.9 2.1zM191.1 313.9l2.9-2-2.9-2-2.9 2zM188.2 311.9l2.9-2-2.8-2-2.9 2zM196.8 313.9l2.9-2-2.8-2-2.9 2zM194 311.9l2.9-2-2.9-2-2.9 2zM202.6 313.9l2.9-1.9-2.9-2.1-2.9 2zM199.7 311.9l2.9-2-2.8-2-2.9 2zM205.5 312l2.9-1.9-2.9-2.1-2.9 1.9z" fill="#29ae1e" stroke="#29ae1e" stroke-width="0.6"/>
<path d="M96 300.6l2.8-2.5-2.9-1.1-2.8 2.6zM93.1 299.6l2.8-2.6-2.9-1-2.8 2.6zM90.2 298.6l2.8-2.6-2.9-.9-2.8 2.5zM87.3 297.6l2.8-2.5-2.9-.9-2.8 2.5zM84.4 296.7l2.8-2.5-2.9-.8-2.8 2.5zM81.5 295.9l2.8-2.5-2.9-.8-2.8 2.5zM78.6 295.1l2.8-2.5-2.9-.7-2.8 2.5zM75.7 294.4l2.8-2.5-2.9-.7-2.8 2.5zM107.5 301.6l2.8-2.6-2.9-1.2-2.8 2.5zM104.6 300.3l2.8-2.5-2.9-1.1-2.8 2.5zM101.7 299.2l2.8-2.5-2.9-1.1-2.8 2.5zM98.8 298.1l2.8-2.5-2.9-1-2.8 2.4zM95.9 297l2.8-2.4-2.9-1-2.8 2.4zM93 296l2.8-2.4-2.9-1-2.8 2.5zM90.1 295.1l2.8-2.5-2.9-.8-2.8 2.4zM87.2 294.2l2.8-2.4-2.9-.9-2.8 2.5z" fill="#37a020" stroke="#37a020" stroke-width="0.6"/>
<path d="M72.8 293.7l2.8-2.5-2.9-.6-2.8 2.5zM69.9 293.1l2.8-2.5-2.9-.5-2.8 2.5zM67 292.6l2.8-2.5-2.9-.5-2.8 2.5zM64.1 292.1l2.8-2.5-2.8-.4-2.8 2.5zM61.3 291.7l2.8-2.5-2.9-.4-2.8 2.5zM72.7 290.6l2.8-2.4-2.9-.5-2.8 2.4zM69.8 290.1l2.8-2.4-2.9-.5-2.8 2.4zM66.9 289.6l2.8-2.4-2.8-.4-2.8 2.4zM64.1 289.2l2.8-2.4-2.9-.4-2.8 2.4zM61.2 288.8l2.8-2.4-2.9-.3-2.8 2.4zM69.7 287.2l2.9-2.3-2.9-.4-2.8 2.3zM66.9 286.8l2.8-2.3-2.9-.4-2.8 2.3zM64 286.4l2.8-2.3-2.9-.3-2.8 2.3z" fill="#34911f" stroke="#34911f" stroke-width="0.6"/>
<path d="M113.3 304.1l2.9-2.5-3-1.3-2.8 2.5zM110.4 302.8l2.8-2.5-2.9-1.3-2.8 2.6zM127.8 307.3l2.8-2.5-2.9-1.5-2.8 2.5zM124.9 305.8l2.8-2.5-2.9-1.4-2.8 2.5zM122 304.4l2.8-2.5-2.9-1.4-2.8 2.5zM119.1 303l2.8-2.5-2.9-1.4-2.8 2.5zM116.2 301.6l2.8-2.5-2.9-1.2-2.9 2.4zM136.4 308l2.9-2.5-2.9-1.6-2.9 2.5zM133.5 306.4l2.9-2.5-2.9-1.5-2.9 2.4zM130.6 304.8l2.9-2.4-2.9-1.5-2.9 2.4zM127.7 303.3l2.9-2.4-2.9-1.4-2.9 2.4zM145.1 308.8l2.8-2.4-2.9-1.6-2.8 2.3zM142.2 307.1l2.8-2.3-2.9-1.6-2.8 2.3zM139.3 305.5l2.8-2.3-2.9-1.6-2.8 2.3zM136.4 303.9l2.8-2.3-2.9-1.5-2.8 2.3zM150.8 308.1l2.9-2.3-2.9-1.7-2.9 2.3zM147.9 306.4l2.9-2.3-2.9-1.6-2.9 2.3zM145 304.8l2.9-2.3-2.9-1.6-2.9 2.3zM159.5 309.3l2.9-2.2-2.9-1.8-2.9 2.2zM156.6 307.5l2.9-2.2-2.9-1.7-2.9 2.2zM153.7 305.8l2.9-2.2-2.9-1.7-2.9 2.2zM165.2 308.9l2.9-2.2-2.9-1.8-2.8 2.2zM162.4 307.1l2.8-2.2-2.8-1.8-2.9 2.2zM173.9 310.4l2.9-2.2-2.9-1.9-2.9 2.2zM171 308.5l2.9-2.2-2.9-1.8-2.9 2.2zM168.1 306.7l2.9-2.2-2.9-1.8-2.9 2.2zM179.6 310.1l2.9-2.1-2.8-1.9-2.9 2.1zM176.8 308.2l2.9-2.1-2.9-1.8-2.9 2zM173.9 306.3l2.9-2-2.9-1.8-2.9 2zM185.4 309.9l2.9-2-2.9-1.9-2.9 2zM182.5 308l2.9-2-2.8-1.9-2.9 2zM191.1 309.9l2.9-2-2.8-2-2.9 2zM188.3 307.9l2.9-2-2.9-1.9-2.9 2zM196.9 309.9l2.9-2-2.9-2-2.9 2zM194 307.9l2.9-2-2.8-1.9-2.9 1.9zM202.6 309.9l2.9-1.9-2.8-2-2.9 1.9zM199.8 307.9l2.9-1.9-2.9-1.9-2.9 1.8zM208.4 310.1l2.9-1.9-2.8-2-3 1.8zM205.5 308l3-1.8-2.9-2-2.9 1.8zM202.7 306l2.9-1.8-2.9-1.9-2.9 1.8zM211.3 308.2l2.9-1.7-2.8-2-2.9 1.7zM208.5 306.2l2.9-1.7-2.9-2-2.9 1.7zM214.2 306.5l2.9-1.7-2.8-2-2.9 1.7z" fill="#36ac20" stroke="#36ac20" stroke-width="0.6"/>
<path d="M84.3 293.4l2.8-2.5-2.9-.7-2.8 2.4zM81.4 292.6l2.8-2.4-2.9-.7-2.8 2.4zM78.5 291.9l2.8-2.4-2.9-.7-2.8 2.4zM75.6 291.2l2.8-2.4-2.9-.6-2.8 2.4zM98.7 294.6l2.9-2.4-3-1-2.8 2.4zM95.8 293.6l2.8-2.4-2.9-.9-2.8 2.3zM92.9 292.6l2.8-2.3-2.9-.9-2.8 2.4zM90 291.8l2.8-2.4-2.9-.8-2.8 2.3zM87.1 290.9l2.8-2.3-2.9-.8-2.8 2.4zM84.2 290.2l2.8-2.4-2.9-.7-2.8 2.4zM81.3 289.5l2.8-2.4-2.9-.6-2.8 2.3zM78.4 288.8l2.8-2.3-2.9-.6-2.8 2.3zM75.5 288.2l2.8-2.3-2.9-.5-2.8 2.3zM72.6 287.7l2.8-2.3-2.8-.5-2.9 2.3zM78.3 285.9l2.9-2.3-2.9-.5-2.9 2.3zM75.4 285.4l2.9-2.3-2.9-.5-2.8 2.3z" fill="#419921" stroke="#419921" stroke-width="0.6"/>
<path d="M58.3 288.5l2.8-2.4-2.9-.2-2.8 2.4zM55.4 288.3l2.8-2.4-2.8-.2-2.8 2.4zM52.6 288.1l2.8-2.4-2.9-.1-2.8 2.4zM61.1 286.1l2.8-2.3-2.9-.2-2.8 2.3zM58.2 285.9l2.8-2.3-2.8-.2-2.8 2.3zM55.4 285.7l2.8-2.3-2.9-.1-2.8 2.3zM52.5 285.6l2.8-2.3-2.8 0-2.8 2.3zM49.7 285.6l2.8-2.3-2.9 0-2.8 2.3zM63.9 283.8l2.8-2.2-2.9-.2-2.8 2.2zM61 283.6l2.8-2.2-2.8-.2-2.8 2.2zM58.2 283.4l2.8-2.2-2.9-.1-2.8 2.2zM55.3 283.3l2.8-2.2-2.8 0-2.8 2.2zM52.5 283.3l2.8-2.2-2.9 0-2.8 2.2zM61 281.2l2.8-2.1-2.9-.1-2.8 2.1zM58.1 281.1l2.8-2.1-2.8-.1-2.8 2.2zM55.3 281.1l2.8-2.2-2.9 .1-2.8 2.1z" fill="#32811e" stroke="#32811e" stroke-width="0.6"/>
<path d="M113.2 300.3l2.9-2.4-2.9-1.3-2.9 2.4zM110.3 299l2.9-2.4-2.9-1.2-2.9 2.4zM107.4 297.8l2.9-2.4-2.9-1.1-2.9 2.4zM104.5 296.7l2.9-2.4-2.9-1.1-2.9 2.4zM101.6 295.6l2.9-2.4-2.9-1-2.9 2.4zM124.8 301.9l2.9-2.4-2.9-1.4-2.9 2.4zM121.9 300.5l2.9-2.4-2.9-1.3-2.9 2.3zM119 299.1l2.9-2.3-2.9-1.3-2.9 2.4zM116.1 297.9l2.9-2.4-3-1.2-2.8 2.3zM113.2 296.6l2.8-2.3-2.9-1.2-2.8 2.3zM133.5 302.4l2.8-2.3-2.9-1.5-2.8 2.3zM130.6 300.9l2.8-2.3-2.9-1.4-2.8 2.3zM127.7 299.5l2.8-2.3-2.9-1.4-2.8 2.3zM142.1 303.2l2.9-2.3-2.9-1.6-2.9 2.3zM139.2 301.6l2.9-2.3-2.9-1.5-2.9 2.3zM136.3 300.1l2.9-2.3-2.9-1.5-2.9 2.3zM150.8 304.1l2.9-2.2-2.9-1.6-2.9 2.2zM147.9 302.5l2.9-2.2-2.9-1.6-2.9 2.2zM145 300.9l2.9-2.2-2.9-1.6-2.9 2.2zM159.5 305.3l2.9-2.2-2.9-1.7-2.9 2.2zM156.6 303.6l2.9-2.2-2.9-1.7-2.9 2.2zM153.7 301.9l2.9-2.2-2.9-1.6-2.9 2.2zM165.2 304.9l2.9-2.2-2.9-1.7-2.8 2.1zM162.4 303.1l2.8-2.1-2.8-1.7-2.9 2.1zM159.5 301.4l2.9-2.1-2.9-1.7-2.9 2.1zM171 304.5l2.9-2-2.9-1.8-2.9 2zM168.1 302.7l2.9-2-2.9-1.7-2.9 2zM179.7 306.1l2.9-2-2.9-1.8-2.9 2zM176.8 304.3l2.9-2-2.9-1.8-2.9 2zM173.9 302.5l2.9-2-2.9-1.8-2.9 2zM185.4 306l2.9-2-2.8-1.8-2.9 1.9zM182.6 304.1l2.9-1.9-2.9-1.9-2.9 2zM179.7 302.3l2.9-2-2.9-1.8-2.9 2zM191.2 305.9l2.9-1.9-2.9-1.9-2.9 1.9zM188.3 304l2.9-1.9-2.8-1.8-2.9 1.9zM185.5 302.2l2.9-1.9-2.9-1.8-2.9 1.8zM196.9 305.9l2.9-1.8-2.8-1.9-2.9 1.8zM194.1 304l2.9-1.8-2.9-1.9-2.9 1.8zM191.2 302.1l2.9-1.8-2.8-1.8-2.9 1.8zM199.8 304.1l2.9-1.8-2.8-1.9-2.9 1.8zM197 302.2l2.9-1.8-2.9-1.9-2.9 1.8zM205.6 304.2l2.9-1.7-2.8-1.9-3 1.7zM202.7 302.3l3-1.7-2.9-1.9-2.9 1.7zM211.4 304.5l2.9-1.7-2.9-2-2.9 1.7zM208.5 302.5l2.9-1.7-2.8-1.9-2.9 1.7zM217.1 304.8l2.9-1.7-2.8-1.9-2.9 1.6zM214.3 302.8l2.9-1.6-2.9-2-2.9 1.6zM220 303.1l2.9-1.5-2.8-2-2.9 1.6zM217.2 301.2l2.9-1.6-2.9-1.9-2.9 1.5zM222.9 301.6l2.9-1.5-2.8-2-2.9 1.5zM225.8 300.1l2.9-1.5-2.8-1.9-2.9 1.4z" fill="#42ab22" stroke="#42ab22" stroke-width="0.6"/>
<path d="M110.3 295.4l2.8-2.3-2.9-1.2-2.8 2.4zM107.4 294.3l2.8-2.4-2.9-1-2.8 2.3zM104.5 293.2l2.8-2.3-2.9-1.1-2.8 2.4zM101.6 292.2l2.8-2.4-2.9-.9-2.9 2.3zM124.8 298.1l2.8-2.3-2.9-1.3-2.8 2.3zM121.9 296.8l2.8-2.3-2.9-1.3-2.8 2.3zM119 295.5l2.8-2.3-2.9-1.2-2.9 2.3zM133.4 298.6l2.9-2.3-2.9-1.4-2.9 2.3zM130.5 297.2l2.9-2.3-2.9-1.3-2.9 2.2zM142.1 299.3l2.9-2.2-2.9-1.5-2.9 2.2zM139.2 297.8l2.9-2.2-2.9-1.4-2.9 2.1zM150.8 300.3l2.9-2.2-2.9-1.6-2.9 2.2zM147.9 298.7l2.9-2.2-2.9-1.5-2.9 2.1zM156.6 299.7l2.9-2.1-2.9-1.6-2.9 2.1zM165.2 301l2.9-2-2.9-1.7-2.8 2zM162.4 299.3l2.8-2-2.8-1.7-2.9 2zM171 300.7l2.9-2-2.9-1.7-2.9 2zM176.8 300.5l2.9-2-2.9-1.7-2.9 1.9zM182.6 300.3l2.9-1.8-2.9-1.8-2.9 1.8zM188.4 300.3l2.9-1.8-2.9-1.8-2.9 1.8zM194.1 300.3l2.9-1.8-2.8-1.8-2.9 1.8zM199.9 300.4l2.9-1.7-2.9-1.9-2.9 1.7zM205.7 300.6l2.9-1.7-2.9-1.8-2.9 1.6zM211.4 300.8l2.9-1.6-2.8-1.9-2.9 1.6zM208.6 298.9l2.9-1.6-2.9-1.8-2.9 1.6zM214.3 299.2l2.9-1.5-2.8-1.9-2.9 1.5zM220.1 299.6l2.9-1.5-2.9-1.9-2.9 1.5zM223 298.1l2.9-1.4-2.9-1.9-2.9 1.4zM228.7 298.6l2.9-1.4-2.8-1.9-2.9 1.4zM231.6 297.2l2.9-1.3-2.8-1.9-2.9 1.3z" fill="#4ca822" stroke="#4ca822" stroke-width="0.6"/>
<path d="M98.6 291.2l2.9-2.3-2.9-.9-2.9 2.3zM95.7 290.3l2.9-2.3-2.9-.9-2.9 2.3zM92.8 289.4l2.9-2.3-2.9-.8-2.9 2.3zM89.9 288.6l2.9-2.3-2.9-.8-2.9 2.3zM87 287.8l2.9-2.3-2.9-.7-2.9 2.3zM84.1 287.1l2.9-2.3-2.9-.6-2.9 2.3zM81.2 286.5l2.9-2.3-2.9-.6-2.9 2.3zM101.5 288.9l2.8-2.3-2.9-.9-2.8 2.3zM98.6 288l2.8-2.3-2.9-.8-2.8 2.2zM95.7 287.1l2.8-2.2-2.9-.8-2.8 2.2zM92.8 286.3l2.8-2.2-2.9-.8-2.8 2.2zM89.9 285.5l2.8-2.2-2.9-.6-2.8 2.1zM87 284.8l2.8-2.1-2.9-.7-2.8 2.2zM84.1 284.2l2.8-2.2-2.9-.5-2.8 2.1zM240.3 293.4l2.9-1.1-2.8-1.9-2.9 1.2zM243.2 292.3l2.9-1.1-2.8-1.8-2.9 1zM246.1 291.2l2.9-1-2.8-1.9-2.9 1.1zM249 290.2l2.9-1-2.8-1.8-2.9 .9zM251.9 289.2l2.9-.9-2.9-1.8-2.8 .9zM254.8 288.3l2.9-.9-2.9-1.8-2.9 .9z" fill="#559821" stroke="#559821" stroke-width="0.6"/>
<path d="M72.6 284.9l2.8-2.3-2.9-.4-2.8 2.3zM69.7 284.5l2.8-2.3-2.9-.3-2.8 2.2zM66.8 284.1l2.8-2.2-2.9-.3-2.8 2.2zM72.5 282.2l2.8-2.1-2.9-.4-2.8 2.2zM69.6 281.9l2.8-2.2-2.9-.2-2.8 2.1zM66.7 281.6l2.8-2.1-2.8-.3-2.9 2.2zM63.8 281.4l2.9-2.2-2.9-.1-2.8 2.1zM72.4 279.7l2.8-2-2.8-.3-2.9 2.1zM69.5 279.5l2.9-2.1-2.9-.2-2.8 2zM66.7 279.2l2.8-2-2.9-.2-2.8 2.1zM274.9 283.3l2.9-.5-2.8-1.7-2.9 .5zM277.8 282.8l2.8-.4-2.8-1.7-2.8 .4zM280.6 282.4l2.9-.5-2.8-1.6-2.9 .4z" fill="#468420" stroke="#468420" stroke-width="0.6"/>
<path d="M116 294.3l2.9-2.3-2.9-1.2-2.9 2.3zM113.1 293.1l2.9-2.3-2.9-1.1-2.9 2.2zM110.2 291.9l2.9-2.2-2.9-1.1-2.9 2.3zM127.6 295.8l2.9-2.2-2.9-1.3-2.9 2.2zM124.7 294.5l2.9-2.2-2.9-1.3-2.9 2.2zM136.3 296.3l2.9-2.1-2.9-1.4-2.9 2.1zM145 297.1l2.9-2.1-2.9-1.5-2.9 2.1zM153.7 298.1l2.9-2.1-2.9-1.5-2.9 2zM159.5 297.6l2.9-2-2.9-1.6-2.9 2zM168.1 299l2.9-2-2.9-1.7-2.9 2zM173.9 298.7l2.9-1.9-2.9-1.7-2.9 1.9zM179.7 298.5l2.9-1.8-2.9-1.8-2.9 1.9zM185.5 298.5l2.9-1.8-2.9-1.8-2.9 1.8zM191.3 298.5l2.9-1.8-2.9-1.8-2.9 1.8zM197 298.5l2.9-1.7-2.8-1.8-2.9 1.7zM202.8 298.7l2.9-1.6-2.9-1.9-2.9 1.6zM205.7 297.1l2.9-1.6-2.9-1.8-2.9 1.5zM211.5 297.3l2.9-1.5-2.9-1.8-2.9 1.5zM217.2 297.7l2.9-1.5-2.8-1.9-2.9 1.5zM220.1 296.2l2.9-1.4-2.8-1.9-2.9 1.4zM225.9 296.7l2.9-1.4-2.9-1.9-2.9 1.4zM228.8 295.3l2.9-1.3-2.9-1.9-2.9 1.3zM234.5 295.9l2.9-1.3-2.8-1.8-2.9 1.2zM237.4 294.6l2.9-1.2-2.8-1.8-2.9 1.2z" fill="#55a622" stroke="#55a622" stroke-width="0.6"/>
<path d="M107.3 290.9l2.9-2.3-2.9-1-2.9 2.2zM104.4 289.8l2.9-2.2-3-1-2.8 2.3zM121.8 293.2l2.9-2.2-2.9-1.2-2.9 2.2zM118.9 292l2.9-2.2-2.9-1.2-2.9 2.2zM116 290.8l2.9-2.2-3-1.1-2.8 2.2zM133.4 294.9l2.9-2.1-2.9-1.4-2.9 2.2zM130.5 293.6l2.9-2.2-2.9-1.3-2.9 2.2zM142.1 295.6l2.9-2.1-2.9-1.4-2.9 2.1zM139.2 294.2l2.9-2.1-2.9-1.4-2.9 2.1zM150.8 296.5l2.9-2-2.9-1.6-2.9 2.1zM147.9 295l2.9-2.1-2.9-1.4-2.9 2zM156.6 296l2.9-2-2.9-1.5-2.9 2zM165.2 297.3l2.9-2-2.9-1.6-2.8 1.9zM171 297l2.9-1.9-2.9-1.7-2.9 1.9zM176.8 296.8l2.9-1.9-2.9-1.6-2.9 1.8zM182.6 296.7l2.9-1.8-2.9-1.7-2.9 1.7zM188.4 296.7l2.9-1.8-2.9-1.7-2.9 1.7zM194.2 296.7l2.9-1.7-2.9-1.7-2.9 1.6zM199.9 296.8l2.9-1.6-2.8-1.8-2.9 1.6zM208.6 295.5l2.9-1.5-2.9-1.8-2.9 1.5zM214.4 295.8l2.9-1.5-2.9-1.8-2.9 1.5zM217.3 294.3l2.9-1.4-2.9-1.8-2.9 1.4zM223 294.8l2.9-1.4-2.8-1.8-2.9 1.3zM225.9 293.4l2.9-1.3-2.8-1.8-2.9 1.3zM231.7 294l2.9-1.2-2.9-1.9-2.9 1.2zM234.6 292.8l2.9-1.2-2.9-1.9-2.9 1.2zM237.5 291.6l2.9-1.2-2.9-1.8-2.9 1.1z" fill="#5da422" stroke="#5da422" stroke-width="0.6"/>
<path d="M81.2 283.6l2.8-2.1-2.9-.6-2.8 2.2zM78.3 283.1l2.8-2.2-2.9-.4-2.8 2.1zM75.4 282.6l2.8-2.1-2.9-.4-2.8 2.1zM84 281.5l2.8-2.2-2.9-.5-2.8 2.1zM81.1 280.9l2.8-2.1-2.9-.4-2.8 2.1zM78.2 280.5l2.8-2.1-2.9-.4-2.8 2.1zM75.3 280.1l2.8-2.1-2.9-.3-2.8 2zM257.7 287.4l2.8-.8-2.8-1.8-2.9 .8zM260.5 286.6l2.9-.8-2.8-1.7-2.9 .7zM257.7 284.8l2.9-.7-2.8-1.7-2.9 .7zM263.4 285.8l2.9-.7-2.8-1.7-2.9 .7zM260.6 284.1l2.9-.7-2.9-1.7-2.8 .7zM266.3 285.1l2.9-.6-2.9-1.7-2.8 .6zM263.5 283.4l2.8-.6-2.8-1.7-2.9 .6zM269.2 284.5l2.8-.6-2.8-1.7-2.9 .6zM266.3 282.8l2.9-.6-2.8-1.7-2.9 .6zM272 283.9l2.9-.6-2.8-1.7-2.9 .6z" fill="#568a20" stroke="#568a20" stroke-width="0.6"/>
<path d="M113.1 289.7l2.8-2.2-2.9-1.1-2.8 2.2zM110.2 288.6l2.8-2.2-2.9-1-2.8 2.2zM107.3 287.6l2.8-2.2-2.9-.9-2.9 2.1zM127.6 292.3l2.9-2.2-3-1.2-2.8 2.1zM124.7 291l2.8-2.1-2.9-1.2-2.8 2.1zM121.8 289.8l2.8-2.1-2.9-1.2-2.8 2.1zM136.3 292.8l2.9-2.1-2.9-1.4-2.9 2.1zM133.4 291.4l2.9-2.1-3-1.3-2.8 2.1zM145 293.5l2.9-2-2.9-1.5-2.9 2.1zM153.7 294.5l2.9-2-2.9-1.5-2.9 1.9zM162.4 295.6l2.8-1.9-2.8-1.6-2.9 1.9zM159.5 294l2.9-1.9-2.9-1.6-2.9 2zM168.1 295.3l2.9-1.9-2.9-1.6-2.9 1.9zM173.9 295.1l2.9-1.8-2.9-1.7-2.9 1.8zM179.7 294.9l2.9-1.7-2.9-1.7-2.9 1.8zM185.5 294.9l2.9-1.7-2.9-1.7-2.9 1.7zM191.3 294.9l2.9-1.6-2.9-1.8-2.9 1.7zM197.1 295l2.9-1.6-2.9-1.7-2.9 1.6zM202.8 295.2l2.9-1.5-2.8-1.8-2.9 1.5zM205.7 293.7l2.9-1.5-2.8-1.8-2.9 1.5zM211.5 294l2.9-1.5-2.9-1.8-2.9 1.5zM214.4 292.5l2.9-1.4-2.8-1.8-3 1.4zM220.2 292.9l2.9-1.3-2.9-1.8-2.9 1.3zM223.1 291.6l2.9-1.3-2.9-1.8-2.9 1.3zM228.8 292.1l2.9-1.2-2.8-1.8-2.9 1.2zM231.7 290.9l2.9-1.2-2.8-1.8-2.9 1.2z" fill="#65a322" stroke="#65a322" stroke-width="0.6"/>
<path d="M104.3 286.6l2.9-2.1-2.9-.9-2.9 2.1zM101.4 285.7l2.9-2.1-2.9-.9-2.9 2.2zM98.5 284.9l2.9-2.2-2.9-.8-2.9 2.2zM95.6 284.1l2.9-2.2-3-.7-2.8 2.1zM92.7 283.3l2.8-2.1-2.9-.7-2.8 2.2zM89.8 282.7l2.8-2.2-2.9-.6-2.8 2.1zM86.9 282l2.8-2.1-2.9-.6-2.8 2.2zM107.2 284.5l2.9-2.1-3-.9-2.8 2.1zM104.3 283.6l2.8-2.1-2.9-.8-2.8 2zM228.9 289.1l2.9-1.2-2.9-1.7-2.9 1.1zM234.6 289.7l2.9-1.1-2.8-1.8-2.9 1.1zM231.8 287.9l2.9-1.1-2.9-1.7-2.9 1.1zM240.4 290.4l2.9-1-2.9-1.8-2.9 1zM237.5 288.6l2.9-1-2.8-1.8-2.9 1zM234.7 286.8l2.9-1-2.9-1.7-2.9 1zM243.3 289.4l2.9-1.1-2.9-1.7-2.9 1zM240.4 287.6l2.9-1-2.8-1.8-2.9 1zM246.2 288.3l2.9-.9-2.9-1.8-2.9 1zM243.3 286.6l2.9-1-2.8-1.7-2.9 .9zM249.1 287.4l2.8-.9-2.8-1.8-2.9 .9zM251.9 286.5l2.9-.9-2.8-1.7-2.9 .8zM254.8 285.6l2.9-.8-2.8-1.7-2.9 .8z" fill="#649421" stroke="#649421" stroke-width="0.6"/>
<path d="M63.8 279.1l2.8-2.1-2.9-.1-2.8 2.1zM60.9 279l2.8-2.1-2.8 0-2.8 2zM58.1 278.9l2.8-2-2.9 0-2.8 2.1zM66.6 277l2.8-2-2.8-.1-2.9 2zM63.7 276.9l2.9-2-2.9 0-2.8 2zM60.9 276.9l2.8-2-2.9 0-2.8 2zM277.8 280.7l2.9-.4-2.9-1.6-2.8 .4zM283.5 281.9l2.8-.3-2.8-1.6-2.8 .3zM280.7 280.3l2.8-.3-2.8-1.6-2.9 .3z" fill="#41741e" stroke="#41741e" stroke-width="0.6"/>
<path d="M118.9 288.6l2.8-2.1-2.9-1.1-2.9 2.1zM115.9 287.5l2.9-2.1-2.9-1.1-2.9 2.1zM130.5 290.1l2.8-2.1-2.9-1.2-2.9 2.1zM127.5 288.9l2.9-2.1-2.9-1.2-2.9 2.1zM142.1 292.1l2.9-2.1-3-1.3-2.8 2zM139.2 290.7l2.8-2-2.9-1.4-2.8 2zM136.3 289.3l2.8-2-2.9-1.3-2.9 2zM150.8 292.9l2.9-1.9-3-1.5-2.8 2zM147.9 291.5l2.8-2-2.9-1.4-2.8 1.9zM145 290l2.8-1.9-2.9-1.4-2.9 2zM156.6 292.5l2.9-2-3-1.5-2.8 2zM153.7 291l2.8-2-2.9-1.4-2.9 1.9zM165.2 293.7l2.9-1.9-2.9-1.6-2.8 1.9zM162.4 292.1l2.8-1.9-2.9-1.5-2.8 1.8zM159.5 290.5l2.8-1.8-2.9-1.5-2.9 1.8zM171 293.4l2.9-1.8-2.9-1.6-2.9 1.8zM168.1 291.8l2.9-1.8-2.9-1.6-2.9 1.8zM176.8 293.3l2.9-1.8-2.9-1.6-2.9 1.7zM173.9 291.6l2.9-1.7-2.9-1.6-2.9 1.7zM182.6 293.2l2.9-1.7-2.9-1.7-2.9 1.7zM179.7 291.5l2.9-1.7-2.9-1.6-2.9 1.7zM188.4 293.2l2.9-1.7-2.9-1.7-2.9 1.7zM185.5 291.5l2.9-1.7-2.9-1.6-2.9 1.6zM194.2 293.3l2.9-1.6-2.9-1.8-2.9 1.6zM191.3 291.5l2.9-1.6-2.9-1.7-2.9 1.6zM200 293.4l2.9-1.5-2.9-1.8-2.9 1.6zM197.1 291.7l2.9-1.6-2.9-1.7-2.9 1.5zM202.9 291.9l2.9-1.5-2.9-1.8-2.9 1.5zM208.6 292.2l2.9-1.5-2.8-1.7-2.9 1.4zM211.5 290.7l3-1.4-2.9-1.7-2.9 1.4zM217.3 291.1l2.9-1.3-2.8-1.8-2.9 1.3zM226 290.3l2.9-1.2-2.9-1.8-2.9 1.2z" fill="#6da122" stroke="#6da122" stroke-width="0.6"/>
<path d="M113 286.4l2.9-2.1-2.9-1-2.9 2.1zM110.1 285.4l2.9-2.1-2.9-.9-2.9 2.1zM124.6 287.7l2.9-2.1-2.9-1.1-2.9 2zM121.7 286.5l2.9-2-2.9-1.1-2.9 2zM118.8 285.4l2.9-2-2.9-1.1-2.9 2zM115.9 284.3l2.9-2-3-1-2.8 2zM133.3 288l2.9-2-2.9-1.2-2.9 2zM130.4 286.8l2.9-2-2.9-1.2-2.9 2zM127.5 285.6l2.9-2-2.9-1.1-2.9 2zM142 288.7l2.9-2-2.9-1.3-2.9 1.9zM139.1 287.3l2.9-1.9-2.9-1.3-2.9 1.9zM150.7 289.5l2.9-1.9-2.9-1.4-2.9 1.9zM147.8 288.1l2.9-1.9-2.9-1.4-2.9 1.9zM156.5 289l2.9-1.8-2.9-1.4-2.9 1.8zM153.6 287.6l2.9-1.8-2.9-1.4-2.9 1.8zM165.2 290.2l2.9-1.8-2.9-1.5-2.9 1.8zM162.3 288.7l2.9-1.8-2.9-1.5-2.9 1.8zM171 290l2.9-1.7-2.9-1.6-2.9 1.7zM168.1 288.4l2.9-1.7-2.9-1.5-2.9 1.7zM176.8 289.9l2.9-1.7-2.9-1.6-2.9 1.7zM173.9 288.3l2.9-1.7-2.9-1.6-2.9 1.7zM182.6 289.8l2.9-1.6-2.9-1.6-2.9 1.6zM179.7 288.2l2.9-1.6-2.8-1.6-3 1.6zM188.4 289.8l2.9-1.6-2.9-1.6-2.9 1.6zM185.5 288.2l2.9-1.6-2.8-1.6-3 1.6zM194.2 289.9l2.9-1.5-2.9-1.7-2.9 1.5zM191.3 288.2l2.9-1.5-2.8-1.6-3 1.5zM200 290.1l2.9-1.5-2.9-1.7-2.9 1.5zM197.1 288.4l2.9-1.5-2.9-1.6-2.9 1.4zM205.8 290.4l2.9-1.4-2.9-1.8-2.9 1.4zM202.9 288.6l2.9-1.4-2.9-1.7-2.9 1.4zM208.7 289l2.9-1.4-2.9-1.7-2.9 1.3zM214.5 289.3l2.9-1.3-2.9-1.7-2.9 1.3zM211.6 287.6l2.9-1.3-2.9-1.7-2.9 1.3zM220.2 289.8l2.9-1.3-2.8-1.7-2.9 1.2zM217.4 288l2.9-1.2-2.9-1.7-2.9 1.2zM223.1 288.5l2.9-1.2-2.8-1.7-2.9 1.2zM220.3 286.8l2.9-1.2-2.9-1.7-2.9 1.2zM226 287.3l2.9-1.1-2.8-1.7-2.9 1.1z" fill="#729721" stroke="#729721" stroke-width="0.6"/>
<path d="M101.4 282.7l2.8-2-2.9-.8-2.8 2zM98.5 281.9l2.8-2-2.9-.7-2.9 2zM95.5 281.2l2.9-2-2.9-.7-2.9 2zM92.6 280.5l2.9-2-2.9-.6-2.9 2zM89.7 279.9l2.9-2-2.9-.6-2.9 2zM101.3 279.9l2.9-2-2.9-.7-2.9 2zM98.4 279.2l2.9-2-3-.7-2.8 2zM228.9 286.2l2.9-1.1-2.8-1.7-2.9 1.1zM231.8 285.1l2.9-1-2.8-1.7-2.9 1zM237.6 285.8l2.9-1-2.9-1.7-2.9 1zM234.7 284.1l2.9-1-2.8-1.7-2.9 1zM240.5 284.8l2.9-.9-2.9-1.7-2.9 .9zM237.6 283.1l2.9-.9-2.8-1.7-2.9 .9zM246.2 285.6l2.9-.9-2.8-1.7-2.9 .9zM243.4 283.9l2.9-.9-2.9-1.7-2.9 .9zM240.5 282.2l2.9-.9-2.8-1.6-2.9 .8zM249.1 284.7l2.9-.8-2.8-1.7-2.9 .8zM246.3 283l2.9-.8-2.9-1.7-2.9 .8zM252 283.9l2.9-.8-2.9-1.7-2.8 .8z" fill="#698920" stroke="#698920" stroke-width="0.6"/>
<path d="M86.8 279.3l2.9-2-2.9-.5-2.9 2zM83.9 278.8l2.9-2-2.9-.4-2.9 2zM81 278.4l2.9-2-2.9-.4-2.9 2zM95.5 278.5l2.8-2-2.9-.6-2.8 2zM92.6 277.9l2.8-2-2.9-.5-2.8 1.9zM89.7 277.3l2.8-1.9-2.9-.5-2.8 1.9zM86.8 276.8l2.8-1.9-2.9-.5-2.8 2zM83.9 276.4l2.8-2-2.9-.4-2.8 2zM81 276l2.8-2-2.9-.3-2.8 2zM243.4 281.3l2.9-.8-2.8-1.6-2.9 .8zM249.2 282.2l2.8-.8-2.8-1.7-2.9 .8zM246.3 280.5l2.9-.8-2.9-1.6-2.8 .8zM254.9 283.1l2.9-.7-2.9-1.7-2.9 .7zM252 281.4l2.9-.7-2.8-1.6-2.9 .6zM249.2 279.7l2.9-.6-2.9-1.7-2.9 .7zM257.8 282.4l2.8-.7-2.8-1.7-2.9 .7zM254.9 280.7l2.9-.7-2.8-1.6-2.9 .7zM252.1 279.1l2.9-.7-2.9-1.6-2.9 .6zM260.6 281.7l2.9-.6-2.8-1.7-2.9 .6zM257.8 280l2.9-.6-2.9-1.6-2.8 .6zM260.7 279.4l2.9-.5-2.9-1.6-2.9 .5z" fill="#638020" stroke="#638020" stroke-width="0.6"/>
<path d="M78.1 278l2.9-2-2.9-.3-2.9 2zM75.2 277.7l2.9-2-2.9-.3-2.8 2zM72.4 277.4l2.8-2-2.9-.2-2.8 2zM69.5 277.2l2.8-2-2.9-.2-2.8 2zM78.1 275.7l2.8-2-2.9-.2-2.8 1.9zM75.2 275.4l2.8-1.9-2.8-.2-2.9 1.9zM263.5 281.1l2.9-.6-2.8-1.6-2.9 .5zM269.2 282.2l2.9-.6-2.8-1.6-2.9 .5zM266.4 280.5l2.9-.5-2.9-1.6-2.8 .5zM263.6 278.9l2.8-.5-2.8-1.6-2.9 .5zM272.1 281.6l2.9-.5-2.9-1.6-2.8 .5zM269.3 280l2.8-.5-2.8-1.6-2.9 .5zM275 281.1l2.8-.4-2.8-1.6-2.9 .4zM272.1 279.5l2.9-.4-2.8-1.6-2.9 .4z" fill="#567d1f" stroke="#567d1f" stroke-width="0.6"/>
<path d="M113 283.3l2.8-2-2.9-.9-2.8 2zM124.6 284.5l2.9-2-3-1.1-2.8 2zM121.7 283.4l2.8-2-2.9-1-2.8 1.9zM136.2 286l2.9-1.9-2.9-1.2-2.9 1.9zM133.3 284.8l2.9-1.9-2.9-1.2-2.9 1.9zM130.4 283.6l2.9-1.9-3-1.1-2.8 1.9zM127.5 282.5l2.8-1.9-2.9-1.1-2.9 1.9zM144.9 286.7l2.9-1.9-2.9-1.3-2.9 1.9zM142 285.4l2.9-1.9-2.9-1.3-2.9 1.9zM139.1 284.1l2.9-1.9-2.9-1.2-2.9 1.9zM136.2 282.9l2.9-1.9-2.9-1.1-2.9 1.8zM150.7 286.2l2.9-1.8-2.9-1.4-2.9 1.8zM147.8 284.8l2.9-1.8-2.9-1.3-2.9 1.8zM144.9 283.5l2.9-1.8-2.9-1.2-2.9 1.7zM159.4 287.2l2.9-1.8-2.9-1.4-2.9 1.8zM156.5 285.8l2.9-1.8-2.9-1.4-2.9 1.8zM153.6 284.4l2.9-1.8-2.9-1.3-2.9 1.7zM165.2 286.9l2.9-1.7-2.9-1.5-2.9 1.7zM162.3 285.4l2.9-1.7-2.9-1.4-2.9 1.7zM171 286.7l2.9-1.7-2.9-1.5-2.9 1.7zM168.1 285.2l2.9-1.7-2.9-1.4-2.9 1.6zM176.8 286.6l3-1.6-2.9-1.5-3 1.5zM173.9 285l3-1.5-2.9-1.5-3 1.5zM182.6 286.6l3-1.6-2.9-1.6-2.9 1.6zM179.8 285l2.9-1.6-2.9-1.5-2.9 1.6zM188.4 286.6l3-1.5-2.9-1.6-2.9 1.5zM185.6 285l2.9-1.5-2.9-1.5-2.9 1.4zM194.2 286.7l2.9-1.4-2.8-1.6-2.9 1.4zM191.4 285.1l2.9-1.4-2.9-1.6-2.9 1.4zM200 286.9l2.9-1.4-2.8-1.6-3 1.4zM197.1 285.3l3-1.4-2.9-1.6-2.9 1.4zM205.8 287.2l2.9-1.3-2.9-1.7-2.9 1.3zM202.9 285.5l2.9-1.3-2.8-1.6-2.9 1.3zM208.7 285.9l2.9-1.3-2.9-1.7-2.9 1.3zM205.8 284.2l2.9-1.3-2.8-1.6-2.9 1.3zM214.5 286.3l2.9-1.2-2.9-1.7-2.9 1.2zM211.6 284.6l2.9-1.2-2.8-1.7-3 1.2zM217.4 285.1l2.9-1.2-2.9-1.7-2.9 1.2zM223.2 285.6l2.9-1.1-2.9-1.7-2.9 1.1z" fill="#788f21" stroke="#788f21" stroke-width="0.6"/>
<path d="M110.1 282.4l2.8-2-2.9-.9-2.9 2zM107.1 281.5l2.9-2-2.9-.8-2.9 2zM104.2 280.7l2.9-2-2.9-.8-2.9 2zM118.8 282.3l2.8-1.9-2.9-1-2.9 1.9zM115.8 281.3l2.9-1.9-2.9-.9-2.9 1.9zM112.9 280.4l2.9-1.9-2.9-.9-2.9 1.9zM110 279.5l2.9-1.9-2.9-.8-2.9 1.9zM107.1 278.7l2.9-1.9-3-.8-2.8 1.9zM104.2 277.9l2.8-1.9-2.9-.7-2.8 1.9zM124.5 281.4l2.9-1.9-2.9-1-2.9 1.9zM214.5 283.4l2.9-1.2-2.8-1.6-2.9 1.1zM220.3 283.9l2.9-1.1-2.9-1.7-2.9 1.1zM226.1 284.5l2.9-1.1-2.9-1.7-2.9 1.1zM223.2 282.8l2.9-1.1-2.9-1.6-2.9 1zM229 283.4l2.9-1-2.9-1.7-2.9 1zM226.1 281.7l2.9-1-2.9-1.6-2.9 1zM231.9 282.4l2.9-1-2.9-1.6-2.9 .9zM234.8 281.4l2.9-.9-2.9-1.6-2.9 .9z" fill="#728620" stroke="#728620" stroke-width="0.6"/>
<path d="M72.3 275.2l2.9-1.9-2.9-.2-2.9 1.9zM78 273.5l2.9-1.9-2.9-.2-2.8 1.9zM75.2 273.3l2.8-1.9-2.9-.1-2.8 1.8zM266.4 278.4l2.9-.5-2.8-1.6-2.9 .5zM263.6 276.8l2.9-.5-2.9-1.5-2.9 .4zM269.3 277.9l2.9-.4-2.9-1.6-2.8 .4zM266.5 276.3l2.8-.4-2.8-1.5-2.9 .4zM275 279.1l2.8-.4-2.8-1.6-2.8 .4zM272.2 277.5l2.8-.4-2.8-1.5-2.9 .3z" fill="#55711e" stroke="#55711e" stroke-width="0.6"/>
<path d="M69.4 275l2.9-1.9-2.9-.1-2.8 1.9zM66.6 274.9l2.8-1.9-2.9 0-2.8 1.9zM63.7 274.9l2.8-1.9-2.8 0-2.9 1.9zM72.3 273.1l2.8-1.8-2.9-.1-2.8 1.8zM69.4 273l2.8-1.8-2.8 0-2.9 1.8zM269.3 275.9l2.9-.3-2.9-1.5-2.8 .3zM277.8 278.7l2.9-.3-2.8-1.6-2.9 .3zM275 277.1l2.9-.3-2.9-1.5-2.8 .3zM272.2 275.6l2.8-.3-2.8-1.5-2.9 .3z" fill="#4b6a1e" stroke="#4b6a1e" stroke-width="0.6"/>
<path d="M101.3 277.2l2.8-1.9-2.9-.7-2.9 1.9zM98.3 276.5l2.9-1.9-2.9-.6-2.9 1.9zM95.4 275.9l2.9-1.9-2.9-.5-2.9 1.9zM92.5 275.4l2.9-1.9-2.9-.5-2.9 1.9zM107 276l2.9-1.8-2.9-.8-2.9 1.9zM104.1 275.3l2.9-1.9-2.9-.6-2.9 1.8zM101.2 274.6l2.9-1.8-2.9-.6-2.9 1.8zM98.3 274l2.9-1.8-3-.5-2.8 1.8zM95.4 273.5l2.8-1.8-2.9-.5-2.8 1.8zM231.9 279.8l2.9-.9-2.9-1.6-2.9 .8zM237.7 280.5l2.9-.8-2.9-1.7-2.9 .9zM234.8 278.9l2.9-.9-2.9-1.6-2.9 .9zM240.6 279.7l2.9-.8-2.9-1.6-2.9 .7zM237.7 278l2.9-.7-2.9-1.6-2.9 .7zM243.5 278.9l2.8-.8-2.8-1.6-2.9 .8zM240.6 277.3l2.9-.8-2.9-1.5-2.9 .7zM246.3 278.1l2.9-.7-2.8-1.5-2.9 .6zM243.5 276.5l2.9-.6-2.9-1.6-2.9 .7z" fill="#6e781f" stroke="#6e781f" stroke-width="0.6"/>
<path d="M89.6 274.9l2.9-1.9-2.9-.4-2.9 1.8zM86.7 274.4l2.9-1.8-2.9-.4-2.9 1.8zM83.8 274l2.9-1.8-2.9-.3-2.9 1.8zM80.9 273.7l2.9-1.8-2.9-.3-2.9 1.9zM92.5 273l2.8-1.8-2.9-.4-2.8 1.8zM89.6 272.6l2.8-1.8-2.9-.4-2.8 1.8zM86.7 272.2l2.8-1.8-2.9-.3-2.8 1.8zM83.8 271.9l2.8-1.8-2.9-.3-2.8 1.8zM249.2 277.4l2.9-.6-2.8-1.6-2.9 .7zM246.4 275.9l2.9-.7-2.9-1.5-2.9 .6zM255 278.4l2.8-.6-2.8-1.6-2.9 .6zM252.1 276.8l2.9-.6-2.9-1.5-2.8 .5zM249.3 275.2l2.8-.5-2.8-1.5-2.9 .5zM257.8 277.8l2.9-.5-2.8-1.6-2.9 .5zM255 276.2l2.9-.5-2.9-1.5-2.9 .5zM252.1 274.7l2.9-.5-2.8-1.5-2.9 .5zM260.7 277.3l2.9-.5-2.9-1.6-2.8 .5zM257.9 275.7l2.8-.5-2.8-1.5-2.9 .5z" fill="#63721f" stroke="#63721f" stroke-width="0.6"/>
<path d="M66.5 273l2.9-1.8-2.9 0-2.8 1.8zM75.1 271.3l2.9-1.8-2.9-.1-2.9 1.8zM72.2 271.2l2.9-1.8-2.9 0-2.8 1.8zM69.4 271.2l2.8-1.8-2.9 .1-2.8 1.7zM78 269.5l2.8-1.7-2.9-.1-2.8 1.7zM75.1 269.4l2.8-1.7-2.8 0-2.9 1.7zM263.6 272.9l2.9-.3-2.8-1.4-2.9 .3zM269.3 274.1l2.9-.3-2.8-1.5-2.9 .3zM266.5 272.6l2.9-.3-2.9-1.4-2.8 .3z" fill="#4b5d1d" stroke="#4b5d1d" stroke-width="0.6"/>
<path d="M121.6 280.4l2.9-1.9-2.9-1-2.9 1.9zM118.7 279.4l2.9-1.9-2.9-.9-2.9 1.9zM115.8 278.5l2.9-1.9-3-.9-2.8 1.9zM112.9 277.6l2.8-1.9-2.9-.8-2.8 1.9zM110 276.8l2.8-1.9-2.9-.7-2.9 1.8zM127.4 279.5l2.9-1.8-2.9-1-2.9 1.8zM124.5 278.5l2.9-1.8-2.9-1-2.9 1.8zM205.9 281.3l2.9-1.2-2.9-1.5-2.9 1.1zM211.7 281.7l2.9-1.1-2.9-1.6-2.9 1.1zM208.8 280.1l2.9-1.1-2.9-1.6-2.9 1.2zM217.4 282.2l2.9-1.1-2.8-1.6-2.9 1.1zM214.6 280.6l2.9-1.1-2.9-1.6-2.9 1.1zM220.3 281.1l2.9-1-2.8-1.6-2.9 1zM223.2 280.1l2.9-1-2.8-1.6-2.9 1zM229 280.7l2.9-.9-2.9-1.7-2.9 1z" fill="#797f20" stroke="#797f20" stroke-width="0.6"/>
<path d="M80.9 271.6l2.8-1.8-2.9-.2-2.8 1.8zM78 271.4l2.8-1.8-2.8-.1-2.9 1.8zM86.6 270.1l2.9-1.7-2.9-.3-2.9 1.7zM83.7 269.8l2.9-1.7-2.9-.2-2.9 1.7zM80.8 269.6l2.9-1.7-2.9-.1-2.8 1.7zM255 274.2l2.9-.5-2.9-1.5-2.8 .5zM252.2 272.7l2.8-.5-2.8-1.4-2.9 .4zM260.7 275.2l2.9-.4-2.8-1.5-2.9 .4zM257.9 273.7l2.9-.4-2.9-1.5-2.9 .4zM255 272.2l2.9-.4-2.8-1.4-2.9 .4zM263.6 274.8l2.9-.4-2.9-1.5-2.8 .4zM260.8 273.3l2.8-.4-2.8-1.4-2.9 .3zM257.9 271.8l2.9-.3-2.9-1.5-2.8 .4zM266.5 274.4l2.8-.3-2.8-1.5-2.9 .3z" fill="#59641d" stroke="#59641d" stroke-width="0.6"/>
<path d="M133.3 281.7l2.9-1.8-3-1.1-2.9 1.8zM130.3 280.6l2.9-1.8-2.9-1.1-2.9 1.8zM142 282.2l2.9-1.7-2.9-1.2-2.9 1.7zM139.1 281l2.9-1.7-3-1.2-2.8 1.8zM136.2 279.9l2.8-1.8-2.9-1.1-2.9 1.8zM150.7 283l2.9-1.7-2.9-1.3-2.9 1.7zM147.8 281.7l2.9-1.7-2.9-1.3-2.9 1.8zM144.9 280.5l2.9-1.8-2.9-1.2-2.9 1.8zM159.4 284l2.9-1.7-2.9-1.4-2.9 1.7zM156.5 282.6l2.9-1.7-2.9-1.3-2.9 1.7zM153.6 281.3l2.9-1.7-2.9-1.3-2.9 1.7zM165.2 283.7l2.9-1.6-2.9-1.4-2.9 1.6zM162.3 282.3l2.9-1.6-2.9-1.4-2.9 1.6zM171 283.5l3-1.5-3-1.5-2.9 1.6zM168.1 282.1l2.9-1.6-2.9-1.4-2.9 1.6zM176.9 283.5l2.9-1.6-2.9-1.4-2.9 1.5zM174 282l2.9-1.5-2.9-1.5-3 1.5zM182.7 283.4l2.9-1.4-2.9-1.5-2.9 1.4zM179.8 281.9l2.9-1.4-2.9-1.5-2.9 1.5zM188.5 283.5l2.9-1.4-2.9-1.5-2.9 1.4zM185.6 282l2.9-1.4-2.9-1.5-2.9 1.4zM194.3 283.7l2.9-1.4-2.9-1.6-2.9 1.4zM191.4 282.1l2.9-1.4-2.9-1.5-2.9 1.4zM200.1 283.9l2.9-1.3-2.9-1.6-2.9 1.3zM197.2 282.3l2.9-1.3-2.9-1.6-2.9 1.3zM203 282.6l2.9-1.3-2.9-1.6-2.9 1.3zM200.1 281l2.9-1.3-2.9-1.5-2.9 1.2zM208.7 282.9l3-1.2-2.9-1.6-2.9 1.2z" fill="#808420" stroke="#808420" stroke-width="0.6"/>
<path d="M121.6 277.5l2.9-1.8-3-.9-2.8 1.8zM118.7 276.6l2.8-1.8-2.9-.9-2.9 1.8zM115.7 275.7l2.9-1.8-2.9-.8-2.9 1.8zM112.8 274.9l2.9-1.8-2.9-.7-2.9 1.8zM109.9 274.2l2.9-1.8-2.9-.7-2.9 1.7zM107 273.4l2.9-1.7-3-.7-2.8 1.8zM211.7 279l2.9-1.1-2.9-1.5-2.9 1zM217.5 279.5l2.9-1-2.9-1.6-2.9 1zM214.6 277.9l2.9-1-2.9-1.5-2.9 1zM220.4 278.5l2.9-1-2.9-1.6-2.9 1zM226.1 279.1l2.9-1-2.8-1.5-2.9 .9zM223.3 277.5l2.9-.9-2.9-1.6-2.9 .9zM229 278.1l2.9-.8-2.8-1.6-2.9 .9zM226.2 276.6l2.9-.9-2.9-1.5-2.9 .8zM231.9 277.3l2.9-.9-2.8-1.5-2.9 .8zM234.8 276.4l2.9-.7-2.8-1.6-2.9 .8z" fill="#79721f" stroke="#79721f" stroke-width="0.6"/>
<path d="M104.1 272.8l2.8-1.8-2.9-.5-2.8 1.7zM101.2 272.2l2.8-1.7-2.9-.6-2.9 1.8zM109.9 271.7l2.8-1.7-2.9-.6-2.9 1.6zM106.9 271l2.9-1.6-2.9-.6-2.9 1.7zM104 270.5l2.9-1.7-2.9-.5-2.9 1.6zM101.1 269.9l2.9-1.6-2.9-.5-2.9 1.7zM229.1 275.7l2.9-.8-2.9-1.5-2.9 .8zM226.2 274.2l2.9-.8-2.9-1.5-2.9 .8zM232 274.9l2.9-.8-2.9-1.5-2.9 .8zM229.1 273.4l2.9-.8-2.9-1.4-2.9 .7zM234.9 274.1l2.9-.7-2.9-1.4-2.9 .6zM232 272.6l2.9-.6-2.9-1.5-2.9 .7zM237.8 273.4l2.9-.6-2.9-1.5-2.9 .7zM234.9 272l2.9-.7-2.9-1.4-2.9 .6z" fill="#75641e" stroke="#75641e" stroke-width="0.6"/>
<path d="M98.2 271.7l2.9-1.8-2.9-.4-2.9 1.7zM95.3 271.2l2.9-1.7-2.9-.5-2.9 1.8zM92.4 270.8l2.9-1.8-2.9-.3-2.9 1.7zM89.5 270.4l2.9-1.7-2.9-.3-2.9 1.7zM98.2 269.5l2.9-1.7-2.9-.4-2.9 1.6zM95.3 269l2.9-1.6-2.9-.4-2.9 1.7zM237.7 275.7l2.9-.7-2.8-1.6-2.9 .7zM240.6 275l2.9-.7-2.8-1.5-2.9 .6zM243.5 274.3l2.9-.6-2.9-1.5-2.8 .6zM240.7 272.8l2.8-.6-2.8-1.4-2.9 .5zM246.4 273.7l2.9-.5-2.9-1.5-2.9 .5zM243.5 272.2l2.9-.5-2.8-1.5-2.9 .6zM249.3 273.2l2.9-.5-2.9-1.5-2.9 .5z" fill="#6b661e" stroke="#6b661e" stroke-width="0.6"/>
<path d="M72.2 269.4l2.9-1.7-2.9 .1-2.9 1.7zM77.9 267.7l2.9-1.6-2.9 0-2.8 1.6zM75.1 267.7l2.8-1.6-2.9 .1-2.8 1.6zM83.7 266.2l2.8-1.6-2.8 0-2.9 1.5zM80.8 266.1l2.9-1.5-2.9 0-2.9 1.5zM260.8 269.7l2.9-.2-2.9-1.4-2.8 .3zM258 268.4l2.8-.3-2.8-1.3-2.9 .2z" fill="#484e1c" stroke="#484e1c" stroke-width="0.6"/>
<path d="M133.2 278.8l2.9-1.8-2.9-1.1-2.9 1.8zM130.3 277.7l2.9-1.8-2.9-1-2.9 1.8zM127.4 276.7l2.9-1.8-2.9-.9-2.9 1.7zM142 279.3l2.9-1.8-3-1.1-2.9 1.7zM139 278.1l2.9-1.7-2.9-1.1-2.9 1.7zM150.7 280l2.9-1.7-2.9-1.2-2.9 1.6zM147.8 278.7l2.9-1.6-2.9-1.2-2.9 1.6zM159.4 280.9l2.9-1.6-2.9-1.3-2.9 1.6zM156.5 279.6l2.9-1.6-2.9-1.3-2.9 1.6zM153.6 278.3l2.9-1.6-2.9-1.2-2.9 1.6zM165.2 280.7l2.9-1.6-2.9-1.3-2.9 1.5zM162.3 279.3l2.9-1.5-2.9-1.3-2.9 1.5zM171 280.5l3-1.5-3-1.4-2.9 1.5zM168.1 279.1l2.9-1.5-2.9-1.3-2.9 1.5zM176.9 280.5l2.9-1.5-2.9-1.4-2.9 1.4zM174 279l2.9-1.4-3-1.4-2.9 1.4zM182.7 280.5l2.9-1.4-2.9-1.5-2.9 1.4zM179.8 279l2.9-1.4-2.9-1.4-2.9 1.4zM188.5 280.6l2.9-1.4-2.9-1.5-2.9 1.4zM185.6 279.1l2.9-1.4-2.9-1.4-2.9 1.3zM194.3 280.7l2.9-1.3-2.9-1.5-2.9 1.3zM191.4 279.2l2.9-1.3-2.9-1.4-2.9 1.2zM197.2 279.4l2.9-1.2-2.9-1.5-2.9 1.2zM203 279.7l2.9-1.1-2.9-1.6-2.9 1.2zM205.9 278.6l2.9-1.2-2.9-1.5-2.9 1.1z" fill="#867620" stroke="#867620" stroke-width="0.6"/>
<path d="M124.5 275.7l2.9-1.7-3-.9-2.9 1.7zM121.5 274.8l2.9-1.7-2.9-.9-2.9 1.7zM118.6 273.9l2.9-1.7-2.9-.8-2.9 1.7zM115.7 273.1l2.9-1.7-2.9-.7-2.9 1.7zM112.8 272.4l2.9-1.7-3-.7-2.8 1.7zM130.3 274.9l2.9-1.6-3-1-2.8 1.7zM127.4 274l2.8-1.7-2.9-.9-2.9 1.7zM124.4 273.1l2.9-1.7-2.9-.8-2.9 1.6zM121.5 272.2l2.9-1.6-2.9-.8-2.9 1.6zM208.8 277.4l2.9-1-2.9-1.5-2.9 1zM205.9 275.9l2.9-1-2.9-1.5-2.9 1.1zM211.7 276.4l2.9-1-2.9-1.5-2.9 1zM208.8 274.9l2.9-1-2.9-1.5-2.9 1zM217.5 276.9l2.9-1-2.9-1.5-2.9 1zM214.6 275.4l2.9-1-2.9-1.5-2.9 1zM220.4 275.9l2.9-.9-2.9-1.5-2.9 .9zM217.5 274.4l2.9-.9-2.9-1.4-2.9 .8zM223.3 275l2.9-.8-2.9-1.5-2.9 .8z" fill="#81661f" stroke="#81661f" stroke-width="0.6"/>
<path d="M92.4 268.7l2.9-1.7-2.9-.3-2.9 1.7zM89.5 268.4l2.9-1.7-2.9-.2-2.9 1.6zM86.6 268.1l2.9-1.6-2.9-.2-2.9 1.6zM95.3 267l2.8-1.6-2.9-.2-2.8 1.5zM92.4 266.7l2.8-1.5-2.9-.3-2.8 1.6zM246.4 271.7l2.9-.5-2.9-1.4-2.8 .4zM243.6 270.2l2.8-.4-2.8-1.4-2.9 .4zM240.7 268.8l2.9-.4-2.9-1.4-2.9 .5zM249.3 271.2l2.9-.4-2.9-1.5-2.9 .5zM246.4 269.8l2.9-.5-2.8-1.3-2.9 .4zM252.2 270.8l2.9-.4-2.9-1.4-2.9 .3zM249.3 269.3l2.9-.3-2.9-1.4-2.8 .4z" fill="#61571d" stroke="#61571d" stroke-width="0.6"/>
<path d="M83.7 267.9l2.9-1.6-2.9-.1-2.9 1.6zM80.8 267.8l2.9-1.6-2.9-.1-2.9 1.6zM89.5 266.5l2.8-1.6-2.9-.2-2.8 1.6zM86.6 266.3l2.8-1.6-2.9-.1-2.8 1.6zM255.1 270.4l2.8-.4-2.8-1.4-2.9 .4zM252.2 269l2.9-.4-2.9-1.3-2.9 .3zM260.8 271.5l2.9-.3-2.9-1.5-2.9 .3zM257.9 270l2.9-.3-2.8-1.3-2.9 .2zM255.1 268.6l2.9-.2-2.9-1.4-2.9 .3zM263.7 271.2l2.8-.3-2.8-1.4-2.9 .2z" fill="#52531c" stroke="#52531c" stroke-width="0.6"/>
<path d="M136.1 277l2.9-1.7-2.9-1-2.9 1.6zM133.2 275.9l2.9-1.6-2.9-1-2.9 1.6zM144.9 277.5l2.9-1.6-3-1.1-2.9 1.6zM141.9 276.4l2.9-1.6-2.9-1.1-2.9 1.6zM139 275.3l2.9-1.6-2.9-1.1-2.9 1.7zM150.7 277.1l2.9-1.6-2.9-1.2-2.9 1.6zM147.8 275.9l2.9-1.6-3-1.1-2.9 1.6zM159.4 278l2.9-1.5-2.9-1.3-2.9 1.5zM156.5 276.7l2.9-1.5-2.9-1.2-2.9 1.5zM165.2 277.8l2.9-1.5-2.9-1.3-2.9 1.5zM162.3 276.5l2.9-1.5-2.9-1.2-2.9 1.4zM171 277.6l2.9-1.4-2.9-1.3-2.9 1.4zM176.9 277.6l2.9-1.4-2.9-1.4-3 1.4zM182.7 277.6l2.9-1.3-2.9-1.4-2.9 1.3zM188.5 277.7l2.9-1.2-2.9-1.5-2.9 1.3zM194.3 277.9l2.9-1.2-2.9-1.4-2.9 1.2zM191.4 276.5l2.9-1.2-2.9-1.5-2.9 1.2zM200.1 278.2l2.9-1.2-2.9-1.5-2.9 1.2zM197.2 276.7l2.9-1.2-2.9-1.4-2.9 1.2zM203 277l2.9-1.1-2.9-1.4-2.9 1z" fill="#896b1f" stroke="#896b1f" stroke-width="0.6"/>
<path d="M118.6 271.4l2.9-1.6-3-.7-2.8 1.6zM115.7 270.7l2.8-1.6-2.9-.7-2.9 1.6zM112.7 270l2.9-1.6-2.9-.7-2.9 1.7zM109.8 269.4l2.9-1.7-2.9-.5-2.9 1.6zM106.9 268.8l2.9-1.6-2.9-.5-2.9 1.6zM121.5 269.8l2.9-1.6-3-.7-2.9 1.6zM118.5 269.1l2.9-1.6-2.9-.7-2.9 1.6zM115.6 268.4l2.9-1.6-2.9-.6-2.9 1.5zM112.7 267.7l2.9-1.5-2.9-.6-2.9 1.6zM109.8 267.2l2.9-1.6-2.9-.5-2.9 1.6zM211.7 273.9l2.9-1-2.9-1.4-2.9 .9zM214.6 272.9l2.9-.8-2.9-1.5-2.9 .9zM211.7 271.5l2.9-.9-2.8-1.3-3 .8zM220.4 273.5l2.9-.8-2.9-1.5-2.9 .9zM217.5 272.1l2.9-.9-2.9-1.4-2.9 .8zM223.3 272.7l2.9-.8-2.9-1.4-2.9 .7zM220.4 271.2l2.9-.7-2.8-1.4-3 .7zM226.2 271.9l2.9-.7-2.9-1.4-2.9 .7zM223.3 270.5l2.9-.7-2.8-1.4-2.9 .7zM229.1 271.2l2.9-.7-2.9-1.4-2.9 .7zM226.2 269.8l2.9-.7-2.8-1.4-2.9 .7z" fill="#7e571e" stroke="#7e571e" stroke-width="0.6"/>
<path d="M104 268.3l2.9-1.6-2.9-.5-2.9 1.6zM101.1 267.8l2.9-1.6-3-.4-2.8 1.6zM98.2 267.4l2.8-1.6-2.9-.4-2.8 1.6zM106.9 266.7l2.9-1.6-3-.4-2.8 1.5zM104 266.2l2.8-1.5-2.9-.4-2.9 1.5zM232 270.5l2.9-.6-2.9-1.4-2.9 .6zM229.1 269.1l2.9-.6-2.9-1.4-2.8 .6zM237.8 271.3l2.9-.5-2.9-1.5-2.9 .6zM234.9 269.9l2.9-.6-2.9-1.3-2.9 .5zM232 268.5l2.9-.5-2.9-1.4-2.9 .5zM240.7 270.8l2.9-.6-2.9-1.4-2.9 .5zM237.8 269.3l2.9-.5-2.9-1.3-2.9 .5z" fill="#70531d" stroke="#70531d" stroke-width="0.6"/>
<path d="M77.9 266.1l2.9-1.5-2.9 0-2.9 1.6zM83.7 264.6l2.8-1.5-2.9 0-2.8 1.5zM80.8 264.6l2.8-1.5-2.8 .1-2.9 1.4zM83.6 263.1l2.9-1.4-2.9 .1-2.8 1.4z" fill="#43421b" stroke="#43421b" stroke-width="0.6"/>
<path d="M136.1 274.3l2.9-1.7-2.9-.9-2.9 1.6zM133.2 273.3l2.9-1.6-3-1-2.9 1.6zM130.2 272.3l2.9-1.6-2.9-.9-2.9 1.6zM144.8 274.8l2.9-1.6-2.9-1.1-2.9 1.6zM141.9 273.7l2.9-1.6-2.9-1-2.9 1.5zM153.6 275.5l2.9-1.5-2.9-1.2-2.9 1.5zM150.7 274.3l2.9-1.5-3-1.1-2.9 1.5zM159.4 275.2l2.9-1.4-2.9-1.3-2.9 1.5zM156.5 274l2.9-1.5-2.9-1.1-2.9 1.4zM168.1 276.3l2.9-1.4-2.9-1.3-2.9 1.4zM165.2 275l2.9-1.4-2.9-1.2-2.9 1.4zM173.9 276.2l3-1.4-3-1.3-2.9 1.4zM171 274.9l2.9-1.4-2.9-1.2-2.9 1.3zM179.8 276.2l2.9-1.3-2.9-1.4-2.9 1.3zM176.9 274.8l2.9-1.3-2.9-1.3-3 1.3zM185.6 276.3l2.9-1.3-2.9-1.3-2.9 1.2zM182.7 274.9l2.9-1.2-2.9-1.4-2.9 1.2zM188.5 275l2.9-1.2-2.9-1.3-2.9 1.2zM194.3 275.3l2.9-1.2-2.9-1.4-2.9 1.1zM200.1 275.5l2.9-1-2.9-1.5-2.9 1.1zM197.2 274.1l2.9-1.1-2.9-1.4-2.9 1.1zM203 274.5l2.9-1.1-2.9-1.4-2.9 1z" fill="#8d601f" stroke="#8d601f" stroke-width="0.6"/>
<path d="M127.3 271.4l2.9-1.6-2.9-.8-2.9 1.6zM124.4 270.6l2.9-1.6-2.9-.8-2.9 1.6zM139 272.6l2.9-1.5-2.9-1-2.9 1.6zM136.1 271.7l2.9-1.6-3-.9-2.9 1.5zM133.1 270.7l2.9-1.5-2.9-.9-2.9 1.5zM147.7 273.2l2.9-1.5-2.9-1.1-2.9 1.5zM144.8 272.1l2.9-1.5-2.9-1-2.9 1.5zM141.9 271.1l2.9-1.5-2.9-.9-2.9 1.4zM153.6 272.8l2.9-1.4-3-1.1-2.9 1.4zM150.6 271.7l2.9-1.4-2.9-1.1-2.9 1.4zM162.3 273.8l2.9-1.4-2.9-1.2-2.9 1.3zM159.4 272.5l2.9-1.3-2.9-1.2-2.9 1.4zM168.1 273.6l2.9-1.3-2.9-1.3-2.9 1.4zM165.2 272.4l2.9-1.4-2.9-1.2-2.9 1.4zM173.9 273.5l3-1.3-3-1.2-2.9 1.3zM171 272.3l2.9-1.3-2.9-1.2-2.9 1.2zM179.8 273.5l2.9-1.2-2.9-1.3-2.9 1.2zM176.9 272.2l2.9-1.2-2.9-1.2-3 1.2zM185.6 273.7l2.9-1.2-2.9-1.4-2.9 1.2zM182.7 272.3l2.9-1.2-2.9-1.2-2.9 1.1zM191.4 273.8l2.9-1.1-2.9-1.4-2.9 1.2zM188.5 272.5l2.9-1.2-2.9-1.3-2.9 1.1zM194.3 272.7l2.9-1.1-2.9-1.3-2.9 1zM200.1 273l2.9-1-2.9-1.4-2.9 1zM205.9 273.4l2.9-1-2.9-1.4-2.9 1zM203 272l2.9-1-2.9-1.3-2.9 .9zM208.8 272.4l2.9-.9-2.9-1.4-2.9 .9z" fill="#8c561e" stroke="#8c561e" stroke-width="0.6"/>
<path d="M101 265.8l2.9-1.5-2.9-.4-2.9 1.5zM109.8 265.1l2.8-1.4-2.9-.5-2.9 1.5zM106.8 264.7l2.9-1.5-2.9-.4-2.9 1.5zM103.9 264.3l2.9-1.5-2.9-.3-2.9 1.4zM112.6 263.7l2.9-1.4-2.9-.5-2.9 1.4zM226.3 267.7l2.8-.6-2.8-1.3-2.9 .6zM223.4 266.4l2.9-.6-2.9-1.3-2.9 .6zM229.1 267.1l2.9-.5-2.8-1.3-2.9 .5zM226.3 265.8l2.9-.5-2.9-1.3-2.9 .5zM234.9 268l2.9-.5-2.9-1.4-2.9 .5zM232 266.6l2.9-.5-2.8-1.3-2.9 .5z" fill="#6e451c" stroke="#6e451c" stroke-width="0.6"/>
<path d="M98.1 265.4l2.9-1.5-2.9-.2-2.9 1.5zM95.2 265.2l2.9-1.5-2.9-.3-2.9 1.5zM101 263.9l2.9-1.4-2.9-.3-2.9 1.5zM98.1 263.7l2.9-1.5-2.9-.2-2.9 1.4zM237.8 267.5l2.9-.5-2.9-1.3-2.9 .4zM234.9 266.1l2.9-.4-2.9-1.3-2.8 .4zM243.6 268.4l2.9-.4-2.9-1.4-2.9 .4zM240.7 267l2.9-.4-2.9-1.3-2.9 .4zM237.8 265.7l2.9-.4-2.9-1.3-2.9 .4zM246.5 268l2.8-.4-2.8-1.3-2.9 .3z" fill="#60461c" stroke="#60461c" stroke-width="0.6"/>
<path d="M92.3 264.9l2.9-1.5-2.9-.1-2.9 1.4zM89.4 264.7l2.9-1.4-2.9-.2-2.9 1.5zM95.2 263.4l2.9-1.4-2.9-.2-2.9 1.5zM243.6 266.6l2.9-.3-2.9-1.3-2.9 .3zM240.7 265.3l2.9-.3-2.9-1.3-2.9 .3zM249.3 267.6l2.9-.3-2.9-1.3-2.8 .3zM246.5 266.3l2.8-.3-2.8-1.3-2.9 .3zM243.6 265l2.9-.3-2.9-1.3-2.9 .3zM252.2 267.3l2.9-.3-2.9-1.3-2.9 .3z" fill="#55431b" stroke="#55431b" stroke-width="0.6"/>
<path d="M86.5 264.6l2.9-1.5-2.9 0-2.8 1.5zM92.3 263.3l2.9-1.5-2.9-.1-2.9 1.4zM89.4 263.1l2.9-1.4-2.9 0-2.9 1.4zM86.5 263.1l2.9-1.4-2.9 0-2.9 1.4zM249.3 266l2.9-.3-2.8-1.2-2.9 .2zM246.5 264.7l2.9-.2-2.9-1.3-2.9 .2zM255.1 267l2.9-.2-2.9-1.3-2.9 .2zM252.2 265.7l2.9-.2-2.9-1.2-2.8 .2zM249.4 264.5l2.8-.2-2.8-1.2-2.9 .1z" fill="#4b3f1b" stroke="#4b3f1b" stroke-width="0.6"/>
<path d="M130.2 269.8l2.9-1.5-2.9-.8-2.9 1.5zM139 270.1l2.9-1.4-3-1-2.9 1.5zM136 269.2l2.9-1.5-2.9-.8-2.9 1.4zM147.7 270.6l2.9-1.4-2.9-1-2.9 1.4zM144.8 269.6l2.9-1.4-2.9-.9-2.9 1.4zM141.9 268.7l2.9-1.4-3-.9-2.9 1.3zM156.5 271.4l2.9-1.4-3-1.1-2.9 1.4zM153.5 270.3l2.9-1.4-2.9-1-2.9 1.3zM150.6 269.2l2.9-1.3-2.9-1-2.9 1.3zM162.3 271.2l2.9-1.4-2.9-1.1-2.9 1.3zM159.4 270l2.9-1.3-2.9-1.1-3 1.3zM156.4 268.9l3-1.3-3-1-2.9 1.3zM168.1 271l2.9-1.2-2.9-1.2-2.9 1.2zM165.2 269.8l2.9-1.2-2.9-1.1-2.9 1.2zM173.9 271l3-1.2-3-1.2-2.9 1.2zM171 269.8l2.9-1.2-2.9-1.2-2.9 1.2zM179.8 271l2.9-1.1-2.9-1.3-2.9 1.2zM176.9 269.8l2.9-1.2-3-1.2-2.9 1.2zM185.6 271.1l2.9-1.1-2.9-1.2-2.9 1.1zM182.7 269.9l2.9-1.1-2.9-1.3-2.9 1.1zM191.4 271.3l2.9-1-2.9-1.3-2.9 1zM188.5 270l2.9-1-2.9-1.3-2.9 1.1zM197.2 271.6l2.9-1-2.9-1.3-2.9 1zM194.3 270.3l2.9-1-2.9-1.3-2.9 1zM200.1 270.6l2.9-.9-2.9-1.4-2.9 1zM205.9 271l2.9-.9-2.9-1.3-2.9 .9z" fill="#8a4c1d" stroke="#8a4c1d" stroke-width="0.6"/>
<path d="M127.3 269l2.9-1.5-2.9-.8-2.9 1.5zM124.4 268.2l2.9-1.5-3-.7-2.9 1.5zM121.4 267.5l2.9-1.5-2.9-.7-2.9 1.5zM118.5 266.8l2.9-1.5-2.9-.6-2.9 1.5zM133.1 268.3l2.9-1.4-2.9-.8-2.9 1.4zM130.2 267.5l2.9-1.4-2.9-.8-2.9 1.4zM127.3 266.7l2.9-1.4-3-.7-2.9 1.4zM197.2 269.3l2.9-1-2.9-1.2-2.9 .9zM203 269.7l2.9-.9-2.9-1.4-2.9 .9zM208.8 270.1l3-.8-2.9-1.4-3 .9zM205.9 268.8l3-.9-2.9-1.3-3 .8zM214.6 270.6l2.9-.8-2.8-1.3-2.9 .8zM211.8 269.3l2.9-.8-2.9-1.4-2.9 .8zM217.5 269.8l3-.7-2.9-1.4-2.9 .8zM214.7 268.5l2.9-.8-2.9-1.3-2.9 .7zM220.5 269.1l2.9-.7-2.9-1.4-2.9 .7z" fill="#824b1d" stroke="#824b1d" stroke-width="0.6"/>
<path d="M115.6 266.2l2.9-1.5-2.9-.5-2.9 1.4zM112.7 265.6l2.9-1.4-3-.5-2.8 1.4zM124.3 266l2.9-1.4-2.9-.7-2.9 1.4zM121.4 265.3l2.9-1.4-2.9-.6-2.9 1.4zM118.5 264.7l2.9-1.4-2.9-.5-2.9 1.4zM130.2 265.3l2.9-1.4-3-.7-2.9 1.4zM127.2 264.6l2.9-1.4-2.9-.6-2.9 1.3zM203 267.4l3-.8-2.9-1.2-3 .8zM208.9 267.9l2.9-.8-2.9-1.3-2.9 .8zM206 266.6l2.9-.8-2.9-1.2-2.9 .8zM211.8 267.1l2.9-.7-2.9-1.3-2.9 .7zM208.9 265.8l2.9-.7-2.9-1.2-2.9 .7zM217.6 267.7l2.9-.7-2.9-1.3-2.9 .7zM214.7 266.4l2.9-.7-2.9-1.2-2.9 .6zM223.4 268.4l2.9-.7-2.9-1.3-2.9 .6zM220.5 267l2.9-.6-2.9-1.3-2.9 .6z" fill="#7c441c" stroke="#7c441c" stroke-width="0.6"/>
<path d="M115.6 264.2l2.9-1.4-3-.5-2.9 1.4zM124.3 263.9l2.9-1.3-2.9-.6-2.9 1.3zM121.4 263.3l2.9-1.3-3-.6-2.8 1.4zM118.5 262.8l2.8-1.4-2.9-.4-2.9 1.3zM130.1 263.2l2.9-1.3-2.9-.6-2.9 1.3zM127.2 262.6l2.9-1.3-2.9-.6-2.9 1.3zM124.3 262l2.9-1.3-3-.5-2.9 1.2zM206 264.6l2.9-.7-2.9-1.2-2.9 .7zM203.1 263.4l2.9-.7-2.9-1.1-3 .6zM211.8 265.1l2.9-.6-2.9-1.3-2.9 .7zM208.9 263.9l2.9-.7-2.9-1.1-2.9 .6zM217.6 265.7l2.9-.6-2.9-1.2-2.9 .6zM214.7 264.5l2.9-.6-2.9-1.2-2.9 .5zM220.5 265.1l2.9-.6-2.9-1.2-2.9 .6z" fill="#733a1b" stroke="#733a1b" stroke-width="0.6"/>
<path d="M109.7 263.2l2.9-1.4-2.9-.3-2.9 1.3zM106.8 262.8l2.9-1.3-2.9-.4-2.9 1.4zM115.5 262.3l2.9-1.3-2.9-.5-2.9 1.3zM112.6 261.8l2.9-1.3-2.9-.4-2.9 1.4zM121.3 261.4l2.9-1.2-2.9-.5-2.9 1.3zM118.4 261l2.9-1.3-2.9-.4-2.9 1.2zM211.8 263.2l2.9-.5-2.9-1.2-2.9 .6zM217.6 263.9l2.9-.6-2.9-1.2-2.9 .6zM214.7 262.7l2.9-.6-2.9-1.1-2.9 .5zM223.4 264.5l2.9-.5-2.9-1.2-2.9 .5zM220.5 263.3l2.9-.5-2.9-1.2-2.9 .5zM229.2 265.3l2.9-.5-2.9-1.2-2.9 .4zM226.3 264l2.9-.4-2.9-1.2-2.9 .4z" fill="#68381a" stroke="#68381a" stroke-width="0.6"/>
<path d="M103.9 262.5l2.9-1.4-2.9-.2-2.9 1.3zM101 262.2l2.9-1.3-2.9-.3-2.9 1.4zM109.7 261.5l2.9-1.4-2.9-.3-2.9 1.3zM106.8 261.1l2.9-1.3-2.9-.2-2.9 1.3zM223.4 262.8l2.9-.4-2.9-1.2-2.9 .4zM232.1 264.8l2.8-.4-2.8-1.2-2.9 .4zM229.2 263.6l2.9-.4-2.9-1.2-2.9 .4zM226.3 262.4l2.9-.4-2.9-1.2-2.9 .4zM234.9 264.4l2.9-.4-2.9-1.2-2.8 .4zM232.1 263.2l2.8-.4-2.8-1.2-2.9 .4zM237.8 264l2.9-.3-2.9-1.2-2.9 .3z" fill="#5c381b" stroke="#5c381b" stroke-width="0.6"/>
<path d="M98.1 262l2.9-1.4-2.9-.1-2.9 1.3zM95.2 261.8l2.9-1.3-2.9-.1-2.9 1.3zM103.9 260.9l2.9-1.3-2.9-.3-2.9 1.3zM101 260.6l2.9-1.3-2.9-.1-2.9 1.3zM98.1 260.5l2.9-1.3-2.9-.1-2.9 1.3zM109.7 259.8l2.9-1.2-2.9-.3-2.9 1.3zM106.8 259.6l2.9-1.3-2.9-.2-2.9 1.2zM223.4 261.2l2.9-.4-2.9-1.1-2.9 .4zM229.2 262l2.9-.4-2.9-1.1-2.9 .3zM234.9 262.8l2.9-.3-2.9-1.2-2.8 .3zM232.1 261.6l2.8-.3-2.8-1.1-2.9 .3zM240.7 263.7l2.9-.3-2.9-1.2-2.9 .3zM237.8 262.5l2.9-.3-2.9-1.1-2.9 .2zM234.9 261.3l2.9-.2-2.9-1.1-2.8 .2zM243.6 263.4l2.9-.2-2.9-1.2-2.9 .2zM240.7 262.2l2.9-.2-2.9-1.1-2.9 .2z" fill="#51331a" stroke="#51331a" stroke-width="0.6"/>
<path d="M92.3 261.7l2.9-1.3-2.9-.1-2.9 1.4zM89.4 261.7l2.9-1.4-2.9 .1-2.9 1.3zM86.5 261.7l2.9-1.3-2.9 0-2.9 1.4zM95.2 260.4l2.9-1.3-2.9 0-2.9 1.2zM92.3 260.3l2.9-1.2-2.9 0-2.9 1.3zM89.4 260.4l2.9-1.3-2.9 .1-2.9 1.2zM92.3 259.1l2.9-1.2-2.9 .1-2.9 1.2zM246.5 263.2l2.9-.1-2.9-1.2-2.9 .1zM243.6 262l2.9-.1-2.9-1.2-2.9 .2z" fill="#45351a" stroke="#45351a" stroke-width="0.6"/>
<path d="M138.9 267.7l2.9-1.3-2.9-.9-2.9 1.4zM136 266.9l2.9-1.4-2.9-.8-2.9 1.4zM133.1 266.1l2.9-1.4-2.9-.8-2.9 1.4zM147.7 268.2l2.9-1.3-2.9-1-2.9 1.4zM144.8 267.3l2.9-1.4-3-.9-2.9 1.4zM141.8 266.4l2.9-1.4-2.9-.8-2.9 1.3zM138.9 265.5l2.9-1.3-2.9-.8-2.9 1.3zM153.5 267.9l2.9-1.3-2.9-1-2.9 1.3zM150.6 266.9l2.9-1.3-2.9-.9-2.9 1.2zM147.7 265.9l2.9-1.2-3-.9-2.9 1.2zM162.3 268.7l2.9-1.2-2.9-1.1-2.9 1.2zM159.4 267.6l2.9-1.2-3-1-2.9 1.2zM156.4 266.6l2.9-1.2-2.9-1-2.9 1.2zM168.1 268.6l2.9-1.2-2.9-1.1-2.9 1.2zM165.2 267.5l2.9-1.2-2.9-1.1-2.9 1.2zM162.3 266.4l2.9-1.2-3-1-2.9 1.2zM173.9 268.6l2.9-1.2-2.9-1.1-2.9 1.1zM171 267.4l2.9-1.1-2.9-1.1-2.9 1.1zM168.1 266.3l2.9-1.1-2.9-1.1-2.9 1.1zM179.8 268.6l2.9-1.1-2.9-1.2-3 1.1zM176.8 267.4l3-1.1-3-1.1-2.9 1.1zM185.6 268.8l2.9-1.1-2.9-1.2-2.9 1zM182.7 267.5l2.9-1-2.9-1.2-2.9 1zM191.4 269l2.9-1-2.9-1.3-2.9 1zM188.5 267.7l2.9-1-2.9-1.2-2.9 1zM185.6 266.5l2.9-1-2.9-1.1-2.9 .9zM194.3 268l2.9-.9-2.9-1.3-2.9 .9zM191.4 266.7l2.9-.9-2.9-1.2-2.9 .9zM200.1 268.3l2.9-.9-2.9-1.2-2.9 .9zM197.2 267.1l2.9-.9-2.9-1.2-2.9 .8z" fill="#86411b" stroke="#86411b" stroke-width="0.6"/>
<path d="M136 264.7l2.9-1.3-2.9-.8-2.9 1.3zM133.1 263.9l2.9-1.3-3-.7-2.9 1.3zM144.7 265l2.9-1.2-2.9-.9-2.9 1.3zM141.8 264.2l2.9-1.3-2.9-.8-2.9 1.3zM138.9 263.4l2.9-1.3-2.9-.7-2.9 1.2zM153.5 265.6l2.9-1.2-2.9-.9-2.9 1.2zM150.6 264.7l2.9-1.2-2.9-.9-3 1.2zM147.6 263.8l3-1.2-3-.9-2.9 1.2zM159.3 265.4l2.9-1.2-2.9-1-2.9 1.2zM156.4 264.4l2.9-1.2-2.9-.9-2.9 1.2zM153.5 263.5l2.9-1.2-2.9-.9-2.9 1.2zM165.2 265.2l2.9-1.1-2.9-1-3 1.1zM162.2 264.2l3-1.1-3-1-2.9 1.1zM173.9 266.3l2.9-1.1-2.9-1.1-2.9 1.1zM171 265.2l2.9-1.1-2.9-1-2.9 1zM168.1 264.1l2.9-1-2.9-1-2.9 1zM179.8 266.3l2.9-1-2.9-1.1-3 1zM176.8 265.2l3-1-3-1.1-2.9 1zM173.9 264.1l2.9-1-2.9-1-2.9 1zM182.7 265.3l2.9-.9-2.9-1.1-2.9 .9zM179.8 264.2l2.9-.9-3-1.1-2.9 .9zM188.5 265.5l2.9-.9-2.9-1.1-2.9 .9zM185.6 264.4l2.9-.9-2.9-1.1-2.9 .9zM194.3 265.8l2.9-.8-2.9-1.2-2.9 .8zM191.4 264.6l2.9-.8-2.9-1.2-2.9 .9zM200.1 266.2l3-.8-3-1.3-2.9 .9zM197.2 265l2.9-.9-2.9-1.1-2.9 .8zM203.1 265.4l2.9-.8-2.9-1.2-3 .7z" fill="#81381a" stroke="#81381a" stroke-width="0.6"/>
<path d="M115.5 260.5l2.9-1.2-2.9-.4-2.9 1.2zM112.6 260.1l2.9-1.2-2.9-.3-2.9 1.2zM121.3 259.7l2.9-1.2-2.9-.4-2.9 1.2zM118.4 259.3l2.9-1.2-2.9-.4-2.9 1.2zM127.2 259l2.9-1.2-3-.4-2.9 1.1zM211.8 261.5l2.9-.5-2.9-1.2-2.9 .6zM208.9 260.4l2.9-.6-2.9-1-2.9 .5zM217.6 262.1l2.9-.5-2.9-1.1-2.9 .5zM214.7 261l2.9-.5-2.9-1.1-2.9 .4zM220.5 261.6l2.9-.4-2.9-1.1-2.9 .4zM217.6 260.5l2.9-.4-2.9-1.1-2.9 .4z" fill="#5e2e19" stroke="#5e2e19" stroke-width="0.6"/>
<path d="M103.9 259.3l2.9-1.2-3-.1-2.8 1.2zM101 259.2l2.8-1.2-2.9-.1-2.8 1.2zM112.6 258.6l2.9-1.2-2.9-.2-2.9 1.1zM109.7 258.3l2.9-1.1-3-.2-2.8 1.1zM106.8 258.1l2.8-1.1-2.9-.2-2.9 1.2zM118.4 257.7l2.9-1.1-2.9-.3-2.9 1.1zM115.5 257.4l2.9-1.1-2.9-.2-2.9 1.1zM112.6 257.2l2.9-1.1-3-.2-2.9 1.1zM220.5 260.1l2.9-.4-2.9-1.1-2.9 .4zM217.6 259l2.9-.4-2.9-1-2.9 .3zM214.7 257.9l2.9-.3-2.9-1-2.9 .3zM226.3 260.8l2.9-.3-2.9-1.1-2.9 .3zM223.4 259.7l2.9-.3-2.9-1.1-2.9 .3zM220.5 258.6l2.9-.3-2.9-1-2.9 .3zM229.2 260.5l2.9-.3-2.9-1.1-2.9 .3zM226.3 259.4l2.9-.3-2.9-1.1-2.9 .3zM223.4 258.3l2.9-.3-2.9-1-2.9 .3zM232.1 260.2l2.8-.2-2.8-1.1-2.9 .2zM237.8 261.1l2.9-.2-2.9-1.1-2.9 .2z" fill="#4e2b19" stroke="#4e2b19" stroke-width="0.6"/>
<path d="M98.1 259.1l2.8-1.2-2.9-.1-2.8 1.3zM95.2 259.1l2.8-1.3-2.8 .1-2.9 1.2zM103.8 258l2.9-1.2-2.9-.1-2.9 1.2zM100.9 257.9l2.9-1.2-2.9 0-2.9 1.1zM98 257.8l2.9-1.1-2.9 0-2.8 1.2zM95.2 257.9l2.8-1.2-2.8 .1-2.9 1.2zM109.6 257l2.9-1.1-2.9-.2-2.9 1.1zM106.7 256.8l2.9-1.1-2.9-.1-2.9 1.1zM103.8 256.7l2.9-1.1-2.9 0-2.9 1.1zM100.9 256.7l2.9-1.1-2.9 .1-2.9 1zM98 256.7l2.9-1-2.8 .1-2.9 1zM106.7 255.6l2.9-1-2.9 0-2.9 1zM103.8 255.6l2.9-1-2.9 .1-2.9 1zM100.9 255.7l2.9-1-2.9 0-2.8 1.1zM106.7 254.6l2.9-.9-2.9 0-2.9 1zM103.8 254.7l2.9-1-2.8 .1-3 .9zM106.7 253.7l2.9-.9-2.8 .1-2.9 .9zM229.2 259.1l2.9-.2-2.9-1.1-2.9 .2zM226.3 258l2.9-.2-2.9-1-2.9 .2zM234.9 260l2.9-.2-2.9-1.1-2.8 .2zM232.1 258.9l2.8-.2-2.9-1-2.8 .1zM229.2 257.8l2.8-.1-2.8-1-2.9 .1zM240.7 260.9l2.9-.2-2.9-1.1-2.9 .2zM237.8 259.8l2.9-.2-2.9-1-2.9 .1zM234.9 258.7l2.9-.1-2.9-1-2.9 .1zM232 257.7l2.9-.1-2.9-1-2.8 .1zM229.2 256.7l2.8-.1-2.9-1-2.8 .1z" fill="#452b19" stroke="#452b19" stroke-width="0.6"/>
<path d="M136 262.6l2.9-1.2-3-.7-2.9 1.2zM133 261.9l2.9-1.2-2.9-.6-2.9 1.2zM144.7 262.9l2.9-1.2-2.9-.7-2.9 1.1zM141.8 262.1l2.9-1.1-2.9-.8-2.9 1.2zM150.6 262.6l2.9-1.2-3-.8-2.9 1.1zM147.6 261.7l2.9-1.1-2.9-.8-2.9 1.2zM159.3 263.2l2.9-1.1-2.9-.9-2.9 1.1zM156.4 262.3l2.9-1.1-2.9-.8-2.9 1zM153.5 261.4l2.9-1-3-.8-2.9 1zM165.2 263.1l2.9-1-3-1-2.9 1zM162.2 262.1l2.9-1-2.9-.9-2.9 1zM159.3 261.2l2.9-1-2.9-.8-2.9 1zM171 263.1l2.9-1-2.9-1-2.9 1zM168.1 262.1l2.9-1-2.9-.9-3 .9zM176.8 263.1l2.9-.9-2.9-1-2.9 .9zM173.9 262.1l2.9-.9-2.9-1-2.9 .9zM182.7 263.3l2.9-.9-2.9-1.1-3 .9zM179.7 262.2l3-.9-3-1-2.9 .9zM188.5 263.5l2.9-.9-2.9-1.1-2.9 .9zM185.6 262.4l2.9-.9-2.9-1-2.9 .8zM194.3 263.8l2.9-.8-2.9-1.2-2.9 .8zM191.4 262.6l2.9-.8-2.9-1-2.9 .7zM200.1 264.1l3-.7-3-1.2-2.9 .8zM197.2 263l2.9-.8-2.9-1.1-2.9 .7z" fill="#7b3119" stroke="#7b3119" stroke-width="0.6"/>
<path d="M130.1 261.3l2.9-1.2-2.9-.6-2.9 1.2zM138.9 261.4l2.9-1.2-3-.6-2.9 1.1zM135.9 260.7l2.9-1.1-2.9-.7-2.9 1.2zM144.7 261l2.9-1.2-2.9-.7-2.9 1.1zM141.8 260.2l2.9-1.1-3-.6-2.9 1.1zM150.5 260.6l2.9-1-2.9-.8-2.9 1zM147.6 259.8l2.9-1-2.9-.7-2.9 1zM156.4 260.4l2.9-1-2.9-.8-3 1zM165.1 261.1l3-.9-3-.9-2.9 .9zM162.2 260.2l2.9-.9-2.9-.9-2.9 1zM171 261.1l2.9-.9-2.9-1-2.9 1zM168.1 260.2l2.9-1-3-.8-2.9 .9zM176.8 261.2l2.9-.9-2.9-1-2.9 .9zM173.9 260.2l2.9-.9-2.9-.9-2.9 .8zM182.7 261.3l2.9-.8-2.9-1-3 .8zM179.7 260.3l3-.8-3-1-2.9 .8zM188.5 261.5l2.9-.7-2.9-1.1-2.9 .8zM194.3 261.8l2.9-.7-2.9-1.1-2.9 .8zM200.1 262.2l3-.6-3-1.2-2.9 .7zM206 262.7l2.9-.6-2.9-1.2-2.9 .7z" fill="#722c19" stroke="#722c19" stroke-width="0.6"/>
<path d="M127.2 260.7l2.9-1.2-2.9-.5-3 1.2zM124.2 260.2l3-1.2-3-.5-2.9 1.2zM133 260.1l2.9-1.2-2.9-.5-2.9 1.1zM130.1 259.5l2.9-1.1-2.9-.6-2.9 1.2zM138.8 259.6l2.9-1.1-2.9-.7-2.9 1.1zM135.9 258.9l2.9-1.1-2.9-.5-2.9 1.1zM144.7 259.1l2.9-1-2.9-.7-3 1.1zM153.4 259.6l3-1-3-.8-2.9 1zM150.5 258.8l2.9-1-2.9-.7-2.9 1zM159.3 259.4l2.9-1-2.9-.8-2.9 1zM156.4 258.6l2.9-1-3-.7-2.9 .9zM165.1 259.3l2.9-.9-2.9-.9-2.9 .9zM162.2 258.4l2.9-.9-2.9-.8-2.9 .9zM171 259.2l2.9-.8-2.9-.9-3 .9zM168 258.4l3-.9-3-.8-2.9 .8zM176.8 259.3l2.9-.8-2.9-.9-2.9 .8zM185.6 260.5l2.9-.8-2.9-1-2.9 .8zM182.7 259.5l2.9-.8-3-.9-2.9 .7zM191.4 260.8l2.9-.8-2.9-1-2.9 .7zM188.5 259.7l2.9-.7-2.9-1-2.9 .7zM197.2 261.1l2.9-.7-2.9-1-2.9 .6zM194.3 260l2.9-.6-2.9-1-2.9 .6zM203.1 261.6l2.9-.7-2.9-1.1-3 .6zM200.1 260.4l3-.6-3-1-2.9 .6zM208.9 262.1l2.9-.6-2.9-1.1-2.9 .5zM206 260.9l2.9-.5-2.9-1.1-2.9 .5z" fill="#6a2a18" stroke="#6a2a18" stroke-width="0.6"/>
<path d="M115.5 258.9l2.9-1.2-2.9-.3-2.9 1.2zM124.2 258.5l2.9-1.1-2.9-.4-2.9 1.1zM121.3 258.1l2.9-1.1-2.9-.4-2.9 1.1zM130.1 257.8l2.9-1-3-.5-2.9 1.1zM127.1 257.4l2.9-1.1-2.9-.4-2.9 1.1zM135.9 257.3l2.9-1-2.9-.5-2.9 1zM141.7 256.8l2.9-1-2.9-.5-2.9 1zM147.6 256.5l2.9-1-2.9-.6-3 .9zM153.4 256.2l2.9-.9-2.9-.6-2.9 .8zM162.2 256.7l2.9-.8-2.9-.7-2.9 .8zM159.3 256l2.9-.8-2.9-.7-3 .8zM168 256.7l3-.8-3-.7-2.9 .7zM173.9 256.7l2.9-.7-2.9-.8-2.9 .7zM179.7 256.9l2.9-.7-2.9-.8-2.9 .6zM185.6 257.1l2.9-.6-2.9-.9-3 .6zM194.3 258.4l2.9-.6-2.9-1-2.9 .6zM191.4 257.4l2.9-.6-2.9-.9-2.9 .6zM200.1 258.8l2.9-.6-2.9-1-2.9 .6zM197.2 257.8l2.9-.6-2.9-.9-2.9 .5zM206 259.3l2.9-.5-2.9-1.1-3 .5zM203 258.2l3-.5-3-.9-2.9 .4zM211.8 259.8l2.9-.4-2.9-1.1-2.9 .5zM208.9 258.8l2.9-.5-2.9-1-2.9 .4zM214.7 259.4l2.9-.4-2.9-1.1-2.9 .4z" fill="#592518" stroke="#592518" stroke-width="0.6"/>
<path d="M133 258.4l2.9-1.1-2.9-.5-2.9 1zM141.7 258.5l3-1.1-3-.6-2.9 1zM138.8 257.8l2.9-1-2.9-.5-2.9 1zM147.6 258.1l2.9-1-2.9-.6-2.9 .9zM144.7 257.4l2.9-.9-3-.7-2.9 1zM153.4 257.8l2.9-.9-2.9-.7-2.9 .9zM150.5 257.1l2.9-.9-2.9-.7-2.9 1zM159.3 257.6l2.9-.9-2.9-.7-3 .9zM156.3 256.9l3-.9-3-.7-2.9 .9zM165.1 257.5l2.9-.8-2.9-.8-2.9 .8zM173.9 258.4l2.9-.8-2.9-.9-2.9 .8zM171 257.5l2.9-.8-2.9-.8-3 .8zM179.7 258.5l2.9-.7-2.9-.9-2.9 .7zM176.8 257.6l2.9-.7-2.9-.9-2.9 .7zM185.6 258.7l2.9-.7-2.9-.9-3 .7zM182.6 257.8l3-.7-3-.9-2.9 .7zM191.4 259l2.9-.6-2.9-1-2.9 .6zM188.5 258l2.9-.6-2.9-.9-2.9 .6zM197.2 259.4l2.9-.6-2.9-1-2.9 .6zM203.1 259.8l2.9-.5-3-1.1-2.9 .6z" fill="#612518" stroke="#612518" stroke-width="0.6"/>
<path d="M124.2 257l2.9-1.1-2.9-.4-2.9 1.1zM121.3 256.6l2.9-1.1-2.9-.2-2.9 1zM133 256.8l2.9-1-2.9-.5-3 1zM130 256.3l3-1-3-.4-2.9 1zM127.1 255.9l2.9-1-2.9-.3-2.9 .9zM138.8 256.3l2.9-1-2.9-.5-2.9 1zM135.9 255.8l2.9-1-2.9-.4-2.9 .9zM144.6 255.8l3-.9-3-.5-2.9 .9zM141.7 255.3l2.9-.9-2.9-.5-2.9 .9zM150.5 255.5l2.9-.8-2.9-.6-2.9 .8zM147.6 254.9l2.9-.8-3-.5-2.9 .8zM156.3 255.3l3-.8-3-.6-2.9 .8zM165.1 255.9l2.9-.7-2.9-.7-2.9 .7zM162.2 255.2l2.9-.7-2.9-.7-2.9 .7zM171 255.9l2.9-.7-3-.7-2.9 .7zM168 255.2l2.9-.7-2.9-.7-2.9 .7zM176.8 256l2.9-.6-2.9-.8-2.9 .6zM173.9 255.2l2.9-.6-2.9-.8-3 .7zM182.6 256.2l3-.6-3-.8-2.9 .6zM179.7 255.4l2.9-.6-2.9-.8-2.9 .6zM188.5 256.5l2.9-.6-2.9-.9-2.9 .6zM185.6 255.6l2.9-.6-3-.8-2.9 .6zM194.3 256.8l2.9-.5-2.9-.9-2.9 .5zM191.4 255.9l2.9-.5-2.9-.9-2.9 .5zM200.1 257.2l2.9-.4-2.9-1-2.9 .5zM197.2 256.3l2.9-.5-2.9-.9-2.9 .5zM206 257.7l2.9-.4-2.9-1-3 .5zM203 256.8l3-.5-3-.9-2.9 .4zM211.8 258.3l2.9-.4-2.9-1-2.9 .4zM208.9 257.3l2.9-.4-2.9-1-2.9 .4z" fill="#522118" stroke="#522118" stroke-width="0.6"/>
<path d="M118.4 256.3l2.9-1-2.9-.3-2.9 1.1zM124.2 255.5l2.9-.9-2.9-.3-2.9 1zM121.3 255.3l2.9-1-2.9-.3-2.9 1zM133 255.3l2.9-.9-3-.4-2.9 .9zM130 254.9l2.9-.9-2.9-.4-2.9 1zM127.1 254.6l2.9-1-2.9-.2-2.9 .9zM138.8 254.8l2.9-.9-2.9-.4-2.9 .9zM135.9 254.4l2.9-.9-2.9-.4-3 .9zM144.6 254.4l2.9-.8-2.9-.5-2.9 .8zM141.7 253.9l2.9-.8-2.9-.4-2.9 .8zM153.4 254.7l2.9-.8-2.9-.6-2.9 .8zM150.5 254.1l2.9-.8-2.9-.5-3 .8zM147.5 253.6l3-.8-3-.5-2.9 .8zM159.3 254.5l2.9-.7-3-.6-2.9 .7zM156.3 253.9l2.9-.7-2.9-.6-2.9 .7zM153.4 253.3l2.9-.7-2.9-.5-2.9 .7zM165.1 254.5l2.9-.7-2.9-.7-2.9 .7zM162.2 253.8l2.9-.7-2.9-.6-3 .7zM159.2 253.2l3-.7-3-.6-2.9 .7zM170.9 254.5l3-.7-3-.7-2.9 .7zM168 253.8l2.9-.7-2.9-.6-2.9 .6zM176.8 254.6l2.9-.6-2.9-.8-2.9 .6zM173.9 253.8l2.9-.6-2.9-.7-3 .6zM182.6 254.8l2.9-.6-2.9-.8-2.9 .6zM179.7 254l2.9-.6-2.9-.7-2.9 .5zM188.5 255l2.9-.5-2.9-.8-3 .5zM185.5 254.2l3-.5-3-.8-2.9 .5zM194.3 255.4l2.9-.5-2.9-.8-2.9 .4zM191.4 254.5l2.9-.4-2.9-.8-2.9 .4zM200.1 255.8l2.9-.4-2.9-.9-2.9 .4zM197.2 254.9l2.9-.4-2.9-.8-2.9 .4zM206 256.3l2.9-.4-3-.9-2.9 .4zM203 255.4l2.9-.4-2.9-.8-2.9 .3zM211.8 256.9l2.9-.3-2.9-1-2.9 .3zM208.9 255.9l2.9-.3-3-.9-2.9 .3zM217.6 257.6l2.9-.3-2.9-1-2.9 .3zM214.7 256.6l2.9-.3-2.9-1-2.9 .3z" fill="#4b1f17" stroke="#4b1f17" stroke-width="0.6"/>
<path d="M115.5 256.1l2.9-1.1-2.9-.2-3 1.1zM112.5 255.9l3-1.1-3-.1-2.9 1zM109.6 255.7l2.9-1-2.9-.1-2.9 1zM115.5 254.8l2.9-.9-3-.2-2.9 1zM112.5 254.7l2.9-1-2.9 0-2.9 .9zM109.6 254.6l2.9-.9-2.9 0-2.9 .9zM115.4 253.7l3-.9-3 0-2.9 .9zM112.5 253.7l2.9-.9-2.9 0-2.9 .9zM109.6 253.7l2.9-.9-2.9 0-2.9 .9zM115.4 252.8l3-.9-2.9 0-3 .9zM112.5 252.8l3-.9-2.9 .1-3 .8zM109.6 252.8l3-.8-2.9 .1-2.9 .8zM118.4 251.9l2.9-.7-2.9 0-2.9 .7zM115.5 251.9l2.9-.7-2.9 0-2.9 .8zM112.6 252l2.9-.8-2.9 .1-2.9 .8zM118.4 251.2l2.9-.7-2.9 0-2.9 .7zM115.5 251.2l2.9-.7-2.9 .2-2.9 .6zM121.3 250.5l2.9-.7-2.9 .1-2.9 .6zM118.4 250.5l2.9-.6-2.9 .1-2.9 .7zM124.2 249.8l2.9-.6-2.9 .1-2.9 .6zM121.3 249.9l2.9-.6-2.9 .1-2.9 .6zM127.1 249.2l2.9-.5-2.9 .1-2.9 .5zM124.2 249.3l2.9-.5-2.9 .1-2.9 .5zM130 248.7l3-.5-2.9 .1-3 .5zM127.1 248.8l3-.5-2.9 .1-3 .5zM133 248.2l2.9-.4-2.9 .1-2.9 .4zM130.1 248.3l2.9-.4-2.9 .1-2.9 .4zM135.9 247.8l2.9-.4-2.9 .1-2.9 .4zM133 247.9l2.9-.4-2.9 .2-2.9 .3zM141.7 247.4l2.9-.3-2.9 0-2.9 .3zM138.8 247.4l2.9-.3-2.9 .1-2.9 .3zM135.9 247.5l2.9-.3-2.9 .2-2.9 .3zM144.6 247.1l3-.3-2.9 .1-3 .2zM141.7 247.1l3-.2-3 .1-2.9 .2zM138.8 247.2l2.9-.2-2.8 .1-3 .3zM150.5 246.8l2.9-.2-2.9 0-2.9 .2zM147.6 246.8l2.9-.2-2.9 .1-2.9 .2zM144.7 246.9l2.9-.2-2.9 .1-3 .2zM141.7 247l3-.2-2.9 .1-2.9 .2zM153.4 246.6l2.9-.2-2.9 0-2.9 .2zM150.5 246.6l2.9-.2-2.9 .1-2.9 .2zM147.6 246.7l2.9-.2-2.9 .1-2.9 .2zM159.2 246.5l2.9-.2-2.9 0-2.9 .1zM156.3 246.4l2.9-.1-2.9 0-2.9 .1zM153.4 246.4l2.9-.1-2.9 .1-2.9 .1zM220.5 257.3l2.9-.3-2.9-.9-2.9 .2zM165.1 246.4l2.9 0-2.9-.1-3 0zM162.1 246.3l3 0-2.9 0-3 0zM159.2 246.3l3 0-3 0-2.9 0zM223.4 257l2.9-.2-2.9-.9-2.9 .2zM220.5 256.1l2.9-.2-2.9-1-2.9 .2zM170.9 246.5l2.9-.1-2.9-.1-2.9 .1zM168 246.4l2.9-.1-2.9 0-2.9 0zM165.1 246.3l2.9 0-2.9-.1-2.9 .1zM226.3 256.8l2.9-.1-2.9-1-2.9 .2zM223.4 255.9l2.9-.2-3-.9-2.8 .1zM220.5 254.9l2.8-.1-2.9-.8-2.9 .1zM217.5 254.1l2.9-.1-2.9-.9-2.9 .1zM179.6 246.8l3 0-3-.2-2.9 0zM176.7 246.6l2.9 0-2.9-.1-2.9-.1zM173.8 246.4l2.9 .1-2.9-.1-2.9-.1zM170.9 246.3l2.9 .1-2.9-.1-2.9 0zM226.3 255.7l2.8-.1-2.9-.9-2.9 .1zM223.3 254.8l2.9-.1-2.9-.8-2.9 .1zM220.4 254l2.9-.1-2.9-.8-2.9 0zM217.5 253.1l2.9 0-2.9-.8-2.9 .1zM214.6 252.4l2.9-.1-2.9-.7-2.9 0zM188.4 247.4l2.9 .1-2.9-.3-2.9-.1zM185.5 247.1l2.9 .1-2.9-.3-2.9-.1zM182.6 246.8l2.9 .1-2.9-.2-3-.1zM179.6 246.6l3 .1-3-.2-2.9 0zM176.7 246.5l2.9 0-2.9-.1-2.9 0z" fill="#422519" stroke="#422519" stroke-width="0.6"/>
<path d="M118.4 255l2.9-1-2.9-.1-2.9 .9zM124.2 254.3l2.9-.9-2.9-.3-2.9 .9zM121.3 254l2.9-.9-2.9-.2-2.9 1zM118.4 253.9l2.9-1-2.9-.1-3 .9zM130 253.6l2.9-.8-2.9-.3-2.9 .9zM127.1 253.4l2.9-.9-2.9-.2-2.9 .8zM124.2 253.1l2.9-.8-2.9-.2-2.9 .8zM121.3 252.9l2.9-.8-2.9-.1-2.9 .8zM118.4 252.8l2.9-.8-2.9-.1-3 .9zM130 252.5l2.9-.8-2.9-.2-2.9 .8zM127.1 252.3l2.9-.8-2.9-.2-2.9 .8zM124.2 252.1l2.9-.8-2.9-.1-2.9 .8zM121.3 252l2.9-.8-2.9 0-2.9 .7zM130 251.5l2.9-.8-2.9-.1-2.9 .7zM127.1 251.3l2.9-.7-2.9-.1-2.9 .7zM124.2 251.2l2.9-.7-2.9-.1-2.9 .8zM121.3 251.2l2.9-.8-2.9 .1-2.9 .7zM130 250.6l2.9-.7-2.9-.1-2.9 .7zM127.1 250.5l2.9-.7-2.9 0-2.9 .6zM124.2 250.4l2.9-.6-2.9 0-2.9 .7zM132.9 249.9l2.9-.6-2.9-.1-2.9 .6zM130 249.8l2.9-.6-2.9 0-2.9 .6zM127.1 249.8l2.9-.6-2.9 0-2.9 .6zM135.8 249.3l3-.5-2.9-.1-3 .5zM132.9 249.2l3-.5-3 0-2.9 .5zM130 249.2l2.9-.5-2.9 0-2.9 .5zM138.8 248.8l2.9-.5-2.9-.1-2.9 .5zM135.9 248.7l2.9-.5-2.9 0-3 .5zM132.9 248.7l3-.5-2.9 0-3 .5zM141.7 248.3l2.9-.5-2.9 0-2.9 .4zM138.8 248.2l2.9-.4-2.9 0-2.9 .4zM135.9 248.2l2.9-.4-2.9 0-2.9 .4zM144.6 247.8l2.9-.3-2.9-.1-2.9 .4zM141.7 247.8l2.9-.4-2.9 0-2.9 .4zM138.8 247.8l2.9-.4-2.9 0-2.9 .4zM150.4 247.6l3-.4-2.9-.1-3 .4zM147.5 247.5l3-.4-3 0-2.9 .3zM144.6 247.4l2.9-.3-2.9 0-2.9 .3zM153.4 247.2l2.9-.2-2.9-.1-2.9 .2zM150.5 247.1l2.9-.2-2.9-.1-3 .3zM147.5 247.1l3-.3-2.9 0-3 .3zM159.2 247.1l2.9-.2-2.9-.2-2.9 .3zM156.3 247l2.9-.3-2.9-.1-2.9 .3zM153.4 246.9l2.9-.3-2.9 0-2.9 .2zM205.9 255l2.9-.3-2.9-.8-2.9 .3zM203 254.2l2.9-.3-2.9-.9-2.9 .3zM165.1 247.1l2.9-.2-2.9-.2-3 .2zM162.1 246.9l3-.2-3-.2-2.9 .2zM159.2 246.7l2.9-.2-2.9 0-2.9 .1zM156.3 246.6l2.9-.1-2.9-.1-2.9 .2zM211.8 255.6l2.9-.3-2.9-.8-3 .2zM208.8 254.7l3-.2-3-.9-2.9 .3zM205.9 253.9l2.9-.3-2.9-.8-2.9 .2zM203 253l2.9-.2-2.9-.8-2.9 .3zM170.9 247.1l2.9-.1-2.9-.3-2.9 .2zM168 246.9l2.9-.2-2.9-.1-2.9 .1zM165.1 246.7l2.9-.1-2.9-.2-3 .1zM162.1 246.5l3-.1-3-.1-2.9 .2zM217.6 256.3l2.9-.2-2.9-1-2.9 .2zM214.7 255.3l2.9-.2-2.9-.9-2.9 .3zM211.8 254.5l2.9-.3-3-.8-2.9 .2zM208.8 253.6l2.9-.2-2.9-.8-2.9 .2zM205.9 252.8l2.9-.2-2.9-.8-2.9 .2zM203 252l2.9-.2-2.9-.7-2.9 .2zM179.6 247.6l3-.1-3-.3-2.9 .1zM176.7 247.3l2.9-.1-2.9-.3-2.9 .1zM173.8 247l2.9-.1-2.9-.2-2.9 0zM170.9 246.7l2.9 0-2.9-.2-2.9 .1zM168 246.6l2.9-.1-2.9-.1-2.9 0zM217.6 255.1l2.9-.2-3-.8-2.8 .1zM214.7 254.2l2.8-.1-2.9-.9-2.9 .2zM211.7 253.4l2.9-.2-2.9-.7-2.9 .1zM208.8 252.6l2.9-.1-2.9-.8-2.9 .1zM205.9 251.8l2.9-.1-2.9-.7-2.9 .1zM203 251.1l2.9-.1-2.9-.6-2.9 .1zM200.1 250.5l2.9-.1-2.9-.6-2.9 .1zM197.2 249.9l2.9-.1-2.9-.6-3 .1zM194.2 249.3l3-.1-3-.5-2.9 .1zM191.3 248.8l2.9-.1-2.9-.5-2.9 .1zM188.4 248.3l2.9-.1-2.9-.4-2.9 .1zM185.5 247.9l2.9-.1-2.9-.4-2.9 .1zM182.6 247.5l2.9-.1-2.9-.3-3 .1zM179.6 247.2l3-.1-3-.3-2.9 .1zM176.7 246.9l2.9-.1-2.9-.2-2.9 .1zM173.8 246.7l2.9-.1-2.9-.2-2.9 .1zM214.6 253.2l2.9-.1-2.9-.7-2.9 .1zM211.7 252.5l2.9-.1-2.9-.8-2.9 .1zM208.8 251.7l2.9-.1-2.9-.7-2.9 .1zM205.9 251l2.9-.1-2.9-.6-2.9 .1zM203 250.4l2.9-.1-2.9-.6-2.9 .1zM200.1 249.8l2.9-.1-2.9-.6-2.9 .1zM197.2 249.2l2.9-.1-3-.5-2.9 .1zM194.2 248.7l2.9-.1-2.9-.4-2.9 0zM191.3 248.2l2.9 0-2.9-.4-2.9 0zM188.4 247.8l2.9 0-2.9-.4-2.9 0zM185.5 247.4l2.9 0-2.9-.3-2.9 0zM182.6 247.1l2.9 0-2.9-.3-3 0zM211.7 251.6l2.9 0-2.9-.7-2.9 0zM208.8 250.9l2.9 0-2.9-.6-2.9 0zM205.9 250.3l2.9 0-2.9-.6-2.9 0zM203 249.7l2.9 0-2.9-.6-2.9 0zM200.1 249.1l2.9 0-3-.4-2.9-.1zM197.1 248.6l2.9 .1-2.9-.5-2.9 0zM194.2 248.2l2.9 0-2.9-.4-2.9 0zM191.3 247.8l2.9 0-2.9-.3-2.9-.1z" fill="#432118" stroke="#432118" stroke-width="0.6"/>
<path d="M132.9 254l3-.9-3-.3-2.9 .8zM138.8 253.5l2.9-.8-2.9-.4-2.9 .8zM135.9 253.1l2.9-.8-3-.3-2.9 .8zM132.9 252.8l2.9-.8-2.9-.3-2.9 .8zM144.6 253.1l2.9-.8-2.9-.4-2.9 .8zM141.7 252.7l2.9-.8-2.9-.4-2.9 .8zM138.8 252.3l2.9-.8-2.9-.3-3 .8zM135.8 252l3-.8-3-.2-2.9 .7zM132.9 251.7l2.9-.7-2.9-.3-2.9 .8zM150.5 252.8l2.9-.7-2.9-.5-3 .7zM147.5 252.3l3-.7-3-.4-2.9 .7zM144.6 251.9l2.9-.7-2.9-.4-2.9 .7zM141.7 251.5l2.9-.7-2.9-.3-2.9 .7zM138.8 251.2l2.9-.7-2.9-.2-3 .7zM135.8 251l3-.7-3-.2-2.9 .6zM132.9 250.7l2.9-.6-2.9-.2-2.9 .7zM156.3 252.6l2.9-.7-2.9-.5-2.9 .7zM153.4 252.1l2.9-.7-2.9-.4-2.9 .6zM150.5 251.6l2.9-.6-3-.4-2.9 .6zM147.5 251.2l2.9-.6-2.9-.4-2.9 .6zM144.6 250.8l2.9-.6-2.9-.3-2.9 .6zM141.7 250.5l2.9-.6-2.9-.2-2.9 .6zM138.8 250.3l2.9-.6-2.9-.2-3 .6zM135.8 250.1l3-.6-3-.2-2.9 .6zM165.1 253.1l2.9-.6-2.9-.6-2.9 .6zM162.2 252.5l2.9-.6-3-.6-2.9 .6zM159.2 251.9l2.9-.6-2.9-.5-2.9 .6zM156.3 251.4l2.9-.6-2.9-.4-2.9 .6zM153.4 251l2.9-.6-2.9-.4-3 .6zM150.4 250.6l3-.6-3-.4-2.9 .6zM147.5 250.2l2.9-.6-2.9-.3-2.9 .6zM144.6 249.9l2.9-.6-2.9-.2-2.9 .6zM141.7 249.7l2.9-.6-2.9-.2-2.9 .6zM138.8 249.5l2.9-.6-2.9-.1-3 .5zM170.9 253.1l3-.6-3-.6-2.9 .6zM168 252.5l2.9-.6-2.9-.6-2.9 .6zM165.1 251.9l2.9-.6-2.9-.5-3 .5zM162.1 251.3l3-.5-3-.5-2.9 .5zM159.2 250.8l2.9-.5-2.9-.5-2.9 .6zM156.3 250.4l2.9-.6-2.9-.4-2.9 .6zM153.4 250l2.9-.6-2.9-.3-3 .5zM150.4 249.6l3-.5-3-.3-2.9 .5zM147.5 249.3l2.9-.5-2.9-.2-2.9 .5zM144.6 249.1l2.9-.5-2.9-.2-2.9 .5zM141.7 248.9l2.9-.5-2.9-.1-2.9 .5zM176.8 253.2l2.9-.5-2.9-.7-2.9 .5zM173.9 252.5l2.9-.5-3-.6-2.9 .5zM170.9 251.9l2.9-.5-2.9-.6-2.9 .5zM168 251.3l2.9-.5-2.9-.5-2.9 .5zM165.1 250.8l2.9-.5-2.9-.5-3 .5zM162.1 250.3l3-.5-3-.4-2.9 .4zM159.2 249.8l2.9-.4-2.9-.4-2.9 .4zM156.3 249.4l2.9-.4-2.9-.4-2.9 .5zM153.4 249.1l2.9-.5-2.9-.2-3 .4zM150.4 248.8l3-.4-3-.3-2.9 .5zM147.5 248.6l2.9-.5-2.9-.1-2.9 .4zM144.6 248.4l2.9-.4-2.9-.2-2.9 .5zM182.6 253.4l2.9-.5-2.9-.7-2.9 .5zM179.7 252.7l2.9-.5-2.9-.6-2.9 .4zM176.8 252l2.9-.4-2.9-.7-3 .5zM173.8 251.4l3-.5-3-.5-2.9 .4zM170.9 250.8l2.9-.4-2.9-.6-2.9 .5zM168 250.3l2.9-.5-2.9-.4-2.9 .4zM165.1 249.8l2.9-.4-2.9-.5-3 .5zM162.1 249.4l3-.5-3-.3-2.9 .4zM159.2 249l2.9-.4-2.9-.4-2.9 .4zM156.3 248.6l2.9-.4-2.9-.2-2.9 .4zM153.4 248.4l2.9-.4-2.9-.3-3 .4zM150.4 248.1l3-.4-3-.1-2.9 .4zM147.5 248l2.9-.4-2.9-.1-2.9 .3zM188.5 253.7l2.9-.4-3-.8-2.9 .4zM185.5 252.9l2.9-.4-2.9-.7-2.9 .4zM182.6 252.2l2.9-.4-2.9-.7-2.9 .5zM179.7 251.6l2.9-.5-2.9-.6-2.9 .4zM176.8 250.9l2.9-.4-2.9-.5-3 .4zM173.8 250.4l3-.4-3-.6-2.9 .4zM170.9 249.8l2.9-.4-2.9-.4-2.9 .4zM168 249.4l2.9-.4-2.9-.4-2.9 .3zM165.1 248.9l2.9-.3-2.9-.4-3 .4zM162.1 248.6l3-.4-3-.3-2.9 .3zM159.2 248.2l2.9-.3-2.9-.3-2.9 .4zM156.3 248l2.9-.4-2.9-.2-2.9 .3zM153.4 247.7l2.9-.3-2.9-.2-3 .4zM194.3 254.1l2.9-.4-2.9-.8-2.9 .4zM191.4 253.3l2.9-.4-2.9-.8-3 .4zM188.4 252.5l3-.4-3-.7-2.9 .4zM185.5 251.8l2.9-.4-2.9-.6-2.9 .3zM182.6 251.1l2.9-.3-2.9-.6-2.9 .3zM179.7 250.5l2.9-.3-2.9-.6-2.9 .4zM176.8 250l2.9-.4-3-.5-2.9 .3zM173.8 249.4l2.9-.3-2.9-.5-2.9 .4zM170.9 249l2.9-.4-2.9-.4-2.9 .4zM168 248.6l2.9-.4-2.9-.3-2.9 .3zM165.1 248.2l2.9-.3-3-.3-2.9 .3zM162.1 247.9l2.9-.3-2.9-.3-2.9 .3zM159.2 247.6l2.9-.3-2.9-.2-2.9 .3zM156.3 247.4l2.9-.3-2.9-.1-2.9 .2zM200.1 254.5l2.9-.3-2.9-.9-2.9 .4zM197.2 253.7l2.9-.4-2.9-.8-2.9 .4zM194.3 252.9l2.9-.4-2.9-.7-2.9 .3zM191.4 252.1l2.9-.3-2.9-.7-3 .3zM188.4 251.4l3-.3-3-.6-2.9 .3zM185.5 250.8l2.9-.3-2.9-.6-2.9 .3zM182.6 250.2l2.9-.3-2.9-.6-2.9 .3zM179.7 249.6l2.9-.3-2.9-.5-3 .3zM176.7 249.1l3-.3-3-.4-2.9 .2zM173.8 248.6l2.9-.2-2.9-.4-2.9 .2zM170.9 248.2l2.9-.2-2.9-.4-2.9 .3zM168 247.9l2.9-.3-2.9-.3-3 .3zM165 247.6l3-.3-2.9-.2-3 .2zM162.1 247.3l3-.2-3-.2-2.9 .2zM200.1 253.3l2.9-.3-2.9-.7-2.9 .2zM197.2 252.5l2.9-.2-2.9-.8-2.9 .3zM194.3 251.8l2.9-.3-2.9-.6-2.9 .2zM191.4 251.1l2.9-.2-3-.7-2.9 .3zM188.4 250.5l2.9-.3-2.9-.6-2.9 .3zM185.5 249.9l2.9-.3-2.9-.5-2.9 .2zM182.6 249.3l2.9-.2-2.9-.5-2.9 .2zM179.7 248.8l2.9-.2-2.9-.4-3 .2zM176.7 248.4l3-.2-3-.4-2.9 .2zM173.8 248l2.9-.2-2.9-.4-2.9 .2zM170.9 247.6l2.9-.2-2.9-.3-2.9 .2zM168 247.3l2.9-.2-2.9-.2-2.9 .2zM200.1 252.3l2.9-.3-2.9-.7-2.9 .2zM197.2 251.5l2.9-.2-2.9-.7-2.9 .3zM194.3 250.9l2.9-.3-2.9-.6-3 .2zM191.3 250.2l3-.2-3-.6-2.9 .2zM188.4 249.6l2.9-.2-2.9-.5-2.9 .2zM185.5 249.1l2.9-.2-2.9-.5-2.9 .2zM182.6 248.6l2.9-.2-2.9-.4-2.9 .2zM179.7 248.2l2.9-.2-3-.4-2.9 .2zM176.7 247.8l2.9-.2-2.9-.3-2.9 .1zM173.8 247.4l2.9-.1-2.9-.3-2.9 .1zM200.1 251.3l2.9-.2-2.9-.6-2.9 .1zM197.2 250.6l2.9-.1-2.9-.6-2.9 .1zM194.3 250l2.9-.1-3-.6-2.9 .1zM191.3 249.4l2.9-.1-2.9-.5-2.9 .1zM188.4 248.9l2.9-.1-2.9-.5-2.9 .1zM185.5 248.4l2.9-.1-2.9-.4-2.9 .1zM182.6 248l2.9-.1-2.9-.4-3 .1z" fill="#431d17" stroke="#431d17" stroke-width="0.6"/>
<ellipse cx="33.2" cy="298.8" rx="2.6" ry="1.8" fill="#f4c8d0" stroke="#803040" stroke-width="0.7"/>
<ellipse cx="158.8" cy="352.4" rx="2.3" ry="1.85" fill="#ff1010" stroke="#a01010" stroke-width="0.5"/>
<ellipse cx="286" cy="281" rx="2.3" ry="1.85" fill="#ff1010" stroke="#a01010" stroke-width="0.5"/>
<ellipse cx="159.1" cy="254.8" rx="2.3" ry="1.85" fill="#ff1010" stroke="#a01010" stroke-width="0.5"/>
<ellipse cx="159.1" cy="258.2" rx="2.3" ry="1.85" fill="#ff1010" stroke="#a01010" stroke-width="0.5"/>
<ellipse cx="159.1" cy="262.5" rx="2.3" ry="1.85" fill="#ff1010" stroke="#a01010" stroke-width="0.5"/>
<path d="M375.3,331.7L505.1,297.8L614.1,339.6M373.8,314.7L504.9,282.4L615.8,322.3M372.3,297.6L504.7,267.1L617.4,305M370.8,280.6L504.5,251.7L619.1,287.7M369.3,263.5L504.3,236.3L620.7,270.4M367.8,246.4L504.1,220.9L622.4,253.1M401.2,325L395,241.3M427.2,318.2L422.3,236.2M453.2,311.4L449.6,231.1M479.2,304.6L476.9,226M596,332.6L602.7,247.7M577.8,325.6L583,242.4M559.6,318.7L563.3,237M541.5,311.7L543.5,231.6M523.3,304.8L523.8,226.3M377.6,358.3L367.8,246.4M505.4,321.7L504.1,220.9M611.5,366.5L622.4,253.1" stroke="#474747" stroke-width="0.95" fill="none"/>
<polygon points="480.6,410.9 611.5,366.5 505.4,321.7 377.6,358.3" fill="#ffff00"/>
<polyline points="482.7,410.2 479.4,409.6 477.2,409.2" fill="none" stroke="#28d8b0" stroke-width="1.1"/>
<polyline points="516.5,398.7 513,398.5 509.3,398.4 505.6,398.1 502.4,397.9 499.1,397.7 495.1,397.4 492.1,397.1 488.4,396.7 485.1,396.4 481.5,396 478.4,395.6 474.7,395.1 471.2,394.6 468.1,394.2 464.8,393.6 461.4,393.1 458,392.4 454.7,391.8 451.4,391.2 447.8,390.4 444.3,389.6 441.2,388.9 438,388.1 434.5,387.2 433.7,387" fill="none" stroke="#3ce03c" stroke-width="1.1"/>
<polyline points="574.1,379.2 570.5,379.5 566.6,379.8 562.7,380.1 559.6,380.3 555.7,380.6 552,380.8 548.7,381 544.7,381.2 541.5,381.3 537.7,381.4 534.1,381.5 530.9,381.6 527,381.7 523.2,381.7 519.9,381.7 516.5,381.7 513.1,381.6 509.6,381.5 506,381.4 502.3,381.2 498.6,381 495.4,380.8 492.2,380.5 488.2,380.2 485.2,379.9 481.4,379.4 478.3,379 474.9,378.6 471.4,378 468,377.4 464.7,376.8 461.4,376.1 458,375.4 454.6,374.5 451.5,373.7 448.2,372.8 444.8,371.8 441.6,370.7 438.5,369.5 435,368.1 432.2,366.9 429,365.4 426.1,363.8 423.8,362.4 421.7,361 419.7,359.6 418,358 416.4,356.5 415.3,355.2 414.3,353.8 413.6,352.4 413,351 412.7,349.7 412.5,348.3 412.5,348.3" fill="none" stroke="#f4f418" stroke-width="1.1"/>
<polyline points="547.7,340.5 551.1,341.7 553.7,343 555.5,344.3 556.9,345.8 557.5,347 557.5,348.3 556.8,349.6 555.4,350.9 553.4,352 549.8,353.4 546.2,354.2 542.2,354.9 538.6,355.3 534.8,355.6 531.6,355.7 528,355.6 524.6,355.5 520.6,355.2 517.4,354.7 513.8,354.1 511,353.4 507.4,352.1 504.7,350.5 503.4,349.3 502.6,348 502.4,346.6 502.8,345.3 503.6,344.1 505,342.9 507.3,341.5 510,340.4 513.9,339.2 517.6,338.5 521.6,338 524.9,337.7 528.8,337.7 532.4,337.8 535.4,338 539,338.5 542.2,339 545.8,339.9 547.7,340.5" fill="none" stroke="#ec8a1c" stroke-width="1.1"/>
<polygon points="480.6,410.9 611.5,366.5 505.4,321.7 377.6,358.3" fill="none" stroke="#6060a8" stroke-width="0.8"/>
<circle cx="375.3" cy="331.7" r="0.9" fill="#111"/>
<circle cx="373.8" cy="314.7" r="0.9" fill="#111"/>
<circle cx="372.3" cy="297.6" r="0.9" fill="#111"/>
<circle cx="370.8" cy="280.6" r="0.9" fill="#111"/>
<circle cx="369.3" cy="263.5" r="0.9" fill="#111"/>
<circle cx="367.8" cy="246.4" r="0.9" fill="#111"/>
<circle cx="506.8" cy="402" r="0.9" fill="#111"/>
<circle cx="533" cy="393.1" r="0.9" fill="#111"/>
<circle cx="559.2" cy="384.2" r="0.9" fill="#111"/>
<circle cx="585.4" cy="375.3" r="0.9" fill="#111"/>
<circle cx="463.4" cy="402.1" r="0.9" fill="#111"/>
<circle cx="446.3" cy="393.4" r="0.9" fill="#111"/>
<circle cx="429.1" cy="384.6" r="0.9" fill="#111"/>
<circle cx="411.9" cy="375.8" r="0.9" fill="#111"/>
<circle cx="394.8" cy="367.1" r="0.9" fill="#111"/>
<path d="M481.5 364l3.1-3.1-2.5-2.1-3.1 3zM479 361.8l3.1-3-2.4-2.2-3.1 3.1zM476.6 359.7l3.1-3.1-2.5-2.2-3 3.1zM474.2 357.5l3-3.1-2.4-2.2-3.1 3.1zM471.7 355.3l3.1-3.1-2.5-2.2-3 3.1zM469.3 353.1l3-3.1-2.4-2.2-3.1 3.1zM484.6 360.9l3.1-2.9-2.5-2.2-3.1 3zM482.1 358.8l3.1-3-2.4-2.2-3.1 3zM479.7 356.6l3.1-3-2.5-2.2-3.1 3zM477.2 354.4l3.1-3-2.4-2.2-3.1 3zM487.7 358l3.1-2.9-2.5-2.1-3.1 2.8zM485.2 355.8l3.1-2.8-2.4-2.2-3.1 2.8zM490.8 355.1l3.1-2.7-2.5-2.2-3.1 2.8z" fill="#06abb6" stroke="#06abb6" stroke-width="0.6"/>
<path d="M466.8 350.9l3.1-3.1-2.5-2.2-3 3.1zM464.4 348.7l3-3.1-2.4-2.1-3.1 3zM474.8 352.2l3.1-3-2.5-2.2-3.1 3zM472.3 350l3.1-3-2.4-2.2-3.1 3zM482.8 353.6l3.1-2.8-2.5-2.2-3.1 2.8zM480.3 351.4l3.1-2.8-2.4-2.2-3.1 2.8zM477.9 349.2l3.1-2.8-2.5-2.2-3.1 2.8zM488.3 353l3.1-2.8-2.4-2.2-3.1 2.8zM485.9 350.8l3.1-2.8-2.5-2.2-3.1 2.8zM493.9 352.4l3.1-2.7-2.5-2.2-3.1 2.7z" fill="#06af9e" stroke="#06af9e" stroke-width="0.6"/>
<path d="M461.9 346.5l3.1-3-2.5-2.2-3.1 3.1zM459.4 344.4l3.1-3.1-2.5-2.1-3 3zM457 342.2l3-3-2.5-2.1-3 3zM469.9 347.8l3.1-3-2.5-2.1-3.1 2.9zM467.4 345.6l3.1-2.9-2.5-2.2-3 3zM465 343.5l3-3-2.4-2.1-3.1 2.9zM475.4 347l3.1-2.8-2.5-2.2-3 2.8zM473 344.8l3-2.8-2.4-2.2-3.1 2.9zM483.4 348.6l3.1-2.8-2.4-2.2-3.1 2.8zM481 346.4l3.1-2.8-2.5-2.2-3.1 2.8zM491.4 350.2l3.1-2.7-2.4-2.2-3.1 2.7zM489 348l3.1-2.7-2.5-2.2-3.1 2.7zM486.5 345.8l3.1-2.7-2.5-2.2-3 2.7zM497 349.7l3.1-2.6-2.5-2.2-3.1 2.6zM494.5 347.5l3.1-2.6-2.4-2.2-3.1 2.6zM500.1 347.1l3.1-2.5-2.5-2.2-3.1 2.5z" fill="#06ae81" stroke="#06ae81" stroke-width="0.6"/>
<path d="M454.5 340.1l3-3-2.4-2.1-3.1 3zM452 338l3.1-3-2.5-2-3.1 3zM462.5 341.3l3.1-2.9-2.5-2.2-3.1 3zM460 339.2l3.1-3-2.5-2-3.1 2.9zM470.5 342.7l3.1-2.9-2.5-2.1-3.1 2.8zM468 340.5l3.1-2.8-2.5-2.2-3 2.9zM478.5 344.2l3.1-2.8-2.5-2.2-3.1 2.8zM476 342l3.1-2.8-2.5-2.1-3 2.7zM484.1 343.6l3-2.7-2.4-2.1-3.1 2.6zM492.1 345.3l3.1-2.6-2.5-2.1-3.1 2.5zM489.6 343.1l3.1-2.5-2.5-2.2-3.1 2.5zM497.6 344.9l3.1-2.5-2.4-2.2-3.1 2.5zM503.2 344.6l3.1-2.4-2.4-2.2-3.2 2.4z" fill="#06ae68" stroke="#06ae68" stroke-width="0.6"/>
<path d="M449.5 336l3.1-3-2.5-2-3.1 3zM457.5 337.1l3.1-2.9-2.5-2.1-3 2.9zM465.6 338.4l3-2.9-2.5-2.1-3 2.8zM473.6 339.8l3-2.7-2.4-2.2-3.1 2.8zM481.6 341.4l3.1-2.6-2.5-2.2-3.1 2.6zM479.1 339.2l3.1-2.6-2.5-2.2-3.1 2.7zM487.1 340.9l3.1-2.5-2.4-2.2-3.1 2.6zM495.2 342.7l3.1-2.5-2.5-2.1-3.1 2.5zM492.7 340.6l3.1-2.5-2.4-2.2-3.2 2.5zM500.7 342.4l3.2-2.4-2.5-2.2-3.1 2.4zM506.3 342.2l3.1-2.4-2.4-2.2-3.1 2.4z" fill="#06ae57" stroke="#06ae57" stroke-width="0.6"/>
<path d="M447 334l3.1-3-2.5-2-3.1 3zM455.1 335l3-2.9-2.5-2-3 2.9zM463.1 336.2l3-2.8-2.5-2.1-3 2.9zM471.1 337.7l3.1-2.8-2.5-2.1-3.1 2.7zM476.6 337.1l3.1-2.7-2.5-2.1-3 2.6zM484.7 338.8l3.1-2.6-2.5-2.2-3.1 2.6zM490.2 338.4l3.2-2.5-2.5-2.2-3.1 2.5zM498.3 340.2l3.1-2.4-2.5-2.2-3.1 2.5zM503.9 340l3.1-2.4-2.5-2.2-3.1 2.4zM509.4 339.8l3.2-2.3-2.5-2.2-3.1 2.3z" fill="#06ae49" stroke="#06ae49" stroke-width="0.6"/>
<path d="M444.5 332l3.1-3-2.5-2-3 3zM442.1 330l3-3-2.5-1.8-3 2.9zM452.6 333l3-2.9-2.5-2-3 2.9zM450.1 331l3-2.9-2.5-2-3 2.9zM460.6 334.2l3-2.9-2.5-2-3 2.8zM468.6 335.5l3.1-2.7-2.5-2.1-3.1 2.7zM466.1 333.4l3.1-2.7-2.5-2.1-3.1 2.7zM474.2 334.9l3-2.6-2.4-2.1-3.1 2.6zM482.2 336.6l3.1-2.6-2.5-2.2-3.1 2.6zM487.8 336.2l3.1-2.5-2.5-2.2-3.1 2.5zM495.8 338.1l3.1-2.5-2.4-2.2-3.1 2.5zM501.4 337.8l3.1-2.4-2.5-2.1-3.1 2.3zM507 337.6l3.1-2.3-2.5-2.2-3.1 2.3zM512.6 337.5l3.1-2.2-2.5-2.2-3.1 2.2z" fill="#07ad3c" stroke="#07ad3c" stroke-width="0.6"/>
<path d="M439.6 328.1l3-2.9-2.5-1.9-3.1 2.9zM437 326.2l3.1-2.9-2.6-1.8-3 2.9zM447.6 329l3-2.9-2.5-1.9-3 2.8zM458.1 332.1l3-2.8-2.5-2-3 2.8zM455.6 330.1l3-2.8-2.5-2-3 2.8zM463.6 331.3l3.1-2.7-2.5-2-3.1 2.7zM471.7 332.8l3.1-2.6-2.5-2.1-3.1 2.6zM479.7 334.4l3.1-2.6-2.5-2.1-3.1 2.6zM477.2 332.3l3.1-2.6-2.5-2.1-3 2.6zM485.3 334l3.1-2.5-2.5-2.1-3.1 2.4zM493.4 335.9l3.1-2.5-2.5-2.1-3.1 2.4zM490.9 333.7l3.1-2.4-2.5-2.2-3.1 2.4zM498.9 335.6l3.1-2.3-2.4-2.2-3.1 2.3zM504.5 335.4l3.1-2.3-2.4-2.1-3.2 2.3zM510.1 335.3l3.1-2.2-2.4-2.2-3.2 2.2zM515.7 335.3l3.1-2.2-2.5-2.2-3.1 2.2z" fill="#0cad31" stroke="#0cad31" stroke-width="0.6"/>
<path d="M434.5 324.4l3-2.9-2.5-1.8-3 2.9zM432 322.6l3-2.9-2.5-1.7-3 2.9zM445.1 327l3-2.8-2.5-1.9-3 2.9zM442.6 325.2l3-2.9-2.5-1.8-3 2.8zM453.1 328.1l3-2.8-2.5-2-3 2.8zM450.6 326.1l3-2.8-2.5-1.9-3 2.8zM461.1 329.3l3.1-2.7-2.5-2-3.1 2.7zM458.6 327.3l3.1-2.7-2.5-2-3.1 2.7zM469.2 330.7l3.1-2.6-2.5-2.1-3.1 2.6zM466.7 328.6l3.1-2.6-2.5-2-3.1 2.6zM474.8 330.2l3-2.6-2.5-2.1-3 2.6zM482.8 331.8l3.1-2.4-2.5-2.2-3.1 2.5zM480.3 329.7l3.1-2.5-2.5-2.1-3.1 2.5zM488.4 331.5l3.1-2.4-2.5-2.1-3.1 2.4zM496.5 333.4l3.1-2.3-2.5-2.2-3.1 2.4zM494 331.3l3.1-2.4-2.5-2.2-3.1 2.4zM502 333.3l3.2-2.3-2.5-2.2-3.1 2.3zM499.6 331.1l3.1-2.3-2.5-2.2-3.1 2.3zM507.6 333.1l3.2-2.2-2.5-2.2-3.1 2.3zM513.2 333.1l3.1-2.2-2.4-2.2-3.1 2.2zM518.8 333.1l3.1-2.2-2.4-2.1-3.2 2.1z" fill="#13ac27" stroke="#13ac27" stroke-width="0.6"/>
<path d="M429.5 320.9l3-2.9-2.5-1.6-3 2.8zM427 319.2l3-2.8-2.5-1.7-3 2.9zM424.5 317.6l3-2.9-2.5-1.5-3 2.8zM422 316l3-2.8-2.6-1.5-2.9 2.7zM440.1 323.3l3-2.8-2.5-1.8-3.1 2.8zM437.5 321.5l3.1-2.8-2.6-1.7-3 2.7zM435 319.7l3-2.7-2.5-1.7-3 2.7zM448.1 324.2l3-2.8-2.5-1.8-3 2.7zM445.6 322.3l3-2.7-2.5-1.8-3 2.7zM456.1 325.3l3.1-2.7-2.5-1.9-3.1 2.6zM453.6 323.3l3.1-2.6-2.5-1.9-3.1 2.6zM464.2 326.6l3.1-2.6-2.5-2-3.1 2.6zM461.7 324.6l3.1-2.6-2.6-2-3 2.6zM472.3 328.1l3-2.6-2.5-2-3 2.5zM469.8 326l3-2.5-2.5-2.1-3 2.6zM477.8 327.6l3.1-2.5-2.5-2.1-3.1 2.5zM485.9 329.4l3.1-2.4-2.5-2.2-3.1 2.4zM483.4 327.2l3.1-2.4-2.5-2.1-3.1 2.4zM491.5 329.1l3.1-2.4-2.5-2.1-3.1 2.4zM497.1 328.9l3.1-2.3-2.5-2.1-3.1 2.2zM505.2 331l3.1-2.3-2.5-2.1-3.1 2.2zM502.7 328.8l3.1-2.2-2.5-2.2-3.1 2.2zM510.8 330.9l3.1-2.2-2.5-2.2-3.1 2.2zM508.3 328.7l3.1-2.2-2.5-2.1-3.1 2.2zM516.3 330.9l3.2-2.1-2.5-2.2-3.1 2.1zM513.9 328.7l3.1-2.1-2.5-2.2-3.1 2.1zM521.9 330.9l3.2-2.1-2.5-2.1-3.1 2.1zM519.5 328.8l3.1-2.1-2.5-2.2-3.1 2.1zM525.1 328.8l3.1-2-2.5-2.2-3.1 2.1z" fill="#1cab1e" stroke="#1cab1e" stroke-width="0.6"/>
<path d="M419.5 314.4l2.9-2.7-2.5-1.5-3 2.7zM416.9 312.9l3-2.7-2.5-1.4-3 2.7zM414.4 311.5l3-2.7-2.5-1.4-3 2.7zM411.9 310.1l3-2.7-2.6-1.3-2.9 2.6zM409.4 308.7l2.9-2.6-2.5-1.3-2.9 2.6zM406.9 307.4l2.9-2.6-2.5-1.3-2.9 2.6zM404.4 306.1l2.9-2.6-2.5-1.2-2.9 2.6zM430 316.4l3-2.8-2.5-1.6-3 2.7zM427.5 314.7l3-2.7-2.6-1.5-2.9 2.7zM425 313.2l2.9-2.7-2.5-1.5-3 2.7zM422.4 311.7l3-2.7-2.5-1.5-3 2.7zM419.9 310.2l3-2.7-2.5-1.4-3 2.7zM438 317l3-2.7-2.5-1.7-3 2.7zM435.5 315.3l3-2.7-2.5-1.6-3 2.6zM433 313.6l3-2.6-2.5-1.6-3 2.6z" fill="#29a31e" stroke="#29a31e" stroke-width="0.6"/>
<path d="M401.9 304.9l2.9-2.6-2.5-1.1-3 2.5zM399.3 303.7l3-2.5-2.5-1.1-3 2.5zM396.8 302.6l3-2.5-2.6-1.1-2.9 2.5zM394.3 301.5l2.9-2.5-2.5-1-2.9 2.4zM391.8 300.4l2.9-2.4-2.5-1-2.9 2.4zM389.3 299.4l2.9-2.4-2.5-1-2.9 2.4zM386.8 298.4l2.9-2.4-2.5-.9-2.9 2.3zM399.8 300.1l2.9-2.4-2.5-1-3 2.3zM397.2 299l3-2.3-2.5-1-3 2.3zM394.7 298l3-2.3-2.5-1-3 2.3zM392.2 297l3-2.3-2.5-.9-3 2.2zM389.7 296l3-2.2-2.6-.9-2.9 2.2z" fill="#2f971e" stroke="#2f971e" stroke-width="0.6"/>
<path d="M384.3 297.4l2.9-2.3-2.5-.9-2.9 2.3zM381.8 296.5l2.9-2.3-2.5-.9-2.9 2.2zM379.3 295.5l2.9-2.2-2.5-.8-2.9 2.1zM376.8 294.6l2.9-2.1-2.5-.9-2.9 2.2zM374.3 293.8l2.9-2.2-2.5-.8-2.8 2.1zM387.2 295.1l2.9-2.2-2.5-.9-2.9 2.2zM384.7 294.2l2.9-2.2-2.5-.8-2.9 2.1zM382.2 293.3l2.9-2.1-2.5-.8-2.9 2.1zM379.7 292.5l2.9-2.1-2.5-.8-2.9 2zM377.2 291.6l2.9-2-2.4-.8-3 2z" fill="#2c8f1d" stroke="#2c8f1d" stroke-width="0.6"/>
<path d="M432.5 318l3-2.7-2.5-1.7-3 2.8zM443.1 320.5l3-2.7-2.5-1.8-3 2.7zM440.6 318.7l3-2.7-2.6-1.7-3 2.7zM451.1 321.4l3.1-2.6-2.6-1.9-3 2.7zM448.6 319.6l3-2.7-2.5-1.8-3 2.7zM459.2 322.6l3-2.6-2.5-1.9-3 2.6zM456.7 320.7l3-2.6-2.5-1.9-3 2.6zM467.3 324l3-2.6-2.5-1.9-3 2.5zM464.8 322l3-2.5-2.5-2-3.1 2.5zM475.3 325.5l3.1-2.5-2.5-2-3.1 2.5zM472.8 323.5l3.1-2.5-2.5-2-3.1 2.4zM480.9 325.1l3.1-2.4-2.5-2-3.1 2.3zM478.4 323l3.1-2.3-2.5-2.1-3.1 2.4zM489 327l3.1-2.4-2.5-2.1-3.1 2.3zM486.5 324.8l3.1-2.3-2.5-2.1-3.1 2.3zM494.6 326.7l3.1-2.2-2.5-2.2-3.1 2.3zM492.1 324.6l3.1-2.3-2.5-2.1-3.1 2.3zM500.2 326.6l3.1-2.2-2.5-2.1-3.1 2.2zM497.7 324.5l3.1-2.2-2.5-2.2-3.1 2.2zM505.8 326.6l3.1-2.2-2.5-2.2-3.1 2.2zM511.4 326.5l3.1-2.1-2.5-2.1-3.1 2.1zM517 326.6l3.1-2.1-2.4-2.2-3.2 2.1zM522.6 326.7l3.1-2.1-2.4-2.1-3.2 2zM528.2 326.8l3.2-2-2.5-2.2-3.2 2z" fill="#25ac1d" stroke="#25ac1d" stroke-width="0.6"/>
<path d="M417.4 308.8l3-2.7-2.6-1.3-2.9 2.6zM414.9 307.4l2.9-2.6-2.5-1.3-3 2.6zM412.3 306.1l3-2.6-2.5-1.3-3 2.6zM409.8 304.8l3-2.6-2.5-1.2-3 2.5zM407.3 303.5l3-2.5-2.6-1.1-2.9 2.4zM404.8 302.3l2.9-2.4-2.5-1.1-2.9 2.4zM402.3 301.2l2.9-2.4-2.5-1.1-2.9 2.4zM430.5 312l3-2.6-2.6-1.5-3 2.6zM427.9 310.5l3-2.6-2.5-1.5-3 2.6zM425.4 309l3-2.6-2.5-1.4-3 2.5zM422.9 307.5l3-2.5-2.6-1.4-2.9 2.5zM420.4 306.1l2.9-2.5-2.5-1.3-3 2.5zM417.8 304.8l3-2.5-2.5-1.3-3 2.5z" fill="#33a01f" stroke="#33a01f" stroke-width="0.6"/>
<path d="M415.3 303.5l3-2.5-2.5-1.2-3 2.4zM412.8 302.2l3-2.4-2.6-1.2-2.9 2.4zM410.3 301l2.9-2.4-2.5-1.1-3 2.4zM407.7 299.9l3-2.4-2.5-1.1-3 2.4zM405.2 298.8l3-2.4-2.5-1-3 2.3zM430.9 307.9l3-2.5-2.5-1.5-3 2.5zM428.4 306.4l3-2.5-2.5-1.3-3 2.4zM425.9 305l3-2.4-2.6-1.4-3 2.4zM423.3 303.6l3-2.4-2.5-1.3-3 2.4zM420.8 302.3l3-2.4-2.5-1.2-3 2.3zM418.3 301l3-2.3-2.6-1.2-2.9 2.3zM415.8 299.8l2.9-2.3-2.5-1.2-3 2.3zM413.2 298.6l3-2.3-2.5-1.1-3 2.3zM410.7 297.5l3-2.3-2.6-1-2.9 2.2zM408.2 296.4l2.9-2.2-2.5-1-2.9 2.2zM439 308.4l3-2.4-2.5-1.5-3 2.4zM436.5 306.9l3-2.4-2.5-1.5-3.1 2.4zM433.9 305.4l3.1-2.4-2.6-1.4-3 2.3zM431.4 303.9l3-2.3-2.5-1.4-3 2.4z" fill="#3f9f21" stroke="#3f9f21" stroke-width="0.6"/>
<path d="M402.7 297.7l3-2.3-2.6-1-2.9 2.3zM400.2 296.7l2.9-2.3-2.5-1-2.9 2.3zM397.7 295.7l2.9-2.3-2.5-.9-2.9 2.2zM395.2 294.7l2.9-2.2-2.5-.9-2.9 2.2zM392.7 293.8l2.9-2.2-2.5-.8-3 2.1zM390.1 292.9l3-2.1-2.5-.8-3 2zM387.6 292l3-2-2.5-.8-3 2zM405.7 295.4l2.9-2.2-2.5-1-3 2.2zM403.1 294.4l3-2.2-2.5-.9-3 2.1zM400.6 293.4l3-2.1-2.5-.9-3 2.1zM398.1 292.5l3-2.1-2.6-.8-2.9 2zM395.6 291.6l2.9-2-2.5-.8-2.9 2zM393.1 290.8l2.9-2-2.5-.8-2.9 2z" fill="#3b9120" stroke="#3b9120" stroke-width="0.6"/>
<path d="M385.1 291.2l3-2-2.5-.8-3 2zM382.6 290.4l3-2-2.5-.8-3 2zM380.1 289.6l3-2-2.5-.7-2.9 1.9zM390.6 290l2.9-2-2.5-.8-2.9 2zM388.1 289.2l2.9-2-2.5-.7-2.9 1.9zM385.6 288.4l2.9-1.9-2.5-.7-2.9 1.8zM383.1 287.6l2.9-1.8-2.5-.7-2.9 1.8zM393.5 288l3-1.9-2.5-.8-3 1.9zM391 287.2l3-1.9-2.6-.7-2.9 1.9zM388.5 286.5l2.9-1.9-2.5-.6-2.9 1.8zM386 285.8l2.9-1.8-2.5-.7-2.9 1.8zM391.4 284.6l3-1.7-2.5-.7-3 1.8zM388.9 284l3-1.8-2.5-.6-3 1.7z" fill="#39861f" stroke="#39861f" stroke-width="0.6"/>
<path d="M446.1 317.8l3-2.7-2.5-1.7-3 2.6zM443.6 316l3-2.6-2.5-1.7-3.1 2.6zM441 314.3l3.1-2.6-2.6-1.7-3 2.6zM454.2 318.8l3-2.6-2.5-1.8-3.1 2.5zM451.6 316.9l3.1-2.5-2.5-1.8-3.1 2.5zM462.2 320l3.1-2.5-2.5-1.9-3.1 2.5zM459.7 318.1l3.1-2.5-2.5-1.8-3.1 2.4zM470.3 321.4l3.1-2.4-2.5-2-3.1 2.5zM467.8 319.5l3.1-2.5-2.5-1.9-3.1 2.4zM475.9 321l3.1-2.4-2.5-2-3.1 2.4zM484 322.7l3.1-2.3-2.5-2-3.1 2.3zM481.5 320.7l3.1-2.3-2.5-2.1-3.1 2.3zM489.6 322.5l3.1-2.3-2.5-2-3.1 2.2zM495.2 322.3l3.1-2.2-2.5-2.1-3.1 2.2zM503.3 324.4l3.1-2.2-2.5-2.1-3.1 2.2zM500.8 322.3l3.1-2.2-2.5-2.1-3.1 2.1zM508.9 324.4l3.1-2.1-2.5-2.2-3.1 2.1zM506.4 322.2l3.1-2.1-2.5-2.1-3.1 2.1zM514.5 324.4l3.2-2.1-2.5-2.1-3.2 2.1zM512 322.3l3.2-2.1-2.5-2.1-3.2 2zM520.1 324.5l3.2-2-2.5-2.2-3.1 2zM517.7 322.3l3.1-2-2.5-2.1-3.1 2zM525.7 324.6l3.2-2-2.5-2.1-3.1 2zM523.3 322.5l3.1-2-2.5-2.2-3.1 2zM531.4 324.8l3.1-2-2.5-2.1-3.1 1.9zM528.9 322.6l3.1-1.9-2.5-2.2-3.1 2zM534.5 322.8l3.1-1.9-2.4-2.2-3.2 2z" fill="#2eac1f" stroke="#2eac1f" stroke-width="0.6"/>
<path d="M438.5 312.6l3-2.6-2.5-1.6-3 2.6zM436 311l3-2.6-2.5-1.5-3 2.5zM433.5 309.4l3-2.5-2.6-1.5-3 2.5zM449.1 315.1l3.1-2.5-2.6-1.7-3 2.5zM446.6 313.4l3-2.5-2.5-1.7-3 2.5zM444.1 311.7l3-2.5-2.5-1.6-3.1 2.4zM457.2 316.2l3.1-2.4-2.6-1.9-3 2.5zM454.7 314.4l3-2.5-2.5-1.7-3 2.4zM465.3 317.5l3.1-2.4-2.5-1.9-3.1 2.4zM462.8 315.6l3.1-2.4-2.6-1.8-3 2.4zM473.4 319l3.1-2.4-2.5-1.9-3.1 2.3zM470.9 317l3.1-2.3-2.6-1.9-3 2.3zM479 318.6l3.1-2.3-2.5-2-3.1 2.3zM487.1 320.4l3.1-2.2-2.5-2.1-3.1 2.3zM484.6 318.4l3.1-2.3-2.5-2-3.1 2.2zM492.7 320.2l3.1-2.2-2.5-2-3.1 2.2zM498.3 320.1l3.1-2.1-2.5-2.1-3.1 2.1zM503.9 320.1l3.1-2.1-2.5-2.1-3.1 2.1zM509.5 320.1l3.2-2-2.5-2.2-3.2 2.1zM515.2 320.2l3.1-2-2.5-2.2-3.1 2.1zM520.8 320.3l3.1-2-2.5-2.1-3.1 2zM526.4 320.5l3.1-2-2.5-2.1-3.1 1.9zM532 320.7l3.2-2-2.5-2.1-3.2 1.9zM537.6 320.9l3.2-1.9-2.5-2.2-3.1 1.9z" fill="#36ab20" stroke="#36ab20" stroke-width="0.6"/>
<path d="M441.5 310l3.1-2.4-2.6-1.6-3 2.4zM452.2 312.6l3-2.4-2.5-1.7-3.1 2.4zM449.6 310.9l3.1-2.4-2.6-1.7-3 2.4zM460.3 313.8l3-2.4-2.5-1.8-3.1 2.3zM457.7 311.9l3.1-2.3-2.5-1.8-3.1 2.4zM468.4 315.1l3-2.3-2.5-1.9-3 2.3zM465.9 313.2l3-2.3-2.5-1.8-3.1 2.3zM476.5 316.6l3.1-2.3-2.5-1.9-3.1 2.3zM474 314.7l3.1-2.3-2.6-1.9-3.1 2.3zM482.1 316.3l3.1-2.2-2.5-2-3.1 2.2zM490.2 318.2l3.1-2.2-2.5-2.1-3.1 2.2zM487.7 316.1l3.1-2.2-2.5-2-3.1 2.2zM495.8 318l3.1-2.1-2.5-2.1-3.1 2.2zM493.3 316l3.1-2.2-2.5-2-3.1 2.1zM501.4 318l3.1-2.1-2.5-2.1-3.1 2.1zM507 318l3.2-2.1-2.5-2.1-3.2 2.1zM512.7 318.1l3.1-2.1-2.5-2.1-3.1 2zM518.3 318.2l3.1-2-2.5-2.1-3.1 1.9zM523.9 318.3l3.1-1.9-2.4-2.2-3.2 2zM529.5 318.5l3.2-1.9-2.5-2.1-3.2 1.9zM535.2 318.7l3.1-1.9-2.5-2.1-3.1 1.9zM540.8 319l3.1-1.9-2.5-2.1-3.1 1.8zM538.3 316.8l3.1-1.8-2.4-2.1-3.2 1.8zM543.9 317.1l3.2-1.8-2.5-2.1-3.2 1.8z" fill="#3dac21" stroke="#3dac21" stroke-width="0.6"/>
<path d="M428.9 302.6l3-2.4-2.6-1.3-3 2.3zM426.3 301.2l3-2.3-2.5-1.3-3 2.3zM423.8 299.9l3-2.3-2.5-1.2-3 2.3zM421.3 298.7l3-2.3-2.6-1.2-3 2.3zM418.7 297.5l3-2.3-2.5-1.1-3 2.2zM416.2 296.3l3-2.2-2.6-1-2.9 2.1zM413.7 295.2l2.9-2.1-2.5-1.1-3 2.2zM439.5 304.5l3-2.4-2.5-1.4-3 2.3zM437 303l3-2.3-2.6-1.4-3 2.3zM434.4 301.6l3-2.3-2.5-1.4-3 2.3zM431.9 300.2l3-2.3-2.6-1.3-3 2.3zM450.1 306.8l3.1-2.3-2.6-1.6-3 2.3zM447.6 305.2l3-2.3-2.5-1.5-3 2.2zM445.1 303.6l3-2.2-2.6-1.5-3 2.2z" fill="#4c9f22" stroke="#4c9f22" stroke-width="0.6"/>
<path d="M411.1 294.2l3-2.2-2.5-.9-3 2.1zM408.6 293.2l3-2.1-2.5-1-3 2.1zM406.1 292.2l3-2.1-2.6-.9-2.9 2.1zM403.6 291.3l2.9-2.1-2.5-.8-2.9 2zM401.1 290.4l2.9-2-2.5-.8-3 2zM398.5 289.6l3-2-2.5-.8-3 2zM396 288.8l3-2-2.5-.7-3 1.9zM406.5 289.2l3-1.9-2.5-.8-3 1.9zM404 288.4l3-1.9-2.5-.8-3 1.9zM401.5 287.6l3-1.9-2.6-.8-2.9 1.9zM399 286.8l2.9-1.9-2.5-.7-2.9 1.9zM396.5 286.1l2.9-1.9-2.5-.7-2.9 1.8z" fill="#488b20" stroke="#488b20" stroke-width="0.6"/>
<path d="M447.1 309.2l3-2.4-2.5-1.6-3 2.4zM444.6 307.6l3-2.4-2.5-1.6-3.1 2.4zM442 306l3.1-2.4-2.6-1.5-3 2.4zM455.2 310.2l3.1-2.4-2.6-1.7-3 2.4zM452.7 308.5l3-2.4-2.5-1.6-3.1 2.3zM463.3 311.4l3.1-2.3-2.5-1.8-3.1 2.3zM460.8 309.6l3.1-2.3-2.6-1.7-3 2.2zM471.4 312.8l3.1-2.3-2.5-1.9-3.1 2.3zM468.9 310.9l3.1-2.3-2.5-1.8-3.1 2.3zM479.6 314.3l3.1-2.2-2.6-1.9-3 2.2zM477.1 312.4l3-2.2-2.5-1.9-3.1 2.2zM485.2 314.1l3.1-2.2-2.5-1.9-3.1 2.1zM482.7 312.1l3.1-2.1-2.6-2-3.1 2.2zM490.8 313.9l3.1-2.1-2.5-2-3.1 2.1zM488.3 311.9l3.1-2.1-2.6-1.9-3 2.1zM498.9 315.9l3.1-2.1-2.5-2-3.1 2zM496.4 313.8l3.1-2-2.5-2.1-3.1 2.1zM504.5 315.9l3.2-2.1-2.5-2-3.2 2zM502 313.8l3.2-2-2.6-2.1-3.1 2.1zM510.2 315.9l3.1-2-2.5-2.1-3.1 2zM507.7 313.8l3.1-2-2.5-2-3.1 2zM515.8 316l3.1-1.9-2.5-2.1-3.1 1.9zM513.3 313.9l3.1-1.9-2.5-2.1-3.1 1.9zM521.4 316.2l3.2-2-2.6-2.1-3.1 2zM518.9 314.1l3.1-2-2.5-2-3.1 1.9zM527 316.4l3.2-1.9-2.5-2.1-3.1 1.8zM524.6 314.2l3.1-1.8-2.5-2.1-3.2 1.8zM532.7 316.6l3.1-1.9-2.5-2.1-3.1 1.9zM530.2 314.5l3.1-1.9-2.5-2.1-3.1 1.9zM535.8 314.7l3.2-1.8-2.5-2.1-3.2 1.8zM541.4 315l3.2-1.8-2.5-2.1-3.1 1.8zM547.1 315.3l3.1-1.8-2.5-2.1-3.1 1.8zM544.6 313.2l3.1-1.8-2.5-2.1-3.1 1.8zM550.2 313.5l3.2-1.8-2.5-2.1-3.2 1.8z" fill="#45ac22" stroke="#45ac22" stroke-width="0.6"/>
<path d="M429.3 298.9l3-2.3-2.5-1.2-3 2.2zM426.8 297.6l3-2.2-2.5-1.2-3 2.2zM424.3 296.4l3-2.2-2.6-1.1-3 2.1zM421.7 295.2l3-2.1-2.5-1.1-3 2.1zM442.5 302.1l3-2.2-2.5-1.5-3 2.3zM440 300.7l3-2.3-2.5-1.3-3.1 2.2zM437.4 299.3l3.1-2.2-2.6-1.4-3 2.2zM434.9 297.9l3-2.2-2.5-1.2-3.1 2.1zM432.3 296.6l3.1-2.1-2.6-1.2-3 2.1zM429.8 295.4l3-2.1-2.5-1.2-3 2.1zM427.3 294.2l3-2.1-2.6-1.1-3 2.1zM453.2 304.5l3-2.3-2.5-1.5-3.1 2.2zM450.6 302.9l3.1-2.2-2.6-1.5-3 2.2zM448.1 301.4l3-2.2-2.5-1.5-3.1 2.2zM445.5 299.9l3.1-2.2-2.6-1.4-3 2.1z" fill="#5b9d22" stroke="#5b9d22" stroke-width="0.6"/>
<path d="M419.2 294.1l3-2.1-2.6-1-3 2.1zM416.6 293.1l3-2.1-2.5-1-3 2zM414.1 292l3-2-2.5-1-3 2.1zM411.6 291.1l3-2.1-2.6-.9-2.9 2zM409.1 290.1l2.9-2-2.5-.8-3 1.9zM424.7 293.1l3-2.1-2.5-1.1-3 2.1zM422.2 292l3-2.1-2.6-1-3 2.1zM419.6 291l3-2.1-2.5-.9-3 2zM417.1 290l3-2-2.5-.9-3 1.9zM414.6 289l3-1.9-2.6-.9-3 1.9zM412 288.1l3-1.9-2.5-.8-3 1.9zM409.5 287.3l3-1.9-2.5-.8-3 1.9zM407 286.5l3-1.9-2.6-.8-2.9 1.9z" fill="#588e20" stroke="#588e20" stroke-width="0.6"/>
<path d="M394 285.3l2.9-1.8-2.5-.6-3 1.7zM404.5 285.7l2.9-1.9-2.5-.7-3 1.8zM401.9 284.9l3-1.8-2.5-.7-3 1.8zM399.4 284.2l3-1.8-2.5-.6-3 1.7zM396.9 283.5l3-1.7-2.5-.6-3 1.7zM394.4 282.9l3-1.7-2.5-.6-3 1.6zM391.9 282.2l3-1.6-2.5-.6-3 1.6zM402.4 282.4l3-1.7-2.6-.6-2.9 1.7zM399.9 281.8l2.9-1.7-2.5-.6-2.9 1.7zM397.4 281.2l2.9-1.7-2.5-.5-2.9 1.6zM394.9 280.6l2.9-1.6-2.5-.6-2.9 1.6zM405.4 280.7l2.9-1.6-2.5-.6-3 1.6zM402.8 280.1l3-1.6-2.5-.5-3 1.5z" fill="#4a7a1f" stroke="#4a7a1f" stroke-width="0.6"/>
<path d="M458.3 307.8l3-2.2-2.5-1.7-3.1 2.2zM455.7 306.1l3.1-2.2-2.6-1.7-3 2.3zM466.4 309.1l3.1-2.3-2.6-1.7-3 2.2zM463.9 307.3l3-2.2-2.5-1.8-3.1 2.3zM474.5 310.5l3.1-2.2-2.5-1.8-3.1 2.1zM472 308.6l3.1-2.1-2.6-1.8-3 2.1zM480.1 310.2l3.1-2.2-2.5-1.8-3.1 2.1zM477.6 308.3l3.1-2.1-2.5-1.9-3.1 2.2zM485.8 310l3-2.1-2.5-1.9-3.1 2zM493.9 311.8l3.1-2.1-2.5-1.9-3.1 2zM491.4 309.8l3.1-2-2.6-2-3.1 2.1zM499.5 311.8l3.1-2.1-2.5-2-3.1 2zM497 309.7l3.1-2-2.5-1.9-3.1 2zM505.2 311.8l3.1-2-2.5-2-3.2 1.9zM510.8 311.8l3.1-1.9-2.5-2.1-3.1 2zM516.4 312l3.1-1.9-2.5-2.1-3.1 1.9zM522 312.1l3.2-1.8-2.5-2.1-3.2 1.9zM527.7 312.4l3.1-1.9-2.5-2.1-3.1 1.9zM533.3 312.6l3.2-1.8-2.5-2.1-3.2 1.8zM530.8 310.5l3.2-1.8-2.5-2.1-3.2 1.8zM539 312.9l3.1-1.8-2.5-2.1-3.1 1.8zM536.5 310.8l3.1-1.8-2.5-2.1-3.1 1.8zM542.1 311.1l3.1-1.8-2.5-2.1-3.1 1.8zM547.7 311.4l3.2-1.8-2.5-2-3.2 1.7zM553.4 311.7l3.1-1.7-2.5-2.1-3.1 1.7zM556.5 310l3.2-1.7-2.5-2.1-3.2 1.7z" fill="#51ab23" stroke="#51ab23" stroke-width="0.6"/>
<path d="M443 298.4l3-2.1-2.5-1.4-3 2.2zM440.5 297.1l3-2.2-2.6-1.3-3 2.1zM437.9 295.7l3-2.1-2.5-1.2-3 2.1zM435.4 294.5l3-2.1-2.6-1.2-3 2.1zM432.8 293.3l3-2.1-2.5-1.1-3 2zM430.3 292.1l3-2-2.6-1.1-3 2zM451.1 299.2l3.1-2.2-2.6-1.4-3 2.1zM448.6 297.7l3-2.1-2.5-1.4-3.1 2.1zM446 296.3l3.1-2.1-2.6-1.3-3 2zM443.5 294.9l3-2-2.5-1.3-3.1 2zM440.9 293.6l3.1-2-2.6-1.2-3 2zM456.7 298.5l3.1-2.1-2.6-1.4-3 2zM454.2 297l3-2-2.5-1.5-3.1 2.1zM451.6 295.6l3.1-2.1-2.6-1.3-3 2z" fill="#6a9821" stroke="#6a9821" stroke-width="0.6"/>
<path d="M427.7 291l3-2-2.5-1-3 1.9zM425.2 289.9l3-1.9-2.6-1-3 1.9zM422.6 288.9l3-1.9-2.5-1-3 2zM420.1 288l3-2-2.6-.8-2.9 1.9zM417.6 287.1l2.9-1.9-2.5-.9-3 1.9zM435.8 291.2l3-2-2.5-1.1-3 2zM433.3 290.1l3-2-2.6-1.1-3 2zM430.7 289l3-2-2.5-1-3 2zM428.2 288l3-2-2.6-.9-3 1.9zM425.6 287l3-1.9-2.5-.9-3 1.8zM423.1 286l3-1.8-2.6-.9-3 1.9z" fill="#668820" stroke="#668820" stroke-width="0.6"/>
<path d="M415 286.2l3-1.9-2.5-.8-3 1.9zM412.5 285.4l3-1.9-2.6-.7-2.9 1.8zM410 284.6l2.9-1.8-2.5-.7-3 1.7zM407.4 283.8l3-1.7-2.5-.7-3 1.7zM404.9 283.1l3-1.7-2.5-.7-3 1.7zM420.5 285.2l3-1.9-2.5-.8-3 1.8zM418 284.3l3-1.8-2.5-.7-3 1.7zM415.5 283.5l3-1.7-2.6-.8-3 1.8zM412.9 282.8l3-1.8-2.5-.6-3 1.7zM410.4 282.1l3-1.7-2.5-.7-3 1.7zM407.9 281.4l3-1.7-2.6-.6-2.9 1.6zM421 282.5l3-1.7-2.5-.8-3 1.8zM418.5 281.8l3-1.8-2.6-.6-3 1.6zM415.9 281l3-1.6-2.5-.7-3 1.7z" fill="#5c7d1f" stroke="#5c7d1f" stroke-width="0.6"/>
<path d="M461.3 305.6l3.1-2.3-2.6-1.6-3 2.2zM458.8 303.9l3-2.2-2.5-1.6-3.1 2.1zM456.2 302.2l3.1-2.1-2.6-1.6-3 2.2zM469.5 306.8l3-2.1-2.5-1.8-3.1 2.2zM466.9 305.1l3.1-2.2-2.6-1.7-3 2.1zM464.4 303.3l3-2.1-2.5-1.6-3.1 2.1zM475.1 306.5l3.1-2.2-2.6-1.7-3.1 2.1zM472.5 304.7l3.1-2.1-2.5-1.8-3.1 2.1zM483.2 308l3.1-2-2.5-1.9-3.1 2.1zM480.7 306.2l3.1-2.1-2.6-1.8-3 2zM488.8 307.9l3.1-2.1-2.5-1.9-3.1 2.1zM486.3 306l3.1-2.1-2.5-1.8-3.1 2zM494.5 307.8l3.1-2-2.5-2-3.2 2zM502.6 309.7l3.2-1.9-2.6-2-3.1 1.9zM500.1 307.7l3.1-1.9-2.5-2-3.1 2zM508.3 309.8l3.1-2-2.5-2-3.1 2zM505.8 307.8l3.1-2-2.6-1.9-3.1 1.9zM513.9 309.9l3.1-1.9-2.5-2-3.1 1.8zM511.4 307.8l3.1-1.8-2.5-2-3.1 1.8zM519.5 310.1l3.2-1.9-2.5-2.1-3.2 1.9zM517 308l3.2-1.9-2.6-2-3.1 1.9zM525.2 310.3l3.1-1.9-2.5-2.1-3.1 1.9zM522.7 308.2l3.1-1.9-2.5-2-3.1 1.8zM528.3 308.4l3.2-1.8-2.6-2.1-3.1 1.8zM534 308.7l3.1-1.8-2.5-2.1-3.1 1.8zM539.6 309l3.1-1.8-2.5-2.1-3.1 1.8zM545.2 309.3l3.2-1.7-2.5-2.1-3.2 1.7zM542.7 307.2l3.2-1.7-2.5-2.1-3.2 1.7zM550.9 309.6l3.1-1.7-2.5-2.1-3.1 1.8zM548.4 307.6l3.1-1.8-2.5-2-3.1 1.7zM554 307.9l3.2-1.7-2.5-2-3.2 1.6zM559.7 308.3l3.1-1.7-2.5-2-3.1 1.6zM562.8 306.6l3.2-1.6-2.5-2-3.2 1.6z" fill="#5fa823" stroke="#5fa823" stroke-width="0.6"/>
<path d="M453.7 300.7l3-2.2-2.5-1.5-3.1 2.2zM461.8 301.7l3.1-2.1-2.6-1.6-3 2.1zM459.3 300.1l3-2.1-2.5-1.6-3.1 2.1zM470 302.9l3.1-2.1-2.6-1.7-3.1 2.1zM467.4 301.2l3.1-2.1-2.5-1.6-3.1 2.1zM478.2 304.3l3-2-2.5-1.8-3.1 2.1zM475.6 302.6l3.1-2.1-2.6-1.7-3 2zM483.8 304.1l3.1-2-2.6-1.8-3.1 2zM481.2 302.3l3.1-2-2.5-1.8-3.1 2zM491.9 305.8l3.2-2-2.6-1.8-3.1 1.9zM489.4 303.9l3.1-1.9-2.5-1.9-3.1 2zM497.6 305.8l3.1-2-2.5-1.9-3.1 1.9zM495.1 303.8l3.1-1.9-2.6-1.9-3.1 2zM503.2 305.8l3.1-1.9-2.5-2-3.1 1.9zM500.7 303.8l3.1-1.9-2.5-1.9-3.1 1.9zM508.9 305.8l3.1-1.8-2.5-2-3.2 1.9zM506.3 303.9l3.2-1.9-2.6-1.9-3.1 1.8zM514.5 306l3.1-1.9-2.5-2-3.1 1.9zM512 304l3.1-1.9-2.5-1.9-3.1 1.8zM520.2 306.1l3.1-1.8-2.5-2-3.2 1.8zM517.6 304.1l3.2-1.8-2.6-2-3.1 1.8zM525.8 306.3l3.1-1.8-2.5-2-3.1 1.8zM523.3 304.3l3.1-1.8-2.5-2-3.1 1.8zM531.5 306.6l3.1-1.8-2.5-2-3.2 1.7zM528.9 304.5l3.2-1.7-2.5-2-3.2 1.7zM537.1 306.9l3.1-1.8-2.5-2-3.1 1.7zM534.6 304.8l3.1-1.7-2.5-2-3.1 1.7zM540.2 305.1l3.2-1.7-2.5-2-3.2 1.7zM545.9 305.5l3.1-1.7-2.5-2.1-3.1 1.7zM551.5 305.8l3.2-1.6-2.5-2.1-3.2 1.7zM549 303.8l3.2-1.7-2.5-2-3.2 1.6zM557.2 306.2l3.1-1.6-2.5-2.1-3.1 1.7zM554.7 304.2l3.1-1.7-2.5-2-3.1 1.6zM560.3 304.6l3.2-1.6-2.5-2.1-3.2 1.6zM566 305l3.2-1.6-2.5-2-3.2 1.6zM563.5 303l3.2-1.6-2.6-2-3.1 1.5zM569.2 303.4l3.1-1.6-2.5-2-3.1 1.6z" fill="#6ca522" stroke="#6ca522" stroke-width="0.6"/>
<path d="M438.4 292.4l3-2-2.6-1.2-3 2zM449.1 294.2l3-2-2.5-1.3-3.1 2zM446.5 292.9l3.1-2-2.6-1.3-3 2zM444 291.6l3-2-2.6-1.2-3 2zM441.4 290.4l3-2-2.5-1.1-3.1 1.9zM457.2 295l3.1-2-2.6-1.4-3 1.9zM454.7 293.5l3-1.9-2.5-1.4-3.1 2zM452.1 292.2l3.1-2-2.6-1.3-3 2zM449.6 290.9l3-2-2.6-1.2-3 1.9zM465.4 296l3.1-2-2.6-1.5-3.1 1.9zM462.8 294.4l3.1-1.9-2.5-1.5-3.1 2z" fill="#738e21" stroke="#738e21" stroke-width="0.6"/>
<path d="M400.3 279.5l3-1.5-2.5-.6-3 1.6zM397.8 279l3-1.6-2.5-.5-3 1.5zM408.3 279.1l3-1.6-2.5-.5-3 1.5zM405.8 278.5l3-1.5-2.5-.6-3 1.6zM403.3 278l3-1.6-2.5-.5-3 1.5zM400.8 277.4l3-1.5-2.5-.4-3 1.4zM411.3 277.5l3-1.5-2.5-.6-3 1.6zM408.8 277l3-1.6-2.5-.4-3 1.4zM406.3 276.4l3-1.4-2.5-.5-3 1.4zM403.8 275.9l3-1.4-2.5-.4-3 1.4zM416.9 276.5l3-1.5-2.6-.5-3 1.5zM414.3 276l3-1.5-2.5-.5-3 1.4zM411.8 275.4l3-1.4-2.5-.5-3 1.5zM419.9 275l3-1.5-2.6-.5-3 1.5z" fill="#4d641d" stroke="#4d641d" stroke-width="0.6"/>
<path d="M438.8 289.2l3.1-1.9-2.6-1.1-3 1.9zM436.3 288.1l3-1.9-2.5-1-3.1 1.8zM433.7 287l3.1-1.8-2.6-1-3 1.8zM431.2 286l3-1.8-2.5-.9-3.1 1.8zM428.6 285.1l3.1-1.8-2.6-.9-3 1.8zM447 289.6l3-1.9-2.5-1.2-3.1 1.9zM444.4 288.4l3.1-1.9-2.6-1.1-3 1.9zM441.9 287.3l3-1.9-2.5-1-3.1 1.8zM439.3 286.2l3.1-1.8-2.6-1-3 1.8zM436.8 285.2l3-1.8-2.6-1-3 1.8z" fill="#6f8020" stroke="#6f8020" stroke-width="0.6"/>
<path d="M426.1 284.2l3-1.8-2.5-.8-3.1 1.7zM423.5 283.3l3.1-1.7-2.6-.8-3 1.7zM434.2 284.2l3-1.8-2.5-.9-3 1.8zM431.7 283.3l3-1.8-2.6-.9-3 1.8zM429.1 282.4l3-1.8-2.5-.8-3 1.8zM426.6 281.6l3-1.8-2.6-.7-3 1.7zM424 280.8l3-1.7-2.5-.7-3 1.6zM421.5 280l3-1.6-2.6-.7-3 1.7zM439.8 283.4l3-1.8-2.5-.9-3.1 1.7zM437.2 282.4l3.1-1.7-2.6-.9-3 1.7zM434.7 281.5l3-1.7-2.6-.8-3 1.6zM432.1 280.6l3-1.6-2.5-.8-3 1.6zM429.6 279.8l3-1.6-2.6-.7-3 1.6zM427 279.1l3-1.6-2.5-.7-3 1.6z" fill="#6a731f" stroke="#6a731f" stroke-width="0.6"/>
<path d="M413.4 280.4l3-1.7-2.5-.6-3 1.6zM410.9 279.7l3-1.6-2.6-.6-3 1.6zM418.9 279.4l3-1.7-2.5-.6-3 1.6zM416.4 278.7l3-1.6-2.5-.6-3 1.6zM413.9 278.1l3-1.6-2.6-.5-3 1.5zM424.5 278.4l3-1.6-2.6-.7-3 1.6zM421.9 277.7l3-1.6-2.5-.6-3 1.6zM419.4 277.1l3-1.6-2.5-.5-3 1.5zM427.5 276.8l3-1.6-2.5-.6-3.1 1.5zM424.9 276.1l3.1-1.5-2.6-.6-3 1.5zM422.4 275.5l3-1.5-2.5-.5-3 1.5z" fill="#5b671e" stroke="#5b671e" stroke-width="0.6"/>
<path d="M464.9 299.6l3.1-2.1-2.6-1.5-3.1 2zM462.3 298l3.1-2-2.6-1.6-3 2zM473.1 300.8l3-2-2.5-1.7-3.1 2zM470.5 299.1l3.1-2-2.6-1.6-3 2zM478.7 300.5l3.1-2-2.6-1.7-3.1 2zM486.9 302.1l3.1-2-2.6-1.8-3.1 2zM484.3 300.3l3.1-2-2.5-1.7-3.1 1.9zM492.5 302l3.1-2-2.5-1.8-3.1 1.9zM498.2 301.9l3.1-1.9-2.6-1.8-3.1 1.8zM503.8 301.9l3.1-1.8-2.5-1.9-3.1 1.8zM509.5 302l3.1-1.8-2.6-2-3.1 1.9zM515.1 302.1l3.1-1.8-2.5-1.9-3.1 1.8zM520.8 302.3l3.1-1.8-2.5-1.9-3.2 1.7zM526.4 302.5l3.2-1.7-2.6-2-3.1 1.7zM532.1 302.8l3.1-1.7-2.5-2-3.1 1.7zM537.7 303.1l3.2-1.7-2.6-2-3.1 1.7zM543.4 303.4l3.1-1.7-2.5-2-3.1 1.7zM540.9 301.4l3.1-1.7-2.5-2-3.2 1.7zM546.5 301.7l3.2-1.6-2.5-2-3.2 1.6zM552.2 302.1l3.1-1.6-2.5-2-3.1 1.6zM557.8 302.5l3.2-1.6-2.5-2-3.2 1.6zM561 300.9l3.1-1.5-2.5-2-3.1 1.5zM566.7 301.4l3.1-1.6-2.5-2-3.2 1.6zM572.3 301.8l3.2-1.5-2.5-2-3.2 1.5zM575.5 300.3l3.1-1.5-2.5-1.9-3.1 1.4z" fill="#749e22" stroke="#749e22" stroke-width="0.6"/>
<path d="M459.8 296.4l3-2-2.5-1.4-3.1 2zM468 297.5l3-2-2.5-1.5-3.1 2zM476.1 298.8l3.1-2-2.5-1.6-3.1 1.9zM473.6 297.1l3.1-1.9-2.6-1.6-3.1 1.9zM481.8 298.5l3.1-1.9-2.6-1.7-3.1 1.9zM490 300.1l3.1-1.9-2.6-1.8-3.1 1.9zM487.4 298.3l3.1-1.9-2.5-1.7-3.1 1.9zM495.6 300l3.1-1.8-2.5-1.8-3.1 1.8zM493.1 298.2l3.1-1.8-2.6-1.8-3.1 1.8zM501.3 300l3.1-1.8-2.6-1.9-3.1 1.9zM506.9 300.1l3.1-1.9-2.5-1.8-3.1 1.8zM512.6 300.2l3.1-1.8-2.5-1.9-3.2 1.7zM518.2 300.3l3.2-1.7-2.6-2-3.1 1.8zM523.9 300.5l3.1-1.7-2.5-2-3.1 1.8zM529.6 300.8l3.1-1.7-2.5-2-3.2 1.7zM535.2 301.1l3.1-1.7-2.5-2-3.1 1.7zM532.7 299.1l3.1-1.7-2.5-2-3.1 1.7zM538.3 299.4l3.2-1.7-2.5-1.9-3.2 1.6zM544 299.7l3.2-1.6-2.6-2-3.1 1.6zM549.7 300.1l3.1-1.6-2.5-2-3.1 1.6zM555.3 300.5l3.2-1.6-2.5-2-3.2 1.6zM552.8 298.5l3.2-1.6-2.6-1.9-3.1 1.5zM558.5 298.9l3.1-1.5-2.5-2-3.1 1.5zM564.1 299.4l3.2-1.6-2.5-1.9-3.2 1.5zM569.8 299.8l3.2-1.5-2.6-1.9-3.1 1.4zM567.3 297.8l3.1-1.4-2.5-2-3.1 1.5zM573 298.3l3.1-1.4-2.5-2-3.2 1.5zM578.6 298.8l3.2-1.4-2.5-2-3.2 1.5zM581.8 297.4l3.1-1.4-2.5-1.9-3.1 1.3z" fill="#789822" stroke="#789822" stroke-width="0.6"/>
<path d="M460.3 293l3.1-2-2.6-1.3-3.1 1.9zM457.7 291.6l3.1-1.9-2.6-1.4-3 1.9zM455.2 290.2l3-1.9-2.5-1.2-3.1 1.8zM468.5 294l3.1-1.9-2.6-1.5-3.1 1.9zM465.9 292.5l3.1-1.9-2.6-1.4-3 1.8zM463.4 291l3-1.8-2.5-1.4-3.1 1.9zM474.1 293.6l3.1-1.9-2.6-1.5-3 1.9zM471.6 292.1l3-1.9-2.5-1.5-3.1 1.9zM482.3 294.9l3.1-1.8-2.6-1.7-3 1.9zM479.8 293.3l3-1.9-2.5-1.5-3.1 1.8zM488 294.7l3.1-1.8-2.6-1.7-3.1 1.9zM585.6 292.7l3.1-1.2-2.5-1.9-3.2 1.2zM591.2 293.3l3.2-1.2-2.5-1.9-3.2 1.3zM594.4 292.1l3.1-1.2-2.5-1.8-3.1 1.1zM597.5 290.9l3.2-1.1-2.6-1.8-3.1 1.1zM600.7 289.8l3.1-1.1-2.5-1.8-3.2 1.1z" fill="#7d8921" stroke="#7d8921" stroke-width="0.6"/>
<path d="M452.6 288.9l3.1-1.8-2.6-1.2-3.1 1.8zM450 287.7l3.1-1.8-2.6-1.2-3 1.8zM447.5 286.5l3-1.8-2.5-1.1-3.1 1.8zM444.9 285.4l3.1-1.8-2.6-1-3 1.8zM442.4 284.4l3-1.8-2.6-1-3 1.8zM460.8 289.7l3.1-1.9-2.6-1.3-3.1 1.8zM458.2 288.3l3.1-1.8-2.6-1.3-3 1.9zM603.8 288.7l3.1-1-2.5-1.8-3.1 1zM606.9 287.7l3.2-.9-2.6-1.7-3.1 .8zM610.1 286.8l3.1-.8-2.6-1.8-3.1 .9zM613.2 286l3.1-.8-2.5-1.7-3.2 .7zM616.3 285.2l3.1-.7-2.5-1.6-3.1 .6z" fill="#797c20" stroke="#797c20" stroke-width="0.6"/>
<path d="M409.3 275l3-1.5-2.5-.4-3 1.4zM406.8 274.5l3-1.4-2.6-.4-2.9 1.4zM417.3 274.5l3-1.5-2.5-.4-3 1.4zM414.8 274l3-1.4-2.5-.5-3 1.4zM412.3 273.5l3-1.4-2.5-.4-3 1.4zM409.8 273.1l3-1.4-2.6-.3-3 1.3zM422.9 273.5l3-1.4-2.6-.5-3 1.4zM420.3 273l3-1.4-2.5-.4-3 1.4zM417.8 272.6l3-1.4-2.5-.4-3 1.3zM415.3 272.1l3-1.3-2.5-.4-3 1.3zM412.8 271.7l3-1.3-2.6-.3-3 1.3zM425.9 272.1l3-1.4-2.5-.5-3.1 1.4zM423.3 271.6l3.1-1.4-2.6-.4-3 1.4zM420.8 271.2l3-1.4-2.5-.3-3 1.3z" fill="#49501c" stroke="#49501c" stroke-width="0.6"/>
<path d="M471 295.5l3.1-1.9-2.5-1.5-3.1 1.9zM479.2 296.8l3.1-1.9-2.5-1.6-3.1 1.9zM476.7 295.2l3.1-1.9-2.6-1.6-3.1 1.9zM484.9 296.6l3.1-1.9-2.6-1.6-3.1 1.8zM490.5 296.4l3.1-1.8-2.5-1.7-3.1 1.8zM498.7 298.2l3.1-1.9-2.5-1.8-3.1 1.9zM496.2 296.4l3.1-1.9-2.6-1.7-3.1 1.8zM504.4 298.2l3.1-1.8-2.6-1.8-3.1 1.7zM501.8 296.3l3.1-1.7-2.5-1.8-3.1 1.7zM510 298.2l3.2-1.7-2.6-1.9-3.1 1.8zM507.5 296.4l3.1-1.8-2.5-1.8-3.2 1.8zM515.7 298.4l3.1-1.8-2.5-1.9-3.1 1.8zM513.2 296.5l3.1-1.8-2.6-1.8-3.1 1.7zM521.4 298.6l3.1-1.8-2.5-1.9-3.2 1.7zM518.8 296.6l3.2-1.7-2.6-1.8-3.1 1.6zM527 298.8l3.2-1.7-2.6-1.9-3.1 1.6zM524.5 296.8l3.1-1.6-2.5-1.9-3.1 1.6zM530.2 297.1l3.1-1.7-2.5-1.9-3.2 1.7zM535.8 297.4l3.2-1.6-2.6-2-3.1 1.6zM541.5 297.7l3.1-1.6-2.5-1.9-3.1 1.6zM547.2 298.1l3.1-1.6-2.5-2-3.2 1.6zM544.6 296.1l3.2-1.6-2.6-1.9-3.1 1.6zM550.3 296.5l3.1-1.5-2.5-2-3.1 1.5zM556 296.9l3.1-1.5-2.5-2-3.2 1.6zM561.6 297.4l3.2-1.5-2.5-2-3.2 1.5zM559.1 295.4l3.2-1.5-2.6-1.9-3.1 1.4zM564.8 295.9l3.1-1.5-2.5-2-3.1 1.5zM570.4 296.4l3.2-1.5-2.5-1.9-3.2 1.4zM576.1 296.9l3.2-1.5-2.5-1.9-3.2 1.4zM573.6 294.9l3.2-1.4-2.6-1.9-3.1 1.4zM579.3 295.4l3.1-1.3-2.5-2-3.1 1.4zM584.9 296l3.2-1.4-2.5-1.9-3.2 1.4zM582.4 294.1l3.2-1.4-2.6-1.9-3.1 1.3zM588.1 294.6l3.1-1.3-2.5-1.8-3.1 1.2z" fill="#7e9121" stroke="#7e9121" stroke-width="0.6"/>
<path d="M455.7 287.1l3-1.9-2.6-1.1-3 1.8zM453.1 285.9l3-1.8-2.5-1.2-3.1 1.8zM450.5 284.7l3.1-1.8-2.6-1-3 1.7zM466.4 289.2l3.1-1.9-2.6-1.3-3 1.8zM463.9 287.8l3-1.8-2.6-1.3-3 1.8zM461.3 286.5l3-1.8-2.5-1.2-3.1 1.7zM472.1 288.7l3-1.8-2.5-1.3-3.1 1.7zM598.1 288l3.2-1.1-2.6-1.8-3.1 1zM601.3 286.9l3.1-1-2.5-1.7-3.2 .9zM604.4 285.9l3.1-.8-2.5-1.8-3.1 .9zM607.5 285.1l3.1-.9-2.5-1.7-3.1 .8zM610.6 284.2l3.2-.7-2.6-1.7-3.1 .7z" fill="#807520" stroke="#807520" stroke-width="0.6"/>
<path d="M448 283.6l3-1.7-2.6-1.1-3 1.8zM445.4 282.6l3-1.8-2.5-.9-3.1 1.7zM442.8 281.6l3.1-1.7-2.6-.9-3 1.7zM440.3 280.7l3-1.7-2.6-.9-3 1.7zM437.7 279.8l3-1.7-2.5-.8-3.1 1.7zM435.1 279l3.1-1.7-2.6-.7-3 1.6zM453.6 282.9l3-1.7-2.5-1-3.1 1.7zM451 281.9l3.1-1.7-2.6-1-3.1 1.6zM448.4 280.8l3.1-1.6-2.6-1-3 1.7zM445.9 279.9l3-1.7-2.6-.9-3 1.7zM443.3 279l3-1.7-2.5-.8-3.1 1.6zM613.8 283.5l3.1-.6-2.6-1.7-3.1 .6zM611.2 281.8l3.1-.6-2.5-1.6-3.1 .5z" fill="#79671e" stroke="#79671e" stroke-width="0.6"/>
<path d="M432.6 278.2l3-1.6-2.5-.7-3.1 1.6zM430 277.5l3.1-1.6-2.6-.7-3 1.6zM440.7 278.1l3.1-1.6-2.6-.8-3 1.6zM438.2 277.3l3-1.6-2.6-.7-3 1.6zM435.6 276.6l3-1.6-2.5-.7-3 1.6zM433.1 275.9l3-1.6-2.6-.6-3 1.5zM446.3 277.3l3.1-1.6-2.6-.8-3 1.6zM443.8 276.5l3-1.6-2.6-.7-3 1.5zM441.2 275.7l3-1.5-2.5-.7-3.1 1.5zM438.6 275l3.1-1.5-2.6-.7-3 1.5z" fill="#705b1e" stroke="#705b1e" stroke-width="0.6"/>
<path d="M469 290.6l3.1-1.9-2.6-1.4-3.1 1.9zM477.2 291.7l3.1-1.8-2.6-1.5-3.1 1.8zM474.6 290.2l3.1-1.8-2.6-1.5-3 1.8zM482.8 291.4l3.1-1.8-2.5-1.5-3.1 1.8zM491.1 292.9l3.1-1.8-2.6-1.6-3.1 1.7zM488.5 291.2l3.1-1.7-2.6-1.6-3.1 1.7zM496.7 292.8l3.1-1.8-2.5-1.6-3.1 1.7zM502.4 292.8l3.1-1.8-2.6-1.7-3.1 1.7zM508.1 292.8l3.1-1.7-2.6-1.7-3.1 1.6zM513.7 292.9l3.2-1.7-2.6-1.8-3.1 1.7zM519.4 293.1l3.1-1.7-2.5-1.8-3.1 1.6zM525.1 293.3l3.1-1.7-2.5-1.8-3.2 1.6zM530.8 293.5l3.1-1.6-2.6-1.9-3.1 1.6zM536.4 293.8l3.2-1.6-2.6-1.9-3.1 1.6zM539.6 292.2l3.1-1.5-2.5-1.9-3.2 1.5zM545.2 292.6l3.2-1.5-2.6-1.9-3.1 1.5zM550.9 293l3.2-1.5-2.6-1.9-3.1 1.5zM559.7 292l3.2-1.5-2.5-1.9-3.2 1.4zM565.4 292.4l3.2-1.4-2.6-1.9-3.1 1.4zM568.6 291l3.1-1.3-2.5-1.9-3.2 1.3zM574.2 291.6l3.2-1.4-2.5-1.9-3.2 1.4zM577.4 290.2l3.1-1.2-2.5-1.9-3.1 1.2zM583 290.8l3.2-1.2-2.5-1.9-3.2 1.3zM586.2 289.6l3.1-1.2-2.5-1.9-3.1 1.2zM591.9 290.2l3.1-1.1-2.5-1.9-3.2 1.2zM595 289.1l3.1-1.1-2.5-1.9-3.1 1.1z" fill="#888020" stroke="#888020" stroke-width="0.6"/>
<path d="M458.7 285.2l3.1-1.7-2.6-1.2-3.1 1.8zM456.1 284.1l3.1-1.8-2.6-1.1-3 1.7zM469.5 287.3l3.1-1.7-2.6-1.4-3.1 1.8zM466.9 286l3.1-1.8-2.6-1.2-3.1 1.7zM464.3 284.7l3.1-1.7-2.6-1.2-3 1.7zM475.1 286.9l3.1-1.7-2.6-1.4-3 1.8zM595.6 286.1l3.1-1-2.5-1.7-3.1 .9zM598.7 285.1l3.2-.9-2.6-1.8-3.1 1zM601.9 284.2l3.1-.9-2.5-1.7-3.2 .8zM605 283.3l3.1-.8-2.5-1.7-3.1 .8zM608.1 282.5l3.1-.7-2.5-1.7-3.1 .7z" fill="#856d1f" stroke="#856d1f" stroke-width="0.6"/>
<path d="M430.5 275.2l3-1.5-2.5-.6-3 1.5zM428 274.6l3-1.5-2.6-.5-3 1.4zM425.4 274l3-1.4-2.5-.5-3 1.4zM436.1 274.3l3-1.5-2.5-.6-3.1 1.5zM433.5 273.7l3.1-1.5-2.6-.5-3 1.4zM431 273.1l3-1.4-2.5-.5-3.1 1.4zM428.4 272.6l3.1-1.4-2.6-.5-3 1.4zM439.1 272.8l3.1-1.4-2.6-.6-3 1.4zM436.6 272.2l3-1.4-2.6-.5-3 1.4zM434 271.7l3-1.4-2.5-.5-3 1.4z" fill="#5f501c" stroke="#5f501c" stroke-width="0.6"/>
<path d="M461.8 283.5l3-1.7-2.5-1.2-3.1 1.7zM459.2 282.3l3.1-1.7-2.6-1.1-3.1 1.7zM456.6 281.2l3.1-1.7-2.6-1-3 1.7zM454.1 280.2l3-1.7-2.6-1-3 1.7zM451.5 279.2l3-1.7-2.5-.9-3.1 1.6zM448.9 278.2l3.1-1.6-2.6-.9-3.1 1.6zM470 284.2l3.1-1.7-2.6-1.2-3.1 1.7zM467.4 283l3.1-1.7-2.6-1.2-3.1 1.7zM464.8 281.8l3.1-1.7-2.6-1.1-3 1.6zM462.3 280.6l3-1.6-2.6-1.1-3 1.6zM599.3 282.4l3.2-.8-2.6-1.7-3.1 .8zM596.8 280.7l3.1-.8-2.5-1.7-3.1 .8zM602.5 281.6l3.1-.8-2.6-1.7-3.1 .8zM599.9 279.9l3.1-.8-2.5-1.7-3.1 .8zM605.6 280.8l3.1-.7-2.6-1.6-3.1 .6zM603 279.1l3.1-.6-2.5-1.7-3.1 .6zM608.7 280.1l3.1-.5-2.6-1.7-3.1 .6zM606.1 278.5l3.1-.6-2.5-1.6-3.1 .5z" fill="#865e1e" stroke="#865e1e" stroke-width="0.6"/>
<path d="M418.3 270.8l3-1.3-2.5-.4-3 1.3zM415.8 270.4l3-1.3-2.6-.3-3 1.3zM426.4 270.2l3-1.3-2.6-.4-3 1.3zM423.8 269.8l3-1.3-2.5-.3-3 1.3zM421.3 269.5l3-1.3-2.5-.3-3 1.2zM418.8 269.1l3-1.2-2.6-.3-3 1.2zM429.4 268.9l3-1.3-2.5-.3-3.1 1.2zM426.8 268.5l3.1-1.2-2.6-.4-3 1.3zM424.3 268.2l3-1.3-2.5-.2-3 1.2zM421.8 267.9l3-1.2-2.5-.3-3.1 1.2zM432.4 267.6l3-1.2-2.5-.4-3 1.3zM429.9 267.3l3-1.3-2.6-.3-3 1.2zM427.3 266.9l3-1.2-2.5-.2-3 1.2zM424.8 266.7l3-1.2-2.5-.3-3 1.2z" fill="#44401b" stroke="#44401b" stroke-width="0.6"/>
<path d="M485.4 293.1l3.1-1.9-2.6-1.6-3.1 1.8zM493.6 294.6l3.1-1.8-2.5-1.7-3.1 1.8zM499.3 294.5l3.1-1.7-2.6-1.8-3.1 1.8zM504.9 294.6l3.2-1.8-2.6-1.8-3.1 1.8zM510.6 294.6l3.1-1.7-2.5-1.8-3.1 1.7zM516.3 294.7l3.1-1.6-2.5-1.9-3.2 1.7zM522 294.9l3.1-1.6-2.6-1.9-3.1 1.7zM527.6 295.2l3.2-1.7-2.6-1.9-3.1 1.7zM533.3 295.4l3.1-1.6-2.5-1.9-3.1 1.6zM539 295.8l3.1-1.6-2.5-2-3.2 1.6zM542.1 294.2l3.1-1.6-2.5-1.9-3.1 1.5zM547.8 294.5l3.1-1.5-2.5-1.9-3.2 1.5zM553.4 295l3.2-1.6-2.5-1.9-3.2 1.5zM556.6 293.4l3.1-1.4-2.5-2-3.1 1.5zM562.3 293.9l3.1-1.5-2.5-1.9-3.2 1.5zM567.9 294.4l3.2-1.4-2.5-2-3.2 1.4zM571.1 293l3.1-1.4-2.5-1.9-3.1 1.3zM576.8 293.5l3.1-1.4-2.5-1.9-3.2 1.4zM579.9 292.1l3.1-1.3-2.5-1.8-3.1 1.2zM588.7 291.5l3.2-1.3-2.6-1.8-3.1 1.2z" fill="#848921" stroke="#848921" stroke-width="0.6"/>
<path d="M480.3 289.9l3.1-1.8-2.6-1.5-3.1 1.8zM477.7 288.4l3.1-1.8-2.6-1.4-3.1 1.7zM485.9 289.6l3.1-1.7-2.5-1.5-3.1 1.7zM494.2 291.1l3.1-1.7-2.6-1.6-3.1 1.7zM491.6 289.5l3.1-1.7-2.6-1.6-3.1 1.7zM499.8 291l3.1-1.7-2.5-1.6-3.1 1.7zM505.5 291l3.1-1.6-2.5-1.7-3.2 1.6zM511.2 291.1l3.1-1.7-2.6-1.7-3.1 1.7zM516.9 291.2l3.1-1.6-2.6-1.8-3.1 1.6zM522.5 291.4l3.2-1.6-2.6-1.8-3.1 1.6zM528.2 291.6l3.1-1.6-2.5-1.8-3.1 1.6zM533.9 291.9l3.1-1.6-2.5-1.8-3.2 1.5zM537 290.3l3.2-1.5-2.6-1.8-3.1 1.5zM542.7 290.7l3.1-1.5-2.5-1.9-3.1 1.5zM548.4 291.1l3.1-1.5-2.5-1.9-3.2 1.5zM554.1 291.5l3.1-1.5-2.5-1.9-3.2 1.5zM557.2 290l3.2-1.4-2.6-1.9-3.1 1.4zM562.9 290.5l3.1-1.4-2.5-1.9-3.1 1.4zM566 289.1l3.2-1.3-2.6-1.9-3.1 1.3zM571.7 289.7l3.2-1.4-2.6-1.8-3.1 1.3zM574.9 288.3l3.1-1.2-2.5-1.9-3.2 1.3zM580.5 289l3.2-1.3-2.6-1.8-3.1 1.2zM583.7 287.7l3.1-1.2-2.5-1.8-3.2 1.2zM589.3 288.4l3.2-1.2-2.5-1.8-3.2 1.1zM592.5 287.2l3.1-1.1-2.5-1.8-3.1 1.1z" fill="#8d7720" stroke="#8d7720" stroke-width="0.6"/>
<path d="M472.6 285.6l3-1.8-2.5-1.3-3.1 1.7zM483.4 288.1l3.1-1.7-2.6-1.5-3.1 1.7zM480.8 286.6l3.1-1.7-2.6-1.4-3.1 1.7zM489 287.9l3.1-1.7-2.5-1.5-3.1 1.7zM486.5 286.4l3.1-1.7-2.6-1.5-3.1 1.7zM497.3 289.4l3.1-1.7-2.6-1.6-3.1 1.7zM494.7 287.8l3.1-1.7-2.6-1.6-3.1 1.7zM502.9 289.3l3.2-1.6-2.6-1.7-3.1 1.7zM500.4 287.7l3.1-1.7-2.6-1.6-3.1 1.7zM508.6 289.4l3.1-1.7-2.5-1.7-3.1 1.7zM514.3 289.4l3.1-1.6-2.5-1.7-3.2 1.6zM520 289.6l3.1-1.6-2.6-1.8-3.1 1.6zM525.7 289.8l3.1-1.6-2.6-1.8-3.1 1.6zM531.3 290l3.2-1.5-2.6-1.8-3.1 1.5zM528.8 288.2l3.1-1.5-2.5-1.8-3.2 1.5zM534.5 288.5l3.1-1.5-2.5-1.8-3.2 1.5zM540.2 288.8l3.1-1.5-2.6-1.8-3.1 1.5zM545.8 289.2l3.2-1.5-2.6-1.8-3.1 1.4zM551.5 289.6l3.2-1.5-2.6-1.8-3.1 1.4zM549 287.7l3.1-1.4-2.5-1.8-3.2 1.4zM554.7 288.1l3.1-1.4-2.5-1.8-3.2 1.4zM560.4 288.6l3.1-1.4-2.5-1.8-3.2 1.3zM563.5 287.2l3.1-1.3-2.5-1.8-3.1 1.3zM569.2 287.8l3.1-1.3-2.5-1.9-3.2 1.3zM572.3 286.5l3.2-1.3-2.6-1.8-3.1 1.2zM578 287.1l3.1-1.2-2.5-1.9-3.1 1.2zM581.1 285.9l3.2-1.2-2.6-1.8-3.1 1.1zM586.8 286.5l3.2-1.1-2.6-1.8-3.1 1.1zM584.3 284.7l3.1-1.1-2.5-1.8-3.2 1.1zM590 285.4l3.1-1.1-2.5-1.7-3.2 1zM593.1 284.3l3.1-.9-2.5-1.8-3.1 1zM596.2 283.4l3.1-1-2.5-1.7-3.1 .9z" fill="#926c20" stroke="#926c20" stroke-width="0.6"/>
<path d="M459.7 279.5l3-1.6-2.5-1-3.1 1.6zM457.1 278.5l3.1-1.6-2.6-1-3.1 1.6zM470.5 281.3l3.1-1.7-2.6-1.1-3.1 1.6zM467.9 280.1l3.1-1.6-2.6-1.1-3.1 1.6zM465.3 279l3.1-1.6-2.6-1.1-3.1 1.6zM462.7 277.9l3.1-1.6-2.6-1-3 1.6zM476.1 280.9l3.1-1.7-2.6-1.2-3 1.6zM473.6 279.6l3-1.6-2.5-1.1-3.1 1.6zM471 278.5l3.1-1.6-2.6-1.1-3.1 1.6zM481.8 280.5l3.1-1.6-2.6-1.2-3.1 1.5zM479.2 279.2l3.1-1.5-2.6-1.2-3.1 1.5zM588.6 278.1l3.1-.8-2.5-1.7-3.2 .8zM594.3 279l3.1-.8-2.6-1.7-3.1 .8zM591.7 277.3l3.1-.8-2.5-1.7-3.1 .8zM597.4 278.2l3.1-.8-2.6-1.6-3.1 .7zM594.8 276.5l3.1-.7-2.5-1.7-3.1 .7zM600.5 277.4l3.1-.6-2.6-1.6-3.1 .6zM597.9 275.8l3.1-.6-2.5-1.6-3.1 .5zM603.6 276.8l3.1-.5-2.6-1.6-3.1 .5z" fill="#8b501d" stroke="#8b501d" stroke-width="0.6"/>
<path d="M454.5 277.5l3.1-1.6-2.6-.9-3 1.6zM452 276.6l3-1.6-2.6-.8-3 1.5zM449.4 275.7l3-1.5-2.5-.8-3.1 1.5zM446.8 274.9l3.1-1.5-2.6-.7-3.1 1.5zM460.2 276.9l3-1.6-2.6-.9-3 1.5zM457.6 275.9l3-1.5-2.5-.9-3.1 1.5zM455 275l3.1-1.5-2.6-.8-3.1 1.5zM452.4 274.2l3.1-1.5-2.6-.8-3 1.5zM601 275.2l3.1-.5-2.5-1.6-3.1 .5z" fill="#7f4d1d" stroke="#7f4d1d" stroke-width="0.6"/>
<path d="M444.2 274.2l3.1-1.5-2.6-.7-3 1.5zM441.7 273.5l3-1.5-2.5-.6-3.1 1.4zM449.9 273.4l3-1.5-2.6-.7-3 1.5zM447.3 272.7l3-1.5-2.5-.6-3.1 1.4zM444.7 272l3.1-1.4-2.6-.6-3 1.4zM455.5 272.7l3-1.5-2.5-.7-3.1 1.4zM452.9 271.9l3.1-1.4-2.6-.7-3.1 1.4zM450.3 271.2l3.1-1.4-2.6-.6-3 1.4z" fill="#72461c" stroke="#72461c" stroke-width="0.6"/>
<path d="M431.5 271.2l3-1.4-2.6-.5-3 1.4zM428.9 270.7l3-1.4-2.5-.4-3 1.3zM437 270.3l3.1-1.4-2.6-.5-3 1.4zM434.5 269.8l3-1.4-2.5-.4-3.1 1.3zM431.9 269.3l3.1-1.3-2.6-.4-3 1.3zM440.1 268.9l3-1.3-2.6-.5-3 1.3zM437.5 268.4l3-1.3-2.5-.4-3 1.3z" fill="#54401b" stroke="#54401b" stroke-width="0.6"/>
<path d="M478.2 285.2l3.1-1.7-2.6-1.4-3.1 1.7zM475.6 283.8l3.1-1.7-2.6-1.2-3 1.6zM473.1 282.5l3-1.6-2.5-1.3-3.1 1.7zM483.9 284.9l3.1-1.7-2.6-1.4-3.1 1.7zM481.3 283.5l3.1-1.7-2.6-1.3-3.1 1.6zM492.1 286.2l3.1-1.7-2.5-1.5-3.1 1.7zM489.6 284.7l3.1-1.7-2.6-1.4-3.1 1.6zM497.8 286.1l3.1-1.7-2.6-1.5-3.1 1.6zM495.2 284.5l3.1-1.6-2.5-1.5-3.1 1.6zM506.1 287.7l3.1-1.7-2.6-1.6-3.1 1.6zM503.5 286l3.1-1.6-2.6-1.6-3.1 1.6zM511.7 287.7l3.2-1.6-2.6-1.7-3.1 1.6zM509.2 286l3.1-1.6-2.6-1.6-3.1 1.6zM517.4 287.8l3.1-1.6-2.5-1.7-3.1 1.6zM514.9 286.1l3.1-1.6-2.6-1.6-3.1 1.5zM523.1 288l3.1-1.6-2.5-1.7-3.2 1.5zM520.5 286.2l3.2-1.5-2.6-1.7-3.1 1.5zM526.2 286.4l3.2-1.5-2.6-1.7-3.1 1.5zM531.9 286.7l3.2-1.5-2.6-1.8-3.1 1.5zM537.6 287l3.1-1.5-2.5-1.8-3.1 1.5zM543.3 287.3l3.1-1.4-2.5-1.8-3.2 1.4zM540.7 285.5l3.2-1.4-2.6-1.8-3.1 1.4zM546.4 285.9l3.2-1.4-2.6-1.8-3.1 1.4zM552.1 286.3l3.2-1.4-2.6-1.8-3.1 1.4zM557.8 286.7l3.2-1.3-2.6-1.8-3.1 1.3zM555.3 284.9l3.1-1.3-2.5-1.8-3.2 1.3zM561 285.4l3.1-1.3-2.6-1.8-3.1 1.3zM566.6 285.9l3.2-1.3-2.6-1.8-3.1 1.3zM564.1 284.1l3.1-1.3-2.5-1.8-3.2 1.3zM569.8 284.6l3.1-1.2-2.5-1.8-3.2 1.2zM575.5 285.2l3.1-1.2-2.5-1.8-3.2 1.2zM572.9 283.4l3.2-1.2-2.6-1.8-3.1 1.2zM578.6 284l3.1-1.1-2.5-1.8-3.1 1.1zM581.7 282.9l3.2-1.1-2.6-1.8-3.1 1.1zM587.4 283.6l3.2-1-2.6-1.8-3.1 1zM584.9 281.8l3.1-1-2.5-1.8-3.2 1zM590.6 282.6l3.1-1-2.6-1.8-3.1 1zM593.7 281.6l3.1-.9-2.5-1.7-3.2 .8z" fill="#97611f" stroke="#97611f" stroke-width="0.6"/>
<path d="M442.2 271.4l3-1.4-2.6-.6-3 1.4zM439.6 270.8l3-1.4-2.5-.5-3.1 1.4zM447.8 270.6l3-1.4-2.6-.6-3 1.4zM445.2 270l3-1.4-2.5-.5-3.1 1.3zM442.6 269.4l3.1-1.3-2.6-.5-3 1.3zM450.8 269.2l3.1-1.4-2.6-.6-3.1 1.4zM448.2 268.6l3.1-1.4-2.6-.5-3 1.4zM453.9 267.8l3-1.3-2.6-.6-3 1.3z" fill="#643d1b" stroke="#643d1b" stroke-width="0.6"/>
<path d="M478.7 282.1l3.1-1.6-2.6-1.3-3.1 1.7zM487 283.2l3.1-1.6-2.6-1.4-3.1 1.6zM484.4 281.8l3.1-1.6-2.6-1.3-3.1 1.6zM492.7 283l3.1-1.6-2.6-1.4-3.1 1.6zM490.1 281.6l3.1-1.6-2.6-1.3-3.1 1.5zM500.9 284.4l3.1-1.6-2.6-1.5-3.1 1.6zM498.3 282.9l3.1-1.6-2.5-1.4-3.1 1.5zM506.6 284.4l3.1-1.6-2.6-1.5-3.1 1.5zM504 282.8l3.1-1.5-2.5-1.5-3.2 1.5zM512.3 284.4l3.1-1.5-2.6-1.6-3.1 1.5zM509.7 282.8l3.1-1.5-2.6-1.5-3.1 1.5zM518 284.5l3.1-1.5-2.6-1.6-3.1 1.5zM515.4 282.9l3.1-1.5-2.6-1.6-3.1 1.5zM523.7 284.7l3.1-1.5-2.6-1.7-3.1 1.5zM521.1 283l3.1-1.5-2.6-1.6-3.1 1.5zM529.4 284.9l3.1-1.5-2.6-1.7-3.1 1.5zM526.8 283.2l3.1-1.5-2.6-1.6-3.1 1.4zM535.1 285.2l3.1-1.5-2.6-1.7-3.1 1.4zM532.5 283.4l3.1-1.4-2.5-1.7-3.2 1.4zM538.2 283.7l3.1-1.4-2.5-1.7-3.2 1.4zM543.9 284.1l3.1-1.4-2.5-1.8-3.2 1.4zM541.3 282.3l3.2-1.4-2.6-1.7-3.1 1.4zM549.6 284.5l3.1-1.4-2.5-1.8-3.2 1.4zM547 282.7l3.2-1.4-2.6-1.7-3.1 1.3zM552.7 283.1l3.2-1.3-2.6-1.8-3.1 1.3zM558.4 283.6l3.1-1.3-2.5-1.8-3.1 1.3zM555.9 281.8l3.1-1.3-2.6-1.8-3.1 1.3zM561.5 282.3l3.2-1.3-2.6-1.7-3.1 1.2zM567.2 282.8l3.2-1.2-2.6-1.8-3.1 1.2zM564.7 281l3.1-1.2-2.5-1.7-3.2 1.2zM570.4 281.6l3.1-1.2-2.5-1.7-3.2 1.1zM576.1 282.2l3.1-1.1-2.6-1.8-3.1 1.1zM573.5 280.4l3.1-1.1-2.5-1.7-3.1 1.1zM579.2 281.1l3.1-1.1-2.5-1.7-3.2 1zM582.3 280l3.2-1-2.6-1.7-3.1 1zM588 280.8l3.1-1-2.5-1.7-3.1 .9zM585.5 279l3.1-.9-2.6-1.7-3.1 .9zM591.1 279.8l3.2-.8-2.6-1.7-3.1 .8z" fill="#98541e" stroke="#98541e" stroke-width="0.6"/>
<path d="M468.4 277.4l3.1-1.6-2.6-1-3.1 1.5zM465.8 276.3l3.1-1.5-2.6-1-3.1 1.5zM463.2 275.3l3.1-1.5-2.6-.9-3.1 1.5zM460.6 274.4l3.1-1.5-2.6-.9-3 1.5zM458.1 273.5l3-1.5-2.6-.8-3 1.5zM474.1 276.9l3-1.6-2.6-1-3 1.5zM471.5 275.8l3-1.5-2.5-1-3.1 1.5zM468.9 274.8l3.1-1.5-2.6-1-3.1 1.5zM466.3 273.8l3.1-1.5-2.6-.9-3.1 1.5zM463.7 272.9l3.1-1.5-2.6-.8-3.1 1.4zM474.5 274.3l3.1-1.5-2.6-1-3 1.5zM592.3 274.8l3.1-.7-2.6-1.6-3.1 .7zM595.4 274.1l3.1-.5-2.6-1.6-3.1 .5zM592.8 272.5l3.1-.5-2.6-1.6-3.1 .5zM598.5 273.6l3.1-.5-2.6-1.6-3.1 .5zM595.9 272l3.1-.5-2.6-1.6-3.1 .5z" fill="#84421b" stroke="#84421b" stroke-width="0.6"/>
<path d="M435 268l3-1.3-2.6-.3-3 1.2zM440.5 267.1l3.1-1.3-2.6-.3-3 1.2zM438 266.7l3-1.2-2.5-.4-3.1 1.3zM435.4 266.4l3.1-1.3-2.6-.3-3 1.2zM446.1 266.3l3.1-1.3-2.6-.4-3 1.2zM443.6 265.8l3-1.2-2.5-.4-3.1 1.3zM441 265.5l3.1-1.3-2.6-.3-3 1.2zM438.5 265.1l3-1.2-2.6-.3-3 1.2zM449.2 265l3-1.2-2.5-.4-3.1 1.2zM446.6 264.6l3.1-1.2-2.6-.4-3 1.2zM444.1 264.2l3-1.2-2.6-.3-3 1.2zM452.2 263.8l3.1-1.3-2.6-.3-3 1.2zM449.7 263.4l3-1.2-2.6-.3-3 1.1z" fill="#4d321a" stroke="#4d321a" stroke-width="0.6"/>
<path d="M476.6 278l3.1-1.5-2.6-1.2-3 1.6zM482.3 277.7l3.1-1.6-2.6-1.2-3.1 1.6zM479.7 276.5l3.1-1.6-2.6-1.1-3.1 1.5zM477.1 275.3l3.1-1.5-2.6-1-3.1 1.5zM490.6 278.7l3.1-1.6-2.6-1.3-3.1 1.6zM488 277.4l3.1-1.6-2.6-1.2-3.1 1.5zM485.4 276.1l3.1-1.5-2.6-1.1-3.1 1.4zM482.8 274.9l3.1-1.4-2.6-1.1-3.1 1.4zM496.3 278.5l3.1-1.6-2.6-1.3-3.1 1.5zM493.7 277.1l3.1-1.5-2.6-1.2-3.1 1.4zM580.4 275.6l3.1-.9-2.6-1.6-3.1 .9zM586 276.4l3.2-.8-2.6-1.7-3.1 .8zM583.5 274.7l3.1-.8-2.6-1.6-3.1 .8zM589.2 275.6l3.1-.8-2.6-1.6-3.1 .7zM586.6 273.9l3.1-.7-2.6-1.6-3.1 .7zM589.7 273.2l3.1-.7-2.6-1.6-3.1 .7z" fill="#8d411b" stroke="#8d411b" stroke-width="0.6"/>
<path d="M461.1 272l3.1-1.4-2.6-.8-3.1 1.4zM472 273.3l3-1.5-2.6-.9-3 1.4zM469.4 272.3l3-1.4-2.5-.9-3.1 1.4zM466.8 271.4l3.1-1.4-2.6-.8-3.1 1.4zM464.2 270.6l3.1-1.4-2.6-.8-3.1 1.4zM475 271.8l3.1-1.4-2.6-1-3.1 1.5zM472.4 270.9l3.1-1.5-2.6-.8-3 1.4zM469.9 270l3-1.4-2.6-.8-3 1.4zM478.1 270.4l3.1-1.4-2.6-.9-3.1 1.3zM475.5 269.4l3.1-1.3-2.6-.9-3.1 1.4zM587.7 269.4l3.1-.5-2.6-1.5-3.1 .5zM593.3 270.4l3.1-.5-2.5-1.5-3.1 .5zM590.8 268.9l3.1-.5-2.6-1.4-3.1 .4z" fill="#7e351a" stroke="#7e351a" stroke-width="0.6"/>
<path d="M458.5 271.2l3.1-1.4-2.6-.7-3 1.4zM456 270.5l3-1.4-2.6-.7-3 1.4zM453.4 269.8l3-1.4-2.5-.6-3.1 1.4zM461.6 269.8l3.1-1.4-2.6-.7-3.1 1.4zM459 269.1l3.1-1.4-2.6-.6-3.1 1.3zM456.4 268.4l3.1-1.3-2.6-.6-3 1.3zM467.3 269.2l3-1.4-2.6-.7-3 1.3zM464.7 268.4l3-1.3-2.6-.7-3 1.3zM462.1 267.7l3-1.3-2.5-.6-3.1 1.3z" fill="#70361a" stroke="#70361a" stroke-width="0.6"/>
<path d="M445.7 268.1l3-1.4-2.6-.4-3 1.3zM443.1 267.6l3-1.3-2.5-.5-3.1 1.3zM451.3 267.2l3-1.3-2.5-.5-3.1 1.3zM448.7 266.7l3.1-1.3-2.6-.4-3.1 1.3zM456.9 266.5l3.1-1.3-2.6-.5-3.1 1.2zM454.3 265.9l3.1-1.2-2.6-.5-3 1.2zM451.8 265.4l3-1.2-2.6-.4-3 1.2zM460 265.2l3-1.3-2.6-.5-3 1.3zM457.4 264.7l3-1.3-2.5-.4-3.1 1.2zM454.8 264.2l3.1-1.2-2.6-.5-3.1 1.3z" fill="#59301a" stroke="#59301a" stroke-width="0.6"/>
<path d="M432.9 266l3-1.2-2.5-.3-3.1 1.2zM430.3 265.7l3.1-1.2-2.6-.2-3 1.2zM427.8 265.5l3-1.2-2.5-.2-3 1.1zM435.9 264.8l3-1.2-2.5-.2-3 1.1zM433.4 264.5l3-1.1-2.5-.2-3.1 1.1zM430.8 264.3l3.1-1.1-2.6-.2-3 1.1zM438.9 263.6l3.1-1.1-2.6-.3-3 1.2zM436.4 263.4l3-1.2-2.5-.2-3 1.2zM433.9 263.2l3-1.2-2.6-.1-3 1.1zM439.4 262.2l3.1-1.1-2.6-.2-3 1.1zM436.9 262l3-1.1-2.5-.1-3.1 1.1zM442.5 261.1l3-1.1-2.6-.1-3 1zM439.9 260.9l3-1-2.5-.2-3 1.1zM442.9 259.9l3.1-1.1-2.6-.1-3 1zM446 258.8l3-1-2.5-.1-3.1 1z" fill="#42331a" stroke="#42331a" stroke-width="0.6"/>
<path d="M487.5 280.2l3.1-1.5-2.6-1.3-3.1 1.5zM484.9 278.9l3.1-1.5-2.6-1.3-3.1 1.6zM495.8 281.4l3.1-1.5-2.6-1.4-3.1 1.5zM493.2 280l3.1-1.5-2.6-1.4-3.1 1.6zM501.4 281.3l3.2-1.5-2.6-1.5-3.1 1.6zM498.9 279.9l3.1-1.6-2.6-1.4-3.1 1.6zM507.1 281.3l3.1-1.5-2.5-1.5-3.1 1.5zM504.6 279.8l3.1-1.5-2.6-1.5-3.1 1.5zM512.8 281.3l3.1-1.5-2.5-1.5-3.2 1.5zM510.2 279.8l3.2-1.5-2.6-1.5-3.1 1.5zM518.5 281.4l3.1-1.5-2.5-1.6-3.2 1.5zM515.9 279.8l3.2-1.5-2.6-1.5-3.1 1.5zM524.2 281.5l3.1-1.4-2.5-1.6-3.2 1.4zM521.6 279.9l3.2-1.4-2.6-1.6-3.1 1.4zM529.9 281.7l3.2-1.4-2.6-1.6-3.2 1.4zM527.3 280.1l3.2-1.4-2.6-1.6-3.1 1.4zM535.6 282l3.2-1.4-2.6-1.7-3.1 1.4zM533.1 280.3l3.1-1.4-2.6-1.6-3.1 1.4zM538.8 280.6l3.1-1.4-2.6-1.6-3.1 1.3zM544.5 280.9l3.1-1.3-2.6-1.7-3.1 1.3zM541.9 279.2l3.1-1.3-2.6-1.6-3.1 1.3zM550.2 281.3l3.1-1.3-2.6-1.7-3.1 1.3zM547.6 279.6l3.1-1.3-2.5-1.7-3.2 1.3zM553.3 280l3.1-1.3-2.5-1.6-3.2 1.2zM559 280.5l3.1-1.2-2.5-1.8-3.2 1.2zM556.4 278.7l3.2-1.2-2.6-1.6-3.1 1.2zM562.1 279.3l3.2-1.2-2.6-1.7-3.1 1.1zM567.8 279.8l3.2-1.1-2.6-1.7-3.1 1.1zM565.3 278.1l3.1-1.1-2.6-1.7-3.1 1.1zM571 278.7l3.1-1.1-2.6-1.7-3.1 1.1zM576.6 279.3l3.2-1-2.6-1.7-3.1 1zM574.1 277.6l3.1-1-2.5-1.7-3.2 1zM579.8 278.3l3.1-1-2.5-1.7-3.2 1zM577.2 276.6l3.2-1-2.6-1.6-3.1 .9zM582.9 277.3l3.1-.9-2.5-1.7-3.1 .9z" fill="#97481c" stroke="#97481c" stroke-width="0.6"/>
<path d="M480.2 273.8l3.1-1.4-2.6-1.1-3.1 1.5zM477.6 272.8l3.1-1.5-2.6-.9-3.1 1.4zM485.9 273.5l3.1-1.5-2.6-1.1-3.1 1.5zM483.3 272.4l3.1-1.5-2.6-1-3.1 1.4zM480.7 271.3l3.1-1.4-2.6-.9-3.1 1.4zM491.6 273.2l3.1-1.5-2.6-1.1-3.1 1.4zM489 272l3.1-1.4-2.6-1-3.1 1.3zM578.3 271.5l3.2-.8-2.6-1.5-3.1 .7zM584 272.3l3.1-.7-2.5-1.6-3.1 .7zM581.5 270.7l3.1-.7-2.6-1.5-3.1 .7zM587.1 271.6l3.1-.7-2.5-1.5-3.1 .6zM584.6 270l3.1-.6-2.6-1.5-3.1 .6zM590.2 270.9l3.1-.5-2.5-1.5-3.1 .5z" fill="#863419" stroke="#863419" stroke-width="0.6"/>
<path d="M459.5 267.1l3.1-1.3-2.6-.6-3.1 1.3zM465.1 266.4l3.1-1.3-2.6-.6-3 1.3zM462.6 265.8l3-1.3-2.6-.6-3 1.3zM470.8 265.7l3.1-1.2-2.6-.7-3.1 1.3zM468.2 265.1l3.1-1.3-2.6-.6-3.1 1.3zM465.6 264.5l3.1-1.3-2.6-.5-3.1 1.2zM476.5 265.2l3.1-1.3-2.6-.7-3.1 1.3zM473.9 264.5l3.1-1.3-2.6-.6-3.1 1.2zM471.3 263.8l3.1-1.2-2.6-.6-3.1 1.2zM482.2 264.6l3-1.2-2.6-.7-3 1.2zM479.6 263.9l3-1.2-2.6-.7-3 1.2zM477 263.2l3-1.2-2.6-.6-3 1.2zM485.2 263.4l3.1-1.2-2.6-.7-3.1 1.2zM580.4 263.1l3.1-.3-2.6-1.3-3.1 .3z" fill="#652718" stroke="#652718" stroke-width="0.6"/>
<path d="M441.5 263.9l3-1.2-2.5-.2-3.1 1.1zM447.1 263l3-1.1-2.5-.3-3.1 1.1zM444.5 262.7l3.1-1.1-2.6-.3-3 1.2zM442 262.5l3-1.2-2.5-.2-3.1 1.1zM452.7 262.2l3.1-1.2-2.6-.3-3.1 1.2zM450.1 261.9l3.1-1.2-2.6-.2-3 1.1zM447.6 261.6l3-1.1-2.5-.3-3.1 1.1zM445 261.3l3.1-1.1-2.6-.2-3 1.1zM455.8 261l3-1.1-2.6-.3-3 1.1zM453.2 260.7l3-1.1-2.5-.2-3.1 1.1zM450.6 260.5l3.1-1.1-2.6-.2-3 1zM448.1 260.2l3-1-2.6-.2-3 1zM445.5 260l3-1-2.5-.2-3.1 1.1zM453.7 259.4l3-1.1-2.6-.2-3 1.1zM451.1 259.2l3-1.1-2.5-.1-3.1 1zM448.5 259l3.1-1-2.6-.2-3 1zM456.7 258.3l3.1-1-2.6-.2-3.1 1zM454.1 258.1l3.1-1-2.6-.2-3 1.1zM451.6 258l3-1.1-2.5-.1-3.1 1zM449 257.8l3.1-1-2.6 0-3 .9zM457.2 257.1l3-1-2.5-.1-3.1 .9zM454.6 256.9l3.1-.9-2.6-.1-3 .9zM452.1 256.8l3-.9-2.6-.1-3 1zM457.7 256l3-1-2.6-.1-3 1zM455.1 255.9l3-1-2.5 0-3.1 .9zM460.7 255l3.1-.9-2.6-.1-3.1 .9zM458.1 254.9l3.1-.9-2.6 0-3 .9zM461.2 254l3-.9-2.5 0-3.1 .9zM464.2 253.1l3.1-.8-2.6 0-3 .8zM467.3 252.3l3-.8-2.5 0-3.1 .8zM497.9 246.1l3-.3-2.6 0-3 .3zM500.9 245.8l3.1-.3-2.6 0-3.1 .3zM506.6 245.5l3.1-.2-2.6 0-3.1 .2zM504 245.5l3.1-.2-2.7 .1-3 .1z" fill="#442a19" stroke="#442a19" stroke-width="0.6"/>
<path d="M491.1 275.8l3.1-1.4-2.6-1.2-3.1 1.4zM488.5 274.6l3.1-1.4-2.6-1.2-3.1 1.5zM496.8 275.6l3.1-1.4-2.6-1.3-3.1 1.5zM494.2 274.4l3.1-1.5-2.6-1.2-3.1 1.5zM502.5 275.5l3.1-1.5-2.6-1.3-3.1 1.5zM508.2 275.4l3.1-1.4-2.6-1.4-3.1 1.4zM513.9 275.4l3.1-1.4-2.6-1.4-3.1 1.4zM519.6 275.4l3.1-1.3-2.6-1.5-3.1 1.4zM525.3 275.5l3.1-1.3-2.6-1.5-3.1 1.4zM531 275.7l3.1-1.3-2.5-1.5-3.2 1.3zM536.7 276l3.2-1.3-2.6-1.6-3.2 1.3zM534.1 274.4l3.2-1.3-2.6-1.5-3.1 1.3zM539.9 274.7l3.1-1.3-2.6-1.5-3.1 1.2zM545.6 275l3.1-1.2-2.6-1.6-3.1 1.2zM551.3 275.4l3.1-1.2-2.6-1.6-3.1 1.2zM548.7 273.8l3.1-1.2-2.6-1.5-3.1 1.1zM554.4 274.2l3.1-1.1-2.5-1.6-3.2 1.1zM560.1 274.7l3.2-1.1-2.6-1.6-3.2 1.1zM563.3 273.6l3.1-1-2.6-1.6-3.1 1zM569 274.2l3.1-.9-2.6-1.7-3.1 1zM572.1 273.3l3.1-1-2.6-1.6-3.1 .9zM577.8 274l3.1-.9-2.6-1.6-3.1 .8zM575.2 272.3l3.1-.8-2.5-1.6-3.2 .8zM580.9 273.1l3.1-.8-2.5-1.6-3.2 .8z" fill="#903519" stroke="#903519" stroke-width="0.6"/>
<path d="M472.9 268.6l3.1-1.4-2.6-.7-3.1 1.3zM483.8 269.9l3.1-1.3-2.6-1-3.1 1.4zM481.2 269l3.1-1.4-2.6-.9-3.1 1.4zM478.6 268.1l3.1-1.4-2.6-.8-3.1 1.3zM489.5 269.6l3.1-1.4-2.6-1-3.1 1.4zM486.9 268.6l3.1-1.4-2.6-.9-3.1 1.3zM484.3 267.6l3.1-1.3-2.6-.9-3.1 1.3zM495.2 269.2l3.1-1.3-2.6-1-3.1 1.3zM492.6 268.2l3.1-1.3-2.6-1-3.1 1.3zM490 267.2l3.1-1.3-2.6-.9-3.1 1.3zM500.9 269l3.1-1.3-2.6-1.1-3.1 1.3zM498.3 267.9l3.1-1.3-2.6-1-3.1 1.3zM506.6 268.8l3.1-1.3-2.6-1.1-3.1 1.3zM504 267.7l3.1-1.3-2.6-1-3.1 1.2zM512.3 268.7l3.1-1.2-2.6-1.2-3.1 1.2zM518 268.7l3.2-1.2-2.7-1.3-3.1 1.3zM523.8 268.7l3.1-1.2-2.6-1.2-3.1 1.2zM529.5 268.8l3.1-1.1-2.6-1.3-3.1 1.1zM538.3 267.9l3.2-1.1-2.7-1.3-3.1 1zM544.1 268.2l3.1-1.1-2.6-1.4-3.1 1.1zM552.9 267.5l3.1-.9-2.6-1.4-3.1 .9zM558.6 268l3.2-.9-2.6-1.4-3.2 .9zM561.8 267.1l3.1-.9-2.6-1.4-3.1 .9zM567.5 267.7l3.1-.8-2.6-1.4-3.1 .7zM570.6 266.9l3.1-.7-2.6-1.4-3.1 .7zM576.3 267.6l3.1-.6-2.6-1.5-3.1 .7zM573.7 266.2l3.1-.7-2.6-1.4-3.1 .7zM579.4 267l3.1-.6-2.6-1.4-3.1 .5zM576.8 265.5l3.1-.5-2.6-1.4-3.1 .5zM585.1 267.9l3.1-.5-2.6-1.5-3.1 .5zM582.5 266.4l3.1-.5-2.6-1.4-3.1 .5zM588.2 267.4l3.1-.4-2.6-1.5-3.1 .4z" fill="#7d2818" stroke="#7d2818" stroke-width="0.6"/>
<path d="M470.3 267.8l3.1-1.3-2.6-.8-3.1 1.4zM467.7 267.1l3.1-1.4-2.6-.6-3.1 1.3zM476 267.2l3.1-1.3-2.6-.7-3.1 1.3zM473.4 266.5l3.1-1.3-2.6-.7-3.1 1.2zM481.7 266.7l3.1-1.3-2.6-.8-3.1 1.3zM479.1 265.9l3.1-1.3-2.6-.7-3.1 1.3zM487.4 266.3l3.1-1.3-2.6-.8-3.1 1.2zM484.8 265.4l3.1-1.2-2.7-.8-3 1.2zM490.5 265l3.1-1.2-2.7-.9-3 1.3zM574.2 264.1l3.1-.5-2.6-1.3-3.1 .5zM579.9 265l3.1-.5-2.6-1.4-3.1 .5zM577.3 263.6l3.1-.5-2.6-1.3-3.1 .5zM585.6 265.9l3.1-.4-2.6-1.4-3.1 .4zM583 264.5l3.1-.4-2.6-1.3-3.1 .3z" fill="#712718" stroke="#712718" stroke-width="0.6"/>
<path d="M502 278.3l3.1-1.5-2.6-1.3-3.1 1.4zM499.4 276.9l3.1-1.4-2.6-1.3-3.1 1.4zM507.7 278.3l3.1-1.5-2.6-1.4-3.1 1.4zM505.1 276.8l3.1-1.4-2.6-1.4-3.1 1.5zM513.4 278.3l3.1-1.5-2.6-1.4-3.1 1.4zM510.8 276.8l3.1-1.4-2.6-1.4-3.1 1.4zM519.1 278.3l3.1-1.4-2.6-1.5-3.1 1.4zM516.5 276.8l3.1-1.4-2.6-1.4-3.1 1.4zM524.8 278.5l3.1-1.4-2.6-1.6-3.1 1.4zM522.2 276.9l3.1-1.4-2.6-1.4-3.1 1.3zM530.5 278.7l3.1-1.4-2.6-1.6-3.1 1.4zM527.9 277.1l3.1-1.4-2.6-1.5-3.1 1.3zM536.2 278.9l3.1-1.3-2.6-1.6-3.1 1.3zM533.6 277.3l3.1-1.3-2.6-1.6-3.1 1.3zM539.3 277.6l3.1-1.3-2.5-1.6-3.2 1.3zM545 277.9l3.2-1.3-2.6-1.6-3.2 1.3zM542.4 276.3l3.2-1.3-2.6-1.6-3.1 1.3zM550.7 278.3l3.2-1.2-2.6-1.7-3.1 1.2zM548.2 276.6l3.1-1.2-2.6-1.6-3.1 1.2zM553.9 277.1l3.1-1.2-2.6-1.7-3.1 1.2zM559.6 277.5l3.1-1.1-2.6-1.7-3.1 1.2zM557 275.9l3.1-1.2-2.6-1.6-3.1 1.1zM562.7 276.4l3.1-1.1-2.5-1.7-3.2 1.1zM568.4 277l3.1-1.1-2.5-1.7-3.2 1.1zM565.8 275.3l3.2-1.1-2.6-1.6-3.1 1zM571.5 275.9l3.2-1-2.6-1.6-3.1 .9zM574.7 274.9l3.1-.9-2.6-1.7-3.1 1z" fill="#963c1a" stroke="#963c1a" stroke-width="0.6"/>
<path d="M486.4 270.9l3.1-1.3-2.6-1-3.1 1.3zM494.7 271.7l3.1-1.3-2.6-1.2-3.1 1.4zM492.1 270.6l3.1-1.4-2.6-1-3.1 1.4zM500.4 271.5l3.1-1.3-2.6-1.2-3.1 1.4zM497.8 270.4l3.1-1.4-2.6-1.1-3.1 1.3zM506.1 271.4l3.1-1.4-2.6-1.2-3.1 1.4zM503.5 270.2l3.1-1.4-2.6-1.1-3.1 1.3zM511.8 271.3l3.1-1.3-2.6-1.3-3.1 1.3zM509.2 270l3.1-1.3-2.6-1.2-3.1 1.3zM517.5 271.3l3.1-1.3-2.6-1.3-3.1 1.3zM514.9 270l3.1-1.3-2.6-1.2-3.1 1.2zM523.2 271.3l3.2-1.2-2.6-1.4-3.2 1.3zM520.6 270l3.2-1.3-2.6-1.2-3.2 1.2zM529 271.5l3.1-1.3-2.6-1.4-3.1 1.3zM526.4 270.1l3.1-1.3-2.6-1.3-3.1 1.2zM534.7 271.6l3.1-1.2-2.6-1.4-3.1 1.2zM532.1 270.2l3.1-1.2-2.6-1.3-3.1 1.1zM537.8 270.4l3.1-1.1-2.6-1.4-3.1 1.1zM535.2 269l3.1-1.1-2.6-1.4-3.1 1.2zM543.5 270.7l3.2-1.1-2.6-1.4-3.2 1.1zM540.9 269.3l3.2-1.1-2.6-1.4-3.2 1.1zM549.2 271.1l3.2-1.1-2.6-1.5-3.1 1.1zM546.7 269.6l3.1-1.1-2.6-1.4-3.1 1.1zM552.4 270l3.1-1-2.6-1.5-3.1 1zM549.8 268.5l3.1-1-2.6-1.4-3.1 1zM558.1 270.5l3.1-1-2.6-1.5-3.1 1zM555.5 269l3.1-1-2.6-1.4-3.1 .9zM561.2 269.5l3.1-.9-2.5-1.5-3.2 .9zM566.9 270.1l3.2-.9-2.6-1.5-3.2 .9zM564.3 268.6l3.2-.9-2.6-1.5-3.1 .9zM570.1 269.2l3.1-.8-2.6-1.5-3.1 .8zM575.8 269.9l3.1-.7-2.6-1.6-3.1 .8zM573.2 268.4l3.1-.8-2.6-1.4-3.1 .7zM578.9 269.2l3.1-.7-2.6-1.5-3.1 .6zM582 268.5l3.1-.6-2.6-1.5-3.1 .6z" fill="#852918" stroke="#852918" stroke-width="0.6"/>
<path d="M463 263.9l3.1-1.2-2.6-.5-3.1 1.2zM460.4 263.4l3.1-1.2-2.6-.4-3 1.2zM457.9 263l3-1.2-2.6-.4-3 1.1zM468.7 263.2l3.1-1.2-2.6-.5-3.1 1.2zM466.1 262.7l3.1-1.2-2.6-.5-3.1 1.2zM463.5 262.2l3.1-1.2-2.6-.4-3.1 1.2zM474.4 262.6l3-1.2-2.6-.6-3 1.2zM471.8 262l3-1.2-2.6-.5-3 1.2zM469.2 261.5l3-1.2-2.6-.4-3 1.1zM480 262l3.1-1.2-2.6-.6-3.1 1.2zM477.4 261.4l3.1-1.2-2.6-.5-3.1 1.1zM474.8 260.8l3.1-1.1-2.6-.5-3.1 1.1zM483.1 260.8l3.1-1.1-2.6-.6-3.1 1.1zM480.5 260.2l3.1-1.1-2.6-.5-3.1 1.1z" fill="#562318" stroke="#562318" stroke-width="0.6"/>
<path d="M455.3 262.5l3-1.1-2.5-.4-3.1 1.2zM460.9 261.8l3.1-1.2-2.6-.4-3.1 1.2zM458.3 261.4l3.1-1.2-2.6-.3-3 1.1zM466.6 261l3-1.1-2.6-.4-3 1.1zM464 260.6l3-1.1-2.5-.4-3.1 1.1zM461.4 260.2l3.1-1.1-2.6-.3-3.1 1.1zM472.2 260.3l3.1-1.1-2.6-.5-3.1 1.2zM469.6 259.9l3.1-1.2-2.6-.3-3.1 1.1zM467 259.5l3.1-1.1-2.6-.4-3 1.1zM477.9 259.7l3.1-1.1-2.6-.5-3.1 1.1zM475.3 259.2l3.1-1.1-2.6-.4-3.1 1zM472.7 258.7l3.1-1-2.6-.4-3.1 1.1zM470.1 258.4l3.1-1.1-2.6-.3-3.1 1zM483.6 259.1l3.1-1.1-2.6-.5-3.1 1.1zM481 258.6l3.1-1.1-2.7-.5-3 1.1zM478.4 258.1l3-1.1-2.6-.4-3 1.1z" fill="#4c2118" stroke="#4c2118" stroke-width="0.6"/>
<path d="M499.9 274.2l3.1-1.5-2.6-1.2-3.1 1.4zM497.3 272.9l3.1-1.4-2.6-1.1-3.1 1.3zM505.6 274l3.1-1.4-2.6-1.2-3.1 1.3zM503 272.7l3.1-1.3-2.6-1.2-3.1 1.3zM511.3 274l3.1-1.4-2.6-1.3-3.1 1.3zM508.7 272.6l3.1-1.3-2.6-1.3-3.1 1.4zM517 274l3.1-1.4-2.6-1.3-3.1 1.3zM514.4 272.6l3.1-1.3-2.6-1.3-3.1 1.3zM522.7 274.1l3.1-1.4-2.6-1.4-3.1 1.3zM520.1 272.6l3.1-1.3-2.6-1.3-3.1 1.3zM528.4 274.2l3.2-1.3-2.6-1.4-3.2 1.2zM525.8 272.7l3.2-1.2-2.6-1.4-3.2 1.2zM531.6 272.9l3.1-1.3-2.6-1.4-3.1 1.3zM537.3 273.1l3.1-1.2-2.6-1.5-3.1 1.2zM543 273.4l3.1-1.2-2.6-1.5-3.1 1.2zM540.4 271.9l3.1-1.2-2.6-1.4-3.1 1.1zM546.1 272.2l3.1-1.1-2.5-1.5-3.2 1.1zM551.8 272.6l3.2-1.1-2.6-1.5-3.2 1.1zM557.5 273.1l3.2-1.1-2.6-1.5-3.1 1zM555 271.5l3.1-1-2.6-1.5-3.1 1zM560.7 272l3.1-1-2.6-1.5-3.1 1zM566.4 272.6l3.1-1-2.6-1.5-3.1 .9zM563.8 271l3.1-.9-2.6-1.5-3.1 .9zM569.5 271.6l3.1-.9-2.5-1.5-3.2 .9zM572.6 270.7l3.2-.8-2.6-1.5-3.1 .8z" fill="#8c2f18" stroke="#8c2f18" stroke-width="0.6"/>
<path d="M458.8 259.9l3.1-1.1-2.6-.3-3.1 1.1zM456.2 259.6l3.1-1.1-2.6-.2-3 1.1zM464.5 259.1l3-1.1-2.6-.3-3 1.1zM461.9 258.8l3-1.1-2.6-.2-3 1zM459.3 258.5l3-1-2.5-.2-3.1 1zM467.5 258l3.1-1-2.6-.3-3.1 1zM464.9 257.7l3.1-1-2.6-.2-3.1 1zM462.3 257.5l3.1-1-2.6-.2-3 1zM459.8 257.3l3-1-2.6-.2-3 1zM468 256.7l3-1-2.5-.2-3.1 1zM465.4 256.5l3.1-1-2.6-.2-3.1 1zM462.8 256.3l3.1-1-2.6-.2-3.1 1zM460.2 256.1l3.1-1-2.6-.1-3 1zM468.5 255.5l3-1-2.6-.2-3 1zM465.9 255.3l3-1-2.6-.1-3 .9zM463.3 255.1l3-.9-2.5-.1-3.1 .9zM471.5 254.5l3.1-.9-2.6-.2-3.1 .9zM468.9 254.3l3.1-.9-2.6-.1-3.1 .9zM466.3 254.2l3.1-.9-2.6-.1-3 .9zM463.8 254.1l3-.9-2.6-.1-3 .9zM472 253.4l3-.9-2.5-.1-3.1 .9zM469.4 253.3l3.1-.9-2.6-.1-3.1 .9zM466.8 253.2l3.1-.9-2.6 0-3.1 .8zM475 252.5l3.1-.8-2.6-.1-3 .8zM472.5 252.4l3-.8-2.6-.1-3 .8zM469.9 252.3l3-.8-2.6 0-3 .8zM475.5 251.6l3.1-.8-2.6-.1-3.1 .8zM472.9 251.5l3.1-.8-2.6 0-3.1 .8zM470.3 251.5l3.1-.8-2.6 0-3 .8zM478.6 250.8l3-.8-2.6 0-3 .7zM476 250.7l3-.7-2.6 0-3 .7zM473.4 250.7l3-.7-2.5 0-3.1 .7zM481.6 250l3.1-.7-2.6 0-3.1 .7zM479 250l3.1-.7-2.6 0-3.1 .7zM476.4 250l3.1-.7-2.6 0-3 .7zM484.7 249.3l3.1-.7-2.6 0-3.1 .7zM482.1 249.3l3.1-.7-2.6 0-3.1 .7zM479.5 249.3l3.1-.7-2.6 0-3.1 .7zM487.8 248.6l3-.6-2.6 0-3 .6zM485.2 248.6l3-.6-2.6 0-3 .6zM482.6 248.6l3-.6-2.6 0-3 .6zM490.8 248l3.1-.5-2.6-.1-3.1 .6zM488.2 248l3.1-.6-2.6 0-3.1 .6zM485.6 248l3.1-.6-2.6 0-3.1 .6zM493.9 247.5l3.1-.6-2.6 0-3.1 .5zM491.3 247.4l3.1-.5-2.7 0-3 .5zM488.7 247.4l3-.5-2.6 0-3 .5zM497 246.9l3-.4-2.6 0-3 .4zM494.4 246.9l3-.4-2.6 0-3.1 .4zM491.7 246.9l3.1-.4-2.6 0-3.1 .4zM500 246.5l3.1-.4-2.6 0-3.1 .4zM497.4 246.5l3.1-.4-2.6 0-3.1 .4zM494.8 246.5l3.1-.4-2.6 0-3.1 .4zM505.7 246.2l3.1-.4-2.6 0-3.1 .3zM503.1 246.1l3.1-.3-2.7 0-3 .3zM500.5 246.1l3-.3-2.6 0-3 .3zM508.8 245.8l3.1-.2-2.7-.1-3 .3zM506.2 245.8l3-.3-2.6 0-3.1 .3zM503.5 245.8l3.1-.3-2.6 0-3.1 .3zM514.5 245.7l3-.2-2.6-.1-3 .2zM511.9 245.6l3-.2-2.6 0-3.1 .1zM509.2 245.5l3.1-.1-2.6-.1-3.1 .2z" fill="#432418" stroke="#432418" stroke-width="0.6"/>
<path d="M495.7 266.9l3.1-1.3-2.6-.9-3.1 1.2zM493.1 265.9l3.1-1.2-2.6-.9-3.1 1.2zM501.4 266.6l3.1-1.2-2.6-1-3.1 1.2zM498.8 265.6l3.1-1.2-2.6-1-3.1 1.3zM509.7 267.5l3.1-1.2-2.6-1.1-3.1 1.2zM507.1 266.4l3.1-1.2-2.6-1-3.1 1.2zM504.5 265.4l3.1-1.2-2.6-1-3.1 1.2zM515.4 267.5l3.1-1.3-2.6-1.1-3.1 1.2zM512.8 266.3l3.1-1.2-2.6-1.1-3.1 1.2zM510.2 265.2l3.1-1.2-2.6-1-3.1 1.2zM521.2 267.5l3.1-1.2-2.6-1.2-3.2 1.1zM518.5 266.2l3.2-1.1-2.7-1.2-3.1 1.2zM515.9 265.1l3.1-1.2-2.6-1-3.1 1.1zM526.9 267.5l3.1-1.1-2.6-1.3-3.1 1.2zM524.3 266.3l3.1-1.2-2.6-1.2-3.1 1.2zM521.7 265.1l3.1-1.2-2.6-1.1-3.2 1.1zM532.6 267.7l3.1-1.2-2.6-1.2-3.1 1.1zM530 266.4l3.1-1.1-2.6-1.3-3.1 1.1zM527.4 265.1l3.1-1.1-2.6-1.1-3.1 1zM535.7 266.5l3.1-1-2.6-1.3-3.1 1.1zM533.1 265.3l3.1-1.1-2.6-1.2-3.1 1zM541.5 266.8l3.1-1.1-2.6-1.3-3.2 1.1zM538.8 265.5l3.2-1.1-2.6-1.2-3.2 1zM547.2 267.1l3.1-1-2.6-1.3-3.1 .9zM544.6 265.7l3.1-.9-2.6-1.3-3.1 .9zM542 264.4l3.1-.9-2.6-1.3-3.1 1zM550.3 266.1l3.1-.9-2.6-1.4-3.1 1zM547.7 264.8l3.1-1-2.6-1.2-3.1 .9zM556 266.6l3.2-.9-2.7-1.4-3.1 .9zM553.4 265.2l3.1-.9-2.6-1.3-3.1 .8zM559.2 265.7l3.1-.9-2.6-1.3-3.2 .8zM556.5 264.3l3.2-.8-2.6-1.3-3.2 .8zM564.9 266.2l3.1-.7-2.6-1.4-3.1 .7zM562.3 264.8l3.1-.7-2.6-1.4-3.1 .8zM568 265.5l3.1-.7-2.6-1.4-3.1 .7zM565.4 264.1l3.1-.7-2.6-1.3-3.1 .6zM571.1 264.8l3.1-.7-2.6-1.3-3.1 .6z" fill="#7a2016" stroke="#7a2016" stroke-width="0.6"/>
<path d="M487.9 264.2l3-1.3-2.6-.7-3.1 1.2zM493.6 263.8l3-1.2-2.6-.9-3.1 1.2zM490.9 262.9l3.1-1.2-2.6-.7-3.1 1.2zM499.3 263.4l3.1-1.1-2.7-.9-3.1 1.2zM496.6 262.6l3.1-1.2-2.6-.8-3.1 1.1zM502.4 262.3l3.1-1.2-2.7-.8-3.1 1.1zM508.1 262l3.1-1.1-2.6-.9-3.1 1.1zM513.8 261.9l3.1-1.1-2.6-1-3.1 1.1zM511.2 260.9l3.1-1.1-2.6-.8-3.1 1zM519.5 261.8l3.1-1.1-2.6-1-3.1 1.1zM516.9 260.8l3.1-1.1-2.6-.9-3.1 1zM525.3 261.8l3.1-1.1-2.6-1-3.2 1zM522.6 260.7l3.2-1-2.7-1-3.1 1zM528.4 260.7l3.1-.9-2.6-1-3.1 .9zM534.1 260.9l3.1-1-2.6-1-3.1 .9zM539.9 261l3.1-.8-2.7-1.1-3.1 .8zM537.2 259.9l3.1-.8-2.6-1.1-3.1 .9zM545.6 261.3l3.1-.8-2.6-1.2-3.1 .9zM543 260.2l3.1-.9-2.6-1-3.2 .8zM548.7 260.5l3.1-.8-2.6-1.1-3.1 .7zM554.4 260.9l3.1-.7-2.6-1.2-3.1 .7zM560.2 261.4l3.1-.6-2.6-1.2-3.2 .6zM565.9 262.1l3.1-.6-2.6-1.3-3.1 .6zM563.3 260.8l3.1-.6-2.6-1.2-3.1 .6zM571.6 262.8l3.1-.5-2.6-1.3-3.1 .5zM569 261.5l3.1-.5-2.6-1.3-3.1 .5zM574.7 262.3l3.1-.5-2.6-1.3-3.1 .5z" fill="#6a1c16" stroke="#6a1c16" stroke-width="0.6"/>
<path d="M482.6 262.7l3.1-1.2-2.6-.7-3.1 1.2zM488.3 262.2l3.1-1.2-2.6-.7-3.1 1.2zM485.7 261.5l3.1-1.2-2.6-.6-3.1 1.1zM494 261.7l3.1-1.1-2.6-.7-3.1 1.1zM491.4 261l3.1-1.1-2.6-.7-3.1 1.1zM499.7 261.4l3.1-1.1-2.6-.8-3.1 1.1zM497.1 260.6l3.1-1.1-2.6-.7-3.1 1.1zM505.5 261.1l3.1-1.1-2.7-.8-3.1 1.1zM502.8 260.3l3.1-1.1-2.6-.8-3.1 1.1zM508.6 260l3.1-1-2.7-.9-3.1 1.1zM505.9 259.2l3.1-1.1-2.6-.7-3.1 1zM514.3 259.8l3.1-1-2.6-.9-3.1 1.1zM511.7 259l3.1-1.1-2.7-.8-3.1 1zM520 259.7l3.1-1-2.6-.9-3.1 1zM517.4 258.8l3.1-1-2.6-.8-3.1 .9zM525.8 259.7l3.1-.9-2.7-1-3.1 .9zM523.1 258.7l3.1-.9-2.6-.9-3.1 .9zM531.5 259.8l3.1-.9-2.6-1-3.1 .9zM528.9 258.8l3.1-.9-2.7-1-3.1 .9zM534.6 258.9l3.1-.9-2.6-1-3.1 .9zM540.3 259.1l3.2-.8-2.7-1.1-3.1 .8zM537.7 258l3.1-.8-2.6-1-3.1 .8zM546.1 259.3l3.1-.7-2.6-1.1-3.1 .8zM543.5 258.3l3.1-.8-2.7-1-3.1 .7zM551.8 259.7l3.1-.7-2.6-1.1-3.1 .7zM549.2 258.6l3.1-.7-2.6-1.1-3.1 .7zM557.5 260.2l3.2-.6-2.7-1.2-3.1 .6zM554.9 259l3.1-.6-2.6-1.1-3.1 .6zM560.7 259.6l3.1-.6-2.7-1.1-3.1 .5zM566.4 260.2l3.1-.5-2.6-1.2-3.1 .5zM572.1 261l3.1-.5-2.6-1.2-3.1 .4zM577.8 261.8l3.1-.3-2.6-1.3-3.1 .3z" fill="#601a16" stroke="#601a16" stroke-width="0.6"/>
<path d="M496.2 264.7l3.1-1.3-2.7-.8-3 1.2zM501.9 264.4l3.1-1.2-2.6-.9-3.1 1.1zM507.6 264.2l3.1-1.2-2.6-1-3.1 1.2zM505 263.2l3.1-1.2-2.6-.9-3.1 1.2zM513.3 264l3.1-1.1-2.6-1-3.1 1.1zM510.7 263l3.1-1.1-2.6-1-3.1 1.1zM519 263.9l3.2-1.1-2.7-1-3.1 1.1zM516.4 262.9l3.1-1.1-2.6-1-3.1 1.1zM524.8 263.9l3.1-1-2.6-1.1-3.1 1zM522.2 262.8l3.1-1-2.7-1.1-3.1 1.1zM530.5 264l3.1-1-2.6-1.2-3.1 1.1zM527.9 262.9l3.1-1.1-2.6-1.1-3.1 1.1zM536.2 264.2l3.2-1-2.7-1.2-3.1 1zM533.6 263l3.1-1-2.6-1.1-3.1 .9zM531 261.8l3.1-.9-2.6-1.1-3.1 .9zM539.4 263.2l3.1-1-2.6-1.2-3.2 1zM536.7 262l3.2-1-2.7-1.1-3.1 1zM545.1 263.5l3.1-.9-2.6-1.3-3.1 .9zM542.5 262.2l3.1-.9-2.6-1.1-3.1 .8zM550.8 263.8l3.1-.8-2.6-1.3-3.1 .9zM548.2 262.6l3.1-.9-2.6-1.2-3.1 .8zM553.9 263l3.2-.8-2.7-1.3-3.1 .8zM551.3 261.7l3.1-.8-2.6-1.2-3.1 .8zM559.7 263.5l3.1-.8-2.6-1.3-3.1 .8zM557.1 262.2l3.1-.8-2.7-1.2-3.1 .7zM562.8 262.7l3.1-.6-2.6-1.3-3.1 .6zM568.5 263.4l3.1-.6-2.6-1.3-3.1 .6z" fill="#721c16" stroke="#721c16" stroke-width="0.6"/>
<path d="M488.8 260.3l3.1-1.1-2.6-.6-3.1 1.1zM486.2 259.7l3.1-1.1-2.6-.6-3.1 1.1zM494.5 259.9l3.1-1.1-2.6-.7-3.1 1.1zM491.9 259.2l3.1-1.1-2.6-.6-3.1 1.1zM489.3 258.6l3.1-1.1-2.7-.6-3 1.1zM500.2 259.5l3.1-1.1-2.6-.7-3.1 1.1zM497.6 258.8l3.1-1.1-2.6-.7-3.1 1.1zM495 258.1l3.1-1.1-2.6-.5-3.1 1zM503.3 258.4l3.1-1-2.6-.7-3.1 1zM500.7 257.7l3.1-1-2.6-.7-3.1 1zM509 258.1l3.1-1-2.6-.7-3.1 1zM506.4 257.4l3.1-1-2.6-.7-3.1 1zM514.8 257.9l3.1-.9-2.7-.8-3.1 .9zM512.1 257.1l3.1-.9-2.6-.7-3.1 .9zM520.5 257.8l3.1-.9-2.6-.8-3.1 .9zM517.9 257l3.1-.9-2.7-.8-3.1 .9zM526.2 257.8l3.1-.9-2.6-.9-3.1 .9zM523.6 256.9l3.1-.9-2.6-.8-3.1 .9zM532 257.9l3.1-.9-2.6-.9-3.2 .8zM529.3 256.9l3.2-.8-2.7-.9-3.1 .8zM535.1 257l3.1-.8-2.6-.9-3.1 .8zM532.5 256.1l3.1-.8-2.7-.8-3.1 .7zM540.8 257.2l3.1-.7-2.6-1-3.1 .7zM538.2 256.2l3.1-.7-2.6-.9-3.1 .7zM546.6 257.5l3.1-.7-2.7-1-3.1 .7zM543.9 256.5l3.1-.7-2.6-.9-3.1 .6zM552.3 257.9l3.1-.6-2.6-1.1-3.1 .6zM549.7 256.8l3.1-.6-2.7-1-3.1 .6zM558 258.4l3.1-.5-2.6-1.1-3.1 .5zM555.4 257.3l3.1-.5-2.6-1.1-3.1 .5zM563.8 259l3.1-.5-2.7-1.1-3.1 .5zM561.1 257.9l3.1-.5-2.6-1.1-3.1 .5zM569.5 259.7l3.1-.4-2.6-1.2-3.1 .4zM566.9 258.5l3.1-.4-2.7-1.1-3.1 .4zM575.2 260.5l3.1-.3-2.6-1.2-3.1 .3zM572.6 259.3l3.1-.3-2.7-1.2-3 .3z" fill="#561816" stroke="#561816" stroke-width="0.6"/>
<path d="M475.8 257.7l3-1.1-2.6-.3-3 1zM473.2 257.3l3-1-2.6-.4-3 1.1zM470.6 257l3-1.1-2.6-.2-3 1zM481.4 257l3.1-1-2.6-.4-3.1 1zM478.8 256.6l3.1-1-2.6-.3-3.1 1zM476.2 256.3l3.1-1-2.6-.3-3.1 .9zM473.6 255.9l3.1-.9-2.6-.3-3.1 1zM471 255.7l3.1-1-2.6-.2-3 1zM484.5 256l3.1-1-2.6-.4-3.1 1zM481.9 255.6l3.1-1-2.6-.3-3.1 1zM479.3 255.3l3.1-1-2.6-.3-3.1 1zM476.7 255l3.1-1-2.6-.2-3.1 .9zM474.1 254.7l3.1-.9-2.6-.2-3.1 .9zM490.2 255.4l3.1-.9-2.6-.5-3.1 1zM487.6 255l3.1-1-2.6-.3-3.1 .9zM485 254.6l3.1-.9-2.6-.3-3.1 .9zM482.4 254.3l3.1-.9-2.7-.3-3 .9zM479.8 254l3-.9-2.6-.2-3 .9zM477.2 253.8l3-.9-2.6-.2-3 .9zM474.6 253.6l3-.9-2.6-.2-3 .9zM488.1 253.7l3-.9-2.6-.3-3 .9zM485.5 253.4l3-.9-2.6-.3-3.1 .9zM482.8 253.1l3.1-.9-2.6-.2-3.1 .9zM480.2 252.9l3.1-.9-2.6-.2-3.1 .9zM477.6 252.7l3.1-.9-2.6-.1-3.1 .8zM488.5 252.5l3.1-.9-2.6-.2-3.1 .8zM485.9 252.2l3.1-.8-2.6-.2-3.1 .8zM483.3 252l3.1-.8-2.6-.2-3.1 .8zM480.7 251.8l3.1-.8-2.6-.1-3.1 .8zM478.1 251.7l3.1-.8-2.6-.1-3.1 .8zM491.6 251.6l3.1-.8-2.6-.2-3.1 .8zM489 251.4l3.1-.8-2.6-.2-3.1 .8zM486.4 251.2l3.1-.8-2.7-.2-3 .8zM483.8 251l3-.8-2.6-.1-3 .8zM481.2 250.9l3-.8-2.6-.1-3 .8zM494.7 250.8l3.1-.7-2.7-.3-3 .8zM492.1 250.6l3-.8-2.6-.2-3 .8zM489.5 250.4l3-.8-2.6-.1-3.1 .7zM486.8 250.2l3.1-.7-2.6-.1-3.1 .7zM484.2 250.1l3.1-.7-2.6-.1-3.1 .7zM495.1 249.8l3.1-.7-2.6-.1-3.1 .6zM492.5 249.6l3.1-.6-2.6-.2-3.1 .7zM489.9 249.5l3.1-.7-2.6-.1-3.1 .7zM487.3 249.4l3.1-.7-2.6-.1-3.1 .7zM498.2 249.1l3.1-.6-2.6-.2-3.1 .7zM495.6 249l3.1-.7-2.6-.1-3.1 .6zM493 248.8l3.1-.6-2.7-.1-3 .6zM490.4 248.7l3-.6-2.6-.1-3 .6zM501.3 248.5l3.1-.6-2.7-.2-3 .6zM498.7 248.3l3-.6-2.6-.1-3 .6zM496.1 248.2l3-.6-2.6-.1-3.1 .6zM493.4 248.1l3.1-.6-2.6 0-3.1 .5zM504.4 247.9l3-.5-2.6-.2-3.1 .5zM501.7 247.7l3.1-.5-2.6-.1-3.1 .5zM499.1 247.6l3.1-.5-2.6-.1-3.1 .5zM496.5 247.5l3.1-.5-2.6-.1-3.1 .6zM507.4 247.4l3.1-.5-2.6-.1-3.1 .4zM504.8 247.2l3.1-.4-2.6-.2-3.1 .5zM502.2 247.1l3.1-.5-2.7-.1-3 .5zM499.6 247l3-.5-2.6 0-3 .4zM513.2 247.1l3-.4-2.6-.2-3.1 .4zM510.5 246.9l3.1-.4-2.6-.1-3.1 .4zM507.9 246.8l3.1-.4-2.7-.2-3 .4zM505.3 246.6l3-.4-2.6 0-3.1 .3zM502.6 246.5l3.1-.3-2.6-.1-3.1 .4zM516.2 246.7l3.1-.3-2.6-.2-3.1 .3zM513.6 246.5l3.1-.3-2.7-.2-3 .4zM511 246.4l3-.4-2.6-.1-3.1 .3zM508.3 246.2l3.1-.3-2.6-.1-3.1 .4zM522 246.6l3-.2-2.6-.3-3.1 .3zM519.3 246.4l3.1-.3-2.7-.2-3 .3zM516.7 246.2l3-.3-2.6-.1-3.1 .2zM514 246l3.1-.2-2.6-.1-3.1 .2zM511.4 245.9l3.1-.2-2.6-.1-3.1 .2zM525 246.4l3.1-.2-2.6-.2-3.1 .1zM522.4 246.1l3.1-.1-2.7-.2-3.1 .1zM519.7 245.9l3.1-.1-2.6-.2-3.1 .2zM517.1 245.8l3.1-.2-2.7-.1-3 .2z" fill="#421d17" stroke="#421d17" stroke-width="0.6"/>
<path d="M486.7 258l3-1.1-2.6-.5-3 1.1zM484.1 257.5l3-1.1-2.6-.4-3.1 1zM492.4 257.5l3.1-1-2.7-.6-3.1 1zM489.7 256.9l3.1-1-2.6-.5-3.1 1zM487.1 256.4l3.1-1-2.6-.4-3.1 1zM498.1 257l3.1-1-2.7-.5-3 1zM495.5 256.5l3-1-2.6-.6-3.1 1zM492.8 255.9l3.1-1-2.6-.4-3.1 .9zM503.8 256.7l3.1-1-2.6-.6-3.1 .9zM501.2 256l3.1-.9-2.7-.6-3.1 1zM498.5 255.5l3.1-1-2.6-.5-3.1 .9zM509.5 256.4l3.1-.9-2.6-.7-3.1 .9zM506.9 255.7l3.1-.9-2.6-.6-3.1 .9zM504.3 255.1l3.1-.9-2.7-.6-3.1 .9zM515.2 256.2l3.1-.9-2.6-.7-3.1 .9zM512.6 255.5l3.1-.9-2.6-.7-3.1 .9zM510 254.8l3.1-.9-2.7-.6-3 .9zM521 256.1l3.1-.9-2.7-.8-3.1 .9zM518.3 255.3l3.1-.9-2.6-.7-3.1 .9zM515.7 254.6l3.1-.9-2.6-.6-3.1 .8zM526.7 256l3.1-.8-2.6-.8-3.1 .8zM524.1 255.2l3.1-.8-2.7-.8-3.1 .8zM521.4 254.4l3.1-.8-2.6-.6-3.1 .7zM529.8 255.2l3.1-.7-2.6-.8-3.1 .7zM527.2 254.4l3.1-.7-2.7-.8-3.1 .7zM535.6 255.3l3.1-.7-2.7-.8-3.1 .7zM532.9 254.5l3.1-.7-2.6-.8-3.1 .7zM541.3 255.5l3.1-.6-2.6-.9-3.1 .6zM538.7 254.6l3.1-.6-2.7-.9-3.1 .7zM547 255.8l3.1-.6-2.6-.9-3.1 .6zM544.4 254.9l3.1-.6-2.6-.9-3.1 .6zM541.8 254l3.1-.6-2.7-.8-3.1 .5zM552.8 256.2l3.1-.5-2.7-1-3.1 .5zM550.1 255.2l3.1-.5-2.6-.9-3.1 .5zM547.5 254.3l3.1-.5-2.6-.9-3.1 .5zM558.5 256.8l3.1-.5-2.6-1-3.1 .4zM555.9 255.7l3.1-.4-2.7-1-3.1 .4zM553.2 254.7l3.1-.4-2.6-.9-3.1 .4zM564.2 257.4l3.1-.4-2.6-1.1-3.1 .4zM561.6 256.3l3.1-.4-2.6-1-3.1 .4zM559 255.3l3.1-.4-2.7-.9-3.1 .3zM570 258.1l3-.3-2.6-1.1-3.1 .3zM567.3 257l3.1-.3-2.6-1-3.1 .2zM564.7 255.9l3.1-.2-2.6-1-3.1 .2z" fill="#4a1716" stroke="#4a1716" stroke-width="0.6"/>
<path d="M495.9 254.9l3.1-.9-2.6-.5-3.1 1zM493.3 254.5l3.1-1-2.6-.4-3.1 .9zM490.7 254l3.1-.9-2.7-.3-3 .9zM501.6 254.5l3.1-.9-2.6-.5-3.1 .9zM499 254l3.1-.9-2.6-.4-3.1 .8zM496.4 253.5l3.1-.8-2.7-.4-3 .8zM493.8 253.1l3-.8-2.6-.4-3.1 .9zM491.1 252.8l3.1-.9-2.6-.3-3.1 .9zM507.4 254.2l3-.9-2.6-.5-3.1 .8zM504.7 253.6l3.1-.8-2.6-.5-3.1 .8zM502.1 253.1l3.1-.8-2.6-.5-3.1 .9zM499.5 252.7l3.1-.9-2.7-.4-3.1 .9zM496.8 252.3l3.1-.9-2.6-.3-3.1 .8zM494.2 251.9l3.1-.8-2.6-.3-3.1 .8zM513.1 253.9l3.1-.8-2.7-.6-3.1 .8zM510.4 253.3l3.1-.8-2.6-.5-3.1 .8zM507.8 252.8l3.1-.8-2.6-.5-3.1 .8zM505.2 252.3l3.1-.8-2.7-.4-3 .7zM502.6 251.8l3-.7-2.6-.4-3.1 .7zM499.9 251.4l3.1-.7-2.6-.4-3.1 .8zM497.3 251.1l3.1-.8-2.6-.2-3.1 .7zM518.8 253.7l3.1-.7-2.6-.7-3.1 .8zM516.2 253.1l3.1-.8-2.7-.6-3.1 .8zM513.5 252.5l3.1-.8-2.6-.5-3.1 .8zM510.9 252l3.1-.8-2.6-.5-3.1 .8zM508.3 251.5l3.1-.8-2.7-.4-3.1 .8zM505.6 251.1l3.1-.8-2.6-.3-3.1 .7zM503 250.7l3.1-.7-2.6-.4-3.1 .7zM500.4 250.3l3.1-.7-2.7-.2-3 .7zM497.8 250.1l3-.7-2.6-.3-3.1 .7zM524.5 253.6l3.1-.7-2.6-.7-3.1 .8zM521.9 253l3.1-.8-2.6-.6-3.1 .7zM519.3 252.3l3.1-.7-2.7-.6-3.1 .7zM516.6 251.7l3.1-.7-2.6-.5-3.1 .7zM514 251.2l3.1-.7-2.6-.4-3.1 .6zM511.4 250.7l3.1-.6-2.7-.5-3.1 .7zM508.7 250.3l3.1-.7-2.6-.3-3.1 .7zM506.1 250l3.1-.7-2.7-.3-3 .6zM503.5 249.6l3-.6-2.6-.3-3.1 .7zM500.8 249.4l3.1-.7-2.6-.2-3.1 .6zM530.3 253.7l3.1-.7-2.7-.8-3.1 .7zM527.6 252.9l3.1-.7-2.6-.6-3.1 .6zM525 252.2l3.1-.6-2.6-.6-3.1 .6zM522.4 251.6l3.1-.6-2.7-.6-3.1 .6zM519.7 251l3.1-.6-2.6-.5-3.1 .6zM517.1 250.5l3.1-.6-2.7-.5-3 .7zM514.5 250.1l3-.7-2.6-.4-3.1 .6zM511.8 249.6l3.1-.6-2.6-.3-3.1 .6zM509.2 249.3l3.1-.6-2.7-.3-3.1 .6zM506.5 249l3.1-.6-2.6-.3-3.1 .6zM503.9 248.7l3.1-.6-2.6-.2-3.1 .6zM536 253.8l3.1-.7-2.6-.7-3.1 .6zM533.4 253l3.1-.6-2.7-.8-3.1 .6zM530.7 252.2l3.1-.6-2.6-.6-3.1 .6zM528.1 251.6l3.1-.6-2.6-.6-3.1 .6zM525.5 251l3.1-.6-2.7-.6-3.1 .6zM522.8 250.4l3.1-.6-2.6-.5-3.1 .6zM520.2 249.9l3.1-.6-2.7-.4-3.1 .5zM517.5 249.4l3.1-.5-2.6-.4-3.1 .5zM514.9 249l3.1-.5-2.7-.4-3 .6zM512.3 248.7l3-.6-2.6-.3-3.1 .6zM509.6 248.4l3.1-.6-2.6-.2-3.1 .5zM507 248.1l3.1-.5-2.7-.2-3 .5zM539.1 253.1l3.1-.5-2.6-.8-3.1 .6zM536.5 252.4l3.1-.6-2.7-.7-3.1 .5zM533.8 251.6l3.1-.5-2.6-.6-3.1 .5zM531.2 251l3.1-.5-2.6-.6-3.1 .5zM528.6 250.4l3.1-.5-2.7-.6-3.1 .5zM525.9 249.8l3.1-.5-2.6-.5-3.1 .5zM523.3 249.3l3.1-.5-2.7-.4-3.1 .5zM520.6 248.9l3.1-.5-2.6-.4-3.1 .5zM518 248.5l3.1-.5-2.7-.3-3.1 .4zM515.3 248.1l3.1-.4-2.6-.3-3.1 .4zM512.7 247.8l3.1-.4-2.6-.3-3.1 .5zM510.1 247.6l3.1-.5-2.7-.2-3.1 .5zM544.9 253.4l3.1-.5-2.7-.8-3.1 .5zM542.2 252.6l3.1-.5-2.6-.7-3.1 .4zM539.6 251.8l3.1-.4-2.7-.7-3.1 .4zM536.9 251.1l3.1-.4-2.6-.7-3.1 .5zM534.3 250.5l3.1-.5-2.7-.6-3 .5zM531.7 249.9l3-.5-2.6-.5-3.1 .4zM529 249.3l3.1-.4-2.7-.5-3 .4zM526.4 248.8l3-.4-2.6-.4-3.1 .4zM523.7 248.4l3.1-.4-2.6-.4-3.1 .4zM521.1 248l3.1-.4-2.7-.4-3.1 .5zM518.4 247.7l3.1-.5-2.6-.2-3.1 .4zM515.8 247.4l3.1-.4-2.7-.3-3 .4zM550.6 253.8l3.1-.4-2.6-.9-3.1 .4zM548 252.9l3.1-.4-2.7-.8-3.1 .4zM545.3 252.1l3.1-.4-2.6-.7-3.1 .4zM542.7 251.4l3.1-.4-2.7-.7-3.1 .4zM540 250.7l3.1-.4-2.6-.7-3.1 .4zM537.4 250l3.1-.4-2.7-.5-3.1 .3zM534.7 249.4l3.1-.3-2.6-.6-3.1 .4zM532.1 248.9l3.1-.4-2.7-.5-3.1 .4zM529.4 248.4l3.1-.4-2.6-.4-3.1 .4zM526.8 248l3.1-.4-2.7-.4-3 .4zM524.2 247.6l3-.4-2.6-.3-3.1 .3zM521.5 247.2l3.1-.3-2.6-.3-3.1 .4zM518.9 247l3.1-.4-2.7-.2-3.1 .3zM556.3 254.3l3.1-.3-2.6-.9-3.1 .3zM553.7 253.4l3.1-.3-2.7-.9-3 .3zM551.1 252.5l3-.3-2.6-.8-3.1 .3zM548.4 251.7l3.1-.3-2.6-.7-3.1 .3zM545.8 251l3.1-.3-2.7-.7-3.1 .3zM543.1 250.3l3.1-.3-2.6-.7-3.1 .3zM540.5 249.6l3.1-.3-2.7-.5-3.1 .3zM537.8 249.1l3.1-.3-2.6-.6-3.1 .3zM535.2 248.5l3.1-.3-2.7-.4-3.1 .2zM532.5 248l3.1-.2-2.6-.4-3.1 .2zM529.9 247.6l3.1-.2-2.7-.4-3.1 .2zM527.2 247.2l3.1-.2-2.6-.3-3.1 .2zM524.6 246.9l3.1-.2-2.7-.3-3 .2zM562.1 254.9l3.1-.2-2.7-1-3.1 .3zM559.4 254l3.1-.3-2.6-.9-3.1 .3zM556.8 253.1l3.1-.3-2.7-.8-3.1 .2zM554.1 252.2l3.1-.2-2.6-.8-3.1 .2zM551.5 251.4l3.1-.2-2.7-.7-3 .2zM548.9 250.7l3-.2-2.6-.7-3.1 .2zM546.2 250l3.1-.2-2.7-.7-3 .2zM543.6 249.3l3-.2-2.6-.5-3.1 .2zM540.9 248.8l3.1-.2-2.7-.5-3 .1zM538.3 248.2l3-.1-2.6-.5-3.1 .2zM535.6 247.8l3.1-.2-2.7-.4-3 .2zM533 247.4l3-.2-2.6-.4-3.1 .2zM530.3 247l3.1-.2-2.7-.3-3 .2zM527.7 246.7l3-.2-2.6-.3-3.1 .2z" fill="#401616" stroke="#401616" stroke-width="0.6"/>
<ellipse cx="371.5" cy="291.6" rx="2.3" ry="1.85" fill="#ff1010" stroke="#a01010" stroke-width="0.5"/>
<ellipse cx="480.1" cy="364.3" rx="2.3" ry="1.85" fill="#ff1010" stroke="#a01010" stroke-width="0.5"/>
<ellipse cx="618.5" cy="286.6" rx="2.6" ry="1.8" fill="#f4c8d0" stroke="#803040" stroke-width="0.7"/>
<ellipse cx="493.5" cy="264" rx="2.3" ry="1.85" fill="#ff1010" stroke="#a01010" stroke-width="0.5"/>
<ellipse cx="493.5" cy="267.3" rx="2.3" ry="1.85" fill="#ff1010" stroke="#a01010" stroke-width="0.5"/>
<ellipse cx="493.5" cy="271.7" rx="2.3" ry="1.85" fill="#ff1010" stroke="#a01010" stroke-width="0.5"/>
<text x="202.6" y="118.5" font-size="10.5" text-anchor="end" dominant-baseline="central" fill="#222" stroke="#222" stroke-width="0.25">1</text>
<text x="201.4" y="99.6" font-size="10.5" text-anchor="end" dominant-baseline="central" fill="#222" stroke="#222" stroke-width="0.25">2</text>
<text x="200.3" y="80.7" font-size="10.5" text-anchor="end" dominant-baseline="central" fill="#222" stroke="#222" stroke-width="0.25">3</text>
<text x="199.1" y="61.9" font-size="10.5" text-anchor="end" dominant-baseline="central" fill="#222" stroke="#222" stroke-width="0.25">4</text>
<text x="197.9" y="43.0" font-size="10.5" text-anchor="end" dominant-baseline="central" fill="#222" stroke="#222" stroke-width="0.25">5</text>
<text x="196.7" y="24.1" font-size="10.5" text-anchor="end" dominant-baseline="central" fill="#222" stroke="#222" stroke-width="0.25">6</text>
<text x="193.4" y="152.5" font-size="10.5" text-anchor="middle" dominant-baseline="central" fill="#222" stroke="#222" stroke-width="0.25" transform="rotate(-7.0 193.4 152.5)">100.00</text>
<text x="220.2" y="161.2" font-size="10.5" text-anchor="middle" dominant-baseline="central" fill="#222" stroke="#222" stroke-width="0.25" transform="rotate(-7.0 220.2 161.2)">92.00</text>
<text x="245.0" y="170.6" font-size="10.5" text-anchor="middle" dominant-baseline="central" fill="#222" stroke="#222" stroke-width="0.25" transform="rotate(-7.0 245.0 170.6)">84.00</text>
<text x="268.6" y="179.8" font-size="10.5" text-anchor="middle" dominant-baseline="central" fill="#222" stroke="#222" stroke-width="0.25" transform="rotate(-7.0 268.6 179.8)">76.00</text>
<text x="293.3" y="189.0" font-size="10.5" text-anchor="middle" dominant-baseline="central" fill="#222" stroke="#222" stroke-width="0.25" transform="rotate(-7.0 293.3 189.0)">68.00</text>
<text x="316.4" y="197.6" font-size="10.5" text-anchor="middle" dominant-baseline="central" fill="#222" stroke="#222" stroke-width="0.25" transform="rotate(-7.0 316.4 197.6)">60.00</text>
<text x="342.3" y="198.4" font-size="10.5" text-anchor="middle" dominant-baseline="central" fill="#222" stroke="#222" stroke-width="0.25" transform="rotate(27.0 342.3 198.4)">10.00</text>
<text x="366.0" y="189.0" font-size="10.5" text-anchor="middle" dominant-baseline="central" fill="#222" stroke="#222" stroke-width="0.25" transform="rotate(27.0 366.0 189.0)">11.00</text>
<text x="397.5" y="180.0" font-size="10.5" text-anchor="middle" dominant-baseline="central" fill="#222" stroke="#222" stroke-width="0.25" transform="rotate(27.0 397.5 180.0)">12.00</text>
<text x="427.0" y="168.0" font-size="10.5" text-anchor="middle" dominant-baseline="central" fill="#222" stroke="#222" stroke-width="0.25" transform="rotate(27.0 427.0 168.0)">13.00</text>
<text x="458.8" y="157.2" font-size="10.5" text-anchor="middle" dominant-baseline="central" fill="#222" stroke="#222" stroke-width="0.25" transform="rotate(27.0 458.8 157.2)">14.00</text>
<text x="245.3" y="190.2" font-size="13.5" text-anchor="middle" dominant-baseline="central" font-weight="bold" fill="#000" transform="rotate(22.0 245.3 190.2)">Treatment&#160; power (W)</text>
<text x="405.3" y="194.6" font-size="13.5" text-anchor="middle" dominant-baseline="central" font-weight="bold" fill="#000" transform="rotate(-23.0 405.3 194.6)">Treatment&#160; time (min)</text>
<text x="177.5" y="81.0" font-size="13.6" text-anchor="middle" dominant-baseline="central" font-weight="bold" fill="#000" transform="rotate(-90.0 177.5 81.0)">Log reduction</text>
<text x="324.6" y="212.3" font-size="16" text-anchor="middle" dominant-baseline="central" fill="#f01c1c" stroke="#f01c1c" stroke-width="0.15">(a)</text>
<text x="31.4" y="332.5" font-size="10.5" text-anchor="end" dominant-baseline="central" fill="#222" stroke="#222" stroke-width="0.25">1</text>
<text x="30.1" y="314.0" font-size="10.5" text-anchor="end" dominant-baseline="central" fill="#222" stroke="#222" stroke-width="0.25">2</text>
<text x="28.8" y="295.5" font-size="10.5" text-anchor="end" dominant-baseline="central" fill="#222" stroke="#222" stroke-width="0.25">3</text>
<text x="27.5" y="277.0" font-size="10.5" text-anchor="end" dominant-baseline="central" fill="#222" stroke="#222" stroke-width="0.25">4</text>
<text x="26.2" y="258.5" font-size="10.5" text-anchor="end" dominant-baseline="central" fill="#222" stroke="#222" stroke-width="0.25">5</text>
<text x="25.0" y="240.0" font-size="10.5" text-anchor="end" dominant-baseline="central" fill="#222" stroke="#222" stroke-width="0.25">6</text>
<text x="27.4" y="365.7" font-size="10.5" text-anchor="middle" dominant-baseline="central" fill="#222" stroke="#222" stroke-width="0.25" transform="rotate(-7.0 27.4 365.7)">1.50</text>
<text x="49.9" y="374.0" font-size="10.5" text-anchor="middle" dominant-baseline="central" fill="#222" stroke="#222" stroke-width="0.25" transform="rotate(-7.0 49.9 374.0)">1.40</text>
<text x="69.1" y="381.7" font-size="10.5" text-anchor="middle" dominant-baseline="central" fill="#222" stroke="#222" stroke-width="0.25" transform="rotate(-7.0 69.1 381.7)">1.30</text>
<text x="88.4" y="388.0" font-size="10.5" text-anchor="middle" dominant-baseline="central" fill="#222" stroke="#222" stroke-width="0.25" transform="rotate(-7.0 88.4 388.0)">1.20</text>
<text x="107.7" y="394.0" font-size="10.5" text-anchor="middle" dominant-baseline="central" fill="#222" stroke="#222" stroke-width="0.25" transform="rotate(-7.0 107.7 394.0)">1.10</text>
<text x="130.4" y="403.3" font-size="10.5" text-anchor="middle" dominant-baseline="central" fill="#222" stroke="#222" stroke-width="0.25" transform="rotate(-7.0 130.4 403.3)">1.00</text>
<text x="148.4" y="409.4" font-size="10.5" text-anchor="middle" dominant-baseline="central" fill="#222" stroke="#222" stroke-width="0.25" transform="rotate(-7.0 148.4 409.4)">0.90</text>
<text x="172.0" y="412.3" font-size="10.5" text-anchor="middle" dominant-baseline="central" fill="#222" stroke="#222" stroke-width="0.25" transform="rotate(25.0 172.0 412.3)">10.00</text>
<text x="198.6" y="403.2" font-size="10.5" text-anchor="middle" dominant-baseline="central" fill="#222" stroke="#222" stroke-width="0.25" transform="rotate(25.0 198.6 403.2)">11.00</text>
<text x="227.9" y="392.4" font-size="10.5" text-anchor="middle" dominant-baseline="central" fill="#222" stroke="#222" stroke-width="0.25" transform="rotate(25.0 227.9 392.4)">12.00</text>
<text x="257.8" y="381.9" font-size="10.5" text-anchor="middle" dominant-baseline="central" fill="#222" stroke="#222" stroke-width="0.25" transform="rotate(25.0 257.8 381.9)">13.00</text>
<text x="289.1" y="371.4" font-size="10.5" text-anchor="middle" dominant-baseline="central" fill="#222" stroke="#222" stroke-width="0.25" transform="rotate(25.0 289.1 371.4)">14.00</text>
<text x="83.4" y="404.2" font-size="13.8" text-anchor="middle" dominant-baseline="central" font-weight="bold" fill="#000" transform="rotate(19.0 83.4 404.2)">Flow rate (L/min)</text>
<text x="242.3" y="409.4" font-size="13.5" text-anchor="middle" dominant-baseline="central" font-weight="bold" fill="#000" transform="rotate(-21.5 242.3 409.4)">Treatment&#160; time (min)</text>
<text x="9.8" y="284.2" font-size="16.2" text-anchor="middle" dominant-baseline="central" font-weight="bold" fill="#000" transform="rotate(-90.0 9.8 284.2)" textLength="95" lengthAdjust="spacingAndGlyphs">Log reduction</text>
<text x="158.7" y="428.0" font-size="16" text-anchor="middle" dominant-baseline="central" fill="#f01c1c" stroke="#f01c1c" stroke-width="0.15">(b)</text>
<text x="371.3" y="332.5" font-size="10.5" text-anchor="end" dominant-baseline="central" fill="#222" stroke="#222" stroke-width="0.25">1</text>
<text x="369.8" y="315.5" font-size="10.5" text-anchor="end" dominant-baseline="central" fill="#222" stroke="#222" stroke-width="0.25">2</text>
<text x="368.3" y="298.4" font-size="10.5" text-anchor="end" dominant-baseline="central" fill="#222" stroke="#222" stroke-width="0.25">3</text>
<text x="366.8" y="281.4" font-size="10.5" text-anchor="end" dominant-baseline="central" fill="#222" stroke="#222" stroke-width="0.25">4</text>
<text x="365.3" y="264.3" font-size="10.5" text-anchor="end" dominant-baseline="central" fill="#222" stroke="#222" stroke-width="0.25">5</text>
<text x="363.8" y="247.2" font-size="10.5" text-anchor="end" dominant-baseline="central" fill="#222" stroke="#222" stroke-width="0.25">6</text>
<text x="366.8" y="362.7" font-size="10.5" text-anchor="middle" dominant-baseline="central" fill="#222" stroke="#222" stroke-width="0.25" transform="rotate(-7.0 366.8 362.7)">1.50</text>
<text x="382.7" y="372.0" font-size="10.5" text-anchor="middle" dominant-baseline="central" fill="#222" stroke="#222" stroke-width="0.25" transform="rotate(-7.0 382.7 372.0)">1.40</text>
<text x="400.9" y="381.9" font-size="10.5" text-anchor="middle" dominant-baseline="central" fill="#222" stroke="#222" stroke-width="0.25" transform="rotate(-7.0 400.9 381.9)">1.30</text>
<text x="415.7" y="389.0" font-size="10.5" text-anchor="middle" dominant-baseline="central" fill="#222" stroke="#222" stroke-width="0.25" transform="rotate(-7.0 415.7 389.0)">1.20</text>
<text x="435.1" y="398.4" font-size="10.5" text-anchor="middle" dominant-baseline="central" fill="#222" stroke="#222" stroke-width="0.25" transform="rotate(-7.0 435.1 398.4)">1.10</text>
<text x="453.5" y="408.0" font-size="10.5" text-anchor="middle" dominant-baseline="central" fill="#222" stroke="#222" stroke-width="0.25" transform="rotate(-7.0 453.5 408.0)">1.00</text>
<text x="468.4" y="415.7" font-size="10.5" text-anchor="middle" dominant-baseline="central" fill="#222" stroke="#222" stroke-width="0.25" transform="rotate(-7.0 468.4 415.7)">0.90</text>
<text x="493.3" y="420.7" font-size="10.5" text-anchor="middle" dominant-baseline="central" fill="#222" stroke="#222" stroke-width="0.25" transform="rotate(25.0 493.3 420.7)">60.00</text>
<text x="519.2" y="411.7" font-size="10.5" text-anchor="middle" dominant-baseline="central" fill="#222" stroke="#222" stroke-width="0.25" transform="rotate(25.0 519.2 411.7)">68.00</text>
<text x="544.3" y="402.9" font-size="10.5" text-anchor="middle" dominant-baseline="central" fill="#222" stroke="#222" stroke-width="0.25" transform="rotate(25.0 544.3 402.9)">76.00</text>
<text x="568.7" y="394.9" font-size="10.5" text-anchor="middle" dominant-baseline="central" fill="#222" stroke="#222" stroke-width="0.25" transform="rotate(25.0 568.7 394.9)">84.00</text>
<text x="593.9" y="386.9" font-size="10.5" text-anchor="middle" dominant-baseline="central" fill="#222" stroke="#222" stroke-width="0.25" transform="rotate(25.0 593.9 386.9)">92.00</text>
<text x="622.9" y="378.5" font-size="10.5" text-anchor="middle" dominant-baseline="central" fill="#222" stroke="#222" stroke-width="0.25" transform="rotate(25.0 622.9 378.5)">100.00</text>
<text x="402.7" y="399.1" font-size="13.8" text-anchor="middle" dominant-baseline="central" font-weight="bold" fill="#000" transform="rotate(27.5 402.7 399.1)">Flow rate (L/min)</text>
<text x="570.5" y="411.0" font-size="13.5" text-anchor="middle" dominant-baseline="central" font-weight="bold" fill="#000" transform="rotate(-20.3 570.5 411.0)">Treatment&#160; power (W)</text>
<text x="345.6" y="299.7" font-size="16.2" text-anchor="middle" dominant-baseline="central" font-weight="bold" fill="#000" transform="rotate(-90.0 345.6 299.7)" textLength="95" lengthAdjust="spacingAndGlyphs">Log reduction</text>
<text x="480.5" y="431.1" font-size="16" text-anchor="middle" dominant-baseline="central" fill="#f01c1c" stroke="#f01c1c" stroke-width="0.15">(c)</text>
</svg></body></html>
